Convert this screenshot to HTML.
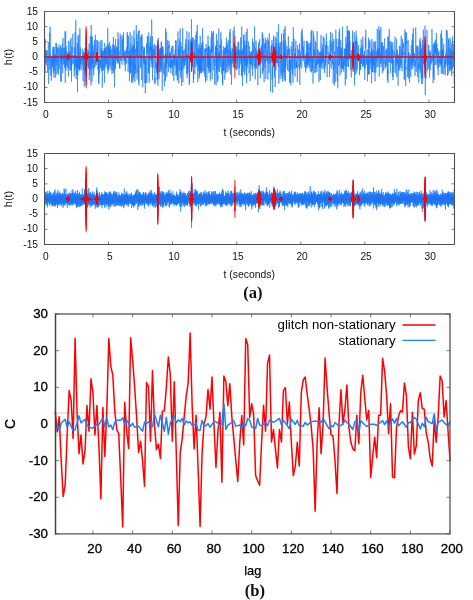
<!DOCTYPE html>
<html><head><meta charset="utf-8"><title>Figure</title>
<style>html,body{margin:0;padding:0;background:#fff;width:473px;height:600px;overflow:hidden}svg{display:block}</style>
</head><body>
<svg width="473" height="600" viewBox="0 0 473 600"><rect width="473" height="600" fill="#fff"/><polyline points="44.50,52.93 44.67,47.33 44.84,53.12 45.01,72.31 45.18,38.94 45.35,51.77 45.53,63.29 45.70,50.20 45.87,52.74 46.04,53.57 46.21,56.67 46.38,50.63 46.55,65.57 46.72,60.22 46.89,62.60 47.06,50.05 47.23,56.22 47.41,60.39 47.58,72.38 47.75,59.97 47.92,56.91 48.09,60.18 48.26,42.09 48.43,45.41 48.60,84.03 48.77,78.70 48.94,59.01 49.11,61.84 49.29,54.55 49.46,54.51 49.63,32.80 49.80,69.70 49.97,64.32 50.14,26.61 50.31,49.64 50.48,49.46 50.65,66.93 50.82,75.70 50.99,55.10 51.17,55.77 51.34,80.61 51.51,64.72 51.68,57.81 51.85,67.66 52.02,58.11 52.19,55.92 52.36,56.32 52.53,66.67 52.70,50.33 52.87,47.00 53.05,50.89 53.22,72.57 53.39,48.82 53.56,62.60 53.73,47.19 53.90,77.32 54.07,46.81 54.24,57.38 54.41,70.88 54.58,60.49 54.75,56.40 54.93,53.98 55.10,67.88 55.27,77.83 55.44,54.79 55.61,62.15 55.78,54.40 55.95,42.77 56.12,75.16 56.29,54.20 56.46,43.54 56.63,62.55 56.81,65.89 56.98,48.76 57.15,52.28 57.32,47.20 57.49,60.77 57.66,73.18 57.83,58.20 58.00,61.86 58.17,48.56 58.34,53.42 58.51,74.73 58.69,69.99 58.86,47.40 59.03,44.46 59.20,68.80 59.37,57.02 59.54,52.17 59.71,51.93 59.88,47.52 60.05,54.23 60.22,58.02 60.39,59.79 60.57,45.61 60.74,81.26 60.91,59.54 61.08,56.64 61.25,81.98 61.42,53.42 61.59,63.99 61.76,47.74 61.93,59.29 62.10,49.83 62.27,43.95 62.44,52.90 62.62,66.37 62.79,73.19 62.96,38.27 63.13,59.02 63.30,64.34 63.47,55.46 63.64,59.04 63.81,47.93 63.98,56.64 64.15,56.75 64.32,64.59 64.50,48.53 64.67,67.97 64.84,49.92 65.01,31.38 65.18,82.65 65.35,82.15 65.52,50.36 65.69,31.44 65.86,67.83 66.03,70.58 66.20,46.10 66.38,66.17 66.55,62.56 66.72,60.79 66.89,51.16 67.06,61.57 67.23,53.56 67.40,59.65 67.57,65.62 67.74,60.90 67.91,68.34 68.08,55.21 68.26,71.71 68.43,76.54 68.60,40.89 68.77,58.46 68.94,56.93 69.11,51.66 69.28,61.60 69.45,59.67 69.62,52.12 69.79,53.71 69.96,70.46 70.14,40.52 70.31,68.71 70.48,69.35 70.65,67.56 70.82,61.59 70.99,37.80 71.16,70.91 71.33,55.10 71.50,81.71 71.67,57.02 71.84,46.36 72.02,61.75 72.19,64.42 72.36,54.28 72.53,48.77 72.70,49.22 72.87,33.90 73.04,54.55 73.21,63.91 73.38,58.47 73.55,58.43 73.72,55.74 73.90,57.35 74.07,54.99 74.24,76.31 74.41,47.43 74.58,63.62 74.75,70.49 74.92,49.68 75.09,32.17 75.26,47.41 75.43,53.87 75.60,67.63 75.78,20.20 75.95,46.99 76.12,78.98 76.29,65.83 76.46,56.02 76.63,74.56 76.80,55.10 76.97,65.79 77.14,43.22 77.31,46.20 77.48,92.21 77.66,56.53 77.83,75.06 78.00,35.97 78.17,53.82 78.34,46.62 78.51,68.86 78.68,36.63 78.85,34.50 79.02,68.86 79.19,52.85 79.36,69.75 79.54,57.45 79.71,71.10 79.88,28.29 80.05,67.80 80.22,62.61 80.39,47.50 80.56,64.22 80.73,59.67 80.90,63.28 81.07,58.49 81.24,70.05 81.42,65.31 81.59,59.31 81.76,60.71 81.93,55.94 82.10,60.24 82.27,48.63 82.44,60.60 82.61,58.48 82.78,64.52 82.95,62.71 83.12,81.14 83.30,51.16 83.47,69.59 83.64,65.74 83.81,52.40 83.98,53.04 84.15,61.29 84.32,86.46 84.49,53.37 84.66,52.68 84.83,74.00 85.00,47.92 85.18,64.17 85.35,71.66 85.52,53.59 85.69,60.98 85.86,53.40 86.03,68.49 86.20,57.57 86.37,56.52 86.54,77.40 86.71,48.91 86.88,60.56 87.06,51.98 87.23,59.27 87.40,59.10 87.57,53.49 87.74,65.90 87.91,49.39 88.08,66.12 88.25,68.65 88.42,55.80 88.59,51.17 88.76,60.26 88.94,67.88 89.11,43.45 89.28,80.06 89.45,70.60 89.62,56.55 89.79,75.15 89.96,56.67 90.13,58.25 90.30,36.16 90.47,69.57 90.64,65.63 90.82,52.38 90.99,85.31 91.16,24.99 91.33,66.90 91.50,67.40 91.67,36.19 91.84,57.56 92.01,81.56 92.18,42.12 92.35,36.81 92.52,63.21 92.70,60.86 92.87,45.73 93.04,69.32 93.21,51.09 93.38,54.33 93.55,65.99 93.72,75.43 93.89,59.97 94.06,68.45 94.23,43.98 94.40,55.14 94.58,39.91 94.75,55.28 94.92,53.66 95.09,66.89 95.26,42.75 95.43,34.73 95.60,60.84 95.77,64.31 95.94,58.93 96.11,62.90 96.28,65.20 96.45,56.35 96.63,58.98 96.80,40.03 96.97,59.21 97.14,50.54 97.31,47.18 97.48,60.22 97.65,40.41 97.82,69.36 97.99,66.22 98.16,61.16 98.33,59.20 98.51,82.28 98.68,57.39 98.85,84.22 99.02,41.52 99.19,57.90 99.36,64.09 99.53,73.98 99.70,61.21 99.87,59.44 100.04,68.36 100.21,66.97 100.39,59.02 100.56,66.52 100.73,39.89 100.90,44.85 101.07,56.71 101.24,48.47 101.41,71.10 101.58,50.30 101.75,57.32 101.92,51.94 102.09,40.35 102.27,87.63 102.44,54.31 102.61,68.31 102.78,50.93 102.95,70.41 103.12,62.04 103.29,53.51 103.46,50.81 103.63,55.72 103.80,70.51 103.97,62.53 104.15,48.20 104.32,57.05 104.49,82.87 104.66,42.89 104.83,52.92 105.00,48.47 105.17,60.29 105.34,48.90 105.51,67.39 105.68,51.42 105.85,65.17 106.03,50.39 106.20,47.13 106.37,64.23 106.54,57.50 106.71,56.62 106.88,45.29 107.05,50.00 107.22,69.02 107.39,52.49 107.56,49.64 107.73,28.17 107.91,73.60 108.08,62.31 108.25,43.80 108.42,70.43 108.59,68.89 108.76,48.28 108.93,46.89 109.10,68.30 109.27,47.87 109.44,55.84 109.61,41.88 109.79,57.03 109.96,47.12 110.13,66.01 110.30,58.85 110.47,58.64 110.64,45.61 110.81,47.14 110.98,69.80 111.15,50.16 111.32,49.27 111.49,58.12 111.67,59.59 111.84,58.95 112.01,74.04 112.18,55.10 112.35,54.64 112.52,65.72 112.69,44.28 112.86,70.84 113.03,66.46 113.20,61.80 113.37,36.94 113.55,73.15 113.72,51.31 113.89,47.48 114.06,53.18 114.23,45.04 114.40,74.26 114.57,87.27 114.74,49.23 114.91,69.13 115.08,60.31 115.25,68.96 115.43,38.83 115.60,48.21 115.77,64.32 115.94,47.81 116.11,54.90 116.28,58.42 116.45,56.42 116.62,59.07 116.79,46.34 116.96,53.83 117.13,60.57 117.31,46.73 117.48,63.25 117.65,54.07 117.82,52.68 117.99,32.15 118.16,62.17 118.33,39.15 118.50,55.20 118.67,60.36 118.84,63.84 119.01,51.05 119.19,56.50 119.36,68.14 119.53,68.36 119.70,62.58 119.87,68.52 120.04,46.10 120.21,33.69 120.38,48.36 120.55,53.45 120.72,61.24 120.89,56.46 121.07,48.30 121.24,36.09 121.41,48.06 121.58,59.74 121.75,56.63 121.92,61.69 122.09,64.58 122.26,58.78 122.43,55.11 122.60,39.35 122.77,56.50 122.95,34.94 123.12,40.14 123.29,56.25 123.46,32.07 123.63,50.24 123.80,60.94 123.97,52.76 124.14,56.63 124.31,60.70 124.48,60.16 124.65,55.66 124.83,50.14 125.00,65.20 125.17,57.09 125.34,71.20 125.51,54.55 125.68,51.09 125.85,55.43 126.02,54.24 126.19,51.27 126.36,63.52 126.53,59.36 126.71,48.35 126.88,46.94 127.05,53.00 127.22,32.01 127.39,57.94 127.56,46.62 127.73,34.46 127.90,58.41 128.07,71.84 128.24,69.69 128.41,55.24 128.59,36.41 128.76,54.01 128.93,53.74 129.10,64.21 129.27,50.67 129.44,81.27 129.61,54.34 129.78,56.67 129.95,72.97 130.12,32.22 130.29,73.44 130.46,69.87 130.64,71.46 130.81,43.52 130.98,67.87 131.15,48.75 131.32,49.69 131.49,53.74 131.66,82.81 131.83,70.28 132.00,35.57 132.17,82.83 132.34,75.20 132.52,59.09 132.69,46.54 132.86,51.46 133.03,47.36 133.20,80.63 133.37,44.67 133.54,44.34 133.71,77.91 133.88,36.76 134.05,30.36 134.22,74.26 134.40,56.26 134.57,38.45 134.74,76.70 134.91,82.17 135.08,74.33 135.25,64.60 135.42,70.21 135.59,48.82 135.76,53.38 135.93,73.85 136.10,49.31 136.28,25.12 136.45,40.70 136.62,43.47 136.79,56.72 136.96,34.06 137.13,79.58 137.30,46.65 137.47,59.05 137.64,41.34 137.81,50.53 137.98,72.16 138.16,55.21 138.33,30.86 138.50,82.32 138.67,64.82 138.84,67.67 139.01,85.57 139.18,34.66 139.35,30.34 139.52,46.23 139.69,53.76 139.86,57.69 140.04,53.85 140.21,66.56 140.38,45.41 140.55,43.55 140.72,36.76 140.89,68.44 141.06,56.01 141.23,59.07 141.40,34.85 141.57,54.79 141.74,79.96 141.92,52.18 142.09,34.39 142.26,48.83 142.43,46.59 142.60,56.58 142.77,87.18 142.94,77.93 143.11,71.30 143.28,58.44 143.45,53.50 143.62,49.27 143.80,63.44 143.97,46.43 144.14,62.21 144.31,64.67 144.48,47.80 144.65,66.80 144.82,83.17 144.99,68.19 145.16,56.01 145.33,93.36 145.50,60.73 145.68,60.49 145.85,72.05 146.02,82.25 146.19,61.93 146.36,62.86 146.53,43.45 146.70,52.95 146.87,83.23 147.04,66.32 147.21,49.27 147.38,36.13 147.56,52.72 147.73,53.55 147.90,36.22 148.07,57.25 148.24,60.48 148.41,73.00 148.58,62.84 148.75,32.48 148.92,73.33 149.09,56.78 149.26,82.66 149.44,54.46 149.61,46.61 149.78,59.86 149.95,48.37 150.12,42.45 150.29,51.67 150.46,36.44 150.63,47.62 150.80,60.69 150.97,65.27 151.14,67.32 151.32,47.08 151.49,60.99 151.66,19.46 151.83,34.08 152.00,59.68 152.17,63.97 152.34,36.04 152.51,80.24 152.68,62.54 152.85,45.39 153.02,68.09 153.20,62.77 153.37,61.22 153.54,49.09 153.71,55.36 153.88,52.24 154.05,49.98 154.22,56.65 154.39,44.04 154.56,65.46 154.73,82.84 154.90,77.42 155.08,84.17 155.25,63.26 155.42,45.34 155.59,55.04 155.76,68.40 155.93,68.93 156.10,62.87 156.27,64.57 156.44,63.21 156.61,72.65 156.78,65.79 156.96,46.00 157.13,80.40 157.30,61.38 157.47,79.89 157.64,47.25 157.81,76.52 157.98,85.66 158.15,55.94 158.32,38.12 158.49,55.87 158.66,45.05 158.84,57.73 159.01,79.13 159.18,51.97 159.35,61.29 159.52,72.00 159.69,48.95 159.86,54.06 160.03,62.39 160.20,48.09 160.37,72.23 160.54,50.39 160.72,66.66 160.89,47.67 161.06,68.31 161.23,41.69 161.40,54.38 161.57,42.26 161.74,71.38 161.91,65.33 162.08,48.36 162.25,90.76 162.42,67.98 162.60,46.36 162.77,52.21 162.94,46.92 163.11,60.19 163.28,51.19 163.45,64.53 163.62,71.14 163.79,74.48 163.96,66.67 164.13,62.66 164.30,63.49 164.47,86.21 164.65,77.63 164.82,62.50 164.99,54.04 165.16,67.16 165.33,66.06 165.50,80.84 165.67,28.29 165.84,68.30 166.01,39.78 166.18,31.62 166.35,54.22 166.53,66.86 166.70,55.67 166.87,76.72 167.04,52.55 167.21,56.95 167.38,51.70 167.55,40.95 167.72,39.84 167.89,63.51 168.06,46.74 168.23,64.76 168.41,71.86 168.58,63.02 168.75,66.53 168.92,40.87 169.09,48.09 169.26,44.77 169.43,57.24 169.60,54.38 169.77,66.36 169.94,67.92 170.11,52.77 170.29,54.47 170.46,67.40 170.63,51.52 170.80,73.26 170.97,59.83 171.14,62.85 171.31,61.89 171.48,66.98 171.65,48.25 171.82,51.82 171.99,46.20 172.17,54.98 172.34,68.85 172.51,60.48 172.68,75.68 172.85,52.86 173.02,45.83 173.19,54.04 173.36,62.77 173.53,63.17 173.70,55.19 173.87,80.73 174.05,55.71 174.22,53.99 174.39,66.25 174.56,61.24 174.73,55.49 174.90,65.27 175.07,65.33 175.24,49.43 175.41,54.96 175.58,40.30 175.75,67.20 175.93,75.32 176.10,47.61 176.27,40.68 176.44,64.87 176.61,72.50 176.78,57.75 176.95,75.65 177.12,60.89 177.29,80.44 177.46,59.86 177.63,80.04 177.81,61.92 177.98,31.51 178.15,60.27 178.32,48.96 178.49,64.44 178.66,67.26 178.83,83.15 179.00,45.82 179.17,58.09 179.34,39.20 179.51,70.77 179.69,62.11 179.86,56.30 180.03,41.37 180.20,28.58 180.37,65.00 180.54,70.65 180.71,77.71 180.88,41.98 181.05,59.70 181.22,70.93 181.39,58.20 181.57,83.91 181.74,85.92 181.91,46.45 182.08,52.88 182.25,55.82 182.42,69.72 182.59,50.51 182.76,28.16 182.93,82.17 183.10,57.47 183.27,63.01 183.45,50.53 183.62,57.49 183.79,59.50 183.96,68.71 184.13,57.87 184.30,65.43 184.47,61.31 184.64,58.49 184.81,49.34 184.98,65.15 185.15,65.25 185.33,43.86 185.50,60.53 185.67,61.11 185.84,39.08 186.01,54.16 186.18,56.52 186.35,54.84 186.52,73.83 186.69,47.97 186.86,31.16 187.03,50.10 187.21,77.91 187.38,53.94 187.55,69.41 187.72,60.56 187.89,55.91 188.06,73.11 188.23,40.17 188.40,58.45 188.57,47.22 188.74,49.27 188.91,40.01 189.09,32.23 189.26,84.97 189.43,56.94 189.60,82.89 189.77,63.30 189.94,48.19 190.11,45.45 190.28,40.82 190.45,62.22 190.62,53.05 190.79,57.22 190.97,38.86 191.14,39.49 191.31,63.03 191.48,19.28 191.65,70.05 191.82,53.03 191.99,47.84 192.16,39.96 192.33,49.94 192.50,66.56 192.67,37.70 192.85,56.90 193.02,37.39 193.19,39.34 193.36,82.96 193.53,69.91 193.70,79.34 193.87,52.06 194.04,56.59 194.21,51.64 194.38,67.59 194.55,51.83 194.73,39.47 194.90,74.10 195.07,59.69 195.24,54.10 195.41,58.84 195.58,59.68 195.75,35.12 195.92,41.21 196.09,46.64 196.26,66.64 196.43,31.42 196.61,52.73 196.78,64.31 196.95,61.33 197.12,63.19 197.29,24.91 197.46,54.67 197.63,56.40 197.80,82.10 197.97,48.22 198.14,69.97 198.31,70.80 198.48,49.78 198.66,67.54 198.83,47.13 199.00,43.73 199.17,78.52 199.34,58.78 199.51,75.85 199.68,58.51 199.85,46.37 200.02,73.24 200.19,35.95 200.36,60.81 200.54,71.02 200.71,58.63 200.88,47.95 201.05,73.19 201.22,57.17 201.39,73.08 201.56,43.30 201.73,55.41 201.90,62.08 202.07,45.34 202.24,71.93 202.42,64.98 202.59,28.31 202.76,58.62 202.93,41.86 203.10,55.02 203.27,70.78 203.44,59.99 203.61,56.36 203.78,61.81 203.95,66.42 204.12,72.18 204.30,73.70 204.47,56.01 204.64,52.89 204.81,48.99 204.98,77.09 205.15,48.40 205.32,57.43 205.49,82.32 205.66,56.17 205.83,48.39 206.00,51.54 206.18,43.89 206.35,46.83 206.52,47.33 206.69,57.64 206.86,80.50 207.03,65.76 207.20,53.23 207.37,66.44 207.54,49.45 207.71,48.13 207.88,56.69 208.06,35.57 208.23,68.52 208.40,46.41 208.57,66.78 208.74,72.97 208.91,45.60 209.08,64.53 209.25,47.02 209.42,71.17 209.59,56.81 209.76,67.40 209.94,60.08 210.11,61.76 210.28,80.84 210.45,49.19 210.62,72.59 210.79,69.37 210.96,46.14 211.13,36.72 211.30,48.85 211.47,52.94 211.64,30.99 211.82,72.62 211.99,73.53 212.16,79.07 212.33,45.63 212.50,51.03 212.67,32.85 212.84,44.57 213.01,62.35 213.18,67.90 213.35,70.18 213.52,30.94 213.70,44.52 213.87,44.11 214.04,61.66 214.21,59.81 214.38,61.74 214.55,64.61 214.72,84.37 214.89,58.01 215.06,65.97 215.23,53.34 215.40,54.40 215.58,45.80 215.75,57.63 215.92,46.52 216.09,85.38 216.26,71.99 216.43,33.97 216.60,73.63 216.77,60.96 216.94,47.63 217.11,69.15 217.28,40.66 217.46,76.60 217.63,82.06 217.80,75.32 217.97,79.78 218.14,57.44 218.31,61.55 218.48,52.69 218.65,71.43 218.82,28.51 218.99,58.51 219.16,57.83 219.34,50.91 219.51,60.52 219.68,71.89 219.85,56.03 220.02,44.91 220.19,48.36 220.36,44.79 220.53,64.55 220.70,67.22 220.87,32.20 221.04,60.21 221.22,51.10 221.39,41.49 221.56,39.43 221.73,73.87 221.90,63.04 222.07,62.43 222.24,60.79 222.41,83.20 222.58,58.28 222.75,85.30 222.92,51.27 223.10,50.87 223.27,50.21 223.44,70.93 223.61,46.25 223.78,66.87 223.95,70.86 224.12,68.01 224.29,66.46 224.46,53.96 224.63,48.13 224.80,79.75 224.98,62.88 225.15,47.51 225.32,54.93 225.49,51.75 225.66,72.62 225.83,47.23 226.00,73.06 226.17,55.05 226.34,42.98 226.51,37.58 226.68,51.70 226.86,41.42 227.03,67.75 227.20,62.04 227.37,44.72 227.54,56.98 227.71,58.35 227.88,71.95 228.05,55.40 228.22,50.11 228.39,65.50 228.56,62.44 228.74,39.98 228.91,55.07 229.08,60.13 229.25,69.36 229.42,63.76 229.59,59.73 229.76,32.22 229.93,63.72 230.10,28.97 230.27,74.49 230.44,60.97 230.62,47.60 230.79,59.69 230.96,66.31 231.13,58.48 231.30,51.93 231.47,84.77 231.64,59.82 231.81,59.12 231.98,61.62 232.15,48.57 232.32,63.54 232.49,61.21 232.67,56.56 232.84,48.56 233.01,59.56 233.18,30.52 233.35,67.48 233.52,42.16 233.69,66.88 233.86,58.88 234.03,52.81 234.20,26.39 234.37,46.72 234.55,61.65 234.72,42.12 234.89,69.26 235.06,66.02 235.23,51.88 235.40,55.92 235.57,46.13 235.74,63.26 235.91,49.62 236.08,49.79 236.25,53.84 236.43,57.56 236.60,70.44 236.77,46.77 236.94,55.45 237.11,51.39 237.28,63.73 237.45,56.75 237.62,68.69 237.79,56.04 237.96,42.37 238.13,55.96 238.31,47.36 238.48,53.49 238.65,41.72 238.82,59.13 238.99,75.32 239.16,52.17 239.33,60.13 239.50,67.86 239.67,49.76 239.84,54.07 240.01,52.07 240.19,60.68 240.36,54.82 240.53,54.20 240.70,37.48 240.87,64.51 241.04,57.20 241.21,50.23 241.38,75.84 241.55,74.48 241.72,26.41 241.89,76.20 242.07,50.77 242.24,66.18 242.41,65.25 242.58,86.10 242.75,66.70 242.92,48.57 243.09,71.90 243.26,50.62 243.43,53.65 243.60,35.47 243.77,62.05 243.95,34.17 244.12,47.57 244.29,60.04 244.46,74.58 244.63,41.07 244.80,71.37 244.97,65.46 245.14,47.73 245.31,45.31 245.48,65.84 245.65,57.33 245.83,59.69 246.00,44.71 246.17,32.04 246.34,75.97 246.51,40.88 246.68,83.37 246.85,56.75 247.02,68.42 247.19,28.51 247.36,55.29 247.53,64.55 247.71,62.11 247.88,62.88 248.05,55.08 248.22,58.61 248.39,50.33 248.56,41.37 248.73,49.89 248.90,69.40 249.07,73.40 249.24,69.95 249.41,46.40 249.59,60.37 249.76,63.70 249.93,55.61 250.10,81.07 250.27,76.34 250.44,51.91 250.61,60.02 250.78,64.66 250.95,53.85 251.12,62.79 251.29,63.79 251.47,64.72 251.64,51.06 251.81,56.41 251.98,68.74 252.15,59.97 252.32,50.65 252.49,38.71 252.66,75.96 252.83,53.70 253.00,59.52 253.17,48.94 253.35,52.61 253.52,42.60 253.69,48.35 253.86,62.34 254.03,65.98 254.20,53.02 254.37,53.12 254.54,26.39 254.71,31.21 254.88,68.58 255.05,53.54 255.23,79.37 255.40,73.38 255.57,49.63 255.74,47.70 255.91,67.31 256.08,40.67 256.25,66.72 256.42,68.63 256.59,50.50 256.76,54.77 256.93,58.64 257.11,58.11 257.28,53.13 257.45,58.68 257.62,58.14 257.79,85.29 257.96,70.02 258.13,50.16 258.30,66.61 258.47,43.52 258.64,48.77 258.81,58.54 258.99,50.26 259.16,41.60 259.33,42.80 259.50,43.99 259.67,39.20 259.84,48.06 260.01,61.27 260.18,62.55 260.35,78.33 260.52,51.39 260.69,51.95 260.87,59.24 261.04,47.84 261.21,63.47 261.38,45.34 261.55,56.57 261.72,57.40 261.89,56.99 262.06,58.05 262.23,31.87 262.40,74.16 262.57,55.11 262.75,34.35 262.92,49.29 263.09,60.25 263.26,38.20 263.43,68.58 263.60,71.19 263.77,50.81 263.94,72.89 264.11,81.98 264.28,47.30 264.45,48.61 264.63,43.24 264.80,62.40 264.97,54.97 265.14,67.76 265.31,37.60 265.48,48.13 265.65,42.81 265.82,79.00 265.99,47.87 266.16,40.05 266.33,43.17 266.51,48.02 266.68,57.01 266.85,60.89 267.02,50.15 267.19,52.64 267.36,52.42 267.53,60.53 267.70,37.81 267.87,79.67 268.04,57.26 268.21,63.63 268.38,45.20 268.56,40.64 268.73,42.76 268.90,48.35 269.07,73.07 269.24,33.15 269.41,46.93 269.58,58.24 269.75,56.75 269.92,63.63 270.09,52.13 270.26,53.44 270.44,61.14 270.61,91.66 270.78,57.40 270.95,51.52 271.12,46.69 271.29,60.01 271.46,48.14 271.63,45.06 271.80,62.59 271.97,39.86 272.14,79.67 272.32,71.89 272.49,66.39 272.66,92.60 272.83,74.69 273.00,43.38 273.17,44.36 273.34,51.07 273.51,35.66 273.68,48.26 273.85,64.96 274.02,55.29 274.20,51.37 274.37,50.87 274.54,77.31 274.71,47.43 274.88,64.06 275.05,36.64 275.22,87.04 275.39,59.79 275.56,56.04 275.73,46.97 275.90,70.41 276.08,38.29 276.25,51.22 276.42,63.10 276.59,43.04 276.76,55.79 276.93,43.72 277.10,31.77 277.27,48.19 277.44,63.04 277.61,61.88 277.78,50.32 277.96,53.70 278.13,66.54 278.30,64.65 278.47,49.38 278.64,24.19 278.81,83.59 278.98,42.93 279.15,59.41 279.32,48.10 279.49,47.08 279.66,56.01 279.84,68.52 280.01,73.14 280.18,78.64 280.35,42.36 280.52,62.22 280.69,62.01 280.86,61.02 281.03,72.84 281.20,52.62 281.37,42.30 281.54,33.58 281.72,75.76 281.89,40.75 282.06,72.51 282.23,79.98 282.40,81.63 282.57,68.69 282.74,57.08 282.91,78.36 283.08,75.45 283.25,60.24 283.42,33.33 283.60,71.74 283.77,51.25 283.94,56.01 284.11,29.18 284.28,80.76 284.45,43.24 284.62,73.15 284.79,64.49 284.96,59.09 285.13,26.21 285.30,66.75 285.48,81.23 285.65,40.30 285.82,67.84 285.99,60.15 286.16,57.31 286.33,55.73 286.50,59.22 286.67,53.52 286.84,48.49 287.01,46.04 287.18,62.45 287.36,66.50 287.53,70.41 287.70,49.57 287.87,57.58 288.04,50.15 288.21,50.37 288.38,36.37 288.55,54.48 288.72,47.90 288.89,71.45 289.06,69.90 289.24,60.70 289.41,71.36 289.58,48.91 289.75,82.13 289.92,56.21 290.09,82.89 290.26,78.51 290.43,60.86 290.60,59.93 290.77,85.26 290.94,55.79 291.12,46.17 291.29,49.84 291.46,64.23 291.63,67.90 291.80,69.87 291.97,50.21 292.14,41.55 292.31,62.60 292.48,74.98 292.65,54.89 292.82,49.59 293.00,82.89 293.17,55.57 293.34,27.26 293.51,42.63 293.68,51.34 293.85,49.99 294.02,38.51 294.19,66.62 294.36,65.63 294.53,52.85 294.70,68.85 294.88,54.37 295.05,76.39 295.22,49.33 295.39,48.44 295.56,56.56 295.73,54.19 295.90,40.71 296.07,67.87 296.24,66.14 296.41,67.94 296.58,61.24 296.76,67.07 296.93,56.63 297.10,63.46 297.27,81.33 297.44,81.99 297.61,45.03 297.78,57.68 297.95,59.24 298.12,56.74 298.29,58.37 298.46,49.60 298.64,51.50 298.81,66.78 298.98,65.02 299.15,67.57 299.32,69.14 299.49,43.41 299.66,72.07 299.83,84.82 300.00,65.14 300.17,64.61 300.34,53.82 300.52,65.55 300.69,51.84 300.86,53.25 301.03,44.76 301.20,36.06 301.37,31.42 301.54,34.79 301.71,68.22 301.88,60.91 302.05,54.60 302.22,28.83 302.39,50.45 302.57,37.19 302.74,58.68 302.91,51.28 303.08,50.04 303.25,61.42 303.42,49.46 303.59,46.62 303.76,58.54 303.93,47.12 304.10,41.01 304.27,56.36 304.45,57.00 304.62,60.01 304.79,67.23 304.96,55.48 305.13,63.80 305.30,62.16 305.47,64.52 305.64,71.94 305.81,72.50 305.98,53.80 306.15,68.52 306.33,63.31 306.50,41.01 306.67,46.02 306.84,63.79 307.01,51.06 307.18,67.94 307.35,40.82 307.52,62.85 307.69,56.18 307.86,43.04 308.03,65.39 308.21,43.72 308.38,65.36 308.55,52.84 308.72,60.05 308.89,58.56 309.06,55.33 309.23,57.78 309.40,67.71 309.57,47.83 309.74,49.34 309.91,43.22 310.09,42.13 310.26,71.50 310.43,43.07 310.60,42.87 310.77,62.82 310.94,45.59 311.11,31.41 311.28,62.98 311.45,72.38 311.62,61.03 311.79,29.86 311.97,52.45 312.14,70.81 312.31,59.89 312.48,68.41 312.65,61.61 312.82,55.90 312.99,83.50 313.16,52.78 313.33,31.13 313.50,59.32 313.67,61.48 313.85,35.30 314.02,71.74 314.19,71.46 314.36,73.09 314.53,60.09 314.70,49.29 314.87,58.04 315.04,50.71 315.21,40.89 315.38,51.35 315.55,72.59 315.73,62.16 315.90,42.92 316.07,68.77 316.24,61.83 316.41,64.93 316.58,59.01 316.75,68.96 316.92,71.96 317.09,31.14 317.26,46.57 317.43,64.83 317.61,58.10 317.78,49.60 317.95,60.75 318.12,50.30 318.29,63.67 318.46,63.59 318.63,57.91 318.80,61.92 318.97,82.07 319.14,56.77 319.31,54.21 319.49,51.94 319.66,67.53 319.83,53.36 320.00,53.14 320.17,75.57 320.34,80.04 320.51,52.03 320.68,66.92 320.85,46.62 321.02,34.90 321.19,63.00 321.37,64.07 321.54,57.12 321.71,50.13 321.88,68.53 322.05,44.40 322.22,47.01 322.39,50.36 322.56,62.41 322.73,47.86 322.90,48.47 323.07,68.90 323.25,36.35 323.42,59.96 323.59,53.38 323.76,62.13 323.93,53.25 324.10,37.85 324.27,64.82 324.44,72.97 324.61,61.33 324.78,69.51 324.95,64.24 325.13,58.20 325.30,57.61 325.47,44.80 325.64,66.56 325.81,53.69 325.98,61.75 326.15,44.27 326.32,33.51 326.49,54.19 326.66,41.54 326.83,61.89 327.01,71.87 327.18,77.24 327.35,71.91 327.52,66.09 327.69,59.30 327.86,45.88 328.03,50.18 328.20,52.44 328.37,61.20 328.54,64.20 328.71,56.66 328.89,55.68 329.06,52.31 329.23,53.59 329.40,58.73 329.57,76.89 329.74,69.92 329.91,63.99 330.08,40.37 330.25,60.96 330.42,49.48 330.59,32.01 330.77,52.95 330.94,61.54 331.11,60.26 331.28,68.56 331.45,53.51 331.62,44.03 331.79,50.40 331.96,41.69 332.13,42.64 332.30,33.23 332.47,64.58 332.65,55.10 332.82,48.43 332.99,41.73 333.16,83.54 333.33,63.49 333.50,61.44 333.67,69.93 333.84,38.89 334.01,54.24 334.18,62.00 334.35,85.60 334.53,82.95 334.70,69.48 334.87,51.23 335.04,72.49 335.21,82.09 335.38,75.51 335.55,64.55 335.72,35.62 335.89,29.63 336.06,67.49 336.23,44.89 336.40,38.99 336.58,40.47 336.75,59.56 336.92,73.81 337.09,67.73 337.26,81.10 337.43,53.91 337.60,46.91 337.77,88.30 337.94,57.67 338.11,53.19 338.28,40.69 338.46,38.97 338.63,39.16 338.80,66.01 338.97,61.84 339.14,31.67 339.31,64.98 339.48,57.56 339.65,28.42 339.82,55.31 339.99,75.21 340.16,63.67 340.34,48.53 340.51,59.51 340.68,41.73 340.85,40.20 341.02,65.50 341.19,68.13 341.36,58.35 341.53,72.51 341.70,48.74 341.87,59.31 342.04,46.98 342.22,64.63 342.39,68.15 342.56,26.66 342.73,68.06 342.90,69.47 343.07,66.14 343.24,60.79 343.41,68.35 343.58,57.56 343.75,71.74 343.92,62.11 344.10,52.57 344.27,48.47 344.44,51.34 344.61,65.89 344.78,48.88 344.95,58.44 345.12,58.27 345.29,85.49 345.46,49.05 345.63,58.65 345.80,36.93 345.98,49.50 346.15,79.16 346.32,72.96 346.49,43.66 346.66,67.10 346.83,49.13 347.00,60.45 347.17,26.00 347.34,55.43 347.51,30.56 347.68,41.61 347.86,66.06 348.03,63.41 348.20,30.70 348.37,56.86 348.54,67.00 348.71,42.88 348.88,30.39 349.05,57.47 349.22,31.17 349.39,58.64 349.56,31.43 349.74,59.48 349.91,40.97 350.08,50.20 350.25,58.73 350.42,53.74 350.59,67.06 350.76,69.81 350.93,68.98 351.10,57.10 351.27,77.35 351.44,51.13 351.62,49.99 351.79,50.72 351.96,62.13 352.13,55.72 352.30,56.54 352.47,30.55 352.64,67.47 352.81,58.07 352.98,64.41 353.15,57.23 353.32,60.48 353.50,66.46 353.67,42.26 353.84,64.50 354.01,45.13 354.18,32.29 354.35,41.12 354.52,85.42 354.69,47.14 354.86,50.62 355.03,49.89 355.20,74.85 355.38,40.91 355.55,68.54 355.72,41.64 355.89,44.23 356.06,30.79 356.23,60.53 356.40,73.02 356.57,36.33 356.74,39.69 356.91,60.43 357.08,41.74 357.26,49.01 357.43,69.88 357.60,60.23 357.77,60.87 357.94,56.96 358.11,56.28 358.28,60.60 358.45,60.72 358.62,45.16 358.79,56.48 358.96,59.89 359.14,59.01 359.31,57.50 359.48,75.20 359.65,54.84 359.82,66.39 359.99,55.39 360.16,70.52 360.33,47.65 360.50,52.20 360.67,69.25 360.84,54.17 361.02,63.64 361.19,39.33 361.36,51.76 361.53,63.98 361.70,52.38 361.87,56.72 362.04,45.04 362.21,53.01 362.38,47.69 362.55,67.00 362.72,48.87 362.90,36.52 363.07,50.33 363.24,56.74 363.41,54.81 363.58,65.40 363.75,54.60 363.92,66.78 364.09,55.94 364.26,60.04 364.43,64.23 364.60,50.85 364.78,79.90 364.95,56.73 365.12,68.91 365.29,39.00 365.46,37.63 365.63,48.32 365.80,29.77 365.97,46.33 366.14,51.21 366.31,62.74 366.48,64.83 366.66,55.14 366.83,61.43 367.00,60.50 367.17,49.44 367.34,57.57 367.51,81.29 367.68,58.44 367.85,68.46 368.02,60.78 368.19,74.13 368.36,44.59 368.54,37.60 368.71,74.62 368.88,49.90 369.05,50.38 369.22,74.25 369.39,55.33 369.56,42.04 369.73,47.72 369.90,39.77 370.07,68.40 370.24,69.04 370.41,53.34 370.59,52.67 370.76,56.12 370.93,62.89 371.10,60.74 371.27,62.87 371.44,47.79 371.61,83.19 371.78,39.15 371.95,65.76 372.12,72.03 372.29,50.48 372.47,71.92 372.64,52.19 372.81,60.93 372.98,49.88 373.15,47.62 373.32,41.89 373.49,65.69 373.66,59.82 373.83,56.66 374.00,72.72 374.17,49.75 374.35,55.07 374.52,71.90 374.69,42.69 374.86,40.92 375.03,81.53 375.20,50.02 375.37,42.24 375.54,46.95 375.71,67.83 375.88,72.61 376.05,57.92 376.23,62.30 376.40,56.71 376.57,57.80 376.74,50.58 376.91,67.31 377.08,58.50 377.25,28.67 377.42,58.94 377.59,48.20 377.76,50.80 377.93,54.17 378.11,67.15 378.28,50.63 378.45,57.29 378.62,47.31 378.79,26.21 378.96,54.59 379.13,47.96 379.30,76.52 379.47,54.24 379.64,30.12 379.81,57.42 379.99,64.06 380.16,52.51 380.33,60.16 380.50,61.26 380.67,61.03 380.84,26.75 381.01,66.74 381.18,61.48 381.35,63.27 381.52,42.57 381.69,59.93 381.87,41.88 382.04,54.86 382.21,57.02 382.38,73.35 382.55,43.01 382.72,50.63 382.89,48.80 383.06,58.09 383.23,64.59 383.40,71.06 383.57,46.11 383.75,53.74 383.92,60.80 384.09,63.84 384.26,55.46 384.43,57.78 384.60,38.39 384.77,48.12 384.94,63.41 385.11,69.08 385.28,59.39 385.45,66.89 385.63,55.16 385.80,52.28 385.97,49.71 386.14,52.14 386.31,58.84 386.48,50.11 386.65,66.52 386.82,57.99 386.99,47.78 387.16,53.55 387.33,80.19 387.51,69.36 387.68,74.39 387.85,36.92 388.02,82.88 388.19,58.18 388.36,36.56 388.53,44.87 388.70,42.24 388.87,62.11 389.04,48.57 389.21,28.98 389.39,57.04 389.56,52.12 389.73,62.23 389.90,56.77 390.07,49.43 390.24,41.49 390.41,73.05 390.58,72.19 390.75,55.87 390.92,54.37 391.09,41.23 391.27,43.04 391.44,63.40 391.61,50.43 391.78,44.46 391.95,53.49 392.12,62.61 392.29,49.25 392.46,60.46 392.63,76.90 392.80,42.15 392.97,80.16 393.15,60.26 393.32,60.06 393.49,60.27 393.66,59.73 393.83,72.27 394.00,50.96 394.17,56.37 394.34,56.25 394.51,45.10 394.68,44.81 394.85,42.25 395.03,36.76 395.20,51.82 395.37,73.24 395.54,54.41 395.71,56.56 395.88,55.96 396.05,63.13 396.22,66.21 396.39,48.19 396.56,38.89 396.73,76.76 396.91,50.95 397.08,58.50 397.25,63.50 397.42,49.44 397.59,57.25 397.76,62.58 397.93,56.12 398.10,85.73 398.27,62.99 398.44,61.38 398.61,71.49 398.79,54.90 398.96,53.95 399.13,67.40 399.30,59.71 399.47,49.76 399.64,45.72 399.81,70.25 399.98,53.30 400.15,46.03 400.32,57.18 400.49,64.92 400.67,64.87 400.84,60.27 401.01,67.77 401.18,35.62 401.35,63.00 401.52,52.89 401.69,54.97 401.86,50.04 402.03,61.17 402.20,71.25 402.37,38.86 402.55,57.86 402.72,55.69 402.89,54.74 403.06,42.69 403.23,48.22 403.40,43.51 403.57,47.49 403.74,55.21 403.91,51.92 404.08,65.74 404.25,79.97 404.42,59.84 404.60,78.87 404.77,29.93 404.94,29.54 405.11,32.69 405.28,63.76 405.45,32.23 405.62,86.00 405.79,81.86 405.96,66.84 406.13,69.16 406.30,54.08 406.48,54.48 406.65,32.54 406.82,43.98 406.99,40.96 407.16,51.45 407.33,60.29 407.50,66.12 407.67,76.94 407.84,68.40 408.01,61.95 408.18,40.17 408.36,78.66 408.53,74.42 408.70,52.24 408.87,70.19 409.04,52.79 409.21,62.09 409.38,66.25 409.55,82.64 409.72,58.12 409.89,65.78 410.06,64.33 410.24,64.57 410.41,54.78 410.58,55.25 410.75,76.96 410.92,58.86 411.09,52.42 411.26,45.14 411.43,48.12 411.60,54.64 411.77,69.77 411.94,65.54 412.12,39.87 412.29,64.68 412.46,45.85 412.63,33.63 412.80,68.38 412.97,49.03 413.14,58.18 413.31,27.97 413.48,48.27 413.65,62.28 413.82,52.82 414.00,66.36 414.17,58.53 414.34,53.46 414.51,55.48 414.68,53.86 414.85,66.27 415.02,75.97 415.19,60.72 415.36,66.18 415.53,64.22 415.70,27.43 415.88,36.53 416.05,58.81 416.22,71.90 416.39,70.53 416.56,50.59 416.73,45.81 416.90,60.03 417.07,55.58 417.24,54.32 417.41,45.74 417.58,76.90 417.76,55.35 417.93,52.69 418.10,46.88 418.27,52.77 418.44,68.78 418.61,63.23 418.78,82.70 418.95,54.92 419.12,54.92 419.29,51.46 419.46,67.52 419.64,69.39 419.81,40.38 419.98,53.62 420.15,37.90 420.32,52.18 420.49,73.06 420.66,48.13 420.83,43.37 421.00,61.99 421.17,78.38 421.34,49.58 421.52,59.67 421.69,53.88 421.86,83.67 422.03,48.21 422.20,84.05 422.37,66.88 422.54,39.78 422.71,77.93 422.88,78.46 423.05,62.20 423.22,37.90 423.40,29.65 423.57,64.11 423.74,45.28 423.91,50.15 424.08,54.12 424.25,52.29 424.42,66.35 424.59,47.18 424.76,43.01 424.93,27.41 425.10,25.69 425.28,95.24 425.45,70.71 425.62,51.97 425.79,57.49 425.96,79.09 426.13,59.06 426.30,61.45 426.47,57.65 426.64,58.60 426.81,45.55 426.98,29.99 427.16,48.45 427.33,71.09 427.50,68.01 427.67,65.46 427.84,57.77 428.01,62.40 428.18,61.41 428.35,68.47 428.52,45.38 428.69,46.65 428.86,45.46 429.04,58.02 429.21,51.59 429.38,67.90 429.55,77.45 429.72,63.44 429.89,50.20 430.06,58.77 430.23,70.23 430.40,55.97 430.57,52.21 430.74,55.18 430.92,64.53 431.09,56.31 431.26,61.71 431.43,63.16 431.60,58.01 431.77,48.80 431.94,28.99 432.11,40.22 432.28,50.29 432.45,61.27 432.62,60.28 432.80,59.81 432.97,44.98 433.14,83.04 433.31,54.34 433.48,77.42 433.65,57.04 433.82,43.60 433.99,66.16 434.16,79.81 434.33,44.12 434.50,41.99 434.68,52.01 434.85,44.40 435.02,65.08 435.19,45.15 435.36,39.75 435.53,45.92 435.70,54.13 435.87,43.84 436.04,45.35 436.21,64.73 436.38,33.04 436.56,49.26 436.73,55.34 436.90,43.35 437.07,47.27 437.24,49.13 437.41,62.38 437.58,48.15 437.75,68.82 437.92,59.30 438.09,75.18 438.26,75.36 438.43,52.21 438.61,58.51 438.78,56.08 438.95,50.53 439.12,53.16 439.29,66.76 439.46,56.19 439.63,57.74 439.80,62.78 439.97,59.36 440.14,63.96 440.31,64.30 440.49,60.77 440.66,54.34 440.83,33.55 441.00,66.32 441.17,51.04 441.34,73.67 441.51,30.12 441.68,63.45 441.85,54.31 442.02,42.48 442.19,37.93 442.37,73.93 442.54,50.70 442.71,59.58 442.88,49.99 443.05,55.28 443.22,48.68 443.39,53.70 443.56,58.58 443.73,43.72 443.90,74.40 444.07,65.29 444.25,67.75 444.42,58.62 444.59,65.21 444.76,58.66 444.93,62.50 445.10,62.26 445.27,75.41 445.44,57.42 445.61,53.55 445.78,63.66 445.95,64.33 446.13,64.19 446.30,29.71 446.47,53.44 446.64,49.66 446.81,62.68 446.98,62.55 447.15,66.75 447.32,30.81 447.49,75.85 447.66,53.68 447.83,57.27 448.01,59.84 448.18,74.43 448.35,70.77 448.52,38.35 448.69,64.77 448.86,40.22 449.03,49.46 449.20,50.47 449.37,48.39 449.54,70.71 449.71,62.38 449.89,49.28 450.06,71.40 450.23,37.97 450.40,63.41 450.57,58.26 450.74,68.80 450.91,49.83 451.08,65.48 451.25,59.81 451.42,70.22 451.59,43.13 451.77,76.04 451.94,51.73 452.11,54.22 452.28,51.86 452.45,69.01 452.62,36.27 452.79,45.60 452.96,55.11 453.13,53.29 453.30,60.18 453.47,43.96 453.65,66.82 453.82,50.35 453.99,52.12 454.16,73.97 454.33,84.22 454.50,58.42" fill="none" stroke="#1478ff" stroke-width="0.6"/>
<line x1="44.5" y1="57.00" x2="454.5" y2="57.00" stroke="#ff0000" stroke-width="1.6"/>
<polyline points="66.51,56.98 66.53,56.99 66.54,57.02 66.55,57.02 66.57,56.99 66.58,56.97 66.60,56.99 66.61,57.02 66.63,57.03 66.64,56.99 66.65,56.96 66.67,56.98 66.68,57.03 66.70,57.05 66.71,56.99 66.72,56.94 66.74,56.97 66.75,57.05 66.77,57.07 66.78,56.99 66.79,56.92 66.81,56.95 66.82,57.06 66.84,57.10 66.85,56.99 66.87,56.89 66.88,56.93 66.89,57.08 66.91,57.13 66.92,56.99 66.94,56.85 66.95,56.90 66.96,57.11 66.98,57.18 66.99,57.00 67.01,56.80 67.02,56.86 67.04,57.14 67.05,57.25 67.06,57.01 67.08,56.73 67.09,56.81 67.11,57.17 67.12,57.32 67.13,57.03 67.15,56.66 67.16,56.74 67.18,57.21 67.19,57.42 67.21,57.05 67.22,56.57 67.23,56.66 67.25,57.25 67.26,57.53 67.28,57.08 67.29,56.47 67.30,56.56 67.32,57.29 67.33,57.67 67.35,57.13 67.36,56.36 67.38,56.44 67.39,57.33 67.40,57.82 67.42,57.19 67.43,56.24 67.45,56.30 67.46,57.36 67.47,57.99 67.49,57.26 67.50,56.11 67.52,56.14 67.53,57.39 67.55,58.17 67.56,57.35 67.57,55.99 67.59,55.97 67.60,57.40 67.62,58.35 67.63,57.45 67.64,55.86 67.66,55.79 67.67,57.41 67.69,58.54 67.70,57.57 67.71,55.75 67.73,55.60 67.74,57.40 67.76,58.73 67.77,57.70 67.79,55.65 67.80,55.40 67.81,57.38 67.83,58.90 67.84,57.83 67.86,55.57 67.87,55.22 67.88,57.34 67.90,59.05 67.91,57.97 67.93,55.51 67.94,55.05 67.96,57.28 67.97,59.17 67.98,58.10 68.00,55.48 68.01,54.91 68.03,57.21 68.04,59.26 68.05,58.22 68.07,55.49 68.08,54.80 68.10,57.13 68.11,59.31 68.13,58.33 68.14,55.52 68.15,54.72 68.17,57.04 68.18,59.31 68.20,58.42 68.21,55.58 68.22,54.69 68.24,56.96 68.25,59.28 68.27,58.48 68.28,55.67 68.30,54.69 68.31,56.87 68.32,59.20 68.34,58.51 68.35,55.78 68.37,54.74 68.38,56.79 68.39,59.09 68.41,58.52 68.42,55.90 68.44,54.83 68.45,56.72 68.46,58.95 68.48,58.49 68.49,56.03 68.51,54.95 68.52,56.66 68.54,58.78 68.55,58.43 68.56,56.17 68.58,55.10 68.59,56.62 68.61,58.60 68.62,58.35 68.63,56.30 68.65,55.27 68.66,56.60 68.68,58.40 68.69,58.25 68.71,56.43 68.72,55.46 68.73,56.59 68.75,58.21 68.76,58.14 68.78,56.55 68.79,55.65 68.80,56.60 68.82,58.03 68.83,58.01 68.85,56.65 68.86,55.83 68.88,56.61 68.89,57.86 68.90,57.89 68.92,56.74 68.93,56.01 68.95,56.64 68.96,57.70 68.97,57.76 68.99,56.81 69.00,56.18 69.02,56.67 69.03,57.56 69.05,57.64 69.06,56.87 69.07,56.33 69.09,56.71 69.10,57.44 69.12,57.53 69.13,56.92 69.14,56.47 69.16,56.75 69.17,57.34 69.19,57.43 69.20,56.95 69.22,56.58 69.23,56.79 69.24,57.26 69.26,57.34 69.27,56.97 69.29,56.68 69.30,56.83 69.31,57.19 69.33,57.27 69.34,56.99 69.36,56.75 69.37,56.86 69.38,57.14 69.40,57.20 69.41,57.00 69.43,56.82 69.44,56.89 69.46,57.10 69.47,57.15 69.48,57.01 69.50,56.87 69.51,56.92 69.53,57.07 69.54,57.11 69.55,57.01 69.57,56.90 69.58,56.94 69.60,57.05 69.61,57.08 69.63,57.01 69.64,56.93 69.65,56.95 69.67,57.03 69.68,57.06 69.70,57.01 69.71,56.95 69.72,56.97 69.74,57.02 69.75,57.04 69.77,57.01 69.78,56.97 69.80,56.98 69.81,57.01 69.82,57.03 69.84,57.01 69.85,56.98 69.87,56.98 69.88,57.01 69.89,57.02" fill="none" stroke="#ff0000" stroke-width="0.5"/>
<polyline points="85.75,56.93 85.75,57.00 85.75,57.09 85.76,57.18 85.76,57.26 85.76,57.34 85.77,57.39 85.77,57.42 85.77,57.41 85.78,57.36 85.78,57.26 85.78,57.12 85.79,56.95 85.79,56.76 85.79,56.56 85.80,56.37 85.80,56.22 85.80,56.11 85.81,56.08 85.81,56.13 85.81,56.27 85.82,56.51 85.82,56.82 85.82,57.19 85.83,57.60 85.83,58.01 85.83,58.37 85.84,58.66 85.84,58.83 85.84,58.85 85.85,58.69 85.85,58.36 85.85,57.85 85.85,57.20 85.86,56.45 85.86,55.67 85.86,54.91 85.87,54.25 85.87,53.77 85.87,53.54 85.88,53.60 85.88,53.99 85.88,54.70 85.89,55.70 85.89,56.92 85.89,58.29 85.90,59.69 85.90,60.98 85.90,62.04 85.91,62.75 85.91,63.00 85.91,62.73 85.92,61.91 85.92,60.56 85.92,58.76 85.93,56.63 85.93,54.35 85.93,52.10 85.94,50.09 85.94,48.53 85.94,47.61 85.95,47.45 85.95,48.15 85.95,49.69 85.96,52.02 85.96,54.97 85.96,58.33 85.97,61.83 85.97,65.15 85.97,67.99 85.98,70.04 85.98,71.08 85.98,70.93 85.99,69.54 85.99,66.94 85.99,63.30 86.00,58.87 86.00,54.01 86.00,49.12 86.01,44.65 86.01,41.01 86.01,38.58 86.02,37.64 86.02,38.36 86.02,40.74 86.03,44.67 86.03,49.87 86.03,55.93 86.04,62.36 86.04,68.60 86.04,74.10 86.05,78.32 86.05,80.86 86.05,81.42 86.06,79.88 86.06,76.29 86.06,70.92 86.07,64.16 86.07,56.57 86.07,48.80 86.08,41.51 86.08,35.37 86.08,30.94 86.09,28.65 86.09,28.74 86.09,31.27 86.10,36.06 86.10,42.74 86.10,50.75 86.11,59.43 86.11,68.02 86.11,75.79 86.12,82.03 86.12,86.20 86.12,87.91 86.13,86.99 86.13,83.52 86.13,77.76 86.14,70.22 86.14,61.54 86.14,52.46 86.15,43.78 86.15,36.24 86.15,30.48 86.16,27.01 86.16,26.09 86.16,27.80 86.17,31.97 86.17,38.21 86.17,45.98 86.18,54.57 86.18,63.25 86.18,71.26 86.19,77.94 86.19,82.73 86.19,85.26 86.20,85.35 86.20,83.06 86.20,78.63 86.21,72.49 86.21,65.20 86.21,57.43 86.21,49.84 86.22,43.08 86.22,37.71 86.22,34.12 86.23,32.58 86.23,33.14 86.23,35.68 86.24,39.90 86.24,45.40 86.24,51.64 86.25,58.07 86.25,64.13 86.25,69.33 86.26,73.26 86.26,75.64 86.26,76.36 86.27,75.42 86.27,72.99 86.27,69.35 86.28,64.88 86.28,59.99 86.28,55.13 86.29,50.70 86.29,47.06 86.29,44.46 86.30,43.07 86.30,42.92 86.30,43.96 86.31,46.01 86.31,48.85 86.31,52.17 86.32,55.67 86.32,59.03 86.32,61.98 86.33,64.31 86.33,65.85 86.33,66.55 86.34,66.39 86.34,65.47 86.34,63.91 86.35,61.90 86.35,59.65 86.35,57.37 86.36,55.24 86.36,53.44 86.36,52.09 86.37,51.27 86.37,51.00 86.37,51.25 86.38,51.96 86.38,53.02 86.38,54.31 86.39,55.71 86.39,57.08 86.39,58.30 86.40,59.30 86.40,60.01 86.40,60.40 86.41,60.46 86.41,60.23 86.41,59.75 86.42,59.09 86.42,58.33 86.42,57.55 86.43,56.80 86.43,56.15 86.43,55.64 86.44,55.31 86.44,55.15 86.44,55.17 86.45,55.34 86.45,55.63 86.45,55.99 86.46,56.40 86.46,56.81 86.46,57.18 86.47,57.49 86.47,57.73 86.47,57.87 86.48,57.92 86.48,57.89 86.48,57.78 86.49,57.63 86.49,57.44 86.49,57.24 86.50,57.05 86.50,56.88 86.50,56.74 86.51,56.64 86.51,56.59 86.51,56.58 86.52,56.61 86.52,56.66 86.52,56.74 86.53,56.82 86.53,56.91 86.53,57.00 86.54,57.07" fill="none" stroke="#ff0000" stroke-width="0.5"/>
<polyline points="81.91,57.01 81.95,56.99 81.98,57.02 82.02,56.98 82.05,57.02 82.09,56.98 82.12,57.02 82.16,56.98 82.20,57.02 82.23,56.98 82.27,57.02 82.30,56.98 82.34,57.02 82.37,56.98 82.41,57.03 82.44,56.97 82.48,57.03 82.51,56.97 82.55,57.03 82.58,56.97 82.62,57.03 82.66,56.97 82.69,57.03 82.73,56.97 82.76,57.03 82.80,56.98 82.83,57.02 82.87,56.98 82.90,57.02 82.94,56.98 82.97,57.02 83.01,56.99 83.04,57.01 83.08,56.99 83.12,57.00 83.15,57.00 83.19,56.99 83.22,57.02 83.26,56.98 83.29,57.03 83.33,56.96 83.36,57.05 83.40,56.94 83.43,57.07 83.47,56.92 83.50,57.09 83.54,56.89 83.58,57.12 83.61,56.86 83.65,57.15 83.68,56.83 83.72,57.19 83.75,56.79 83.79,57.23 83.82,56.75 83.86,57.28 83.89,56.70 83.93,57.33 83.96,56.64 84.00,57.39 84.04,56.58 84.07,57.45 84.11,56.51 84.14,57.52 84.18,56.44 84.21,57.60 84.25,56.36 84.28,57.68 84.32,56.28 84.35,57.76 84.39,56.19 84.42,57.86 84.46,56.09 84.50,57.96 84.53,55.99 84.57,58.06 84.60,55.89 84.64,58.17 84.67,55.78 84.71,58.28 84.74,55.66 84.78,58.39 84.81,55.55 84.85,58.51 84.88,55.43 84.92,58.63 84.96,55.31 84.99,58.75 85.03,55.19 85.06,58.87 85.10,55.07 85.13,58.99 85.17,54.95 85.20,59.11 85.24,54.83 85.27,59.23 85.31,54.72 85.34,59.34 85.38,54.61 85.42,59.45 85.45,54.50 85.49,59.55 85.52,54.41 85.56,59.64 85.59,54.32 85.63,59.72 85.66,54.24 85.70,59.80 85.73,54.16 85.77,59.87 85.80,54.10 85.84,59.92 85.88,54.05 85.91,59.97 85.95,54.01 85.98,60.00 86.02,53.99 86.05,60.02 86.09,53.97 86.12,60.03 86.16,53.97 86.19,60.03 86.23,53.98 86.26,60.01 86.30,54.00 86.34,59.99 86.37,54.03 86.41,59.95 86.44,54.08 86.48,59.90 86.51,54.13 86.55,59.84 86.58,54.20 86.62,59.76 86.65,54.28 86.69,59.68 86.72,54.36 86.76,59.59 86.80,54.45 86.83,59.50 86.87,54.55 86.90,59.39 86.94,54.66 86.97,59.28 87.01,54.77 87.04,59.17 87.08,54.89 87.11,59.05 87.15,55.01 87.18,58.93 87.22,55.13 87.26,58.81 87.29,55.25 87.33,58.69 87.36,55.37 87.40,58.57 87.43,55.49 87.47,58.45 87.50,55.61 87.54,58.34 87.57,55.72 87.61,58.22 87.64,55.83 87.68,58.11 87.72,55.94 87.75,58.01 87.79,56.04 87.82,57.91 87.86,56.14 87.89,57.81 87.93,56.24 87.96,57.72 88.00,56.32 88.03,57.64 88.07,56.40 88.10,57.56 88.14,56.48 88.18,57.49 88.21,56.55 88.25,57.42 88.28,56.61 88.32,57.36 88.35,56.67 88.39,57.30 88.42,56.72 88.46,57.25 88.49,56.77 88.53,57.21 88.56,56.81 88.60,57.17 88.64,56.85 88.67,57.14 88.71,56.88 88.74,57.11 88.78,56.91 88.81,57.08 88.85,56.93 88.88,57.06 88.92,56.95 88.95,57.04 88.99,56.97 89.02,57.02 89.06,56.98 89.10,57.01 89.13,57.00 89.17,57.00 89.20,57.01 89.24,56.99 89.27,57.01 89.31,56.98 89.34,57.02 89.38,56.98 89.41,57.02 89.45,56.98 89.48,57.02 89.52,56.97 89.55,57.03 89.59,56.97 89.63,57.03 89.66,56.97 89.70,57.03 89.73,56.97 89.77,57.03 89.80,56.97 89.84,57.03 89.87,56.97 89.91,57.02 89.94,56.98 89.98,57.02 90.01,56.98 90.05,57.02 90.09,56.98 90.12,57.02 90.16,56.98 90.19,57.02 90.23,56.98 90.26,57.02 90.30,56.98 90.33,57.01 90.37,56.99" fill="none" stroke="#ff0000" stroke-width="0.5"/>
<polyline points="96.06,56.97 96.06,56.96 96.07,56.96 96.08,56.98 96.09,57.01 96.09,57.04 96.10,57.06 96.11,57.06 96.11,57.04 96.12,56.99 96.13,56.95 96.14,56.91 96.14,56.91 96.15,56.95 96.16,57.01 96.16,57.08 96.17,57.12 96.18,57.13 96.18,57.08 96.19,56.99 96.20,56.89 96.21,56.83 96.21,56.82 96.22,56.89 96.23,57.01 96.23,57.14 96.24,57.24 96.25,57.25 96.26,57.16 96.26,56.99 96.27,56.81 96.28,56.67 96.28,56.66 96.29,56.78 96.30,57.00 96.31,57.25 96.31,57.43 96.32,57.46 96.33,57.31 96.33,57.01 96.34,56.68 96.35,56.43 96.35,56.39 96.36,56.59 96.37,56.97 96.38,57.41 96.38,57.73 96.39,57.79 96.40,57.54 96.40,57.05 96.41,56.49 96.42,56.08 96.43,56.00 96.43,56.30 96.44,56.92 96.45,57.62 96.45,58.14 96.46,58.26 96.47,57.88 96.48,57.13 96.48,56.26 96.49,55.61 96.50,55.45 96.50,55.90 96.51,56.81 96.52,57.87 96.52,58.67 96.53,58.87 96.54,58.35 96.55,57.26 96.55,55.99 96.56,55.03 96.57,54.78 96.57,55.37 96.58,56.65 96.59,58.14 96.60,59.28 96.60,59.60 96.61,58.92 96.62,57.46 96.62,55.73 96.63,54.40 96.64,54.02 96.64,54.77 96.65,56.42 96.66,58.38 96.67,59.90 96.67,60.37 96.68,59.55 96.69,57.71 96.69,55.52 96.70,53.81 96.71,53.26 96.72,54.14 96.72,56.15 96.73,58.56 96.74,60.45 96.74,61.07 96.75,60.15 96.76,58.00 96.77,55.39 96.77,53.34 96.78,52.63 96.79,53.58 96.79,55.86 96.80,58.62 96.81,60.82 96.81,61.60 96.82,60.64 96.83,58.27 96.84,55.39 96.84,53.08 96.85,52.24 96.86,53.20 96.86,55.61 96.87,58.57 96.88,60.95 96.89,61.84 96.89,60.91 96.90,58.49 96.91,55.51 96.91,53.09 96.92,52.16 96.93,53.05 96.93,55.43 96.94,58.39 96.95,60.80 96.96,61.76 96.96,60.92 96.97,58.61 96.98,55.73 96.98,53.36 96.99,52.40 97.00,53.18 97.01,55.38 97.01,58.14 97.02,60.42 97.03,61.37 97.03,60.66 97.04,58.61 97.05,56.00 97.06,53.85 97.06,52.93 97.07,53.55 97.08,55.44 97.08,57.85 97.09,59.86 97.10,60.74 97.10,60.19 97.11,58.48 97.12,56.29 97.13,54.45 97.13,53.63 97.14,54.10 97.15,55.62 97.15,57.58 97.16,59.23 97.17,59.98 97.18,59.60 97.18,58.27 97.19,56.54 97.20,55.08 97.20,54.40 97.21,54.72 97.22,55.86 97.23,57.35 97.23,58.63 97.24,59.22 97.25,58.97 97.25,58.01 97.26,56.74 97.27,55.65 97.27,55.13 97.28,55.33 97.29,56.13 97.30,57.19 97.30,58.10 97.31,58.55 97.32,58.39 97.32,57.74 97.33,56.87 97.34,56.12 97.35,55.74 97.35,55.86 97.36,56.38 97.37,57.08 97.37,57.70 97.38,58.00 97.39,57.92 97.39,57.51 97.40,56.95 97.41,56.46 97.42,56.21 97.42,56.27 97.43,56.59 97.44,57.03 97.44,57.41 97.45,57.61 97.46,57.57 97.47,57.32 97.47,56.99 97.48,56.69 97.49,56.54 97.49,56.57 97.50,56.75 97.51,57.00 97.52,57.22 97.52,57.34 97.53,57.33 97.54,57.19 97.54,57.01 97.55,56.84 97.56,56.75 97.56,56.76 97.57,56.86 97.58,56.99 97.59,57.11 97.59,57.18 97.60,57.17 97.61,57.11 97.61,57.01 97.62,56.92 97.63,56.87 97.64,56.88 97.64,56.92 97.65,56.99 97.66,57.05 97.66,57.09 97.67,57.09 97.68,57.05 97.69,57.01 97.69,56.96 97.70,56.94 97.71,56.94 97.71,56.96 97.72,56.99 97.73,57.02 97.73,57.04 97.74,57.04 97.75,57.03" fill="none" stroke="#ff0000" stroke-width="0.5"/>
<polyline points="157.42,56.86 157.43,56.85 157.43,56.86 157.43,56.87 157.44,56.89 157.44,56.93 157.44,56.98 157.44,57.04 157.45,57.11 157.45,57.17 157.45,57.24 157.46,57.30 157.46,57.35 157.46,57.37 157.46,57.38 157.47,57.36 157.47,57.31 157.47,57.23 157.48,57.12 157.48,56.99 157.48,56.83 157.48,56.67 157.49,56.51 157.49,56.36 157.49,56.24 157.50,56.15 157.50,56.11 157.50,56.13 157.50,56.21 157.51,56.36 157.51,56.58 157.51,56.85 157.51,57.17 157.52,57.52 157.52,57.87 157.52,58.20 157.53,58.50 157.53,58.72 157.53,58.85 157.53,58.87 157.54,58.75 157.54,58.51 157.54,58.13 157.55,57.63 157.55,57.04 157.55,56.37 157.55,55.69 157.56,55.01 157.56,54.41 157.56,53.92 157.57,53.59 157.57,53.46 157.57,53.56 157.57,53.90 157.58,54.49 157.58,55.30 157.58,56.29 157.59,57.43 157.59,58.64 157.59,59.84 157.59,60.95 157.60,61.89 157.60,62.59 157.60,62.96 157.61,62.97 157.61,62.58 157.61,61.79 157.61,60.62 157.62,59.12 157.62,57.38 157.62,55.49 157.63,53.56 157.63,51.74 157.63,50.13 157.63,48.88 157.64,48.08 157.64,47.81 157.64,48.13 157.65,49.05 157.65,50.54 157.65,52.54 157.65,54.94 157.66,57.60 157.66,60.36 157.66,63.05 157.66,65.47 157.67,67.46 157.67,68.87 157.67,69.57 157.68,69.49 157.68,68.60 157.68,66.93 157.68,64.55 157.69,61.60 157.69,58.24 157.69,54.69 157.70,51.16 157.70,47.90 157.70,45.11 157.70,43.00 157.71,41.73 157.71,41.40 157.71,42.05 157.72,43.67 157.72,46.17 157.72,49.42 157.72,53.21 157.73,57.31 157.73,61.46 157.73,65.39 157.74,68.85 157.74,71.61 157.74,73.47 157.74,74.32 157.75,74.08 157.75,72.76 157.75,70.44 157.76,67.27 157.76,63.44 157.76,59.19 157.76,54.81 157.77,50.56 157.77,46.73 157.77,43.56 157.78,41.24 157.78,39.92 157.78,39.68 157.78,40.53 157.79,42.39 157.79,45.15 157.79,48.61 157.80,52.54 157.80,56.69 157.80,60.79 157.80,64.58 157.81,67.83 157.81,70.33 157.81,71.95 157.81,72.60 157.82,72.27 157.82,71.00 157.82,68.89 157.83,66.10 157.83,62.84 157.83,59.31 157.83,55.76 157.84,52.40 157.84,49.45 157.84,47.07 157.85,45.40 157.85,44.51 157.85,44.43 157.85,45.13 157.86,46.54 157.86,48.53 157.86,50.95 157.87,53.64 157.87,56.40 157.87,59.06 157.87,61.46 157.88,63.46 157.88,64.95 157.88,65.87 157.89,66.19 157.89,65.92 157.89,65.12 157.89,63.87 157.90,62.26 157.90,60.44 157.90,58.51 157.91,56.62 157.91,54.88 157.91,53.38 157.91,52.21 157.92,51.42 157.92,51.03 157.92,51.04 157.93,51.41 157.93,52.11 157.93,53.05 157.93,54.16 157.94,55.36 157.94,56.57 157.94,57.71 157.95,58.70 157.95,59.51 157.95,60.10 157.95,60.44 157.96,60.54 157.96,60.41 157.96,60.08 157.96,59.59 157.97,58.99 157.97,58.31 157.97,57.63 157.98,56.96 157.98,56.37 157.98,55.87 157.98,55.49 157.99,55.25 157.99,55.13 157.99,55.15 158.00,55.28 158.00,55.50 158.00,55.80 158.00,56.13 158.01,56.48 158.01,56.83 158.01,57.15 158.02,57.42 158.02,57.64 158.02,57.79 158.02,57.87 158.03,57.89 158.03,57.85 158.03,57.76 158.04,57.64 158.04,57.49 158.04,57.33 158.04,57.17 158.05,57.01 158.05,56.88 158.05,56.77 158.06,56.69 158.06,56.64 158.06,56.62 158.06,56.63 158.07,56.65 158.07,56.70 158.07,56.76 158.08,56.83 158.08,56.89 158.08,56.96 158.08,57.02 158.09,57.07 158.09,57.11 158.09,57.13 158.10,57.14 158.10,57.15 158.10,57.14" fill="none" stroke="#ff0000" stroke-width="0.5"/>
<polyline points="191.02,56.94 191.03,56.90 191.03,56.86 191.04,56.85 191.04,56.86 191.05,56.91 191.05,56.97 191.06,57.06 191.06,57.14 191.07,57.22 191.07,57.26 191.08,57.26 191.08,57.21 191.09,57.12 191.09,56.98 191.09,56.83 191.10,56.69 191.10,56.58 191.11,56.54 191.11,56.58 191.12,56.70 191.12,56.90 191.13,57.14 191.13,57.39 191.14,57.61 191.14,57.73 191.15,57.74 191.15,57.61 191.16,57.35 191.16,56.99 191.17,56.58 191.17,56.20 191.17,55.92 191.18,55.81 191.18,55.90 191.19,56.21 191.19,56.70 191.20,57.30 191.20,57.93 191.21,58.45 191.21,58.77 191.22,58.80 191.22,58.50 191.23,57.89 191.23,57.05 191.24,56.12 191.24,55.24 191.25,54.60 191.25,54.33 191.25,54.51 191.26,55.17 191.26,56.23 191.27,57.53 191.27,58.86 191.28,59.98 191.28,60.66 191.29,60.74 191.29,60.15 191.30,58.93 191.30,57.27 191.31,55.41 191.31,53.68 191.32,52.41 191.32,51.86 191.33,52.19 191.33,53.41 191.34,55.37 191.34,57.77 191.34,60.20 191.35,62.24 191.35,63.49 191.36,63.66 191.36,62.66 191.37,60.58 191.37,57.73 191.38,54.57 191.38,51.64 191.39,49.49 191.39,48.54 191.40,49.03 191.40,50.97 191.41,54.07 191.41,57.87 191.42,61.70 191.42,64.90 191.42,66.87 191.43,67.19 191.43,65.73 191.44,62.67 191.44,58.48 191.45,53.86 191.45,49.60 191.46,46.46 191.46,45.06 191.47,45.69 191.47,48.32 191.48,52.55 191.48,57.70 191.49,62.89 191.49,67.20 191.50,69.86 191.50,70.35 191.50,68.54 191.51,64.67 191.51,59.38 191.52,53.57 191.52,48.24 191.53,44.33 191.53,42.54 191.54,43.23 191.54,46.30 191.55,51.26 191.55,57.27 191.56,63.30 191.56,68.29 191.57,71.38 191.57,72.01 191.58,70.06 191.58,65.86 191.59,60.13 191.59,53.87 191.59,48.14 191.60,43.94 191.60,41.99 191.61,42.62 191.61,45.71 191.62,50.70 191.62,56.73 191.63,62.74 191.63,67.70 191.64,70.77 191.64,71.46 191.65,69.67 191.65,65.76 191.66,60.43 191.66,54.62 191.67,49.33 191.67,45.46 191.67,43.65 191.68,44.14 191.68,46.80 191.69,51.11 191.69,56.30 191.70,61.45 191.70,65.68 191.71,68.31 191.71,68.94 191.72,67.54 191.72,64.40 191.73,60.14 191.73,55.52 191.74,51.33 191.74,48.27 191.75,46.81 191.75,47.13 191.75,49.10 191.76,52.30 191.76,56.13 191.77,59.93 191.77,63.03 191.78,64.97 191.78,65.46 191.79,64.51 191.79,62.36 191.80,59.43 191.80,56.27 191.81,53.42 191.81,51.34 191.82,50.34 191.82,50.51 191.83,51.76 191.83,53.80 191.84,56.23 191.84,58.63 191.84,60.59 191.85,61.81 191.85,62.14 191.86,61.59 191.86,60.32 191.87,58.59 191.87,56.73 191.88,55.07 191.88,53.85 191.89,53.26 191.89,53.34 191.90,54.02 191.90,55.14 191.91,56.47 191.91,57.77 191.92,58.83 191.92,59.49 191.92,59.67 191.93,59.40 191.93,58.76 191.94,57.88 191.94,56.95 191.95,56.11 191.95,55.50 191.96,55.20 191.96,55.23 191.97,55.55 191.97,56.07 191.98,56.70 191.98,57.30 191.99,57.79 191.99,58.10 192.00,58.19 192.00,58.08 192.01,57.80 192.01,57.42 192.01,57.01 192.02,56.65 192.02,56.39 192.03,56.26 192.03,56.27 192.04,56.39 192.04,56.61 192.05,56.86 192.05,57.10 192.06,57.30 192.06,57.42 192.07,57.46 192.07,57.42 192.08,57.31 192.08,57.17 192.09,57.02 192.09,56.88 192.09,56.79 192.10,56.74 192.10,56.74 192.11,56.78 192.11,56.86 192.12,56.94 192.12,57.03 192.13,57.09 192.13,57.14 192.14,57.15 192.14,57.14 192.15,57.10 192.15,57.06" fill="none" stroke="#ff0000" stroke-width="0.5"/>
<polyline points="189.90,56.96 189.91,56.99 189.92,57.03 189.94,57.04 189.95,56.99 189.97,56.95 189.98,56.98 190.00,57.05 190.01,57.06 190.02,56.99 190.04,56.92 190.05,56.96 190.07,57.06 190.08,57.09 190.09,56.98 190.11,56.89 190.12,56.94 190.14,57.09 190.15,57.13 190.17,56.98 190.18,56.84 190.19,56.91 190.21,57.12 190.22,57.18 190.24,56.98 190.25,56.79 190.26,56.87 190.28,57.16 190.29,57.25 190.31,56.99 190.32,56.71 190.33,56.82 190.35,57.20 190.36,57.34 190.38,57.00 190.39,56.62 190.41,56.74 190.42,57.26 190.43,57.46 190.45,57.02 190.46,56.50 190.48,56.65 190.49,57.32 190.50,57.61 190.52,57.05 190.53,56.36 190.55,56.52 190.56,57.39 190.58,57.79 190.59,57.09 190.60,56.20 190.62,56.37 190.63,57.46 190.65,58.00 190.66,57.15 190.67,56.01 190.69,56.18 190.70,57.54 190.72,58.25 190.73,57.24 190.75,55.80 190.76,55.95 190.77,57.61 190.79,58.53 190.80,57.35 190.82,55.58 190.83,55.69 190.84,57.67 190.86,58.85 190.87,57.49 190.89,55.34 190.90,55.39 190.92,57.73 190.93,59.19 190.94,57.65 190.96,55.10 190.97,55.07 190.99,57.76 191.00,59.54 191.01,57.85 191.03,54.87 191.04,54.72 191.06,57.77 191.07,59.89 191.09,58.07 191.10,54.65 191.11,54.37 191.13,57.75 191.14,60.24 191.16,58.30 191.17,54.46 191.18,54.01 191.20,57.71 191.21,60.56 191.23,58.56 191.24,54.31 191.25,53.67 191.27,57.63 191.28,60.84 191.30,58.81 191.31,54.21 191.33,53.35 191.34,57.53 191.35,61.07 191.37,59.06 191.38,54.16 191.40,53.08 191.41,57.40 191.42,61.24 191.44,59.29 191.45,54.16 191.47,52.87 191.48,57.25 191.50,61.33 191.51,59.50 191.52,54.22 191.54,52.73 191.55,57.08 191.57,61.34 191.58,59.66 191.59,54.34 191.61,52.66 191.62,56.92 191.64,61.27 191.65,59.78 191.67,54.50 191.68,52.67 191.69,56.75 191.71,61.13 191.72,59.84 191.74,54.71 191.75,52.76 191.76,56.60 191.78,60.92 191.79,59.84 191.81,54.94 191.82,52.93 191.84,56.47 191.85,60.65 191.86,59.79 191.88,55.19 191.89,53.16 191.91,56.37 191.92,60.33 191.93,59.69 191.95,55.44 191.96,53.44 191.98,56.29 191.99,59.99 192.01,59.54 192.02,55.70 192.03,53.76 192.05,56.25 192.06,59.63 192.08,59.35 192.09,55.93 192.10,54.11 192.12,56.23 192.13,59.28 192.15,59.13 192.16,56.15 192.17,54.46 192.19,56.24 192.20,58.93 192.22,58.90 192.23,56.35 192.25,54.81 192.26,56.27 192.27,58.61 192.29,58.66 192.30,56.51 192.32,55.15 192.33,56.33 192.34,58.31 192.36,58.42 192.37,56.65 192.39,55.47 192.40,56.39 192.42,58.05 192.43,58.20 192.44,56.76 192.46,55.75 192.47,56.46 192.49,57.82 192.50,57.99 192.51,56.85 192.53,56.00 192.54,56.54 192.56,57.63 192.57,57.80 192.59,56.91 192.60,56.21 192.61,56.61 192.63,57.48 192.64,57.64 192.66,56.95 192.67,56.39 192.68,56.68 192.70,57.35 192.71,57.50 192.73,56.98 192.74,56.54 192.76,56.74 192.77,57.26 192.78,57.38 192.80,57.00 192.81,56.66 192.83,56.80 192.84,57.18 192.85,57.29 192.87,57.01 192.88,56.75 192.90,56.84 192.91,57.13 192.92,57.21 192.94,57.02 192.95,56.82 192.97,56.88 192.98,57.09 193.00,57.16 193.01,57.02 193.02,56.87 193.04,56.91 193.05,57.06 193.07,57.11 193.08,57.02 193.09,56.91 193.11,56.94 193.12,57.04 193.14,57.08 193.15,57.01 193.17,56.94 193.18,56.95 193.19,57.02 193.21,57.05 193.22,57.01 193.24,56.96 193.25,56.97 193.26,57.01 193.28,57.04" fill="none" stroke="#ff0000" stroke-width="0.5"/>
<polyline points="234.75,56.98 234.75,56.96 234.76,56.93 234.76,56.90 234.76,56.87 234.76,56.84 234.76,56.80 234.76,56.76 234.76,56.72 234.76,56.68 234.76,56.64 234.77,56.60 234.77,56.56 234.77,56.52 234.77,56.48 234.77,56.44 234.77,56.41 234.77,56.39 234.77,56.37 234.78,56.36 234.78,56.36 234.78,56.37 234.78,56.40 234.78,56.44 234.78,56.49 234.78,56.56 234.78,56.64 234.78,56.75 234.79,56.87 234.79,57.00 234.79,57.16 234.79,57.34 234.79,57.53 234.79,57.73 234.79,57.95 234.79,58.19 234.80,58.43 234.80,58.68 234.80,58.93 234.80,59.19 234.80,59.44 234.80,59.68 234.80,59.90 234.80,60.11 234.80,60.30 234.81,60.45 234.81,60.57 234.81,60.65 234.81,60.69 234.81,60.67 234.81,60.61 234.81,60.48 234.81,60.29 234.82,60.03 234.82,59.71 234.82,59.32 234.82,58.87 234.82,58.34 234.82,57.75 234.82,57.10 234.82,56.39 234.82,55.63 234.83,54.83 234.83,53.99 234.83,53.12 234.83,52.24 234.83,51.36 234.83,50.48 234.83,49.62 234.83,48.80 234.84,48.03 234.84,47.33 234.84,46.70 234.84,46.16 234.84,45.72 234.84,45.41 234.84,45.22 234.84,45.17 234.84,45.27 234.85,45.52 234.85,45.94 234.85,46.51 234.85,47.24 234.85,48.14 234.85,49.19 234.85,50.39 234.85,51.73 234.86,53.19 234.86,54.77 234.86,56.44 234.86,58.19 234.86,60.00 234.86,61.84 234.86,63.70 234.86,65.54 234.86,67.34 234.87,69.08 234.87,70.74 234.87,72.28 234.87,73.68 234.87,74.93 234.87,75.99 234.87,76.86 234.87,77.52 234.88,77.95 234.88,78.15 234.88,78.10 234.88,77.80 234.88,77.25 234.88,76.46 234.88,75.43 234.88,74.18 234.88,72.71 234.89,71.04 234.89,69.20 234.89,67.20 234.89,65.07 234.89,62.84 234.89,60.54 234.89,58.18 234.89,55.82 234.90,53.46 234.90,51.16 234.90,48.93 234.90,46.80 234.90,44.80 234.90,42.96 234.90,41.29 234.90,39.82 234.90,38.57 234.91,37.54 234.91,36.75 234.91,36.20 234.91,35.90 234.91,35.85 234.91,36.05 234.91,36.48 234.91,37.14 234.92,38.01 234.92,39.07 234.92,40.32 234.92,41.72 234.92,43.26 234.92,44.92 234.92,46.66 234.92,48.46 234.93,50.30 234.93,52.16 234.93,54.00 234.93,55.81 234.93,57.56 234.93,59.23 234.93,60.81 234.93,62.27 234.93,63.61 234.94,64.81 234.94,65.86 234.94,66.76 234.94,67.49 234.94,68.06 234.94,68.48 234.94,68.73 234.94,68.83 234.95,68.78 234.95,68.59 234.95,68.28 234.95,67.84 234.95,67.30 234.95,66.67 234.95,65.97 234.95,65.20 234.95,64.38 234.96,63.52 234.96,62.64 234.96,61.76 234.96,60.88 234.96,60.01 234.96,59.17 234.96,58.37 234.96,57.61 234.97,56.90 234.97,56.25 234.97,55.66 234.97,55.13 234.97,54.68 234.97,54.29 234.97,53.97 234.97,53.71 234.97,53.52 234.98,53.39 234.98,53.33 234.98,53.31 234.98,53.35 234.98,53.43 234.98,53.55 234.98,53.70 234.98,53.89 234.99,54.10 234.99,54.32 234.99,54.56 234.99,54.81 234.99,55.07 234.99,55.32 234.99,55.57 234.99,55.81 234.99,56.05 235.00,56.27 235.00,56.47 235.00,56.66 235.00,56.84 235.00,57.00 235.00,57.13 235.00,57.25 235.00,57.36 235.01,57.44 235.01,57.51 235.01,57.56 235.01,57.60 235.01,57.63 235.01,57.64 235.01,57.64 235.01,57.63 235.01,57.61 235.02,57.59 235.02,57.56 235.02,57.52 235.02,57.48 235.02,57.44 235.02,57.40 235.02,57.36 235.02,57.32 235.03,57.28 235.03,57.24 235.03,57.20 235.03,57.16 235.03,57.13 235.03,57.10 235.03,57.07 235.03,57.04 235.03,57.02" fill="none" stroke="#ff0000" stroke-width="0.5"/>
<polyline points="256.98,56.94 257.00,57.04 257.02,57.06 257.04,56.94 257.06,56.94 257.08,57.08 257.10,57.06 257.11,56.90 257.13,56.95 257.15,57.13 257.17,57.03 257.19,56.84 257.21,57.00 257.23,57.18 257.25,56.96 257.27,56.80 257.28,57.09 257.30,57.21 257.32,56.86 257.34,56.78 257.36,57.21 257.38,57.21 257.40,56.72 257.42,56.82 257.44,57.35 257.45,57.13 257.47,56.57 257.49,56.94 257.51,57.50 257.53,56.97 257.55,56.44 257.57,57.14 257.59,57.60 257.61,56.72 257.62,56.38 257.64,57.44 257.66,57.60 257.68,56.39 257.70,56.45 257.72,57.79 257.74,57.46 257.76,56.02 257.78,56.69 257.79,58.15 257.81,57.12 257.83,55.71 257.85,57.13 257.87,58.40 257.89,56.58 257.91,55.54 257.93,57.75 257.94,58.46 257.96,55.88 257.98,55.62 258.00,58.49 258.02,58.21 258.04,55.13 258.06,56.05 258.08,59.22 258.10,57.59 258.11,54.47 258.13,56.86 258.15,59.77 258.17,56.61 258.19,54.09 258.21,57.99 258.23,59.94 258.25,55.36 258.27,54.17 258.28,59.32 258.30,59.58 258.32,54.01 258.34,54.83 258.36,60.61 258.38,58.61 258.40,52.85 258.42,56.11 258.44,61.58 258.45,57.05 258.47,52.15 258.49,57.89 258.51,61.95 258.53,55.10 258.55,52.16 258.57,59.93 258.59,61.51 258.61,53.05 258.62,53.05 258.64,61.89 258.66,60.18 258.68,51.29 258.70,54.80 258.72,63.36 258.74,58.06 258.76,50.20 258.78,57.21 258.79,63.99 258.81,55.43 258.83,50.10 258.85,59.94 258.87,63.53 258.89,52.73 258.91,51.12 258.93,62.50 258.95,61.96 258.96,50.43 258.98,53.20 259.00,64.42 259.02,59.45 259.04,49.00 259.06,56.04 259.08,65.29 259.10,56.39 259.11,48.75 259.13,59.19 259.15,64.90 259.17,53.30 259.19,49.77 259.21,62.09 259.23,63.28 259.25,50.72 259.27,51.91 259.28,64.23 259.30,60.70 259.32,49.10 259.34,54.81 259.36,65.25 259.38,57.61 259.40,48.71 259.42,57.96 259.44,65.00 259.45,54.55 259.47,49.58 259.49,60.80 259.51,63.57 259.53,52.04 259.55,51.50 259.57,62.88 259.59,61.27 259.61,50.47 259.62,54.06 259.64,63.90 259.66,58.57 259.68,50.01 259.70,56.79 259.72,63.80 259.74,55.94 259.76,50.64 259.78,59.20 259.79,62.71 259.81,53.82 259.83,52.11 259.85,60.95 259.87,60.95 259.89,52.49 259.91,54.07 259.93,61.84 259.95,58.90 259.96,52.05 259.98,56.11 260.00,61.85 260.02,56.95 260.04,52.42 260.06,57.89 260.08,61.15 260.10,55.39 260.11,53.39 260.13,59.17 260.15,59.99 260.17,54.42 260.19,54.68 260.21,59.83 260.23,58.64 260.25,54.06 260.27,56.01 260.28,59.91 260.30,57.39 260.32,54.23 260.34,57.14 260.36,59.53 260.38,56.41 260.40,54.78 260.42,57.95 260.44,58.87 260.45,55.79 260.47,55.51 260.49,58.38 260.51,58.12 260.53,55.54 260.55,56.25 260.57,58.46 260.59,57.42 260.61,55.60 260.62,56.87 260.64,58.29 260.66,56.88 260.68,55.85 260.70,57.31 260.72,57.98 260.74,56.54 260.76,56.21 260.78,57.55 260.79,57.61 260.81,56.40 260.83,56.56 260.85,57.62 260.87,57.28 260.89,56.40 260.91,56.86 260.93,57.56 260.95,57.03 260.96,56.50 260.98,57.06 261.00,57.43 261.02,56.87 261.04,56.65 261.06,57.18 261.08,57.28 261.10,56.79 261.12,56.79 261.13,57.22 261.15,57.14 261.17,56.79 261.19,56.91 261.21,57.20 261.23,57.04 261.25,56.82 261.27,57.00 261.28,57.16 261.30,56.97 261.32,56.87 261.34,57.05 261.36,57.10 261.38,56.94 261.40,56.92 261.42,57.06 261.44,57.06 261.45,56.94 261.47,56.96 261.49,57.06" fill="none" stroke="#ff0000" stroke-width="0.5"/>
<polyline points="271.56,56.94 271.58,57.07 271.61,57.03 271.63,56.90 271.65,57.04 271.67,57.10 271.69,56.89 271.71,56.95 271.73,57.15 271.75,56.95 271.78,56.85 271.80,57.15 271.82,57.08 271.84,56.78 271.86,57.05 271.88,57.22 271.90,56.80 271.92,56.88 271.95,57.31 271.97,56.94 271.99,56.68 272.01,57.27 272.03,57.20 272.05,56.57 272.07,57.05 272.09,57.46 272.12,56.65 272.14,56.70 272.16,57.59 272.18,56.96 272.20,56.36 272.22,57.45 272.24,57.44 272.26,56.22 272.28,57.00 272.31,57.87 272.33,56.45 272.35,56.37 272.37,58.02 272.39,57.06 272.41,55.83 272.43,57.67 272.45,57.88 272.48,55.70 272.50,56.84 272.52,58.54 272.54,56.21 272.56,55.79 272.58,58.63 272.60,57.31 272.62,55.01 272.65,57.90 272.67,58.62 272.69,55.00 272.71,56.48 272.73,59.51 272.75,56.01 272.77,54.88 272.79,59.40 272.82,57.81 272.84,53.89 272.86,58.05 272.88,59.71 272.90,54.18 272.92,55.82 272.94,60.77 272.96,55.93 272.99,53.61 273.01,60.24 273.03,58.63 273.05,52.52 273.07,58.02 273.09,61.16 273.11,53.35 273.13,54.82 273.16,62.22 273.18,56.10 273.20,52.01 273.22,61.01 273.24,59.81 273.26,51.03 273.28,57.69 273.30,62.86 273.33,52.68 273.35,53.48 273.37,63.68 273.39,56.61 273.41,50.25 273.43,61.53 273.45,61.28 273.47,49.67 273.49,57.00 273.52,64.62 273.54,52.36 273.56,51.92 273.58,64.88 273.60,57.47 273.62,48.58 273.64,61.62 273.66,62.87 273.69,48.70 273.71,55.99 273.73,66.12 273.75,52.52 273.77,50.37 273.79,65.57 273.81,58.59 273.83,47.31 273.86,61.21 273.88,64.31 273.90,48.34 273.92,54.80 273.94,67.08 273.96,53.17 273.98,49.12 274.00,65.58 274.03,59.79 274.05,46.71 274.07,60.35 274.09,65.31 274.11,48.69 274.13,53.65 274.15,67.29 274.17,54.21 274.20,48.42 274.22,64.88 274.24,60.83 274.26,46.92 274.28,59.20 274.30,65.66 274.32,49.69 274.34,52.79 274.37,66.69 274.39,55.41 274.41,48.43 274.43,63.63 274.45,61.48 274.47,47.88 274.49,58.01 274.51,65.30 274.54,51.13 274.56,52.38 274.58,65.42 274.60,56.53 274.62,49.12 274.64,62.08 274.66,61.64 274.68,49.38 274.71,57.00 274.73,64.33 274.75,52.72 274.77,52.47 274.79,63.75 274.81,57.39 274.83,50.32 274.85,60.52 274.87,61.32 274.90,51.14 274.92,56.31 274.94,62.97 274.96,54.19 274.98,52.99 275.00,61.99 275.02,57.90 275.04,51.78 275.07,59.18 275.09,60.65 275.11,52.84 275.13,55.98 275.15,61.48 275.17,55.37 275.19,53.76 275.21,60.39 275.24,58.07 275.26,53.23 275.28,58.18 275.30,59.82 275.32,54.29 275.34,55.95 275.36,60.11 275.38,56.19 275.41,54.60 275.43,59.12 275.45,57.99 275.47,54.49 275.49,57.52 275.51,59.00 275.53,55.38 275.55,56.10 275.58,58.99 275.60,56.69 275.62,55.37 275.64,58.21 275.66,57.79 275.68,55.46 275.70,57.16 275.72,58.30 275.75,56.12 275.77,56.33 275.79,58.17 275.81,56.94 275.83,55.98 275.85,57.63 275.87,57.55 275.89,56.13 275.92,57.00 275.94,57.78 275.96,56.56 275.98,56.55 276.00,57.64 276.02,57.04 276.04,56.41 276.06,57.30 276.08,57.35 276.11,56.54 276.13,56.95 276.15,57.43 276.17,56.80 276.19,56.73 276.21,57.32 276.23,57.06 276.25,56.69 276.28,57.12 276.30,57.20 276.32,56.78 276.34,56.95 276.36,57.22 276.38,56.92 276.40,56.85 276.42,57.15 276.45,57.05 276.47,56.85 276.49,57.05 276.51,57.11 276.53,56.90 276.55,56.96 276.57,57.10 276.59,56.97 276.62,56.93 276.64,57.06" fill="none" stroke="#ff0000" stroke-width="0.5"/>
<polyline points="279.48,56.99 279.49,56.99 279.50,57.00 279.52,57.02 279.53,57.02 279.54,57.00 279.55,56.98 279.56,56.98 279.58,57.00 279.59,57.03 279.60,57.02 279.61,57.00 279.62,56.97 279.63,56.97 279.65,57.01 279.66,57.04 279.67,57.04 279.68,56.99 279.69,56.95 279.71,56.95 279.72,57.01 279.73,57.06 279.74,57.06 279.75,56.99 279.76,56.93 279.78,56.93 279.79,57.00 279.80,57.09 279.81,57.09 279.82,57.00 279.84,56.89 279.85,56.89 279.86,57.00 279.87,57.13 279.88,57.13 279.89,57.00 279.91,56.85 279.92,56.84 279.93,57.00 279.94,57.17 279.95,57.19 279.96,57.01 279.98,56.80 279.99,56.78 280.00,56.98 280.01,57.23 280.02,57.26 280.04,57.02 280.05,56.74 280.06,56.69 280.07,56.97 280.08,57.30 280.09,57.36 280.11,57.05 280.12,56.66 280.13,56.59 280.14,56.94 280.15,57.38 280.17,57.47 280.18,57.08 280.19,56.57 280.20,56.47 280.21,56.90 280.22,57.47 280.24,57.60 280.25,57.13 280.26,56.48 280.27,56.32 280.28,56.85 280.30,57.57 280.31,57.76 280.32,57.18 280.33,56.38 280.34,56.16 280.35,56.78 280.37,57.67 280.38,57.92 280.39,57.26 280.40,56.29 280.41,55.99 280.42,56.70 280.44,57.76 280.45,58.10 280.46,57.34 280.47,56.20 280.48,55.81 280.50,56.61 280.51,57.84 280.52,58.28 280.53,57.44 280.54,56.12 280.55,55.64 280.57,56.51 280.58,57.91 280.59,58.44 280.60,57.54 280.61,56.07 280.63,55.48 280.64,56.41 280.65,57.95 280.66,58.59 280.67,57.65 280.68,56.03 280.70,55.35 280.71,56.30 280.72,57.97 280.73,58.71 280.74,57.75 280.75,56.03 280.77,55.25 280.78,56.21 280.79,57.97 280.80,58.78 280.81,57.83 280.83,56.05 280.84,55.19 280.85,56.13 280.86,57.93 280.87,58.82 280.88,57.91 280.90,56.09 280.91,55.18 280.92,56.07 280.93,57.87 280.94,58.81 280.96,57.95 280.97,56.17 280.98,55.22 280.99,56.03 281.00,57.79 281.01,58.75 281.03,57.97 281.04,56.25 281.05,55.29 281.06,56.03 281.07,57.70 281.09,58.65 281.10,57.97 281.11,56.35 281.12,55.41 281.13,56.05 281.14,57.59 281.16,58.52 281.17,57.93 281.18,56.46 281.19,55.56 281.20,56.09 281.21,57.49 281.23,58.36 281.24,57.88 281.25,56.56 281.26,55.72 281.27,56.16 281.29,57.39 281.30,58.19 281.31,57.80 281.32,56.66 281.33,55.90 281.34,56.24 281.36,57.30 281.37,58.01 281.38,57.71 281.39,56.74 281.40,56.08 281.42,56.33 281.43,57.22 281.44,57.84 281.45,57.62 281.46,56.82 281.47,56.24 281.49,56.43 281.50,57.15 281.51,57.68 281.52,57.52 281.53,56.87 281.55,56.40 281.56,56.53 281.57,57.10 281.58,57.53 281.59,57.43 281.60,56.92 281.62,56.53 281.63,56.62 281.64,57.06 281.65,57.41 281.66,57.34 281.67,56.95 281.69,56.64 281.70,56.70 281.71,57.03 281.72,57.31 281.73,57.26 281.75,56.98 281.76,56.74 281.77,56.77 281.78,57.02 281.79,57.22 281.80,57.20 281.82,56.99 281.83,56.81 281.84,56.83 281.85,57.00 281.86,57.16 281.88,57.15 281.89,57.00 281.90,56.87 281.91,56.87 281.92,57.00 281.93,57.11 281.95,57.11 281.96,57.00 281.97,56.91 281.98,56.91 281.99,57.00 282.01,57.07 282.02,57.07 282.03,57.01 282.04,56.94 282.05,56.94 282.06,56.99 282.08,57.05 282.09,57.05 282.10,57.01 282.11,56.96 282.12,56.96 282.13,56.99 282.15,57.03 282.16,57.03 282.17,57.00 282.18,56.98 282.19,56.97 282.21,57.00 282.22,57.02 282.23,57.02 282.24,57.00 282.25,56.98 282.26,56.98 282.28,57.00 282.29,57.01 282.30,57.01" fill="none" stroke="#ff0000" stroke-width="0.5"/>
<polyline points="328.55,56.98 328.56,56.99 328.58,57.00 328.59,57.02 328.60,57.02 328.61,57.00 328.62,56.97 328.64,56.98 328.65,57.01 328.66,57.03 328.67,57.03 328.68,56.99 328.69,56.96 328.71,56.96 328.72,57.01 328.73,57.05 328.74,57.05 328.75,56.99 328.77,56.94 328.78,56.94 328.79,57.01 328.80,57.07 328.81,57.07 328.82,56.99 328.84,56.91 328.85,56.91 328.86,57.01 328.87,57.10 328.88,57.11 328.90,57.00 328.91,56.88 328.92,56.87 328.93,57.00 328.94,57.15 328.95,57.15 328.97,57.00 328.98,56.83 328.99,56.82 329.00,56.99 329.01,57.20 329.02,57.22 329.04,57.01 329.05,56.77 329.06,56.74 329.07,56.98 329.08,57.27 329.10,57.31 329.11,57.03 329.12,56.69 329.13,56.64 329.14,56.96 329.15,57.35 329.17,57.41 329.18,57.05 329.19,56.60 329.20,56.52 329.21,56.93 329.23,57.45 329.24,57.55 329.25,57.09 329.26,56.50 329.27,56.38 329.28,56.88 329.30,57.55 329.31,57.70 329.32,57.15 329.33,56.39 329.34,56.21 329.36,56.82 329.37,57.66 329.38,57.88 329.39,57.21 329.40,56.28 329.41,56.02 329.43,56.75 329.44,57.78 329.45,58.08 329.46,57.30 329.47,56.17 329.48,55.82 329.50,56.65 329.51,57.88 329.52,58.28 329.53,57.40 329.54,56.06 329.56,55.61 329.57,56.55 329.58,57.98 329.59,58.49 329.60,57.51 329.61,55.98 329.63,55.41 329.64,56.43 329.65,58.06 329.66,58.68 329.67,57.63 329.69,55.91 329.70,55.23 329.71,56.31 329.72,58.11 329.73,58.85 329.74,57.75 329.76,55.87 329.77,55.07 329.78,56.19 329.79,58.14 329.80,58.99 329.82,57.87 329.83,55.86 329.84,54.96 329.85,56.08 329.86,58.13 329.87,59.08 329.89,57.97 329.90,55.89 329.91,54.89 329.92,55.98 329.93,58.09 329.94,59.12 329.96,58.06 329.97,55.94 329.98,54.88 329.99,55.91 330.00,58.02 330.02,59.11 330.03,58.11 330.04,56.03 330.05,54.92 330.06,55.87 330.07,57.92 330.09,59.04 330.10,58.14 330.11,56.13 330.12,55.01 330.13,55.86 330.15,57.81 330.16,58.93 330.17,58.13 330.18,56.25 330.19,55.15 330.20,55.89 330.22,57.69 330.23,58.77 330.24,58.09 330.25,56.37 330.26,55.32 330.28,55.94 330.29,57.57 330.30,58.59 330.31,58.02 330.32,56.49 330.33,55.51 330.35,56.02 330.36,57.45 330.37,58.39 330.38,57.94 330.39,56.60 330.40,55.72 330.42,56.12 330.43,57.35 330.44,58.18 330.45,57.83 330.46,56.70 330.48,55.92 330.49,56.22 330.50,57.25 330.51,57.98 330.52,57.72 330.53,56.79 330.55,56.12 330.56,56.34 330.57,57.18 330.58,57.79 330.59,57.61 330.61,56.85 330.62,56.30 330.63,56.45 330.64,57.12 330.65,57.62 330.66,57.50 330.68,56.91 330.69,56.45 330.70,56.55 330.71,57.07 330.72,57.48 330.74,57.40 330.75,56.95 330.76,56.59 330.77,56.65 330.78,57.04 330.79,57.36 330.81,57.31 330.82,56.97 330.83,56.69 330.84,56.73 330.85,57.02 330.86,57.26 330.88,57.23 330.89,56.99 330.90,56.78 330.91,56.80 330.92,57.01 330.94,57.18 330.95,57.17 330.96,57.00 330.97,56.85 330.98,56.85 330.99,57.00 331.01,57.13 331.02,57.12 331.03,57.00 331.04,56.89 331.05,56.90 331.07,56.99 331.08,57.09 331.09,57.09 331.10,57.01 331.11,56.93 331.12,56.93 331.14,56.99 331.15,57.06 331.16,57.06 331.17,57.01 331.18,56.95 331.19,56.95 331.21,56.99 331.22,57.04 331.23,57.04 331.24,57.01 331.25,56.97 331.27,56.97 331.28,56.99 331.29,57.02 331.30,57.03 331.31,57.00 331.32,56.98 331.34,56.98 331.35,57.00 331.36,57.01 331.37,57.02" fill="none" stroke="#ff0000" stroke-width="0.5"/>
<polyline points="352.73,56.96 352.73,56.92 352.74,56.88 352.74,56.85 352.74,56.84 352.75,56.83 352.75,56.85 352.76,56.89 352.76,56.94 352.76,57.01 352.77,57.09 352.77,57.17 352.77,57.25 352.78,57.31 352.78,57.35 352.78,57.35 352.79,57.32 352.79,57.24 352.79,57.13 352.80,56.99 352.80,56.82 352.80,56.66 352.81,56.50 352.81,56.38 352.82,56.31 352.82,56.30 352.82,56.37 352.83,56.52 352.83,56.74 352.83,57.01 352.84,57.32 352.84,57.63 352.84,57.92 352.85,58.14 352.85,58.27 352.85,58.28 352.86,58.16 352.86,57.89 352.86,57.50 352.87,57.02 352.87,56.47 352.88,55.92 352.88,55.41 352.88,55.03 352.89,54.80 352.89,54.79 352.89,55.00 352.90,55.45 352.90,56.11 352.90,56.92 352.91,57.83 352.91,58.74 352.91,59.56 352.92,60.18 352.92,60.54 352.92,60.56 352.93,60.22 352.93,59.51 352.94,58.48 352.94,57.20 352.94,55.80 352.95,54.40 352.95,53.15 352.95,52.20 352.96,51.67 352.96,51.64 352.96,52.16 352.97,53.21 352.97,54.73 352.97,56.59 352.98,58.62 352.98,60.63 352.99,62.41 352.99,63.75 352.99,64.50 353.00,64.53 353.00,63.80 353.00,62.34 353.01,60.25 353.01,57.72 353.01,54.96 353.02,52.27 353.02,49.90 353.02,48.12 353.03,47.15 353.03,47.11 353.03,48.07 353.04,49.96 353.04,52.65 353.05,55.88 353.05,59.37 353.05,62.76 353.06,65.71 353.06,67.90 353.06,69.09 353.07,69.12 353.07,67.95 353.07,65.65 353.08,62.43 353.08,58.57 353.08,54.44 353.09,50.46 353.09,47.03 353.09,44.49 353.10,43.13 353.10,43.11 353.11,44.46 353.11,47.07 353.11,50.69 353.12,54.99 353.12,59.55 353.12,63.92 353.13,67.67 353.13,70.40 353.13,71.85 353.14,71.86 353.14,70.41 353.14,67.65 353.15,63.84 353.15,59.36 353.15,54.64 353.16,50.16 353.16,46.35 353.17,43.59 353.17,42.14 353.17,42.15 353.18,43.60 353.18,46.33 353.18,50.08 353.19,54.45 353.19,59.01 353.19,63.31 353.20,66.93 353.20,69.54 353.20,70.89 353.21,70.87 353.21,69.51 353.22,66.97 353.22,63.54 353.22,59.56 353.23,55.43 353.23,51.57 353.23,48.35 353.24,46.05 353.24,44.88 353.24,44.91 353.25,46.10 353.25,48.29 353.25,51.24 353.26,54.63 353.26,58.12 353.26,61.35 353.27,64.04 353.27,65.93 353.28,66.89 353.28,66.85 353.28,65.88 353.29,64.10 353.29,61.73 353.29,59.04 353.30,56.28 353.30,53.75 353.30,51.66 353.31,50.20 353.31,49.47 353.31,49.50 353.32,50.25 353.32,51.59 353.32,53.37 353.33,55.38 353.33,57.41 353.34,59.27 353.34,60.79 353.34,61.84 353.35,62.36 353.35,62.33 353.35,61.80 353.36,60.85 353.36,59.60 353.36,58.20 353.37,56.80 353.37,55.52 353.37,54.49 353.38,53.78 353.38,53.44 353.38,53.46 353.39,53.82 353.39,54.44 353.40,55.26 353.40,56.17 353.40,57.08 353.41,57.89 353.41,58.55 353.41,59.00 353.42,59.21 353.42,59.20 353.42,58.97 353.43,58.59 353.43,58.08 353.43,57.53 353.44,56.98 353.44,56.50 353.45,56.11 353.45,55.84 353.45,55.72 353.46,55.73 353.46,55.86 353.46,56.08 353.47,56.37 353.47,56.68 353.47,56.99 353.48,57.26 353.48,57.48 353.48,57.63 353.49,57.70 353.49,57.69 353.49,57.62 353.50,57.50 353.50,57.34 353.51,57.18 353.51,57.01 353.51,56.87 353.52,56.76 353.52,56.68 353.52,56.65 353.53,56.65 353.53,56.69 353.53,56.75 353.54,56.83 353.54,56.91 353.54,56.99 353.55,57.06 353.55,57.11 353.55,57.15 353.56,57.17 353.56,57.16 353.57,57.15 353.57,57.12 353.57,57.08 353.58,57.04" fill="none" stroke="#ff0000" stroke-width="0.5"/>
<polyline points="351.74,56.97 351.76,56.98 351.77,57.01 351.78,57.03 351.79,57.03 351.80,56.99 351.81,56.96 351.83,56.96 351.84,57.01 351.85,57.05 351.86,57.05 351.87,56.99 351.89,56.93 351.90,56.94 351.91,57.01 351.92,57.08 351.93,57.08 351.94,56.99 351.96,56.90 351.97,56.90 351.98,57.01 351.99,57.12 352.00,57.12 352.02,56.99 352.03,56.85 352.04,56.85 352.05,57.01 352.06,57.18 352.07,57.18 352.09,56.99 352.10,56.79 352.11,56.78 352.12,57.00 352.13,57.25 352.14,57.26 352.16,57.00 352.17,56.71 352.18,56.68 352.19,56.99 352.20,57.34 352.22,57.38 352.23,57.02 352.24,56.60 352.25,56.55 352.26,56.97 352.27,57.46 352.29,57.53 352.30,57.05 352.31,56.47 352.32,56.39 352.33,56.93 352.35,57.60 352.36,57.71 352.37,57.09 352.38,56.32 352.39,56.18 352.40,56.88 352.42,57.76 352.43,57.94 352.44,57.16 352.45,56.15 352.46,55.93 352.47,56.80 352.49,57.94 352.50,58.21 352.51,57.25 352.52,55.96 352.53,55.64 352.55,56.69 352.56,58.14 352.57,58.51 352.58,57.37 352.59,55.77 352.60,55.32 352.62,56.56 352.63,58.33 352.64,58.85 352.65,57.51 352.66,55.57 352.68,54.98 352.69,56.40 352.70,58.52 352.71,59.20 352.72,57.68 352.73,55.40 352.75,54.62 352.76,56.22 352.77,58.68 352.78,59.55 352.79,57.88 352.81,55.24 352.82,54.28 352.83,56.02 352.84,58.82 352.85,59.88 352.86,58.08 352.88,55.13 352.89,53.96 352.90,55.81 352.91,58.91 352.92,60.18 352.93,58.29 352.95,55.06 352.96,53.70 352.97,55.61 352.98,58.95 352.99,60.41 353.01,58.49 353.02,55.05 353.03,53.50 353.04,55.42 353.05,58.93 353.06,60.57 353.08,58.67 353.09,55.09 353.10,53.39 353.11,55.26 353.12,58.86 353.14,60.64 353.15,58.81 353.16,55.19 353.17,53.36 353.18,55.14 353.19,58.74 353.21,60.61 353.22,58.91 353.23,55.33 353.24,53.43 353.25,55.07 353.27,58.58 353.28,60.50 353.29,58.95 353.30,55.51 353.31,53.59 353.32,55.05 353.34,58.39 353.35,60.30 353.36,58.94 353.37,55.71 353.38,53.82 353.39,55.09 353.41,58.19 353.42,60.04 353.43,58.87 353.44,55.92 353.45,54.12 353.47,55.18 353.48,57.98 353.49,59.72 353.50,58.76 353.51,56.12 353.52,54.45 353.54,55.32 353.55,57.78 353.56,59.38 353.57,58.60 353.58,56.32 353.60,54.80 353.61,55.48 353.62,57.60 353.63,59.02 353.64,58.43 353.65,56.49 353.67,55.15 353.68,55.67 353.69,57.44 353.70,58.68 353.71,58.23 353.73,56.63 353.74,55.49 353.75,55.86 353.76,57.31 353.77,58.36 353.78,58.04 353.80,56.75 353.81,55.79 353.82,56.06 353.83,57.20 353.84,58.07 353.85,57.85 353.87,56.84 353.88,56.06 353.89,56.24 353.90,57.12 353.91,57.82 353.93,57.68 353.94,56.91 353.95,56.29 353.96,56.40 353.97,57.07 353.98,57.61 354.00,57.53 354.01,56.95 354.02,56.47 354.03,56.54 354.04,57.03 354.06,57.45 354.07,57.40 354.08,56.98 354.09,56.62 354.10,56.66 354.11,57.01 354.13,57.32 354.14,57.29 354.15,57.00 354.16,56.74 354.17,56.75 354.19,57.00 354.20,57.22 354.21,57.21 354.22,57.01 354.23,56.82 354.24,56.82 354.26,56.99 354.27,57.15 354.28,57.15 354.29,57.01 354.30,56.88 354.31,56.88 354.33,56.99 354.34,57.10 354.35,57.10 354.36,57.01 354.37,56.92 354.39,56.92 354.40,56.99 354.41,57.06 354.42,57.07 354.43,57.01 354.44,56.95 354.46,56.95 354.47,56.99 354.48,57.04 354.49,57.04 354.50,57.01 354.52,56.97 354.53,56.97 354.54,56.99 354.55,57.02 354.56,57.03" fill="none" stroke="#ff0000" stroke-width="0.5"/>
<polyline points="357.28,56.98 357.29,56.97 357.30,56.98 357.31,57.01 357.32,57.04 357.33,57.04 357.34,57.01 357.34,56.97 357.35,56.95 357.36,56.95 357.37,56.99 357.38,57.05 357.39,57.07 357.40,57.05 357.41,56.99 357.42,56.93 357.43,56.91 357.44,56.95 357.45,57.03 357.46,57.11 357.47,57.12 357.48,57.05 357.49,56.93 357.50,56.85 357.51,56.86 357.51,56.97 357.52,57.12 357.53,57.20 357.54,57.15 357.55,56.99 357.56,56.82 357.57,56.75 357.58,56.84 357.59,57.06 357.60,57.26 357.61,57.31 357.62,57.14 357.63,56.86 357.64,56.64 357.65,56.64 357.66,56.90 357.67,57.25 357.68,57.47 357.68,57.39 357.69,57.03 357.70,56.61 357.71,56.42 357.72,56.61 357.73,57.09 357.74,57.56 357.75,57.69 357.76,57.36 357.77,56.75 357.78,56.25 357.79,56.23 357.80,56.73 357.81,57.46 357.82,57.95 357.83,57.82 357.84,57.13 357.84,56.28 357.85,55.86 357.86,56.18 357.87,57.08 357.88,58.00 357.89,58.31 357.90,57.75 357.91,56.64 357.92,55.69 357.93,55.56 357.94,56.40 357.95,57.71 357.96,58.62 357.97,58.50 357.98,57.35 357.99,55.89 358.00,55.09 358.01,55.53 358.01,56.99 358.02,58.54 358.03,59.14 358.04,58.33 358.05,56.59 358.06,55.03 358.07,54.72 358.08,55.92 358.09,57.91 358.10,59.38 358.11,59.32 358.12,57.71 358.13,55.55 358.14,54.28 358.15,54.77 358.16,56.77 358.17,59.00 358.18,59.97 358.18,59.00 358.19,56.66 358.20,54.48 358.21,53.91 358.22,55.38 358.23,57.96 358.24,59.97 358.25,60.06 358.26,58.13 358.27,55.40 358.28,53.68 358.29,54.12 358.30,56.47 358.31,59.20 358.32,60.52 358.33,59.54 358.34,56.87 358.34,54.26 358.35,53.43 358.36,54.94 358.37,57.81 358.38,60.17 358.39,60.45 358.40,58.47 358.41,55.53 358.42,53.55 358.43,53.83 358.44,56.19 358.45,59.06 358.46,60.57 358.47,59.74 358.48,57.13 358.49,54.46 358.50,53.48 358.51,54.80 358.51,57.53 358.52,59.88 358.53,60.32 358.54,58.60 358.55,55.87 358.56,53.94 358.57,54.03 358.58,56.04 358.59,58.62 358.60,60.09 358.61,59.52 358.62,57.34 358.63,55.00 358.64,54.03 358.65,55.00 358.66,57.23 358.67,59.23 358.68,59.72 358.68,58.45 358.69,56.29 358.70,54.68 358.71,54.62 358.72,56.09 358.73,58.08 358.74,59.28 358.75,58.97 358.76,57.41 358.77,55.67 358.78,54.86 358.79,55.46 358.80,57.01 358.81,58.47 358.82,58.91 358.83,58.11 358.84,56.65 358.84,55.50 358.85,55.38 358.86,56.29 358.87,57.60 358.88,58.44 358.89,58.31 358.90,57.36 358.91,56.25 358.92,55.69 358.93,56.00 358.94,56.92 358.95,57.82 358.96,58.14 358.97,57.72 358.98,56.87 358.99,56.18 359.00,56.05 359.01,56.54 359.01,57.27 359.02,57.77 359.03,57.75 359.04,57.25 359.05,56.64 359.06,56.31 359.07,56.44 359.08,56.91 359.09,57.39 359.10,57.58 359.11,57.39 359.12,56.97 359.13,56.61 359.14,56.53 359.15,56.75 359.16,57.10 359.17,57.36 359.18,57.36 359.18,57.14 359.19,56.86 359.20,56.69 359.21,56.74 359.22,56.94 359.23,57.16 359.24,57.25 359.25,57.18 359.26,57.01 359.27,56.85 359.28,56.80 359.29,56.88 359.30,57.03 359.31,57.14 359.32,57.15 359.33,57.07 359.34,56.95 359.35,56.88 359.35,56.89 359.36,56.97 359.37,57.05 359.38,57.09 359.39,57.07 359.40,57.01 359.41,56.95 359.42,56.93 359.43,56.95 359.44,57.01 359.45,57.05 359.46,57.05 359.47,57.03 359.48,56.99 359.49,56.96 359.50,56.96 359.51,56.99 359.51,57.02 359.52,57.03 359.53,57.02" fill="none" stroke="#ff0000" stroke-width="0.5"/>
<polyline points="424.74,56.94 424.74,56.88 424.74,56.83 424.75,56.79 424.75,56.77 424.75,56.77 424.76,56.79 424.76,56.84 424.76,56.92 424.77,57.02 424.77,57.13 424.78,57.24 424.78,57.35 424.78,57.44 424.79,57.49 424.79,57.49 424.79,57.44 424.80,57.34 424.80,57.18 424.80,56.98 424.81,56.75 424.81,56.52 424.81,56.30 424.82,56.13 424.82,56.04 424.83,56.03 424.83,56.12 424.83,56.33 424.84,56.63 424.84,57.01 424.84,57.44 424.85,57.88 424.85,58.29 424.85,58.60 424.86,58.78 424.86,58.80 424.86,58.62 424.87,58.25 424.87,57.71 424.87,57.02 424.88,56.26 424.88,55.48 424.89,54.78 424.89,54.24 424.89,53.92 424.90,53.90 424.90,54.20 424.90,54.83 424.91,55.75 424.91,56.89 424.91,58.16 424.92,59.43 424.92,60.58 424.92,61.46 424.93,61.96 424.93,61.99 424.93,61.50 424.94,60.51 424.94,59.07 424.95,57.28 424.95,55.32 424.95,53.36 424.96,51.61 424.96,50.28 424.96,49.54 424.97,49.50 424.97,50.22 424.97,51.70 424.98,53.82 424.98,56.43 424.98,59.27 424.99,62.09 424.99,64.57 424.99,66.45 425.00,67.50 425.00,67.54 425.01,66.52 425.01,64.48 425.01,61.56 425.02,58.00 425.02,54.15 425.02,50.37 425.03,47.06 425.03,44.57 425.03,43.21 425.04,43.16 425.04,44.50 425.04,47.15 425.05,50.91 425.05,55.44 425.05,60.32 425.06,65.06 425.06,69.19 425.07,72.26 425.07,73.93 425.07,73.97 425.08,72.33 425.08,69.11 425.08,64.60 425.09,59.19 425.09,53.42 425.09,47.85 425.10,43.04 425.10,39.49 425.10,37.59 425.11,37.56 425.11,39.44 425.12,43.09 425.12,48.17 425.12,54.19 425.13,60.58 425.13,66.69 425.13,71.93 425.14,75.76 425.14,77.79 425.14,77.80 425.15,75.78 425.15,71.91 425.15,66.58 425.16,60.30 425.16,53.70 425.16,47.42 425.17,42.09 425.17,38.22 425.18,36.20 425.18,36.21 425.18,38.24 425.19,42.07 425.19,47.31 425.19,53.42 425.20,59.81 425.20,65.83 425.20,70.91 425.21,74.56 425.21,76.44 425.21,76.41 425.22,74.51 425.22,70.96 425.22,66.15 425.23,60.58 425.23,54.81 425.24,49.40 425.24,44.89 425.24,41.67 425.25,40.03 425.25,40.07 425.25,41.74 425.26,44.81 425.26,48.94 425.26,53.68 425.27,58.56 425.27,63.09 425.27,66.85 425.28,69.50 425.28,70.84 425.28,70.79 425.29,69.43 425.29,66.94 425.30,63.63 425.30,59.85 425.30,56.00 425.31,52.44 425.31,49.52 425.31,47.48 425.32,46.46 425.32,46.50 425.32,47.55 425.33,49.43 425.33,51.91 425.33,54.73 425.34,57.57 425.34,60.18 425.35,62.30 425.35,63.78 425.35,64.50 425.36,64.46 425.36,63.72 425.36,62.39 425.37,60.64 425.37,58.68 425.37,56.72 425.38,54.93 425.38,53.49 425.38,52.50 425.39,52.01 425.39,52.04 425.39,52.54 425.40,53.42 425.40,54.57 425.41,55.84 425.41,57.11 425.41,58.25 425.42,59.17 425.42,59.80 425.42,60.10 425.43,60.08 425.43,59.76 425.43,59.22 425.44,58.52 425.44,57.74 425.44,56.98 425.45,56.29 425.45,55.75 425.45,55.38 425.46,55.20 425.46,55.22 425.47,55.40 425.47,55.71 425.47,56.12 425.48,56.56 425.48,56.99 425.48,57.37 425.49,57.67 425.49,57.88 425.49,57.97 425.50,57.96 425.50,57.87 425.50,57.70 425.51,57.48 425.51,57.25 425.51,57.02 425.52,56.82 425.52,56.66 425.53,56.56 425.53,56.51 425.53,56.51 425.54,56.56 425.54,56.65 425.54,56.76 425.55,56.87 425.55,56.98 425.55,57.08 425.56,57.16 425.56,57.21 425.56,57.23 425.57,57.23 425.57,57.21 425.58,57.17 425.58,57.12 425.58,57.06" fill="none" stroke="#ff0000" stroke-width="0.5"/>
<polyline points="423.75,56.97 423.76,56.97 423.77,57.01 423.79,57.04 423.80,57.04 423.81,56.99 423.82,56.95 423.83,56.95 423.84,57.01 423.86,57.07 423.87,57.06 423.88,56.99 423.89,56.92 423.90,56.92 423.92,57.01 423.93,57.10 423.94,57.10 423.95,56.99 423.96,56.87 423.97,56.88 423.99,57.01 424.00,57.15 424.01,57.15 424.02,56.99 424.03,56.81 424.04,56.82 424.06,57.01 424.07,57.22 424.08,57.23 424.09,56.99 424.10,56.74 424.12,56.73 424.13,57.00 424.14,57.31 424.15,57.33 424.16,57.00 424.17,56.63 424.19,56.60 424.20,56.99 424.21,57.43 424.22,57.47 424.23,57.02 424.25,56.50 424.26,56.44 424.27,56.96 424.28,57.58 424.29,57.66 424.30,57.06 424.32,56.34 424.33,56.23 424.34,56.91 424.35,57.75 424.36,57.89 424.38,57.12 424.39,56.15 424.40,55.98 424.41,56.84 424.42,57.95 424.43,58.17 424.45,57.20 424.46,55.94 424.47,55.66 424.48,56.75 424.49,58.18 424.50,58.51 424.52,57.31 424.53,55.70 424.54,55.30 424.55,56.62 424.56,58.42 424.58,58.89 424.59,57.46 424.60,55.46 424.61,54.90 424.62,56.45 424.63,58.66 424.65,59.31 424.66,57.64 424.67,55.22 424.68,54.47 424.69,56.26 424.71,58.90 424.72,59.75 424.73,57.86 424.74,55.00 424.75,54.03 424.76,56.03 424.78,59.10 424.79,60.19 424.80,58.10 424.81,54.81 424.82,53.60 424.84,55.78 424.85,59.27 424.86,60.61 424.87,58.35 424.88,54.66 424.89,53.20 424.91,55.51 424.92,59.39 424.93,60.97 424.94,58.62 424.95,54.58 424.96,52.87 424.98,55.26 424.99,59.44 425.00,61.26 425.01,58.87 425.02,54.56 425.04,52.63 425.05,55.02 425.06,59.42 425.07,61.46 425.08,59.09 425.09,54.62 425.11,52.48 425.12,54.82 425.13,59.33 425.14,61.55 425.15,59.26 425.17,54.74 425.18,52.45 425.19,54.67 425.20,59.18 425.21,61.52 425.22,59.38 425.24,54.91 425.25,52.54 425.26,54.58 425.27,58.98 425.28,61.37 425.30,59.44 425.31,55.13 425.32,52.74 425.33,54.56 425.34,58.74 425.35,61.13 425.37,59.42 425.38,55.38 425.39,53.03 425.40,54.61 425.41,58.49 425.42,60.80 425.44,59.34 425.45,55.65 425.46,53.39 425.47,54.73 425.48,58.22 425.50,60.40 425.51,59.19 425.52,55.90 425.53,53.81 425.54,54.90 425.55,57.97 425.57,59.97 425.58,59.00 425.59,56.14 425.60,54.25 425.61,55.10 425.63,57.74 425.64,59.53 425.65,58.78 425.66,56.36 425.67,54.69 425.68,55.34 425.70,57.55 425.71,59.10 425.72,58.54 425.73,56.54 425.74,55.11 425.75,55.58 425.77,57.38 425.78,58.70 425.79,58.30 425.80,56.69 425.81,55.49 425.83,55.82 425.84,57.25 425.85,58.34 425.86,58.06 425.87,56.80 425.88,55.83 425.90,56.05 425.91,57.16 425.92,58.02 425.93,57.85 425.94,56.88 425.96,56.11 425.97,56.25 425.98,57.09 425.99,57.77 426.00,57.66 426.01,56.94 426.03,56.34 426.04,56.42 426.05,57.04 426.06,57.56 426.07,57.50 426.09,56.98 426.10,56.53 426.11,56.57 426.12,57.01 426.13,57.40 426.14,57.37 426.16,57.00 426.17,56.67 426.18,56.69 426.19,57.00 426.20,57.27 426.21,57.26 426.23,57.01 426.24,56.77 426.25,56.78 426.26,56.99 426.27,57.18 426.29,57.19 426.30,57.01 426.31,56.85 426.32,56.85 426.33,56.99 426.34,57.12 426.36,57.13 426.37,57.01 426.38,56.90 426.39,56.90 426.40,56.99 426.42,57.08 426.43,57.08 426.44,57.01 426.45,56.94 426.46,56.93 426.47,56.99 426.49,57.05 426.50,57.05 426.51,57.01 426.52,56.96 426.53,56.96 426.55,56.99 426.56,57.03 426.57,57.03" fill="none" stroke="#ff0000" stroke-width="0.5"/>
<line x1="44.5" y1="10.95" x2="44.5" y2="103.05" stroke="#505050" stroke-width="1.1"/>
<line x1="454.5" y1="10.95" x2="454.5" y2="103.05" stroke="#505050" stroke-width="1.1"/>
<line x1="44.5" y1="11.5" x2="454.5" y2="11.5" stroke="#6e6e6e" stroke-width="1.1"/>
<line x1="44.5" y1="102.5" x2="454.5" y2="102.5" stroke="#6e6e6e" stroke-width="1.1"/>
<line x1="44.50" y1="102.5" x2="44.50" y2="99.5" stroke="#585858" stroke-width="0.8"/>
<line x1="44.50" y1="11.5" x2="44.50" y2="14.5" stroke="#585858" stroke-width="0.8"/>
<text x="45.80" y="118.00" text-anchor="middle" style="font-family:'Liberation Sans',Arial,sans-serif;font-size:10.2px" fill="#111">0</text>
<line x1="108.56" y1="102.5" x2="108.56" y2="99.5" stroke="#585858" stroke-width="0.8"/>
<line x1="108.56" y1="11.5" x2="108.56" y2="14.5" stroke="#585858" stroke-width="0.8"/>
<text x="109.86" y="118.00" text-anchor="middle" style="font-family:'Liberation Sans',Arial,sans-serif;font-size:10.2px" fill="#111">5</text>
<line x1="172.62" y1="102.5" x2="172.62" y2="99.5" stroke="#585858" stroke-width="0.8"/>
<line x1="172.62" y1="11.5" x2="172.62" y2="14.5" stroke="#585858" stroke-width="0.8"/>
<text x="173.93" y="118.00" text-anchor="middle" style="font-family:'Liberation Sans',Arial,sans-serif;font-size:10.2px" fill="#111">10</text>
<line x1="236.69" y1="102.5" x2="236.69" y2="99.5" stroke="#585858" stroke-width="0.8"/>
<line x1="236.69" y1="11.5" x2="236.69" y2="14.5" stroke="#585858" stroke-width="0.8"/>
<text x="237.99" y="118.00" text-anchor="middle" style="font-family:'Liberation Sans',Arial,sans-serif;font-size:10.2px" fill="#111">15</text>
<line x1="300.75" y1="102.5" x2="300.75" y2="99.5" stroke="#585858" stroke-width="0.8"/>
<line x1="300.75" y1="11.5" x2="300.75" y2="14.5" stroke="#585858" stroke-width="0.8"/>
<text x="302.05" y="118.00" text-anchor="middle" style="font-family:'Liberation Sans',Arial,sans-serif;font-size:10.2px" fill="#111">20</text>
<line x1="364.81" y1="102.5" x2="364.81" y2="99.5" stroke="#585858" stroke-width="0.8"/>
<line x1="364.81" y1="11.5" x2="364.81" y2="14.5" stroke="#585858" stroke-width="0.8"/>
<text x="366.11" y="118.00" text-anchor="middle" style="font-family:'Liberation Sans',Arial,sans-serif;font-size:10.2px" fill="#111">25</text>
<line x1="428.88" y1="102.5" x2="428.88" y2="99.5" stroke="#585858" stroke-width="0.8"/>
<line x1="428.88" y1="11.5" x2="428.88" y2="14.5" stroke="#585858" stroke-width="0.8"/>
<text x="430.18" y="118.00" text-anchor="middle" style="font-family:'Liberation Sans',Arial,sans-serif;font-size:10.2px" fill="#111">30</text>
<line x1="44.5" y1="102.50" x2="47.5" y2="102.50" stroke="#585858" stroke-width="0.8"/>
<line x1="454.5" y1="102.50" x2="451.5" y2="102.50" stroke="#585858" stroke-width="0.8"/>
<text x="38.0" y="105.50" text-anchor="end" style="font-family:'Liberation Sans',Arial,sans-serif;font-size:10.2px" fill="#111">-15</text>
<line x1="44.5" y1="87.33" x2="47.5" y2="87.33" stroke="#585858" stroke-width="0.8"/>
<line x1="454.5" y1="87.33" x2="451.5" y2="87.33" stroke="#585858" stroke-width="0.8"/>
<text x="38.0" y="90.33" text-anchor="end" style="font-family:'Liberation Sans',Arial,sans-serif;font-size:10.2px" fill="#111">-10</text>
<line x1="44.5" y1="72.17" x2="47.5" y2="72.17" stroke="#585858" stroke-width="0.8"/>
<line x1="454.5" y1="72.17" x2="451.5" y2="72.17" stroke="#585858" stroke-width="0.8"/>
<text x="38.0" y="75.17" text-anchor="end" style="font-family:'Liberation Sans',Arial,sans-serif;font-size:10.2px" fill="#111">-5</text>
<line x1="44.5" y1="57.00" x2="47.5" y2="57.00" stroke="#585858" stroke-width="0.8"/>
<line x1="454.5" y1="57.00" x2="451.5" y2="57.00" stroke="#585858" stroke-width="0.8"/>
<text x="38.0" y="60.00" text-anchor="end" style="font-family:'Liberation Sans',Arial,sans-serif;font-size:10.2px" fill="#111">0</text>
<line x1="44.5" y1="41.83" x2="47.5" y2="41.83" stroke="#585858" stroke-width="0.8"/>
<line x1="454.5" y1="41.83" x2="451.5" y2="41.83" stroke="#585858" stroke-width="0.8"/>
<text x="38.0" y="44.83" text-anchor="end" style="font-family:'Liberation Sans',Arial,sans-serif;font-size:10.2px" fill="#111">5</text>
<line x1="44.5" y1="26.67" x2="47.5" y2="26.67" stroke="#585858" stroke-width="0.8"/>
<line x1="454.5" y1="26.67" x2="451.5" y2="26.67" stroke="#585858" stroke-width="0.8"/>
<text x="38.0" y="29.67" text-anchor="end" style="font-family:'Liberation Sans',Arial,sans-serif;font-size:10.2px" fill="#111">10</text>
<line x1="44.5" y1="11.50" x2="47.5" y2="11.50" stroke="#585858" stroke-width="0.8"/>
<line x1="454.5" y1="11.50" x2="451.5" y2="11.50" stroke="#585858" stroke-width="0.8"/>
<text x="38.0" y="14.50" text-anchor="end" style="font-family:'Liberation Sans',Arial,sans-serif;font-size:10.2px" fill="#111">15</text>
<text transform="translate(12.0,57.00) rotate(-90) scale(1.07,1)" text-anchor="middle" style="font-family:'Liberation Sans',Arial,sans-serif;font-size:10.2px" fill="#111">h(t)</text>
<text x="249.2" y="136.00" text-anchor="middle" style="font-family:'Liberation Sans',Arial,sans-serif;font-size:10.4px" fill="#111">t (seconds)</text>
<polyline points="44.50,198.36 44.55,200.78 44.59,200.40 44.64,207.29 44.68,192.89 44.73,195.11 44.77,200.11 44.82,196.37 44.86,198.04 44.91,200.88 44.96,195.68 45.00,200.06 45.05,200.12 45.09,201.69 45.14,197.45 45.18,199.34 45.23,197.15 45.27,201.06 45.32,198.57 45.37,202.03 45.41,196.14 45.46,198.36 45.50,197.88 45.55,197.61 45.59,202.43 45.64,196.34 45.68,192.01 45.73,204.57 45.78,204.88 45.82,204.11 45.87,196.14 45.91,198.56 45.96,195.34 46.00,196.55 46.05,198.28 46.09,198.04 46.14,199.58 46.19,196.05 46.23,202.84 46.28,200.43 46.32,198.17 46.37,192.88 46.41,201.60 46.46,202.67 46.50,200.91 46.55,195.71 46.60,199.80 46.64,194.50 46.69,205.36 46.73,195.17 46.78,195.48 46.82,203.82 46.87,198.48 46.91,194.87 46.96,198.70 47.01,195.60 47.05,190.93 47.10,198.07 47.14,199.95 47.19,201.62 47.23,196.80 47.28,199.67 47.32,199.61 47.37,199.36 47.42,196.79 47.46,202.62 47.51,204.20 47.55,207.27 47.60,194.93 47.64,198.75 47.69,193.87 47.73,199.03 47.78,201.52 47.83,197.38 47.87,199.26 47.92,203.26 47.96,202.01 48.01,193.00 48.05,197.80 48.10,197.59 48.14,199.94 48.19,201.34 48.24,195.97 48.28,199.36 48.33,201.58 48.37,199.46 48.42,202.08 48.46,198.35 48.51,195.16 48.55,201.84 48.60,194.15 48.65,201.27 48.69,198.48 48.74,201.84 48.78,199.76 48.83,198.84 48.87,200.48 48.92,201.39 48.96,201.30 49.01,201.79 49.06,204.33 49.10,199.89 49.15,197.64 49.19,195.91 49.24,196.80 49.28,190.65 49.33,197.92 49.37,200.55 49.42,192.64 49.47,202.56 49.51,195.71 49.56,202.24 49.60,197.80 49.65,205.69 49.69,195.94 49.74,199.54 49.79,202.29 49.83,193.30 49.88,196.40 49.92,198.84 49.97,201.53 50.01,199.15 50.06,199.56 50.10,196.54 50.15,196.29 50.20,201.27 50.24,200.87 50.29,200.81 50.33,203.58 50.38,201.01 50.42,199.31 50.47,196.65 50.51,194.51 50.56,201.75 50.61,197.13 50.65,200.51 50.70,191.95 50.74,199.17 50.79,197.29 50.83,202.18 50.88,201.75 50.92,198.31 50.97,200.30 51.02,197.80 51.06,204.31 51.11,196.75 51.15,202.06 51.20,193.15 51.24,199.98 51.29,195.27 51.33,203.74 51.38,197.54 51.43,202.02 51.47,200.65 51.52,198.92 51.56,200.08 51.61,198.10 51.65,196.46 51.70,196.78 51.74,199.30 51.79,203.63 51.84,201.73 51.88,199.67 51.93,206.21 51.97,196.44 52.02,199.81 52.06,199.85 52.11,195.78 52.15,196.73 52.20,198.25 52.25,202.40 52.29,197.95 52.34,197.82 52.38,202.01 52.43,195.46 52.47,197.27 52.52,205.69 52.56,198.59 52.61,203.30 52.66,195.14 52.70,196.26 52.75,202.75 52.79,202.01 52.84,198.65 52.88,199.81 52.93,193.82 52.97,196.48 53.02,199.96 53.07,197.04 53.11,205.90 53.16,197.95 53.20,196.06 53.25,199.61 53.29,201.41 53.34,197.08 53.38,192.35 53.43,198.30 53.48,202.81 53.52,194.09 53.57,205.38 53.61,197.29 53.66,200.98 53.70,195.84 53.75,201.89 53.79,194.50 53.84,197.98 53.89,204.87 53.93,205.71 53.98,200.07 54.02,194.60 54.07,198.57 54.11,198.77 54.16,199.80 54.20,196.49 54.25,197.72 54.30,198.05 54.34,202.35 54.39,194.96 54.43,194.37 54.48,203.42 54.52,191.18 54.57,196.55 54.61,200.66 54.66,205.47 54.71,196.77 54.75,197.11 54.80,201.02 54.84,205.08 54.89,195.18 54.93,201.00 54.98,200.60 55.02,189.33 55.07,191.77 55.12,195.76 55.16,200.55 55.21,196.79 55.25,206.75 55.30,198.64 55.34,201.58 55.39,203.37 55.43,204.38 55.48,197.22 55.53,198.70 55.57,198.46 55.62,196.14 55.66,201.87 55.71,203.20 55.75,205.03 55.80,200.14 55.84,196.42 55.89,199.51 55.94,196.82 55.98,203.01 56.03,200.59 56.07,201.60 56.12,203.24 56.16,192.68 56.21,196.10 56.25,201.59 56.30,201.60 56.35,199.19 56.39,203.90 56.44,197.52 56.48,203.40 56.53,200.26 56.57,202.48 56.62,200.63 56.66,203.52 56.71,204.34 56.76,202.28 56.80,201.31 56.85,200.00 56.89,198.77 56.94,193.81 56.98,196.24 57.03,199.86 57.07,196.53 57.12,201.34 57.17,194.08 57.21,197.13 57.26,203.61 57.30,196.43 57.35,196.23 57.39,208.12 57.44,201.54 57.48,200.61 57.53,205.55 57.58,202.63 57.62,202.22 57.67,197.28 57.71,197.98 57.76,190.08 57.80,200.34 57.85,195.08 57.89,198.73 57.94,198.08 57.99,202.94 58.03,205.49 58.08,201.61 58.12,196.41 58.17,193.62 58.21,196.95 58.26,197.31 58.30,201.85 58.35,193.79 58.40,194.43 58.44,200.80 58.49,199.16 58.53,202.38 58.58,194.02 58.62,197.62 58.67,199.32 58.71,197.62 58.76,197.50 58.81,200.40 58.85,203.22 58.90,203.36 58.94,204.91 58.99,197.43 59.03,191.46 59.08,204.77 59.12,198.53 59.17,197.60 59.22,202.35 59.26,198.31 59.31,202.73 59.35,194.92 59.40,201.02 59.44,198.66 59.49,196.68 59.54,200.46 59.58,205.09 59.63,200.80 59.67,196.41 59.72,199.29 59.76,198.22 59.81,202.67 59.85,198.51 59.90,196.53 59.95,198.88 59.99,192.52 60.04,199.71 60.08,202.54 60.13,204.50 60.17,195.09 60.22,199.20 60.26,195.56 60.31,197.45 60.36,193.48 60.40,194.70 60.45,200.28 60.49,198.07 60.54,195.31 60.58,203.20 60.63,194.07 60.67,194.88 60.72,195.66 60.77,199.68 60.81,197.97 60.86,202.80 60.90,198.80 60.95,201.00 60.99,198.71 61.04,200.68 61.08,198.04 61.13,194.99 61.18,203.45 61.22,195.86 61.27,205.77 61.31,206.34 61.36,199.41 61.40,198.98 61.45,197.50 61.49,204.60 61.54,199.20 61.59,198.57 61.63,194.74 61.68,199.35 61.72,197.20 61.77,202.32 61.81,199.64 61.86,200.51 61.90,196.61 61.95,202.36 62.00,201.83 62.04,197.04 62.09,192.92 62.13,197.70 62.18,197.97 62.22,200.18 62.27,195.30 62.31,197.17 62.36,193.11 62.41,197.88 62.45,202.22 62.50,200.94 62.54,202.35 62.59,203.25 62.63,194.71 62.68,196.26 62.72,203.21 62.77,192.95 62.82,198.17 62.86,202.25 62.91,197.69 62.95,199.24 63.00,201.62 63.04,205.60 63.09,198.88 63.13,198.01 63.18,207.76 63.23,197.11 63.27,196.90 63.32,200.60 63.36,198.62 63.41,199.95 63.45,201.84 63.50,200.22 63.54,194.41 63.59,203.93 63.64,198.19 63.68,198.37 63.73,201.40 63.77,200.50 63.82,203.76 63.86,201.89 63.91,198.95 63.95,197.89 64.00,202.05 64.05,188.62 64.09,200.94 64.14,198.57 64.18,199.78 64.23,200.36 64.27,194.58 64.32,200.63 64.36,194.47 64.41,195.12 64.46,202.55 64.50,195.48 64.55,201.21 64.59,189.70 64.64,200.31 64.68,202.20 64.73,205.49 64.77,203.39 64.82,200.97 64.87,202.39 64.91,203.17 64.96,201.36 65.00,199.70 65.05,194.08 65.09,204.79 65.14,200.87 65.18,202.24 65.23,204.15 65.28,203.30 65.32,202.08 65.37,196.56 65.41,199.66 65.46,200.83 65.50,196.92 65.55,198.05 65.59,199.76 65.64,197.69 65.69,201.81 65.73,196.87 65.78,197.41 65.82,200.40 65.87,203.14 65.91,193.84 65.96,198.68 66.00,188.63 66.05,201.22 66.10,196.10 66.14,200.47 66.19,198.14 66.23,196.17 66.28,201.72 66.32,199.34 66.37,198.45 66.41,198.62 66.46,196.97 66.51,195.50 66.55,196.19 66.60,198.10 66.64,200.17 66.69,202.88 66.73,201.46 66.78,200.80 66.82,196.74 66.87,200.13 66.92,203.28 66.96,196.92 67.01,201.56 67.05,201.79 67.10,199.73 67.14,197.19 67.19,207.56 67.23,202.55 67.28,198.30 67.33,200.74 67.37,201.35 67.42,201.04 67.46,194.76 67.51,199.64 67.55,197.29 67.60,196.42 67.64,199.52 67.69,198.76 67.74,199.97 67.78,200.37 67.83,204.41 67.87,194.68 67.92,200.39 67.96,202.29 68.01,200.92 68.05,193.85 68.10,197.19 68.15,197.51 68.19,203.12 68.24,203.90 68.28,196.64 68.33,200.03 68.37,202.60 68.42,194.61 68.46,198.01 68.51,200.67 68.56,201.33 68.60,201.36 68.65,196.98 68.69,200.45 68.74,204.71 68.78,193.02 68.83,198.94 68.87,194.35 68.92,194.33 68.97,200.46 69.01,197.31 69.06,196.50 69.10,196.79 69.15,199.11 69.19,201.29 69.24,199.00 69.28,201.45 69.33,201.09 69.38,205.87 69.42,198.60 69.47,202.63 69.51,200.82 69.56,199.16 69.60,198.00 69.65,192.53 69.70,198.32 69.74,203.82 69.79,198.53 69.83,201.04 69.88,197.65 69.92,201.32 69.97,201.42 70.01,200.73 70.06,201.13 70.11,205.20 70.15,201.27 70.20,199.05 70.24,194.92 70.29,199.99 70.33,200.26 70.38,197.03 70.42,197.17 70.47,193.57 70.52,197.01 70.56,199.07 70.61,194.45 70.65,193.80 70.70,200.62 70.74,198.46 70.79,204.71 70.83,200.24 70.88,202.00 70.93,199.73 70.97,200.64 71.02,199.56 71.06,199.35 71.11,197.32 71.15,198.22 71.20,200.91 71.24,203.38 71.29,194.80 71.34,194.18 71.38,200.54 71.43,197.09 71.47,204.18 71.52,204.31 71.56,199.92 71.61,194.00 71.65,202.56 71.70,201.83 71.75,193.54 71.79,205.43 71.84,196.80 71.88,197.34 71.93,199.70 71.97,198.36 72.02,190.09 72.06,202.83 72.11,200.07 72.16,199.81 72.20,201.34 72.25,203.56 72.29,193.59 72.34,198.25 72.38,204.97 72.43,201.39 72.47,197.62 72.52,197.63 72.57,203.89 72.61,199.31 72.66,198.11 72.70,197.67 72.75,197.66 72.79,205.19 72.84,192.73 72.88,198.28 72.93,192.86 72.98,189.27 73.02,199.55 73.07,203.19 73.11,196.06 73.16,199.61 73.20,200.53 73.25,202.51 73.29,193.27 73.34,200.50 73.39,203.75 73.43,200.52 73.48,202.93 73.52,198.46 73.57,200.42 73.61,202.59 73.66,196.96 73.70,201.19 73.75,196.54 73.80,194.72 73.84,200.23 73.89,201.20 73.93,198.32 73.98,195.97 74.02,199.01 74.07,198.52 74.11,199.09 74.16,197.94 74.21,196.86 74.25,201.40 74.30,200.64 74.34,198.85 74.39,201.26 74.43,198.54 74.48,197.18 74.52,199.07 74.57,201.05 74.62,201.64 74.66,193.05 74.71,196.02 74.75,202.80 74.80,201.86 74.84,192.63 74.89,193.87 74.93,198.56 74.98,195.07 75.03,204.05 75.07,199.00 75.12,196.48 75.16,205.32 75.21,201.66 75.25,196.34 75.30,195.16 75.34,201.02 75.39,198.02 75.44,193.56 75.48,200.30 75.53,203.53 75.57,199.21 75.62,200.34 75.66,194.58 75.71,198.46 75.75,201.72 75.80,190.84 75.85,200.70 75.89,197.39 75.94,196.70 75.98,196.34 76.03,198.41 76.07,197.01 76.12,199.23 76.16,203.82 76.21,199.75 76.26,199.67 76.30,199.60 76.35,198.54 76.39,201.12 76.44,194.50 76.48,193.68 76.53,206.48 76.57,198.97 76.62,201.41 76.67,207.85 76.71,197.61 76.76,201.10 76.80,200.28 76.85,201.21 76.89,195.31 76.94,194.79 76.98,198.06 77.03,196.65 77.08,199.38 77.12,198.52 77.17,201.52 77.21,198.88 77.26,201.42 77.30,197.73 77.35,196.19 77.39,197.94 77.44,194.98 77.49,189.86 77.53,206.16 77.58,198.95 77.62,200.93 77.67,200.55 77.71,203.61 77.76,198.82 77.80,199.88 77.85,201.15 77.90,199.86 77.94,201.01 77.99,206.96 78.03,195.34 78.08,200.03 78.12,202.23 78.17,197.96 78.21,201.25 78.26,206.39 78.31,195.99 78.35,204.70 78.40,199.74 78.44,198.59 78.49,194.41 78.53,194.96 78.58,198.44 78.62,201.59 78.67,200.41 78.72,195.31 78.76,192.93 78.81,197.15 78.85,201.19 78.90,195.50 78.94,200.28 78.99,200.39 79.03,199.95 79.08,197.00 79.13,198.06 79.17,195.63 79.22,194.60 79.26,197.25 79.31,206.92 79.35,204.77 79.40,198.46 79.44,199.22 79.49,191.67 79.54,199.10 79.58,199.52 79.63,195.79 79.67,195.38 79.72,199.81 79.76,197.39 79.81,202.85 79.86,202.21 79.90,194.80 79.95,203.78 79.99,195.87 80.04,196.69 80.08,196.39 80.13,195.90 80.17,197.07 80.22,206.29 80.27,202.41 80.31,201.03 80.36,195.91 80.40,202.82 80.45,201.39 80.49,200.25 80.54,194.50 80.58,203.91 80.63,203.61 80.68,196.84 80.72,206.25 80.77,197.87 80.81,200.51 80.86,204.40 80.90,200.41 80.95,202.39 80.99,198.48 81.04,197.72 81.09,193.95 81.13,199.09 81.18,198.59 81.22,201.00 81.27,199.10 81.31,195.36 81.36,205.62 81.40,196.74 81.45,200.76 81.50,198.85 81.54,197.82 81.59,196.10 81.63,198.30 81.68,200.20 81.72,198.00 81.77,199.03 81.81,199.53 81.86,198.44 81.91,196.03 81.95,198.38 82.00,198.68 82.04,203.27 82.09,199.35 82.13,205.55 82.18,196.33 82.22,202.23 82.27,194.80 82.32,188.53 82.36,200.54 82.41,194.57 82.45,197.31 82.50,201.23 82.54,201.76 82.59,196.85 82.63,194.70 82.68,197.48 82.73,204.08 82.77,202.97 82.82,199.27 82.86,194.59 82.91,198.32 82.95,197.30 83.00,195.37 83.04,199.70 83.09,198.77 83.14,200.32 83.18,204.68 83.23,197.13 83.27,198.38 83.32,194.98 83.36,203.15 83.41,202.40 83.45,194.88 83.50,198.47 83.55,194.59 83.59,200.98 83.64,199.30 83.68,201.02 83.73,197.25 83.77,201.85 83.82,196.33 83.86,195.15 83.91,197.83 83.96,203.84 84.00,196.31 84.05,198.19 84.09,201.07 84.14,203.18 84.18,198.99 84.23,195.79 84.27,202.17 84.32,203.71 84.37,197.37 84.41,200.14 84.46,189.17 84.50,203.59 84.55,191.77 84.59,191.11 84.64,199.13 84.68,193.91 84.73,196.76 84.78,197.59 84.82,200.99 84.87,197.39 84.91,204.70 84.96,202.82 85.00,199.58 85.05,203.26 85.09,194.79 85.14,195.53 85.19,200.81 85.23,196.33 85.28,200.27 85.32,204.76 85.37,196.05 85.41,201.52 85.46,197.94 85.50,201.69 85.55,208.31 85.60,197.59 85.64,198.20 85.69,196.45 85.73,192.09 85.78,196.08 85.82,199.03 85.87,188.97 85.91,208.56 85.96,193.66 86.01,183.50 86.05,215.53 86.10,178.48 86.14,198.44 86.19,219.74 86.23,177.91 86.28,205.86 86.32,207.23 86.37,192.58 86.42,199.30 86.46,197.13 86.51,198.28 86.55,201.74 86.60,199.19 86.64,195.80 86.69,202.90 86.73,199.39 86.78,201.42 86.83,202.36 86.87,195.42 86.92,203.56 86.96,200.04 87.01,195.16 87.05,193.28 87.10,195.58 87.14,207.63 87.19,203.13 87.24,198.81 87.28,197.52 87.33,195.65 87.37,194.37 87.42,207.55 87.46,199.09 87.51,196.52 87.55,199.15 87.60,194.48 87.65,201.10 87.69,197.16 87.74,203.77 87.78,198.05 87.83,199.48 87.87,189.77 87.92,201.52 87.96,205.98 88.01,195.01 88.06,202.13 88.10,194.16 88.15,199.98 88.19,203.30 88.24,194.48 88.28,197.82 88.33,196.97 88.37,203.00 88.42,193.16 88.47,202.09 88.51,195.09 88.56,202.78 88.60,204.87 88.65,198.79 88.69,199.18 88.74,193.70 88.78,197.02 88.83,197.48 88.88,196.37 88.92,188.07 88.97,202.59 89.01,194.08 89.06,199.56 89.10,198.66 89.15,200.15 89.19,195.42 89.24,203.47 89.29,202.91 89.33,200.23 89.38,202.83 89.42,196.26 89.47,196.39 89.51,201.24 89.56,196.25 89.61,201.65 89.65,198.75 89.70,199.10 89.74,192.84 89.79,198.63 89.83,202.36 89.88,202.14 89.92,194.66 89.97,204.96 90.02,200.48 90.06,200.17 90.11,207.58 90.15,200.40 90.20,195.61 90.24,198.38 90.29,201.86 90.33,196.76 90.38,197.30 90.43,191.96 90.47,201.66 90.52,200.29 90.56,198.77 90.61,199.61 90.65,198.63 90.70,199.34 90.74,201.46 90.79,204.35 90.84,200.93 90.88,203.78 90.93,202.49 90.97,200.92 91.02,197.30 91.06,196.06 91.11,202.61 91.15,197.96 91.20,196.28 91.25,199.25 91.29,204.58 91.34,206.38 91.38,196.39 91.43,195.91 91.47,198.15 91.52,202.66 91.56,194.11 91.61,194.98 91.66,199.23 91.70,199.82 91.75,205.76 91.79,196.52 91.84,204.56 91.88,196.79 91.93,196.59 91.97,198.77 92.02,193.73 92.07,200.17 92.11,197.09 92.16,196.38 92.20,198.23 92.25,200.52 92.29,194.90 92.34,197.65 92.38,199.75 92.43,199.64 92.48,198.64 92.52,191.34 92.57,198.72 92.61,199.90 92.66,202.70 92.70,203.22 92.75,205.54 92.79,198.29 92.84,198.99 92.89,202.58 92.93,204.14 92.98,200.20 93.02,200.87 93.07,203.63 93.11,198.07 93.16,198.61 93.20,199.27 93.25,196.48 93.30,201.32 93.34,194.48 93.39,202.55 93.43,197.35 93.48,196.94 93.52,199.99 93.57,197.91 93.61,203.47 93.66,204.21 93.71,199.79 93.75,201.59 93.80,197.10 93.84,199.00 93.89,197.01 93.93,198.02 93.98,198.41 94.02,198.79 94.07,200.37 94.12,200.69 94.16,192.19 94.21,205.09 94.25,199.75 94.30,195.70 94.34,197.69 94.39,194.33 94.43,197.24 94.48,203.41 94.53,200.24 94.57,203.88 94.62,195.78 94.66,194.22 94.71,200.60 94.75,197.30 94.80,200.51 94.84,204.00 94.89,200.69 94.94,204.47 94.98,201.07 95.03,198.48 95.07,196.59 95.12,194.79 95.16,200.32 95.21,198.22 95.25,197.85 95.30,197.24 95.35,208.70 95.39,202.03 95.44,196.30 95.48,202.89 95.53,198.63 95.57,195.99 95.62,205.72 95.66,200.10 95.71,197.84 95.76,199.54 95.80,204.46 95.85,197.40 95.89,201.83 95.94,196.08 95.98,197.28 96.03,202.04 96.07,197.78 96.12,201.55 96.17,202.54 96.21,203.29 96.26,200.70 96.30,197.05 96.35,197.34 96.39,200.76 96.44,201.18 96.48,199.60 96.53,199.17 96.58,202.69 96.62,191.39 96.67,203.29 96.71,187.45 96.76,196.69 96.80,204.59 96.85,189.84 96.89,203.33 96.94,198.73 96.99,190.94 97.03,206.93 97.08,199.58 97.12,198.58 97.17,207.65 97.21,197.92 97.26,198.56 97.30,200.25 97.35,196.82 97.40,201.56 97.44,197.34 97.49,204.92 97.53,201.95 97.58,200.39 97.62,195.50 97.67,198.35 97.71,196.09 97.76,199.12 97.81,197.10 97.85,202.09 97.90,199.42 97.94,207.11 97.99,193.00 98.03,194.49 98.08,201.61 98.12,201.96 98.17,207.06 98.22,204.58 98.26,198.92 98.31,200.36 98.35,204.31 98.40,201.20 98.44,201.94 98.49,197.73 98.53,197.17 98.58,200.31 98.63,199.00 98.67,199.61 98.72,206.59 98.76,198.84 98.81,199.78 98.85,196.92 98.90,205.72 98.94,196.93 98.99,201.63 99.04,198.59 99.08,195.39 99.13,204.48 99.17,203.95 99.22,196.11 99.26,203.35 99.31,202.75 99.35,197.43 99.40,200.17 99.45,196.84 99.49,198.46 99.54,199.56 99.58,196.13 99.63,192.04 99.67,199.81 99.72,194.44 99.77,195.62 99.81,199.09 99.86,197.91 99.90,202.65 99.95,201.56 99.99,198.52 100.04,199.63 100.08,195.04 100.13,203.88 100.18,200.46 100.22,201.63 100.27,199.98 100.31,195.51 100.36,203.56 100.40,196.57 100.45,201.46 100.49,200.56 100.54,196.06 100.59,200.42 100.63,197.18 100.68,199.06 100.72,200.04 100.77,200.67 100.81,205.33 100.86,201.98 100.90,198.87 100.95,198.75 101.00,204.50 101.04,196.02 101.09,197.48 101.13,203.85 101.18,202.97 101.22,197.70 101.27,205.40 101.31,201.94 101.36,199.59 101.41,199.84 101.45,199.60 101.50,198.07 101.54,202.11 101.59,201.05 101.63,192.41 101.68,204.16 101.72,200.91 101.77,199.01 101.82,201.58 101.86,195.22 101.91,199.13 101.95,196.79 102.00,208.26 102.04,195.33 102.09,195.46 102.13,201.93 102.18,194.92 102.23,198.45 102.27,196.20 102.32,193.18 102.36,199.00 102.41,202.78 102.45,199.37 102.50,203.67 102.54,202.05 102.59,201.92 102.64,201.74 102.68,195.35 102.73,196.47 102.77,202.36 102.82,195.46 102.86,205.01 102.91,201.53 102.95,199.76 103.00,195.24 103.05,196.81 103.09,197.73 103.14,194.84 103.18,196.83 103.23,194.61 103.27,201.93 103.32,204.99 103.36,200.66 103.41,196.42 103.46,198.35 103.50,196.21 103.55,196.82 103.59,197.48 103.64,196.44 103.68,201.66 103.73,195.51 103.77,202.64 103.82,199.61 103.87,204.03 103.91,197.50 103.96,204.50 104.00,194.44 104.05,203.79 104.09,198.34 104.14,199.69 104.18,202.20 104.23,194.97 104.28,200.68 104.32,194.23 104.37,202.71 104.41,201.95 104.46,206.02 104.50,197.34 104.55,196.10 104.59,198.45 104.64,199.76 104.69,202.35 104.73,191.22 104.78,196.68 104.82,205.48 104.87,200.27 104.91,208.08 104.96,193.84 105.00,192.48 105.05,194.23 105.10,199.39 105.14,201.22 105.19,203.98 105.23,197.39 105.28,201.74 105.32,200.48 105.37,201.38 105.41,200.25 105.46,196.14 105.51,193.45 105.55,198.68 105.60,199.13 105.64,202.98 105.69,203.38 105.73,202.81 105.78,196.17 105.82,198.34 105.87,195.88 105.92,197.74 105.96,200.55 106.01,203.41 106.05,200.43 106.10,204.04 106.14,192.35 106.19,198.25 106.23,200.42 106.28,192.36 106.33,200.48 106.37,197.26 106.42,199.72 106.46,197.94 106.51,200.42 106.55,197.48 106.60,194.29 106.64,203.47 106.69,206.76 106.74,194.54 106.78,198.58 106.83,196.17 106.87,200.15 106.92,193.87 106.96,192.92 107.01,203.16 107.05,196.85 107.10,201.25 107.15,204.68 107.19,200.20 107.24,197.22 107.28,203.87 107.33,203.59 107.37,194.96 107.42,199.09 107.46,197.83 107.51,203.13 107.56,201.47 107.60,198.81 107.65,198.60 107.69,198.75 107.74,193.80 107.78,198.70 107.83,204.54 107.87,202.30 107.92,199.51 107.97,194.93 108.01,201.69 108.06,200.68 108.10,199.44 108.15,201.78 108.19,202.20 108.24,200.19 108.28,195.97 108.33,197.73 108.38,200.39 108.42,198.02 108.47,203.82 108.51,195.99 108.56,196.88 108.60,198.40 108.65,205.03 108.69,192.44 108.74,209.47 108.79,202.86 108.83,202.59 108.88,197.04 108.92,204.58 108.97,198.62 109.01,199.96 109.06,200.43 109.10,196.49 109.15,194.54 109.20,198.07 109.24,200.37 109.29,207.26 109.33,194.37 109.38,200.46 109.42,205.79 109.47,198.87 109.52,194.44 109.56,199.90 109.61,203.43 109.65,191.66 109.70,197.29 109.74,198.21 109.79,195.90 109.83,206.85 109.88,199.62 109.93,199.95 109.97,191.58 110.02,201.31 110.06,201.27 110.11,204.14 110.15,202.19 110.20,200.06 110.24,198.45 110.29,200.03 110.34,192.45 110.38,197.65 110.43,197.14 110.47,194.63 110.52,197.16 110.56,201.13 110.61,204.65 110.65,198.10 110.70,202.19 110.75,194.80 110.79,201.97 110.84,207.00 110.88,199.19 110.93,195.63 110.97,200.04 111.02,198.70 111.06,198.80 111.11,193.39 111.16,198.29 111.20,199.47 111.25,201.46 111.29,204.99 111.34,194.48 111.38,195.38 111.43,202.62 111.47,197.24 111.52,198.21 111.57,200.65 111.61,200.42 111.66,196.74 111.70,203.50 111.75,201.14 111.79,199.61 111.84,199.37 111.88,200.07 111.93,198.59 111.98,197.51 112.02,202.43 112.07,199.05 112.11,201.16 112.16,194.14 112.20,204.19 112.25,200.15 112.29,196.93 112.34,200.32 112.39,200.49 112.43,201.20 112.48,198.26 112.52,203.35 112.57,199.61 112.61,199.67 112.66,204.37 112.70,198.37 112.75,200.92 112.80,198.24 112.84,196.33 112.89,198.11 112.93,203.36 112.98,198.17 113.02,204.79 113.07,201.91 113.11,193.51 113.16,199.24 113.21,193.89 113.25,199.87 113.30,199.21 113.34,203.08 113.39,195.99 113.43,199.91 113.48,197.07 113.52,197.72 113.57,197.37 113.62,198.07 113.66,199.32 113.71,199.19 113.75,201.56 113.80,206.48 113.84,197.48 113.89,191.99 113.93,195.42 113.98,191.09 114.03,197.45 114.07,202.41 114.12,202.48 114.16,196.52 114.21,197.90 114.25,199.63 114.30,196.50 114.34,202.06 114.39,197.24 114.44,200.00 114.48,198.49 114.53,194.94 114.57,199.50 114.62,194.28 114.66,194.44 114.71,201.61 114.75,191.01 114.80,203.26 114.85,199.33 114.89,196.45 114.94,206.83 114.98,195.43 115.03,195.06 115.07,199.36 115.12,198.03 115.16,198.23 115.21,199.68 115.26,195.28 115.30,200.25 115.35,199.11 115.39,197.70 115.44,196.04 115.48,195.17 115.53,204.05 115.57,205.96 115.62,199.44 115.67,199.15 115.71,202.69 115.76,197.91 115.80,196.80 115.85,197.65 115.89,193.29 115.94,202.54 115.98,198.89 116.03,192.32 116.08,196.63 116.12,202.82 116.17,198.28 116.21,194.91 116.26,191.80 116.30,196.69 116.35,194.95 116.39,202.81 116.44,199.84 116.49,194.87 116.53,202.29 116.58,199.20 116.62,205.43 116.67,193.89 116.71,199.44 116.76,197.04 116.80,204.18 116.85,203.52 116.90,192.74 116.94,200.18 116.99,200.87 117.03,197.24 117.08,197.09 117.12,205.76 117.17,202.36 117.21,198.83 117.26,198.98 117.31,197.79 117.35,200.48 117.40,199.97 117.44,198.26 117.49,201.38 117.53,201.88 117.58,200.89 117.62,198.98 117.67,199.52 117.72,200.65 117.76,199.87 117.81,199.18 117.85,197.91 117.90,197.76 117.94,203.44 117.99,195.66 118.03,204.52 118.08,197.14 118.13,201.45 118.17,197.03 118.22,195.38 118.26,205.50 118.31,196.96 118.35,198.09 118.40,200.63 118.44,197.72 118.49,200.74 118.54,198.63 118.58,202.65 118.63,196.35 118.67,197.02 118.72,196.50 118.76,201.29 118.81,192.74 118.85,192.27 118.90,199.35 118.95,200.48 118.99,200.45 119.04,196.69 119.08,195.53 119.13,201.61 119.17,206.00 119.22,197.49 119.26,199.19 119.31,198.46 119.36,197.28 119.40,202.86 119.45,198.84 119.49,200.08 119.54,197.78 119.58,194.89 119.63,199.07 119.68,202.01 119.72,194.81 119.77,196.66 119.81,199.79 119.86,205.27 119.90,202.10 119.95,198.62 119.99,197.24 120.04,200.93 120.09,197.63 120.13,201.30 120.18,200.58 120.22,197.31 120.27,200.07 120.31,198.66 120.36,196.15 120.40,195.28 120.45,201.17 120.50,200.02 120.54,203.69 120.59,203.62 120.63,198.15 120.68,200.95 120.72,205.51 120.77,197.37 120.81,202.04 120.86,200.25 120.91,197.76 120.95,197.82 121.00,199.38 121.04,205.98 121.09,197.25 121.13,201.21 121.18,204.02 121.22,206.72 121.27,194.68 121.32,198.70 121.36,198.80 121.41,197.11 121.45,199.45 121.50,204.22 121.54,196.86 121.59,195.77 121.63,197.42 121.68,193.94 121.73,192.68 121.77,201.89 121.82,200.68 121.86,196.15 121.91,198.57 121.95,198.45 122.00,195.98 122.04,196.64 122.09,200.67 122.14,198.74 122.18,201.58 122.23,199.82 122.27,202.94 122.32,205.84 122.36,200.84 122.41,201.16 122.45,196.11 122.50,193.79 122.55,199.06 122.59,197.54 122.64,201.30 122.68,202.29 122.73,200.10 122.77,200.10 122.82,198.12 122.86,198.74 122.91,193.48 122.96,199.85 123.00,204.72 123.05,198.70 123.09,201.35 123.14,198.41 123.18,195.28 123.23,201.29 123.27,199.36 123.32,197.35 123.37,202.31 123.41,198.37 123.46,197.24 123.50,196.33 123.55,195.36 123.59,197.21 123.64,197.76 123.68,203.81 123.73,208.18 123.78,202.36 123.82,194.25 123.87,198.68 123.91,206.73 123.96,200.50 124.00,197.84 124.05,205.35 124.09,197.12 124.14,202.96 124.19,195.52 124.23,198.95 124.28,188.54 124.32,203.57 124.37,198.09 124.41,204.05 124.46,195.14 124.50,198.62 124.55,195.91 124.60,198.68 124.64,203.01 124.69,201.24 124.73,203.23 124.78,202.58 124.82,198.53 124.87,195.39 124.91,196.11 124.96,197.28 125.01,200.93 125.05,197.29 125.10,201.92 125.14,198.32 125.19,196.18 125.23,199.65 125.28,200.61 125.32,200.49 125.37,196.94 125.42,200.07 125.46,203.84 125.51,200.42 125.55,202.63 125.60,193.94 125.64,198.98 125.69,204.01 125.73,198.12 125.78,196.58 125.83,197.73 125.87,200.24 125.92,198.51 125.96,198.07 126.01,195.62 126.05,197.79 126.10,191.34 126.14,199.74 126.19,193.84 126.24,198.95 126.28,204.79 126.33,202.99 126.37,205.17 126.42,204.83 126.46,194.95 126.51,201.24 126.55,196.97 126.60,202.03 126.65,199.05 126.69,202.58 126.74,196.08 126.78,199.87 126.83,200.54 126.87,199.56 126.92,191.65 126.96,197.50 127.01,196.18 127.06,203.21 127.10,201.21 127.15,198.01 127.19,205.30 127.24,194.49 127.28,198.10 127.33,199.07 127.37,199.68 127.42,199.81 127.47,200.72 127.51,194.30 127.56,196.69 127.60,194.81 127.65,200.04 127.69,201.99 127.74,194.42 127.78,203.13 127.83,201.08 127.88,196.61 127.92,195.35 127.97,203.46 128.01,199.94 128.06,198.92 128.10,199.47 128.15,201.92 128.19,196.73 128.24,200.79 128.29,199.83 128.33,206.63 128.38,199.39 128.42,205.58 128.47,196.63 128.51,197.35 128.56,200.74 128.60,198.47 128.65,198.65 128.70,199.52 128.74,197.80 128.79,199.44 128.83,200.63 128.88,201.70 128.92,193.36 128.97,198.36 129.01,199.09 129.06,196.58 129.11,200.33 129.15,200.31 129.20,196.77 129.24,195.55 129.29,196.75 129.33,204.03 129.38,198.83 129.42,199.10 129.47,197.49 129.52,202.01 129.56,202.56 129.61,199.42 129.65,202.02 129.70,202.62 129.74,199.26 129.79,195.90 129.84,198.57 129.88,195.26 129.93,202.38 129.97,196.64 130.02,199.07 130.06,201.99 130.11,200.44 130.15,201.92 130.20,199.76 130.25,201.55 130.29,194.80 130.34,200.24 130.38,203.81 130.43,199.69 130.47,197.74 130.52,200.10 130.56,196.14 130.61,202.09 130.66,201.90 130.70,193.58 130.75,199.02 130.79,197.21 130.84,197.37 130.88,197.10 130.93,198.89 130.97,199.67 131.02,195.40 131.07,200.68 131.11,198.64 131.16,196.73 131.20,200.35 131.25,204.16 131.29,197.49 131.34,195.41 131.38,198.17 131.43,204.63 131.48,196.88 131.52,192.44 131.57,204.19 131.61,208.08 131.66,199.84 131.70,198.76 131.75,196.41 131.79,196.28 131.84,198.70 131.89,197.20 131.93,197.89 131.98,198.59 132.02,199.20 132.07,199.52 132.11,196.66 132.16,197.65 132.20,200.43 132.25,195.36 132.30,201.42 132.34,199.77 132.39,198.55 132.43,205.32 132.48,200.26 132.52,196.16 132.57,196.30 132.61,202.97 132.66,201.75 132.71,202.57 132.75,199.78 132.80,199.21 132.84,204.29 132.89,197.95 132.93,198.76 132.98,199.24 133.02,201.23 133.07,199.61 133.12,204.90 133.16,198.23 133.21,198.30 133.25,199.35 133.30,202.91 133.34,194.78 133.39,195.25 133.43,205.21 133.48,197.63 133.53,198.49 133.57,207.51 133.62,197.28 133.66,196.84 133.71,196.61 133.75,198.46 133.80,201.16 133.84,200.69 133.89,197.30 133.94,195.12 133.98,200.61 134.03,199.92 134.07,196.69 134.12,206.12 134.16,197.51 134.21,199.75 134.25,206.25 134.30,196.44 134.35,202.01 134.39,196.37 134.44,194.43 134.48,203.10 134.53,202.95 134.57,199.02 134.62,204.77 134.66,196.57 134.71,198.36 134.76,195.73 134.80,205.03 134.85,198.30 134.89,197.43 134.94,204.91 134.98,196.01 135.03,203.52 135.07,198.36 135.12,203.31 135.17,196.35 135.21,193.31 135.26,198.74 135.30,198.83 135.35,194.63 135.39,200.40 135.44,198.75 135.48,196.19 135.53,197.50 135.58,193.68 135.62,194.91 135.67,192.49 135.71,198.90 135.76,195.11 135.80,201.51 135.85,195.78 135.89,192.95 135.94,190.96 135.99,202.89 136.03,199.30 136.08,196.36 136.12,201.62 136.17,196.89 136.21,196.91 136.26,200.31 136.30,200.47 136.35,201.75 136.40,197.68 136.44,194.48 136.49,197.72 136.53,189.48 136.58,203.60 136.62,200.61 136.67,196.45 136.71,202.48 136.76,197.53 136.81,195.97 136.85,198.09 136.90,199.43 136.94,195.55 136.99,197.29 137.03,196.27 137.08,196.86 137.12,200.91 137.17,202.34 137.22,199.94 137.26,198.09 137.31,199.32 137.35,195.54 137.40,197.84 137.44,195.46 137.49,198.30 137.53,201.09 137.58,195.89 137.63,197.04 137.67,201.51 137.72,200.08 137.76,189.41 137.81,210.00 137.85,194.96 137.90,198.54 137.94,198.97 137.99,199.75 138.04,200.47 138.08,190.87 138.13,200.26 138.17,199.80 138.22,196.11 138.26,197.52 138.31,199.41 138.35,199.77 138.40,203.28 138.45,195.20 138.49,202.37 138.54,206.96 138.58,195.33 138.63,196.33 138.67,197.71 138.72,200.61 138.76,194.87 138.81,202.51 138.86,206.23 138.90,198.34 138.95,196.18 138.99,196.81 139.04,191.91 139.08,196.10 139.13,199.67 139.17,199.55 139.22,195.91 139.27,199.12 139.31,199.36 139.36,204.85 139.40,199.96 139.45,203.29 139.49,198.13 139.54,198.47 139.59,196.52 139.63,192.89 139.68,199.53 139.72,194.05 139.77,202.74 139.81,198.40 139.86,195.70 139.90,192.32 139.95,202.65 140.00,199.79 140.04,198.45 140.09,199.27 140.13,202.16 140.18,204.46 140.22,203.08 140.27,199.21 140.31,203.47 140.36,192.93 140.41,194.77 140.45,205.39 140.50,200.61 140.54,194.45 140.59,194.03 140.63,195.15 140.68,203.78 140.72,200.18 140.77,194.61 140.82,198.59 140.86,200.49 140.91,197.23 140.95,195.60 141.00,198.47 141.04,198.11 141.09,195.30 141.13,200.85 141.18,202.04 141.23,196.35 141.27,203.01 141.32,197.26 141.36,201.42 141.41,196.10 141.45,202.98 141.50,195.10 141.54,197.98 141.59,199.98 141.64,201.88 141.68,199.48 141.73,202.09 141.77,203.03 141.82,195.31 141.86,196.94 141.91,194.78 141.95,203.55 142.00,205.57 142.05,204.34 142.09,196.76 142.14,196.23 142.18,205.27 142.23,195.50 142.27,200.46 142.32,203.04 142.36,199.25 142.41,197.05 142.46,199.71 142.50,199.58 142.55,201.85 142.59,203.82 142.64,200.27 142.68,204.52 142.73,196.96 142.77,201.90 142.82,194.55 142.87,204.40 142.91,194.22 142.96,202.01 143.00,202.04 143.05,198.01 143.09,195.94 143.14,199.15 143.18,200.22 143.23,192.22 143.28,197.28 143.32,203.10 143.37,199.90 143.41,193.25 143.46,197.89 143.50,196.20 143.55,192.09 143.59,201.03 143.64,197.73 143.69,201.28 143.73,199.03 143.78,197.18 143.82,203.55 143.87,198.51 143.91,198.52 143.96,195.42 144.00,201.03 144.05,203.34 144.10,197.67 144.14,202.84 144.19,198.39 144.23,197.08 144.28,202.00 144.32,199.43 144.37,202.55 144.41,208.69 144.46,203.98 144.51,206.14 144.55,198.98 144.60,202.68 144.64,199.53 144.69,199.21 144.73,195.43 144.78,200.23 144.82,200.42 144.87,197.33 144.92,193.55 144.96,199.31 145.01,197.89 145.05,199.70 145.10,201.43 145.14,204.30 145.19,199.32 145.23,199.96 145.28,199.89 145.33,192.29 145.37,200.19 145.42,197.92 145.46,200.23 145.51,195.02 145.55,200.03 145.60,192.70 145.64,199.93 145.69,196.39 145.74,195.56 145.78,199.84 145.83,196.12 145.87,198.81 145.92,201.61 145.96,201.32 146.01,197.89 146.05,192.95 146.10,200.70 146.15,197.17 146.19,201.77 146.24,198.15 146.28,203.47 146.33,201.71 146.37,199.05 146.42,201.58 146.46,199.95 146.51,195.59 146.56,199.45 146.60,201.47 146.65,203.23 146.69,200.84 146.74,195.10 146.78,199.30 146.83,199.52 146.87,196.56 146.92,196.17 146.97,195.60 147.01,200.24 147.06,202.14 147.10,204.70 147.15,201.36 147.19,200.29 147.24,196.54 147.28,197.94 147.33,200.95 147.38,196.02 147.42,203.30 147.47,202.60 147.51,203.03 147.56,202.74 147.60,199.90 147.65,201.91 147.69,201.62 147.74,194.48 147.79,204.02 147.83,202.55 147.88,199.85 147.92,197.53 147.97,197.38 148.01,199.94 148.06,200.29 148.10,199.94 148.15,196.51 148.20,202.17 148.24,207.03 148.29,198.41 148.33,203.01 148.38,199.24 148.42,194.31 148.47,198.70 148.51,192.80 148.56,204.44 148.61,198.23 148.65,197.71 148.70,196.21 148.74,201.51 148.79,198.49 148.83,198.62 148.88,198.72 148.92,203.69 148.97,204.89 149.02,197.18 149.06,197.84 149.11,198.89 149.15,196.85 149.20,195.34 149.24,202.96 149.29,196.35 149.33,193.93 149.38,195.52 149.43,196.97 149.47,196.58 149.52,203.87 149.56,200.64 149.61,195.47 149.65,193.91 149.70,197.37 149.75,200.48 149.79,199.39 149.84,196.02 149.88,192.05 149.93,196.21 149.97,200.66 150.02,196.76 150.06,197.40 150.11,190.72 150.16,196.84 150.20,198.74 150.25,199.12 150.29,203.04 150.34,202.44 150.38,200.48 150.43,201.61 150.47,198.20 150.52,198.51 150.57,195.65 150.61,193.70 150.66,198.32 150.70,199.51 150.75,205.16 150.79,197.55 150.84,196.60 150.88,201.46 150.93,200.17 150.98,201.22 151.02,195.24 151.07,196.74 151.11,194.71 151.16,202.94 151.20,189.81 151.25,201.75 151.29,202.33 151.34,198.21 151.39,200.74 151.43,192.69 151.48,200.27 151.52,201.20 151.57,195.56 151.61,194.72 151.66,201.73 151.70,200.51 151.75,200.11 151.80,199.44 151.84,193.08 151.89,194.62 151.93,195.28 151.98,194.57 152.02,198.85 152.07,195.94 152.11,199.16 152.16,201.47 152.21,193.26 152.25,204.89 152.30,198.92 152.34,200.89 152.39,204.59 152.43,200.24 152.48,198.72 152.52,197.39 152.57,201.76 152.62,196.40 152.66,197.92 152.71,196.21 152.75,205.52 152.80,200.52 152.84,201.08 152.89,197.03 152.93,201.50 152.98,200.73 153.03,202.88 153.07,203.06 153.12,202.18 153.16,195.74 153.21,202.63 153.25,207.30 153.30,198.04 153.34,200.57 153.39,197.16 153.44,197.23 153.48,200.11 153.53,200.48 153.57,200.93 153.62,199.08 153.66,201.70 153.71,198.39 153.75,194.36 153.80,201.32 153.85,201.19 153.89,201.22 153.94,196.98 153.98,196.83 154.03,194.18 154.07,196.63 154.12,198.61 154.16,197.49 154.21,203.47 154.26,197.12 154.30,198.44 154.35,191.98 154.39,194.35 154.44,201.82 154.48,200.94 154.53,196.04 154.57,206.03 154.62,202.13 154.67,197.76 154.71,196.83 154.76,198.38 154.80,195.06 154.85,199.93 154.89,198.68 154.94,199.66 154.98,202.72 155.03,198.85 155.08,200.88 155.12,198.73 155.17,207.87 155.21,198.63 155.26,200.84 155.30,201.09 155.35,198.85 155.39,200.60 155.44,195.86 155.49,194.77 155.53,196.00 155.58,195.73 155.62,197.77 155.67,198.89 155.71,203.35 155.76,200.25 155.80,194.89 155.85,196.40 155.90,200.66 155.94,198.63 155.99,195.41 156.03,199.54 156.08,193.49 156.12,201.56 156.17,196.31 156.21,196.63 156.26,198.40 156.31,197.97 156.35,197.16 156.40,206.68 156.44,197.39 156.49,195.10 156.53,197.63 156.58,195.12 156.62,202.99 156.67,199.21 156.72,197.86 156.76,199.87 156.81,194.95 156.85,197.33 156.90,200.71 156.94,196.22 156.99,196.21 157.03,200.46 157.08,196.86 157.13,197.70 157.17,197.78 157.22,203.22 157.26,194.66 157.31,196.84 157.35,198.83 157.40,198.18 157.44,198.17 157.49,197.35 157.54,206.01 157.58,196.19 157.63,193.31 157.67,218.38 157.72,188.23 157.76,197.59 157.81,213.00 157.85,181.42 157.90,203.94 157.95,204.22 157.99,195.19 158.04,206.32 158.08,193.36 158.13,201.01 158.17,204.31 158.22,197.60 158.26,198.13 158.31,200.76 158.36,204.00 158.40,203.68 158.45,193.68 158.49,199.40 158.54,201.22 158.58,192.69 158.63,200.85 158.67,202.14 158.72,197.15 158.77,197.75 158.81,193.69 158.86,204.29 158.90,198.02 158.95,204.76 158.99,197.44 159.04,201.23 159.08,200.57 159.13,201.50 159.18,196.15 159.22,193.49 159.27,199.29 159.31,199.88 159.36,200.71 159.40,197.23 159.45,202.51 159.49,186.96 159.54,199.80 159.59,193.19 159.63,198.50 159.68,203.67 159.72,204.32 159.77,200.45 159.81,201.45 159.86,199.86 159.91,202.94 159.95,191.04 160.00,191.79 160.04,205.18 160.09,197.40 160.13,194.96 160.18,200.18 160.22,199.81 160.27,195.33 160.32,197.21 160.36,203.18 160.41,194.88 160.45,200.72 160.50,192.73 160.54,202.33 160.59,206.88 160.63,198.73 160.68,194.94 160.73,197.32 160.77,198.55 160.82,202.23 160.86,195.96 160.91,205.42 160.95,196.40 161.00,203.24 161.04,201.16 161.09,203.63 161.14,202.26 161.18,194.06 161.23,203.17 161.27,198.50 161.32,201.90 161.36,195.65 161.41,203.82 161.45,199.17 161.50,196.09 161.55,191.44 161.59,203.25 161.64,202.20 161.68,199.38 161.73,194.13 161.77,202.71 161.82,196.39 161.86,201.37 161.91,202.78 161.96,204.68 162.00,198.77 162.05,195.86 162.09,199.59 162.14,206.53 162.18,201.17 162.23,195.92 162.27,196.25 162.32,198.30 162.37,194.17 162.41,203.62 162.46,203.50 162.50,191.05 162.55,196.95 162.59,199.96 162.64,200.94 162.68,208.14 162.73,196.37 162.78,206.39 162.82,206.05 162.87,199.44 162.91,194.07 162.96,200.63 163.00,197.98 163.05,200.77 163.09,197.90 163.14,205.02 163.19,192.00 163.23,202.60 163.28,197.33 163.32,206.33 163.37,193.13 163.41,197.76 163.46,192.33 163.50,201.53 163.55,195.66 163.60,199.85 163.64,199.40 163.69,194.74 163.73,202.36 163.78,196.67 163.82,192.49 163.87,193.16 163.91,195.53 163.96,198.06 164.01,202.55 164.05,194.22 164.10,201.54 164.14,195.01 164.19,200.32 164.23,199.13 164.28,199.17 164.32,197.06 164.37,200.68 164.42,198.54 164.46,200.96 164.51,197.32 164.55,198.17 164.60,197.67 164.64,202.08 164.69,198.03 164.73,199.01 164.78,197.13 164.83,198.98 164.87,202.52 164.92,196.64 164.96,201.48 165.01,198.18 165.05,206.33 165.10,197.43 165.14,196.88 165.19,202.35 165.24,197.15 165.28,200.46 165.33,194.40 165.37,196.88 165.42,203.48 165.46,199.87 165.51,205.27 165.55,200.28 165.60,197.29 165.65,196.30 165.69,199.54 165.74,199.99 165.78,198.61 165.83,201.25 165.87,198.03 165.92,195.29 165.96,198.48 166.01,196.17 166.06,201.83 166.10,200.83 166.15,197.95 166.19,192.13 166.24,195.61 166.28,193.20 166.33,198.92 166.37,194.80 166.42,204.88 166.47,197.26 166.51,206.26 166.56,194.81 166.60,197.39 166.65,195.02 166.69,197.64 166.74,200.74 166.78,201.58 166.83,198.35 166.88,193.84 166.92,196.84 166.97,200.86 167.01,200.95 167.06,201.43 167.10,199.72 167.15,199.30 167.19,200.65 167.24,198.96 167.29,204.41 167.33,193.61 167.38,198.13 167.42,193.73 167.47,197.98 167.51,199.65 167.56,198.67 167.60,198.20 167.65,201.23 167.70,200.26 167.74,192.38 167.79,195.72 167.83,200.73 167.88,197.14 167.92,201.81 167.97,194.11 168.01,202.40 168.06,195.86 168.11,198.83 168.15,198.80 168.20,201.71 168.24,199.81 168.29,201.54 168.33,201.88 168.38,197.33 168.42,190.29 168.47,200.09 168.52,195.49 168.56,198.96 168.61,201.37 168.65,194.32 168.70,196.74 168.74,195.01 168.79,198.52 168.83,198.42 168.88,201.72 168.93,199.83 168.97,193.15 169.02,206.72 169.06,197.58 169.11,193.87 169.15,196.16 169.20,195.88 169.24,199.80 169.29,195.02 169.34,194.93 169.38,199.02 169.43,193.14 169.47,200.55 169.52,207.37 169.56,198.92 169.61,199.27 169.66,201.79 169.70,200.45 169.75,200.73 169.79,205.14 169.84,194.67 169.88,198.87 169.93,189.69 169.97,198.94 170.02,197.53 170.07,204.05 170.11,195.41 170.16,202.61 170.20,197.05 170.25,195.73 170.29,196.28 170.34,201.74 170.38,201.64 170.43,196.30 170.48,194.84 170.52,193.95 170.57,198.99 170.61,199.26 170.66,192.77 170.70,200.92 170.75,196.30 170.79,199.97 170.84,203.77 170.89,202.72 170.93,197.36 170.98,198.16 171.02,197.23 171.07,200.11 171.11,200.63 171.16,197.94 171.20,199.54 171.25,204.40 171.30,200.41 171.34,193.13 171.39,201.53 171.43,197.05 171.48,199.21 171.52,196.44 171.57,201.91 171.61,203.30 171.66,197.42 171.71,201.34 171.75,199.08 171.80,200.03 171.84,195.67 171.89,198.08 171.93,198.48 171.98,202.28 172.02,204.31 172.07,201.82 172.12,196.12 172.16,196.61 172.21,196.98 172.25,200.34 172.30,202.47 172.34,195.06 172.39,198.35 172.43,197.16 172.48,202.19 172.53,201.31 172.57,196.79 172.62,196.47 172.66,202.38 172.71,198.01 172.75,202.97 172.80,194.84 172.84,196.73 172.89,191.26 172.94,193.86 172.98,201.23 173.03,198.32 173.07,200.61 173.12,198.51 173.16,196.34 173.21,199.02 173.25,198.79 173.30,203.54 173.35,197.03 173.39,199.05 173.44,196.88 173.48,195.46 173.53,198.89 173.57,196.63 173.62,201.05 173.66,195.79 173.71,199.07 173.76,201.01 173.80,199.78 173.85,203.81 173.89,201.20 173.94,200.46 173.98,198.92 174.03,199.30 174.07,201.19 174.12,199.63 174.17,206.25 174.21,198.70 174.26,197.13 174.30,196.35 174.35,195.37 174.39,199.72 174.44,199.31 174.48,200.64 174.53,200.66 174.58,198.61 174.62,194.49 174.67,204.75 174.71,200.71 174.76,198.11 174.80,202.42 174.85,197.65 174.89,203.69 174.94,200.23 174.99,204.64 175.03,198.14 175.08,201.72 175.12,196.89 175.17,200.07 175.21,202.32 175.26,200.51 175.30,198.67 175.35,199.14 175.40,199.97 175.44,200.29 175.49,199.08 175.53,196.27 175.58,201.04 175.62,197.64 175.67,203.58 175.71,196.00 175.76,197.89 175.81,200.30 175.85,200.22 175.90,204.82 175.94,198.80 175.99,199.94 176.03,203.81 176.08,200.60 176.12,197.17 176.17,198.52 176.22,198.19 176.26,200.97 176.31,196.25 176.35,199.18 176.40,196.24 176.44,191.64 176.49,205.83 176.53,200.78 176.58,199.07 176.63,201.56 176.67,195.61 176.72,200.25 176.76,193.45 176.81,196.52 176.85,197.64 176.90,199.13 176.94,196.21 176.99,197.39 177.04,194.10 177.08,197.62 177.13,195.56 177.17,197.65 177.22,197.89 177.26,204.25 177.31,198.97 177.35,197.68 177.40,202.92 177.45,203.66 177.49,200.02 177.54,198.01 177.58,204.71 177.63,197.95 177.67,195.77 177.72,199.83 177.76,198.19 177.81,197.43 177.86,201.22 177.90,196.91 177.95,197.48 177.99,203.16 178.04,197.25 178.08,196.05 178.13,202.62 178.17,196.07 178.22,199.89 178.27,203.51 178.31,202.49 178.36,201.97 178.40,197.18 178.45,200.62 178.49,200.32 178.54,203.25 178.58,198.93 178.63,203.19 178.68,201.26 178.72,196.94 178.77,196.76 178.81,200.79 178.86,199.17 178.90,197.21 178.95,199.04 178.99,194.95 179.04,194.49 179.09,199.29 179.13,203.14 179.18,199.51 179.22,194.46 179.27,195.20 179.31,195.01 179.36,195.23 179.40,200.72 179.45,198.06 179.50,195.33 179.54,198.09 179.59,196.02 179.63,202.38 179.68,203.09 179.72,192.19 179.77,196.38 179.82,196.91 179.86,194.02 179.91,191.44 179.95,189.23 180.00,207.08 180.04,197.64 180.09,195.45 180.13,205.43 180.18,204.99 180.23,199.55 180.27,192.55 180.32,195.76 180.36,191.64 180.41,197.97 180.45,195.30 180.50,193.77 180.54,197.38 180.59,199.01 180.64,198.53 180.68,211.48 180.73,197.86 180.77,205.28 180.82,201.74 180.86,196.57 180.91,197.62 180.95,205.77 181.00,197.19 181.05,196.43 181.09,198.31 181.14,196.65 181.18,197.06 181.23,204.79 181.27,199.71 181.32,200.02 181.36,203.15 181.41,199.18 181.46,201.79 181.50,199.30 181.55,201.97 181.59,195.46 181.64,191.49 181.68,200.98 181.73,198.89 181.77,198.85 181.82,197.52 181.87,199.62 181.91,206.62 181.96,197.84 182.00,199.48 182.05,202.70 182.09,199.73 182.14,200.78 182.18,198.26 182.23,200.15 182.28,200.02 182.32,198.71 182.37,198.24 182.41,199.02 182.46,195.09 182.50,198.25 182.55,201.69 182.59,193.19 182.64,198.67 182.69,193.75 182.73,202.70 182.78,197.16 182.82,193.21 182.87,194.75 182.91,198.76 182.96,201.07 183.00,201.13 183.05,199.71 183.10,202.38 183.14,201.62 183.19,202.47 183.23,202.48 183.28,198.27 183.32,205.09 183.37,198.52 183.41,196.74 183.46,202.29 183.51,202.18 183.55,199.00 183.60,199.23 183.64,195.85 183.69,205.86 183.73,199.32 183.78,194.30 183.82,198.79 183.87,193.05 183.92,191.65 183.96,200.94 184.01,193.97 184.05,197.30 184.10,199.11 184.14,200.02 184.19,199.81 184.23,202.16 184.28,199.64 184.33,195.86 184.37,194.77 184.42,200.35 184.46,197.25 184.51,197.43 184.55,207.09 184.60,196.62 184.64,203.25 184.69,202.96 184.74,196.19 184.78,193.34 184.83,202.84 184.87,202.07 184.92,202.29 184.96,200.86 185.01,200.37 185.05,201.90 185.10,204.62 185.15,193.05 185.19,200.78 185.24,201.68 185.28,196.02 185.33,200.33 185.37,195.39 185.42,196.42 185.46,195.73 185.51,200.45 185.56,196.92 185.60,204.37 185.65,203.76 185.69,198.85 185.74,200.12 185.78,194.50 185.83,200.00 185.87,205.10 185.92,198.86 185.97,200.07 186.01,198.42 186.06,203.04 186.10,201.71 186.15,198.85 186.19,196.54 186.24,197.66 186.28,196.50 186.33,204.00 186.38,199.78 186.42,198.31 186.47,195.76 186.51,198.14 186.56,199.86 186.60,199.44 186.65,199.34 186.69,203.89 186.74,198.93 186.79,196.28 186.83,196.60 186.88,205.35 186.92,199.02 186.97,204.13 187.01,195.30 187.06,197.18 187.10,196.60 187.15,201.28 187.20,205.59 187.24,202.56 187.29,200.21 187.33,204.11 187.38,202.43 187.42,193.05 187.47,203.49 187.51,197.15 187.56,205.34 187.61,198.15 187.65,196.16 187.70,197.49 187.74,194.91 187.79,192.90 187.83,203.69 187.88,198.10 187.92,197.22 187.97,197.54 188.02,193.57 188.06,198.03 188.11,194.87 188.15,195.02 188.20,198.44 188.24,197.07 188.29,201.53 188.33,197.85 188.38,198.27 188.43,199.42 188.47,200.47 188.52,195.60 188.56,199.26 188.61,191.14 188.65,194.43 188.70,196.29 188.74,200.84 188.79,195.78 188.84,198.37 188.88,198.55 188.93,202.57 188.97,196.87 189.02,197.99 189.06,200.40 189.11,201.11 189.15,199.75 189.20,203.31 189.25,200.68 189.29,194.13 189.34,201.01 189.38,190.96 189.43,203.35 189.47,195.10 189.52,195.12 189.57,194.86 189.61,196.85 189.66,204.26 189.70,194.91 189.75,195.16 189.79,198.69 189.84,206.80 189.88,195.15 189.93,202.00 189.98,199.70 190.02,194.61 190.07,194.38 190.11,197.38 190.16,200.80 190.20,193.09 190.25,194.67 190.29,199.62 190.34,202.03 190.39,197.58 190.43,203.98 190.48,192.42 190.52,197.00 190.57,200.84 190.61,196.51 190.66,204.93 190.70,199.83 190.75,199.50 190.80,205.58 190.84,201.16 190.89,195.90 190.93,206.22 190.98,198.36 191.02,202.55 191.07,201.71 191.11,201.53 191.16,196.85 191.21,201.12 191.25,188.42 191.30,198.11 191.34,202.15 191.39,184.19 191.43,213.21 191.48,196.46 191.52,190.47 191.57,227.79 191.62,187.46 191.66,194.01 191.71,219.40 191.75,183.67 191.80,201.64 191.84,204.70 191.89,182.89 191.93,204.51 191.98,202.57 192.03,190.78 192.07,204.30 192.12,197.75 192.16,194.27 192.21,201.02 192.25,194.61 192.30,201.21 192.34,201.40 192.39,195.04 192.44,201.57 192.48,200.69 192.53,197.97 192.57,194.35 192.62,193.71 192.66,197.62 192.71,199.24 192.75,200.90 192.80,194.25 192.85,197.73 192.89,195.33 192.94,203.66 192.98,196.16 193.03,198.10 193.07,196.28 193.12,195.24 193.16,198.65 193.21,200.05 193.26,196.36 193.30,202.82 193.35,193.89 193.39,197.52 193.44,202.49 193.48,194.32 193.53,195.40 193.57,193.46 193.62,195.25 193.67,196.97 193.71,198.78 193.76,202.24 193.80,196.06 193.85,196.60 193.89,200.05 193.94,196.59 193.98,201.64 194.03,194.99 194.08,198.08 194.12,197.76 194.17,201.08 194.21,195.38 194.26,198.05 194.30,200.56 194.35,197.30 194.39,199.33 194.44,195.08 194.49,203.80 194.53,202.54 194.58,191.75 194.62,200.33 194.67,196.96 194.71,200.02 194.76,197.93 194.80,189.74 194.85,205.39 194.90,196.81 194.94,198.48 194.99,198.56 195.03,201.36 195.08,201.92 195.12,194.04 195.17,196.96 195.21,202.77 195.26,198.68 195.31,203.24 195.35,188.92 195.40,197.42 195.44,204.84 195.49,195.56 195.53,196.58 195.58,197.65 195.62,198.11 195.67,200.60 195.72,199.37 195.76,205.61 195.81,194.28 195.85,191.90 195.90,197.03 195.94,196.64 195.99,203.39 196.03,200.20 196.08,203.57 196.13,203.21 196.17,196.92 196.22,193.92 196.26,198.98 196.31,190.31 196.35,195.95 196.40,206.46 196.44,200.15 196.49,194.32 196.54,198.24 196.58,195.23 196.63,204.52 196.67,194.43 196.72,202.82 196.76,197.62 196.81,191.56 196.85,198.54 196.90,199.59 196.95,196.19 196.99,201.63 197.04,202.04 197.08,195.47 197.13,203.89 197.17,203.05 197.22,192.81 197.26,203.08 197.31,197.30 197.36,195.04 197.40,199.02 197.45,202.45 197.49,196.02 197.54,202.02 197.58,191.61 197.63,191.27 197.67,202.34 197.72,196.85 197.77,201.24 197.81,197.55 197.86,199.71 197.90,202.19 197.95,197.09 197.99,204.49 198.04,197.79 198.08,199.39 198.13,201.53 198.18,195.78 198.22,198.73 198.27,200.06 198.31,199.44 198.36,199.64 198.40,195.70 198.45,199.87 198.49,208.78 198.54,209.49 198.59,202.49 198.63,203.19 198.68,199.83 198.72,203.53 198.77,201.66 198.81,194.40 198.86,203.46 198.90,196.01 198.95,199.32 199.00,194.45 199.04,195.83 199.09,198.67 199.13,195.18 199.18,198.09 199.22,202.68 199.27,197.15 199.31,197.11 199.36,199.21 199.41,197.93 199.45,200.28 199.50,197.68 199.54,199.72 199.59,204.04 199.63,199.69 199.68,193.34 199.73,195.95 199.77,193.64 199.82,198.76 199.86,200.15 199.91,202.40 199.95,198.25 200.00,195.28 200.04,195.98 200.09,196.24 200.14,200.50 200.18,198.40 200.23,201.41 200.27,195.95 200.32,196.73 200.36,200.94 200.41,198.34 200.45,206.50 200.50,196.38 200.55,201.57 200.59,200.04 200.64,196.73 200.68,196.49 200.73,201.09 200.77,193.37 200.82,191.91 200.86,193.86 200.91,194.33 200.96,198.60 201.00,194.05 201.05,201.79 201.09,202.58 201.14,198.25 201.18,197.93 201.23,201.74 201.27,192.73 201.32,203.79 201.37,205.85 201.41,200.18 201.46,193.23 201.50,196.27 201.55,197.63 201.59,198.35 201.64,196.91 201.68,197.73 201.73,198.49 201.78,199.25 201.82,204.31 201.87,195.54 201.91,200.31 201.96,197.56 202.00,197.17 202.05,195.32 202.09,201.54 202.14,196.05 202.19,195.95 202.23,199.23 202.28,199.03 202.32,198.35 202.37,202.35 202.41,200.42 202.46,202.74 202.50,194.82 202.55,201.53 202.60,202.53 202.64,198.35 202.69,197.05 202.73,200.14 202.78,202.13 202.82,197.46 202.87,195.99 202.91,204.47 202.96,195.81 203.01,204.94 203.05,196.66 203.10,200.40 203.14,199.76 203.19,196.46 203.23,193.99 203.28,191.80 203.32,194.24 203.37,196.56 203.42,203.45 203.46,200.28 203.51,198.45 203.55,200.94 203.60,196.92 203.64,199.73 203.69,192.81 203.73,199.53 203.78,203.22 203.83,200.65 203.87,201.36 203.92,196.50 203.96,194.15 204.01,195.44 204.05,195.43 204.10,201.24 204.14,202.66 204.19,201.63 204.24,198.78 204.28,200.06 204.33,197.91 204.37,195.40 204.42,198.59 204.46,193.07 204.51,201.49 204.55,196.70 204.60,199.05 204.65,195.42 204.69,198.96 204.74,200.65 204.78,199.27 204.83,201.84 204.87,202.59 204.92,196.13 204.96,200.91 205.01,194.74 205.06,190.32 205.10,200.15 205.15,195.90 205.19,199.15 205.24,205.32 205.28,199.20 205.33,193.86 205.37,203.02 205.42,199.46 205.47,199.50 205.51,203.84 205.56,197.84 205.60,199.42 205.65,196.95 205.69,198.75 205.74,203.75 205.78,198.48 205.83,196.81 205.88,199.79 205.92,197.04 205.97,197.09 206.01,206.29 206.06,196.84 206.10,205.87 206.15,203.39 206.19,199.47 206.24,202.36 206.29,201.79 206.33,195.27 206.38,202.71 206.42,195.03 206.47,192.85 206.51,194.30 206.56,202.84 206.60,204.31 206.65,198.89 206.70,191.88 206.74,199.83 206.79,201.02 206.83,199.53 206.88,196.55 206.92,195.05 206.97,199.12 207.01,199.56 207.06,197.38 207.11,199.00 207.15,200.51 207.20,205.13 207.24,198.71 207.29,201.17 207.33,199.91 207.38,200.12 207.42,202.13 207.47,197.23 207.52,195.48 207.56,197.31 207.61,201.34 207.65,198.53 207.70,196.73 207.74,199.46 207.79,196.74 207.83,203.92 207.88,199.85 207.93,194.22 207.97,195.71 208.02,199.53 208.06,198.68 208.11,191.77 208.15,195.37 208.20,201.47 208.24,198.02 208.29,200.62 208.34,201.07 208.38,203.17 208.43,196.63 208.47,191.50 208.52,196.12 208.56,203.48 208.61,197.23 208.65,204.00 208.70,198.26 208.75,195.44 208.79,193.99 208.84,198.60 208.88,197.91 208.93,198.96 208.97,199.58 209.02,193.69 209.06,202.23 209.11,204.41 209.16,193.04 209.20,191.30 209.25,204.41 209.29,195.81 209.34,196.25 209.38,200.42 209.43,202.24 209.47,198.46 209.52,200.13 209.57,196.21 209.61,201.14 209.66,194.98 209.70,201.14 209.75,193.45 209.79,195.97 209.84,195.12 209.89,200.30 209.93,199.77 209.98,199.30 210.02,194.96 210.07,201.24 210.11,201.65 210.16,199.76 210.20,197.78 210.25,199.26 210.30,199.21 210.34,203.45 210.39,201.09 210.43,202.63 210.48,195.43 210.52,199.13 210.57,196.69 210.61,203.46 210.66,199.12 210.71,197.73 210.75,202.58 210.80,201.19 210.84,200.75 210.89,198.50 210.93,198.04 210.98,203.83 211.02,197.88 211.07,198.29 211.12,198.01 211.16,201.96 211.21,199.25 211.25,194.66 211.30,195.11 211.34,201.09 211.39,193.57 211.43,200.44 211.48,202.06 211.53,195.20 211.57,197.91 211.62,191.23 211.66,199.80 211.71,198.56 211.75,196.51 211.80,198.11 211.84,200.38 211.89,199.00 211.94,199.08 211.98,199.07 212.03,199.11 212.07,204.23 212.12,195.98 212.16,201.11 212.21,199.84 212.25,201.69 212.30,199.71 212.35,195.69 212.39,194.70 212.44,197.90 212.48,198.45 212.53,200.77 212.57,199.95 212.62,198.20 212.66,199.53 212.71,202.36 212.76,198.79 212.80,202.55 212.85,191.96 212.89,197.96 212.94,200.92 212.98,197.42 213.03,201.54 213.07,199.86 213.12,193.73 213.17,194.62 213.21,203.02 213.26,202.79 213.30,200.74 213.35,191.34 213.39,198.79 213.44,198.12 213.48,200.73 213.53,194.49 213.58,195.72 213.62,204.87 213.67,201.88 213.71,205.22 213.76,202.95 213.80,201.77 213.85,203.54 213.89,201.17 213.94,196.65 213.99,195.17 214.03,198.62 214.08,196.53 214.12,203.61 214.17,193.99 214.21,191.21 214.26,199.49 214.30,197.06 214.35,197.79 214.40,206.38 214.44,195.54 214.49,197.38 214.53,204.51 214.58,200.43 214.62,195.07 214.67,197.05 214.71,203.69 214.76,200.95 214.81,201.35 214.85,198.49 214.90,201.41 214.94,198.85 214.99,199.60 215.03,204.05 215.08,197.63 215.12,198.14 215.17,201.35 215.22,196.50 215.26,191.23 215.31,204.41 215.35,198.27 215.40,196.17 215.44,198.91 215.49,200.99 215.53,191.54 215.58,200.73 215.63,199.46 215.67,201.25 215.72,194.88 215.76,206.30 215.81,202.07 215.85,200.58 215.90,197.95 215.94,197.84 215.99,195.65 216.04,199.44 216.08,201.52 216.13,199.23 216.17,201.98 216.22,200.84 216.26,200.65 216.31,197.98 216.35,196.18 216.40,202.76 216.45,201.04 216.49,199.10 216.54,198.97 216.58,199.88 216.63,197.05 216.67,199.76 216.72,204.95 216.76,194.54 216.81,203.27 216.86,193.46 216.90,198.12 216.95,197.91 216.99,204.00 217.04,198.09 217.08,199.71 217.13,201.86 217.17,197.15 217.22,196.47 217.27,194.98 217.31,203.16 217.36,201.68 217.40,194.30 217.45,197.22 217.49,196.26 217.54,200.77 217.58,197.80 217.63,196.23 217.68,203.11 217.72,201.27 217.77,198.13 217.81,194.32 217.86,200.40 217.90,196.70 217.95,201.77 217.99,202.95 218.04,196.83 218.09,202.38 218.13,198.80 218.18,200.81 218.22,197.20 218.27,203.18 218.31,203.65 218.36,203.70 218.40,199.62 218.45,194.65 218.50,196.19 218.54,198.30 218.59,199.43 218.63,194.89 218.68,199.30 218.72,195.47 218.77,194.42 218.81,196.70 218.86,197.65 218.91,197.67 218.95,199.25 219.00,198.04 219.04,201.93 219.09,201.81 219.13,193.75 219.18,199.40 219.22,204.66 219.27,194.46 219.32,194.46 219.36,197.50 219.41,203.13 219.45,192.51 219.50,195.38 219.54,194.88 219.59,199.83 219.64,197.61 219.68,199.92 219.73,199.79 219.77,202.91 219.82,201.63 219.86,200.71 219.91,198.88 219.95,195.71 220.00,197.16 220.05,205.04 220.09,195.55 220.14,204.06 220.18,197.40 220.23,199.68 220.27,198.81 220.32,200.63 220.36,202.57 220.41,193.61 220.46,207.22 220.50,202.02 220.55,194.63 220.59,199.10 220.64,199.00 220.68,201.92 220.73,202.85 220.77,197.08 220.82,199.64 220.87,197.93 220.91,196.50 220.96,204.83 221.00,202.56 221.05,201.33 221.09,198.32 221.14,196.74 221.18,202.56 221.23,199.82 221.28,199.46 221.32,199.46 221.37,193.84 221.41,201.58 221.46,198.55 221.50,206.89 221.55,199.48 221.59,198.70 221.64,196.72 221.69,200.82 221.73,200.98 221.78,203.16 221.82,200.78 221.87,191.08 221.91,204.86 221.96,204.84 222.00,198.77 222.05,202.27 222.10,194.90 222.14,204.17 222.19,193.53 222.23,200.58 222.28,204.68 222.32,206.58 222.37,202.13 222.41,201.28 222.46,197.86 222.51,203.44 222.55,188.78 222.60,196.24 222.64,199.70 222.69,200.95 222.73,189.96 222.78,201.65 222.82,196.50 222.87,194.05 222.92,202.20 222.96,197.07 223.01,200.72 223.05,194.33 223.10,194.10 223.14,197.18 223.19,198.47 223.23,203.15 223.28,190.71 223.33,193.87 223.37,196.56 223.42,193.91 223.46,198.93 223.51,202.79 223.55,195.79 223.60,202.26 223.64,200.79 223.69,196.43 223.74,204.32 223.78,198.89 223.83,199.99 223.87,202.93 223.92,203.11 223.96,199.73 224.01,199.99 224.05,198.45 224.10,204.08 224.15,198.71 224.19,203.28 224.24,201.75 224.28,195.70 224.33,201.31 224.37,200.68 224.42,201.76 224.46,199.03 224.51,196.16 224.56,200.18 224.60,196.74 224.65,203.43 224.69,197.43 224.74,199.37 224.78,198.75 224.83,202.14 224.87,201.09 224.92,197.95 224.97,203.01 225.01,196.38 225.06,200.49 225.10,197.46 225.15,202.84 225.19,204.52 225.24,196.82 225.28,196.67 225.33,199.15 225.38,196.78 225.42,199.04 225.47,196.76 225.51,198.50 225.56,202.29 225.60,195.24 225.65,202.27 225.69,191.32 225.74,199.50 225.79,202.15 225.83,199.72 225.88,198.77 225.92,198.52 225.97,197.08 226.01,201.01 226.06,205.97 226.10,201.87 226.15,197.49 226.20,195.16 226.24,205.72 226.29,198.60 226.33,195.15 226.38,203.72 226.42,193.14 226.47,201.56 226.51,199.33 226.56,200.62 226.61,192.86 226.65,195.87 226.70,198.47 226.74,200.14 226.79,204.67 226.83,199.93 226.88,201.00 226.92,199.36 226.97,205.46 227.02,194.62 227.06,195.83 227.11,193.48 227.15,200.93 227.20,199.06 227.24,203.11 227.29,195.91 227.33,199.69 227.38,193.22 227.43,196.43 227.47,196.30 227.52,197.05 227.56,203.96 227.61,196.44 227.65,204.41 227.70,197.89 227.74,196.90 227.79,202.86 227.84,201.07 227.88,199.52 227.93,198.00 227.97,197.92 228.02,198.81 228.06,201.91 228.11,197.98 228.15,190.44 228.20,200.90 228.25,193.50 228.29,203.01 228.34,201.13 228.38,194.42 228.43,196.05 228.47,193.46 228.52,196.90 228.56,201.04 228.61,198.71 228.66,200.48 228.70,195.40 228.75,196.87 228.79,194.71 228.84,201.32 228.88,199.83 228.93,200.44 228.97,200.22 229.02,199.52 229.07,194.62 229.11,198.48 229.16,194.95 229.20,198.27 229.25,205.06 229.29,203.71 229.34,199.59 229.38,195.02 229.43,198.95 229.48,204.01 229.52,198.56 229.57,199.84 229.61,196.99 229.66,196.15 229.70,198.02 229.75,201.18 229.80,202.52 229.84,200.20 229.89,199.24 229.93,197.75 229.98,200.54 230.02,201.15 230.07,197.31 230.11,196.20 230.16,198.03 230.21,202.48 230.25,200.04 230.30,191.62 230.34,202.64 230.39,200.22 230.43,195.87 230.48,202.26 230.52,200.05 230.57,194.61 230.62,195.66 230.66,205.10 230.71,196.93 230.75,200.07 230.80,203.71 230.84,195.37 230.89,200.76 230.93,199.13 230.98,201.89 231.03,196.28 231.07,195.89 231.12,196.26 231.16,190.79 231.21,196.81 231.25,199.97 231.30,197.03 231.34,197.65 231.39,196.31 231.44,206.79 231.48,195.79 231.53,191.81 231.57,195.64 231.62,200.69 231.66,191.22 231.71,195.85 231.75,191.42 231.80,194.99 231.85,199.32 231.89,203.82 231.94,197.86 231.98,196.37 232.03,199.50 232.07,202.63 232.12,195.30 232.16,200.67 232.21,193.35 232.26,199.99 232.30,196.83 232.35,199.21 232.39,196.74 232.44,196.27 232.48,205.30 232.53,200.46 232.57,200.07 232.62,200.18 232.67,198.43 232.71,194.33 232.76,201.65 232.80,196.36 232.85,199.57 232.89,200.61 232.94,203.31 232.98,200.89 233.03,202.00 233.08,196.76 233.12,193.13 233.17,196.48 233.21,195.82 233.26,201.09 233.30,195.97 233.35,201.19 233.39,201.47 233.44,197.47 233.49,200.53 233.53,196.24 233.58,197.87 233.62,199.28 233.67,200.33 233.71,197.72 233.76,197.48 233.80,198.09 233.85,194.56 233.90,200.30 233.94,203.02 233.99,202.82 234.03,201.66 234.08,201.46 234.12,198.83 234.17,192.81 234.21,201.78 234.26,201.22 234.31,200.16 234.35,201.70 234.40,200.95 234.44,196.00 234.49,194.06 234.53,200.76 234.58,198.61 234.62,195.29 234.67,197.30 234.72,199.00 234.76,196.53 234.81,203.32 234.85,194.43 234.90,190.80 234.94,210.97 234.99,196.98 235.03,197.48 235.08,202.31 235.13,196.05 235.17,200.85 235.22,201.70 235.26,196.61 235.31,196.24 235.35,195.25 235.40,193.99 235.44,201.77 235.49,199.31 235.54,202.06 235.58,200.97 235.63,195.62 235.67,197.47 235.72,197.63 235.76,197.14 235.81,199.90 235.85,194.33 235.90,201.85 235.95,196.32 235.99,200.51 236.04,201.59 236.08,191.88 236.13,199.81 236.17,196.29 236.22,201.20 236.26,201.04 236.31,194.63 236.36,197.24 236.40,198.38 236.45,197.07 236.49,196.57 236.54,195.80 236.58,197.02 236.63,196.35 236.67,197.60 236.72,198.17 236.77,194.94 236.81,205.89 236.86,195.92 236.90,198.58 236.95,198.06 236.99,199.52 237.04,201.02 237.08,196.69 237.13,202.66 237.18,202.01 237.22,202.05 237.27,193.33 237.31,198.80 237.36,198.89 237.40,203.50 237.45,198.59 237.49,196.06 237.54,202.49 237.59,198.67 237.63,198.23 237.68,196.89 237.72,195.69 237.77,192.40 237.81,198.96 237.86,198.86 237.90,201.07 237.95,195.78 238.00,199.09 238.04,197.43 238.09,196.67 238.13,199.47 238.18,199.58 238.22,198.46 238.27,198.51 238.31,198.80 238.36,199.48 238.41,199.14 238.45,194.98 238.50,200.98 238.54,198.68 238.59,198.94 238.63,195.45 238.68,200.67 238.72,199.74 238.77,200.63 238.82,196.31 238.86,196.85 238.91,197.52 238.95,198.47 239.00,191.54 239.04,197.92 239.09,205.26 239.13,203.73 239.18,203.52 239.23,200.38 239.27,203.95 239.32,198.95 239.36,203.70 239.41,199.17 239.45,201.08 239.50,197.34 239.55,198.59 239.59,202.18 239.64,193.08 239.68,202.72 239.73,200.76 239.77,203.62 239.82,195.80 239.86,195.91 239.91,199.33 239.96,207.12 240.00,196.46 240.05,193.13 240.09,201.93 240.14,197.47 240.18,196.06 240.23,198.89 240.27,202.91 240.32,199.69 240.37,201.17 240.41,197.21 240.46,204.84 240.50,197.31 240.55,198.80 240.59,204.22 240.64,202.38 240.68,197.24 240.73,194.79 240.78,196.19 240.82,189.38 240.87,198.42 240.91,203.02 240.96,198.95 241.00,201.47 241.05,207.04 241.09,195.55 241.14,202.33 241.19,202.15 241.23,193.04 241.28,201.21 241.32,201.90 241.37,196.25 241.41,192.91 241.46,205.32 241.50,202.72 241.55,201.16 241.60,196.45 241.64,198.23 241.69,195.27 241.73,203.95 241.78,199.46 241.82,194.18 241.87,205.21 241.91,195.46 241.96,201.86 242.01,198.13 242.05,202.61 242.10,196.96 242.14,196.45 242.19,199.58 242.23,193.54 242.28,202.43 242.32,195.77 242.37,202.90 242.42,195.84 242.46,196.24 242.51,201.47 242.55,193.75 242.60,199.19 242.64,203.65 242.69,200.12 242.73,195.99 242.78,198.87 242.83,195.94 242.87,194.24 242.92,196.23 242.96,197.18 243.01,198.28 243.05,197.40 243.10,194.10 243.14,200.98 243.19,199.62 243.24,196.30 243.28,202.28 243.33,195.61 243.37,198.87 243.42,197.31 243.46,201.01 243.51,199.66 243.55,194.91 243.60,202.60 243.65,195.54 243.69,195.19 243.74,198.64 243.78,205.49 243.83,202.67 243.87,197.64 243.92,195.39 243.96,203.64 244.01,197.72 244.06,198.15 244.10,204.02 244.15,198.36 244.19,201.50 244.24,204.01 244.28,192.94 244.33,201.51 244.37,203.77 244.42,203.74 244.47,192.46 244.51,195.65 244.56,197.12 244.60,201.77 244.65,197.68 244.69,198.72 244.74,196.49 244.78,203.87 244.83,196.52 244.88,195.66 244.92,201.99 244.97,202.14 245.01,199.38 245.06,203.51 245.10,199.96 245.15,199.98 245.19,194.36 245.24,202.38 245.29,200.07 245.33,194.54 245.38,204.79 245.42,195.51 245.47,200.56 245.51,197.03 245.56,199.04 245.60,196.85 245.65,210.28 245.70,201.41 245.74,206.38 245.79,200.01 245.83,201.23 245.88,198.78 245.92,193.33 245.97,197.20 246.01,197.61 246.06,196.81 246.11,199.79 246.15,193.84 246.20,196.70 246.24,198.80 246.29,194.79 246.33,200.18 246.38,200.67 246.42,201.90 246.47,203.73 246.52,203.05 246.56,194.97 246.61,200.42 246.65,199.09 246.70,196.51 246.74,199.50 246.79,202.30 246.83,201.85 246.88,200.52 246.93,195.54 246.97,200.80 247.02,200.95 247.06,197.25 247.11,198.94 247.15,198.82 247.20,198.26 247.24,193.27 247.29,200.17 247.34,200.60 247.38,192.93 247.43,202.09 247.47,204.89 247.52,196.12 247.56,200.66 247.61,199.10 247.65,198.74 247.70,202.94 247.75,197.34 247.79,203.13 247.84,196.20 247.88,195.18 247.93,201.39 247.97,195.34 248.02,198.43 248.06,192.81 248.11,198.95 248.16,205.13 248.20,205.21 248.25,196.02 248.29,200.60 248.34,197.73 248.38,202.82 248.43,201.01 248.47,206.59 248.52,197.74 248.57,196.39 248.61,201.69 248.66,197.37 248.70,201.54 248.75,197.85 248.79,200.64 248.84,202.08 248.88,197.54 248.93,205.47 248.98,192.94 249.02,204.52 249.07,205.87 249.11,198.22 249.16,202.69 249.20,197.09 249.25,203.91 249.29,194.12 249.34,194.83 249.39,202.73 249.43,192.41 249.48,200.63 249.52,199.13 249.57,201.37 249.61,198.21 249.66,197.82 249.71,199.57 249.75,198.11 249.80,198.69 249.84,197.51 249.89,203.59 249.93,200.59 249.98,203.08 250.02,199.32 250.07,199.37 250.12,199.80 250.16,201.46 250.21,192.94 250.25,202.42 250.30,197.37 250.34,200.67 250.39,194.13 250.43,195.04 250.48,197.68 250.53,196.83 250.57,202.01 250.62,202.62 250.66,196.51 250.71,199.07 250.75,204.39 250.80,199.71 250.84,203.56 250.89,204.01 250.94,199.34 250.98,198.93 251.03,200.23 251.07,200.84 251.12,202.72 251.16,199.85 251.21,199.59 251.25,200.77 251.30,191.17 251.35,200.14 251.39,198.77 251.44,201.80 251.48,199.76 251.53,198.98 251.57,197.24 251.62,209.39 251.66,195.58 251.71,197.31 251.76,198.31 251.80,202.64 251.85,205.15 251.89,202.97 251.94,196.80 251.98,196.92 252.03,199.14 252.07,196.68 252.12,202.26 252.17,202.82 252.21,194.85 252.26,195.34 252.30,196.44 252.35,195.36 252.39,199.20 252.44,206.85 252.48,199.96 252.53,195.34 252.58,199.90 252.62,196.70 252.67,196.96 252.71,202.10 252.76,197.30 252.80,198.75 252.85,203.93 252.89,195.43 252.94,202.67 252.99,197.48 253.03,197.34 253.08,201.62 253.12,202.16 253.17,197.56 253.21,198.25 253.26,194.94 253.30,198.44 253.35,197.30 253.40,198.44 253.44,195.84 253.49,202.40 253.53,205.38 253.58,197.36 253.62,199.71 253.67,201.17 253.71,193.38 253.76,203.82 253.81,199.99 253.85,195.97 253.90,199.70 253.94,200.46 253.99,197.97 254.03,200.30 254.08,204.80 254.12,203.50 254.17,196.75 254.22,196.80 254.26,203.02 254.31,198.15 254.35,196.89 254.40,196.78 254.44,194.16 254.49,195.73 254.53,199.24 254.58,199.85 254.63,196.74 254.67,202.88 254.72,204.50 254.76,196.30 254.81,195.22 254.85,196.99 254.90,197.96 254.94,204.32 254.99,203.77 255.04,201.10 255.08,193.43 255.13,199.98 255.17,198.42 255.22,201.67 255.26,194.51 255.31,205.32 255.35,193.46 255.40,198.96 255.45,207.86 255.49,198.70 255.54,197.02 255.58,197.03 255.63,197.39 255.67,199.98 255.72,199.92 255.76,198.58 255.81,201.00 255.86,193.18 255.90,202.95 255.95,198.49 255.99,199.92 256.04,203.85 256.08,194.19 256.13,198.06 256.17,201.27 256.22,201.87 256.27,199.85 256.31,193.67 256.36,198.22 256.40,202.02 256.45,198.51 256.49,201.31 256.54,197.15 256.58,197.48 256.63,196.37 256.68,197.82 256.72,198.59 256.77,203.16 256.81,198.11 256.86,195.18 256.90,203.61 256.95,195.88 256.99,200.89 257.04,200.86 257.09,201.13 257.13,196.35 257.18,198.63 257.22,198.53 257.27,201.89 257.31,193.61 257.36,202.37 257.40,193.88 257.45,195.03 257.50,196.53 257.54,202.32 257.59,199.46 257.63,201.05 257.68,192.97 257.72,199.12 257.77,196.35 257.81,197.91 257.86,199.26 257.91,193.51 257.95,192.39 258.00,197.15 258.04,192.23 258.09,198.49 258.13,197.14 258.18,200.38 258.22,203.20 258.27,198.96 258.32,195.49 258.36,212.21 258.41,202.43 258.45,201.07 258.50,200.36 258.54,195.02 258.59,202.11 258.63,197.36 258.68,188.93 258.73,198.25 258.77,194.98 258.82,191.52 258.86,206.02 258.91,196.93 258.95,195.85 259.00,198.75 259.04,190.13 259.09,207.54 259.14,198.00 259.18,185.22 259.23,201.40 259.27,199.03 259.32,195.97 259.36,208.87 259.41,189.96 259.45,196.95 259.50,205.32 259.55,193.33 259.59,199.71 259.64,201.17 259.68,193.61 259.73,200.67 259.77,201.32 259.82,196.01 259.87,208.88 259.91,196.53 259.96,191.26 260.00,200.69 260.05,191.63 260.09,199.12 260.14,203.96 260.18,197.45 260.23,203.28 260.28,197.04 260.32,191.30 260.37,202.72 260.41,196.80 260.46,201.25 260.50,199.31 260.55,194.74 260.59,200.47 260.64,195.69 260.69,198.56 260.73,197.64 260.78,193.61 260.82,202.47 260.87,197.33 260.91,199.42 260.96,192.74 261.00,199.09 261.05,198.80 261.10,196.43 261.14,192.97 261.19,200.09 261.23,201.52 261.28,201.28 261.32,194.98 261.37,204.53 261.41,202.43 261.46,200.49 261.51,201.71 261.55,199.17 261.60,200.91 261.64,205.45 261.69,190.97 261.73,195.13 261.78,199.28 261.82,200.48 261.87,200.99 261.92,204.87 261.96,202.41 262.01,198.06 262.05,197.76 262.10,193.91 262.14,198.72 262.19,200.77 262.23,195.57 262.28,196.68 262.33,202.98 262.37,201.08 262.42,195.72 262.46,201.26 262.51,198.40 262.55,202.04 262.60,195.18 262.64,191.74 262.69,205.61 262.74,202.21 262.78,196.33 262.83,197.72 262.87,198.93 262.92,203.09 262.96,204.65 263.01,200.05 263.05,195.37 263.10,195.31 263.15,190.59 263.19,204.52 263.24,197.92 263.28,197.69 263.33,192.06 263.37,200.89 263.42,193.88 263.46,203.92 263.51,194.91 263.56,201.74 263.60,202.14 263.65,197.39 263.69,200.21 263.74,197.80 263.78,199.14 263.83,201.50 263.87,196.00 263.92,199.65 263.97,201.15 264.01,201.23 264.06,205.31 264.10,203.34 264.15,197.74 264.19,198.12 264.24,199.32 264.28,194.35 264.33,198.85 264.38,198.80 264.42,197.00 264.47,197.65 264.51,194.83 264.56,200.61 264.60,198.47 264.65,198.76 264.69,199.95 264.74,199.04 264.79,195.59 264.83,193.60 264.88,198.59 264.92,198.64 264.97,197.80 265.01,194.83 265.06,196.57 265.10,193.03 265.15,192.25 265.20,194.69 265.24,200.53 265.29,199.81 265.33,199.89 265.38,200.15 265.42,195.19 265.47,200.73 265.51,196.82 265.56,199.94 265.61,201.48 265.65,194.39 265.70,203.36 265.74,193.94 265.79,203.26 265.83,196.83 265.88,197.62 265.92,197.64 265.97,198.84 266.02,200.82 266.06,199.43 266.11,193.92 266.15,195.26 266.20,190.92 266.24,194.62 266.29,196.39 266.33,197.71 266.38,198.95 266.43,193.77 266.47,199.55 266.52,199.40 266.56,200.60 266.61,196.61 266.65,187.53 266.70,199.54 266.74,204.25 266.79,200.99 266.84,195.64 266.88,199.84 266.93,200.26 266.97,196.25 267.02,198.93 267.06,201.62 267.11,197.16 267.15,202.06 267.20,199.09 267.25,192.40 267.29,206.32 267.34,193.29 267.38,205.03 267.43,197.93 267.47,205.91 267.52,199.73 267.56,201.28 267.61,200.91 267.66,201.68 267.70,193.68 267.75,195.44 267.79,204.05 267.84,204.78 267.88,199.36 267.93,203.60 267.97,192.19 268.02,194.02 268.07,196.72 268.11,204.73 268.16,201.23 268.20,195.47 268.25,202.02 268.29,196.36 268.34,198.66 268.38,195.62 268.43,199.02 268.48,199.05 268.52,203.30 268.57,199.31 268.61,201.81 268.66,196.43 268.70,203.71 268.75,195.94 268.79,195.43 268.84,196.67 268.89,204.04 268.93,203.20 268.98,198.27 269.02,198.57 269.07,200.23 269.11,199.65 269.16,202.57 269.20,202.40 269.25,202.61 269.30,200.91 269.34,199.41 269.39,200.15 269.43,202.13 269.48,195.40 269.52,198.32 269.57,202.39 269.62,189.88 269.66,207.68 269.71,196.89 269.75,197.85 269.80,200.96 269.84,202.51 269.89,199.28 269.93,195.39 269.98,195.94 270.03,197.34 270.07,198.28 270.12,198.83 270.16,195.81 270.21,198.54 270.25,198.17 270.30,194.32 270.34,200.75 270.39,197.83 270.44,199.19 270.48,201.81 270.53,194.06 270.57,202.19 270.62,200.20 270.66,201.82 270.71,197.46 270.75,196.97 270.80,193.39 270.85,193.35 270.89,193.43 270.94,197.13 270.98,195.46 271.03,199.76 271.07,202.25 271.12,194.75 271.16,201.60 271.21,196.59 271.26,193.78 271.30,198.93 271.35,194.02 271.39,198.54 271.44,199.04 271.48,196.43 271.53,192.56 271.57,202.91 271.62,197.72 271.67,201.24 271.71,197.73 271.76,196.92 271.80,203.68 271.85,202.17 271.89,195.68 271.94,197.47 271.98,200.59 272.03,198.73 272.08,195.72 272.12,195.28 272.17,206.24 272.21,200.50 272.26,192.68 272.30,200.83 272.35,199.73 272.39,198.11 272.44,198.63 272.49,196.87 272.53,197.91 272.58,202.31 272.62,195.70 272.67,197.44 272.71,198.68 272.76,197.43 272.80,203.53 272.85,197.17 272.90,201.57 272.94,203.52 272.99,196.79 273.03,206.73 273.08,201.21 273.12,199.92 273.17,204.27 273.21,203.73 273.26,195.53 273.31,204.57 273.35,196.47 273.40,198.80 273.44,206.96 273.49,193.97 273.53,199.59 273.58,208.13 273.62,191.77 273.67,199.04 273.72,202.03 273.76,195.65 273.81,204.56 273.85,200.38 273.90,186.46 273.94,207.63 273.99,196.90 274.03,190.49 274.08,210.28 274.13,188.23 274.17,195.11 274.22,206.16 274.26,189.82 274.31,201.20 274.35,194.75 274.40,190.50 274.44,207.11 274.49,195.63 274.54,193.33 274.58,208.83 274.63,194.55 274.67,195.84 274.72,200.76 274.76,191.20 274.81,198.51 274.85,204.00 274.90,190.01 274.95,204.63 274.99,201.87 275.04,196.61 275.08,205.60 275.13,197.07 275.17,194.84 275.22,202.01 275.26,197.74 275.31,198.05 275.36,202.65 275.40,193.19 275.45,195.04 275.49,200.43 275.54,198.11 275.58,196.92 275.63,191.06 275.67,198.59 275.72,195.48 275.77,196.37 275.81,201.43 275.86,199.54 275.90,196.84 275.95,200.28 275.99,192.69 276.04,206.13 276.08,200.89 276.13,200.73 276.18,201.17 276.22,201.50 276.27,198.71 276.31,197.17 276.36,198.86 276.40,196.66 276.45,199.49 276.49,202.48 276.54,201.17 276.59,194.90 276.63,200.93 276.68,200.35 276.72,197.74 276.77,197.05 276.81,199.15 276.86,196.30 276.90,194.21 276.95,193.52 277.00,198.30 277.04,203.43 277.09,202.48 277.13,202.48 277.18,197.94 277.22,194.90 277.27,197.39 277.31,195.94 277.36,188.86 277.41,202.95 277.45,194.54 277.50,199.00 277.54,200.98 277.59,200.23 277.63,199.96 277.68,192.41 277.72,197.52 277.77,194.22 277.82,203.29 277.86,193.79 277.91,197.33 277.95,195.69 278.00,201.94 278.04,196.90 278.09,198.38 278.13,199.52 278.18,198.71 278.23,198.18 278.27,197.65 278.32,201.54 278.36,196.22 278.41,203.03 278.45,202.18 278.50,204.54 278.54,208.11 278.59,193.07 278.64,193.06 278.68,200.60 278.73,200.43 278.77,202.09 278.82,198.87 278.86,199.12 278.91,202.75 278.95,199.26 279.00,203.71 279.05,199.83 279.09,195.17 279.14,196.69 279.18,198.25 279.23,199.95 279.27,192.43 279.32,199.78 279.36,206.32 279.41,200.11 279.46,206.77 279.50,199.18 279.55,199.76 279.59,194.13 279.64,194.34 279.68,200.03 279.73,199.73 279.78,196.47 279.82,202.53 279.87,201.73 279.91,193.94 279.96,202.53 280.00,198.29 280.05,190.46 280.09,200.55 280.14,192.30 280.19,203.13 280.23,202.35 280.28,193.77 280.32,196.39 280.37,199.36 280.41,198.26 280.46,195.62 280.50,192.96 280.55,201.62 280.60,201.12 280.64,195.47 280.69,198.78 280.73,196.99 280.78,201.12 280.82,193.56 280.87,197.61 280.91,196.43 280.96,197.76 281.01,194.16 281.05,201.13 281.10,198.49 281.14,201.74 281.19,200.49 281.23,194.93 281.28,196.78 281.32,197.37 281.37,197.11 281.42,199.81 281.46,194.46 281.51,200.57 281.55,195.97 281.60,198.53 281.64,195.66 281.69,201.36 281.73,196.24 281.78,195.88 281.83,198.09 281.87,200.49 281.92,202.18 281.96,200.13 282.01,197.60 282.05,200.29 282.10,204.34 282.14,196.63 282.19,197.03 282.24,200.11 282.28,203.18 282.33,200.89 282.37,200.57 282.42,201.08 282.46,198.33 282.51,205.62 282.55,198.85 282.60,200.14 282.65,196.11 282.69,202.03 282.74,199.46 282.78,200.21 282.83,205.85 282.87,191.38 282.92,200.05 282.96,197.46 283.01,198.73 283.06,199.61 283.10,199.28 283.15,205.63 283.19,197.76 283.24,200.84 283.28,199.84 283.33,195.19 283.37,198.86 283.42,192.30 283.47,194.71 283.51,196.77 283.56,197.52 283.60,202.19 283.65,191.27 283.69,192.93 283.74,199.23 283.78,198.45 283.83,203.79 283.88,194.59 283.92,197.71 283.97,197.70 284.01,199.70 284.06,199.15 284.10,199.72 284.15,200.19 284.19,200.27 284.24,200.59 284.29,192.59 284.33,190.77 284.38,205.50 284.42,199.07 284.47,201.07 284.51,201.08 284.56,196.50 284.60,210.18 284.65,196.28 284.70,205.61 284.74,198.46 284.79,200.61 284.83,201.40 284.88,199.31 284.92,202.80 284.97,192.97 285.01,204.95 285.06,204.66 285.11,199.72 285.15,199.13 285.20,194.66 285.24,199.68 285.29,203.16 285.33,201.12 285.38,201.84 285.42,200.43 285.47,197.45 285.52,200.25 285.56,201.40 285.61,196.99 285.65,202.39 285.70,199.37 285.74,198.02 285.79,201.39 285.83,195.51 285.88,199.91 285.93,193.05 285.97,199.97 286.02,200.84 286.06,203.12 286.11,198.83 286.15,196.93 286.20,204.32 286.24,205.55 286.29,203.56 286.34,199.24 286.38,199.29 286.43,202.43 286.47,200.74 286.52,199.42 286.56,197.81 286.61,203.32 286.65,205.43 286.70,200.82 286.75,193.30 286.79,200.97 286.84,200.61 286.88,198.73 286.93,205.00 286.97,196.88 287.02,202.05 287.06,205.46 287.11,199.95 287.16,199.89 287.20,195.76 287.25,197.38 287.29,200.70 287.34,196.12 287.38,196.33 287.43,192.94 287.47,201.58 287.52,198.61 287.57,201.59 287.61,198.29 287.66,194.34 287.70,195.72 287.75,199.99 287.79,207.04 287.84,201.28 287.88,199.96 287.93,197.60 287.98,194.81 288.02,195.18 288.07,197.82 288.11,195.76 288.16,201.94 288.20,201.62 288.25,194.49 288.29,197.89 288.34,195.81 288.39,196.07 288.43,196.75 288.48,199.62 288.52,196.24 288.57,199.01 288.61,196.05 288.66,195.59 288.70,199.44 288.75,192.49 288.80,198.66 288.84,194.10 288.89,202.68 288.93,195.99 288.98,203.03 289.02,202.13 289.07,204.05 289.11,199.94 289.16,198.78 289.21,200.65 289.25,191.28 289.30,195.75 289.34,202.37 289.39,198.81 289.43,199.64 289.48,197.89 289.53,198.94 289.57,203.73 289.62,192.56 289.66,194.88 289.71,196.78 289.75,194.92 289.80,197.55 289.84,201.23 289.89,202.73 289.94,196.72 289.98,201.78 290.03,200.13 290.07,202.78 290.12,196.68 290.16,200.18 290.21,198.14 290.25,200.21 290.30,202.78 290.35,197.13 290.39,199.21 290.44,201.67 290.48,196.23 290.53,194.76 290.57,192.84 290.62,196.17 290.66,197.91 290.71,195.61 290.76,201.49 290.80,199.04 290.85,198.54 290.89,204.56 290.94,197.00 290.98,195.67 291.03,199.57 291.07,194.88 291.12,202.09 291.17,195.52 291.21,195.29 291.26,200.59 291.30,198.70 291.35,200.49 291.39,202.73 291.44,203.62 291.48,202.71 291.53,197.83 291.58,204.45 291.62,199.53 291.67,190.69 291.71,196.70 291.76,198.31 291.80,200.63 291.85,206.83 291.89,196.35 291.94,195.79 291.99,199.59 292.03,201.87 292.08,199.17 292.12,201.77 292.17,195.91 292.21,199.47 292.26,196.62 292.30,202.16 292.35,204.00 292.40,207.25 292.44,198.13 292.49,203.81 292.53,195.03 292.58,199.06 292.62,199.07 292.67,205.34 292.71,196.67 292.76,197.06 292.81,194.33 292.85,200.31 292.90,198.20 292.94,197.74 292.99,196.66 293.03,196.01 293.08,198.10 293.12,197.40 293.17,196.48 293.22,194.12 293.26,195.64 293.31,197.76 293.35,199.43 293.40,200.32 293.44,196.25 293.49,201.87 293.53,202.27 293.58,198.93 293.63,200.58 293.67,199.72 293.72,197.63 293.76,199.25 293.81,197.85 293.85,197.73 293.90,198.95 293.94,201.50 293.99,196.77 294.04,198.63 294.08,200.64 294.13,201.91 294.17,198.65 294.22,192.42 294.26,198.68 294.31,196.07 294.35,200.22 294.40,201.34 294.45,195.05 294.49,197.65 294.54,202.42 294.58,194.86 294.63,199.16 294.67,195.11 294.72,194.77 294.76,199.09 294.81,201.50 294.86,194.38 294.90,191.64 294.95,197.85 294.99,203.88 295.04,200.14 295.08,196.83 295.13,204.84 295.17,201.22 295.22,201.68 295.27,200.38 295.31,191.87 295.36,198.13 295.40,193.12 295.45,197.91 295.49,198.53 295.54,199.13 295.58,198.53 295.63,193.94 295.68,195.27 295.72,196.19 295.77,195.36 295.81,202.48 295.86,200.94 295.90,203.48 295.95,200.99 295.99,195.18 296.04,201.92 296.09,201.86 296.13,200.76 296.18,203.21 296.22,198.59 296.27,196.68 296.31,194.57 296.36,198.16 296.40,196.83 296.45,195.22 296.50,200.60 296.54,200.63 296.59,197.52 296.63,198.38 296.68,199.39 296.72,198.84 296.77,200.61 296.81,202.20 296.86,198.09 296.91,200.51 296.95,201.51 297.00,196.34 297.04,198.25 297.09,194.97 297.13,200.76 297.18,194.95 297.22,192.26 297.27,200.25 297.32,200.54 297.36,201.46 297.41,201.25 297.45,199.57 297.50,197.91 297.54,200.47 297.59,197.22 297.63,202.24 297.68,199.91 297.73,195.82 297.77,194.72 297.82,193.26 297.86,193.80 297.91,195.07 297.95,204.21 298.00,201.12 298.04,200.65 298.09,199.09 298.14,197.60 298.18,194.13 298.23,200.55 298.27,207.61 298.32,203.34 298.36,197.78 298.41,196.86 298.45,202.48 298.50,195.90 298.55,198.15 298.59,194.35 298.64,207.39 298.68,198.45 298.73,199.41 298.77,198.62 298.82,200.20 298.86,201.36 298.91,200.06 298.96,203.20 299.00,206.64 299.05,196.88 299.09,200.74 299.14,202.20 299.18,194.75 299.23,199.77 299.27,199.46 299.32,196.88 299.37,200.14 299.41,198.34 299.46,201.67 299.50,195.35 299.55,198.71 299.59,193.40 299.64,196.76 299.69,194.78 299.73,200.27 299.78,200.73 299.82,195.95 299.87,196.02 299.91,199.65 299.96,196.78 300.00,199.55 300.05,197.22 300.10,201.28 300.14,196.32 300.19,200.29 300.23,197.19 300.28,199.94 300.32,198.71 300.37,198.55 300.41,198.17 300.46,194.68 300.51,193.09 300.55,197.17 300.60,202.73 300.64,198.89 300.69,202.22 300.73,194.42 300.78,198.77 300.82,199.54 300.87,197.62 300.92,200.27 300.96,196.75 301.01,197.77 301.05,203.00 301.10,196.53 301.14,200.54 301.19,196.20 301.23,205.59 301.28,193.27 301.33,200.18 301.37,199.85 301.42,195.01 301.46,201.26 301.51,195.72 301.55,204.17 301.60,194.18 301.64,193.80 301.69,196.40 301.74,203.61 301.78,197.28 301.83,197.86 301.87,200.17 301.92,201.59 301.96,200.15 302.01,200.93 302.05,198.75 302.10,195.71 302.15,199.15 302.19,196.87 302.24,198.52 302.28,200.41 302.33,198.02 302.37,199.22 302.42,197.03 302.46,192.85 302.51,204.50 302.56,197.81 302.60,204.92 302.65,199.47 302.69,203.43 302.74,197.36 302.78,193.31 302.83,201.11 302.87,197.97 302.92,201.97 302.97,198.35 303.01,194.50 303.06,202.20 303.10,200.85 303.15,203.91 303.19,198.05 303.24,197.45 303.28,200.54 303.33,196.96 303.38,204.40 303.42,197.93 303.47,199.70 303.51,204.05 303.56,204.22 303.60,202.20 303.65,197.13 303.69,195.78 303.74,198.08 303.79,195.22 303.83,199.14 303.88,201.80 303.92,195.05 303.97,197.77 304.01,203.07 304.06,200.66 304.10,196.57 304.15,196.01 304.20,198.06 304.24,202.36 304.29,198.84 304.33,193.69 304.38,196.71 304.42,195.00 304.47,202.33 304.51,200.37 304.56,197.83 304.61,198.00 304.65,199.53 304.70,204.52 304.74,197.95 304.79,198.35 304.83,201.01 304.88,195.98 304.92,190.96 304.97,198.44 305.02,199.14 305.06,195.68 305.11,191.83 305.15,198.22 305.20,199.11 305.24,199.79 305.29,191.86 305.33,195.74 305.38,195.71 305.43,198.30 305.47,200.02 305.52,200.34 305.56,194.84 305.61,192.77 305.65,201.04 305.70,194.62 305.74,204.22 305.79,205.93 305.84,199.43 305.88,197.28 305.93,195.65 305.97,200.09 306.02,201.22 306.06,194.67 306.11,207.64 306.15,196.61 306.20,197.92 306.25,202.68 306.29,200.72 306.34,193.37 306.38,208.18 306.43,200.50 306.47,203.74 306.52,199.20 306.56,198.50 306.61,198.50 306.66,197.21 306.70,196.42 306.75,197.59 306.79,203.24 306.84,201.68 306.88,195.78 306.93,200.33 306.97,196.42 307.02,195.40 307.07,208.57 307.11,192.22 307.16,196.49 307.20,196.67 307.25,195.50 307.29,196.10 307.34,195.30 307.38,201.00 307.43,198.93 307.48,200.25 307.52,199.49 307.57,197.98 307.61,198.31 307.66,199.67 307.70,200.80 307.75,201.67 307.79,199.62 307.84,201.82 307.89,201.39 307.93,196.50 307.98,195.98 308.02,200.48 308.07,201.30 308.11,205.88 308.16,200.04 308.20,198.49 308.25,200.15 308.30,200.27 308.34,195.86 308.39,196.80 308.43,200.69 308.48,193.13 308.52,194.50 308.57,191.43 308.61,198.42 308.66,200.47 308.71,199.05 308.75,198.98 308.80,201.71 308.84,195.76 308.89,201.04 308.93,205.95 308.98,196.71 309.02,199.13 309.07,197.27 309.12,200.62 309.16,205.71 309.21,193.00 309.25,196.58 309.30,198.99 309.34,197.71 309.39,193.99 309.43,197.34 309.48,199.23 309.53,198.67 309.57,203.12 309.62,197.69 309.66,198.98 309.71,196.66 309.75,200.80 309.80,200.61 309.85,204.63 309.89,199.85 309.94,199.58 309.98,200.28 310.03,194.92 310.07,196.00 310.12,198.48 310.16,201.89 310.21,198.10 310.26,186.27 310.30,199.70 310.35,199.38 310.39,196.31 310.44,201.80 310.48,197.09 310.53,203.37 310.57,198.76 310.62,198.16 310.67,198.01 310.71,195.43 310.76,198.71 310.80,199.26 310.85,195.93 310.89,199.18 310.94,196.35 310.98,200.45 311.03,198.14 311.08,199.95 311.12,198.58 311.17,200.16 311.21,198.92 311.26,207.49 311.30,194.73 311.35,202.42 311.39,198.23 311.44,202.03 311.49,192.08 311.53,195.41 311.58,192.73 311.62,200.44 311.67,198.32 311.71,195.39 311.76,200.02 311.80,191.22 311.85,195.85 311.90,196.46 311.94,198.92 311.99,194.23 312.03,198.70 312.08,203.34 312.12,198.73 312.17,202.20 312.21,198.66 312.26,197.19 312.31,199.46 312.35,199.55 312.40,204.40 312.44,201.09 312.49,193.50 312.53,202.45 312.58,205.49 312.62,199.48 312.67,194.21 312.72,195.84 312.76,198.66 312.81,198.46 312.85,200.00 312.90,197.50 312.94,198.06 312.99,199.12 313.03,204.80 313.08,200.57 313.13,201.21 313.17,202.43 313.22,198.40 313.26,198.39 313.31,201.34 313.35,196.78 313.40,199.61 313.44,200.96 313.49,196.53 313.54,197.02 313.58,191.36 313.63,195.95 313.67,197.64 313.72,198.46 313.76,201.15 313.81,204.53 313.85,199.78 313.90,200.98 313.95,198.59 313.99,196.30 314.04,199.32 314.08,196.67 314.13,190.75 314.17,199.32 314.22,200.06 314.26,194.39 314.31,194.92 314.36,193.24 314.40,201.58 314.45,204.08 314.49,193.67 314.54,194.33 314.58,198.48 314.63,206.85 314.67,192.09 314.72,193.48 314.77,194.83 314.81,204.82 314.86,198.29 314.90,201.58 314.95,198.53 314.99,194.09 315.04,199.53 315.08,202.57 315.13,203.22 315.18,197.74 315.22,202.30 315.27,200.52 315.31,201.29 315.36,202.28 315.40,202.01 315.45,203.97 315.49,194.50 315.54,197.79 315.59,200.48 315.63,192.20 315.68,198.80 315.72,196.06 315.77,198.37 315.81,200.82 315.86,202.06 315.90,200.75 315.95,194.63 316.00,201.94 316.04,199.18 316.09,201.02 316.13,198.31 316.18,198.79 316.22,201.96 316.27,197.96 316.31,201.25 316.36,196.62 316.41,197.83 316.45,198.91 316.50,198.00 316.54,197.16 316.59,195.21 316.63,195.06 316.68,195.17 316.72,196.78 316.77,198.92 316.82,197.02 316.86,199.81 316.91,200.27 316.95,198.07 317.00,197.05 317.04,201.87 317.09,196.53 317.13,198.31 317.18,199.15 317.23,199.11 317.27,198.49 317.32,193.94 317.36,203.51 317.41,196.40 317.45,203.53 317.50,196.79 317.54,200.33 317.59,203.76 317.64,194.94 317.68,204.28 317.73,201.46 317.77,202.53 317.82,199.73 317.86,203.42 317.91,197.59 317.95,194.95 318.00,194.17 318.05,194.88 318.09,201.13 318.14,199.94 318.18,197.92 318.23,198.96 318.27,200.53 318.32,207.01 318.36,200.99 318.41,197.54 318.46,199.36 318.50,191.06 318.55,210.54 318.59,204.73 318.64,203.85 318.68,196.11 318.73,194.26 318.77,202.68 318.82,199.01 318.87,197.05 318.91,198.03 318.96,198.35 319.00,201.67 319.05,202.55 319.09,204.11 319.14,203.57 319.18,196.89 319.23,200.04 319.28,200.54 319.32,202.87 319.37,198.88 319.41,195.62 319.46,203.16 319.50,194.14 319.55,197.41 319.60,208.28 319.64,198.44 319.69,198.14 319.73,194.35 319.78,199.66 319.82,207.46 319.87,205.13 319.91,204.46 319.96,197.50 320.01,202.77 320.05,203.72 320.10,198.06 320.14,196.43 320.19,204.55 320.23,199.11 320.28,195.41 320.32,196.81 320.37,194.20 320.42,194.44 320.46,196.27 320.51,200.95 320.55,191.56 320.60,196.38 320.64,198.88 320.69,200.17 320.73,196.92 320.78,200.71 320.83,199.14 320.87,194.84 320.92,197.19 320.96,202.98 321.01,198.14 321.05,200.24 321.10,201.86 321.14,202.38 321.19,202.06 321.24,198.37 321.28,194.66 321.33,199.65 321.37,194.02 321.42,201.87 321.46,199.70 321.51,193.60 321.55,198.33 321.60,197.88 321.65,197.74 321.69,200.81 321.74,190.84 321.78,198.80 321.83,195.76 321.87,197.07 321.92,195.36 321.96,193.54 322.01,207.00 322.06,203.99 322.10,206.35 322.15,201.92 322.19,199.66 322.24,198.01 322.28,200.86 322.33,197.02 322.37,196.50 322.42,198.61 322.47,202.94 322.51,201.04 322.56,199.64 322.60,196.40 322.65,199.51 322.69,197.79 322.74,204.82 322.78,208.91 322.83,198.59 322.88,198.62 322.92,202.43 322.97,200.57 323.01,197.10 323.06,196.98 323.10,194.64 323.15,196.44 323.19,199.98 323.24,197.17 323.29,191.74 323.33,193.14 323.38,201.95 323.42,197.77 323.47,193.82 323.51,198.47 323.56,196.86 323.60,194.49 323.65,198.02 323.70,197.40 323.74,200.30 323.79,202.38 323.83,200.68 323.88,196.63 323.92,199.64 323.97,198.55 324.01,191.69 324.06,201.69 324.11,195.69 324.15,200.80 324.20,196.89 324.24,195.96 324.29,194.45 324.33,201.62 324.38,200.17 324.42,198.43 324.47,199.23 324.52,208.57 324.56,197.52 324.61,203.15 324.65,199.00 324.70,203.51 324.74,198.08 324.79,199.15 324.83,189.91 324.88,196.58 324.93,200.24 324.97,196.18 325.02,204.47 325.06,195.58 325.11,195.02 325.15,200.50 325.20,199.80 325.24,205.14 325.29,197.63 325.34,196.01 325.38,203.38 325.43,196.58 325.47,202.59 325.52,193.56 325.56,206.46 325.61,199.74 325.65,195.54 325.70,203.09 325.75,201.34 325.79,198.70 325.84,199.34 325.88,201.52 325.93,201.48 325.97,200.33 326.02,200.09 326.06,200.65 326.11,195.86 326.16,198.32 326.20,197.36 326.25,197.03 326.29,203.49 326.34,202.87 326.38,192.23 326.43,206.31 326.47,201.47 326.52,196.82 326.57,199.74 326.61,200.16 326.66,193.23 326.70,202.85 326.75,195.12 326.79,204.27 326.84,204.77 326.88,200.19 326.93,198.15 326.98,190.81 327.02,197.64 327.07,198.17 327.11,196.47 327.16,198.98 327.20,201.32 327.25,200.76 327.29,196.90 327.34,200.48 327.39,204.34 327.43,201.39 327.48,205.04 327.52,194.13 327.57,205.02 327.61,196.87 327.66,200.01 327.70,194.56 327.75,192.71 327.80,200.24 327.84,196.69 327.89,198.21 327.93,204.41 327.98,193.70 328.02,196.18 328.07,196.87 328.11,196.17 328.16,197.79 328.21,201.41 328.25,197.84 328.30,203.06 328.34,191.20 328.39,203.21 328.43,195.22 328.48,201.14 328.52,198.54 328.57,197.02 328.62,202.30 328.66,198.62 328.71,208.69 328.75,198.46 328.80,194.47 328.84,199.78 328.89,201.84 328.93,201.89 328.98,207.78 329.03,204.13 329.07,197.74 329.12,192.51 329.16,196.80 329.21,198.83 329.25,199.07 329.30,197.91 329.34,192.23 329.39,199.77 329.44,199.45 329.48,196.57 329.53,197.70 329.57,198.30 329.62,202.66 329.66,206.38 329.71,198.65 329.76,195.30 329.80,193.88 329.85,196.32 329.89,203.04 329.94,201.85 329.98,202.77 330.03,200.53 330.07,195.83 330.12,196.89 330.17,192.85 330.21,199.73 330.26,197.69 330.30,199.24 330.35,196.78 330.39,198.13 330.44,198.93 330.48,195.07 330.53,201.08 330.58,199.39 330.62,196.96 330.67,200.59 330.71,202.72 330.76,197.42 330.80,198.05 330.85,201.53 330.89,202.28 330.94,206.78 330.99,203.40 331.03,198.25 331.08,207.09 331.12,199.98 331.17,198.77 331.21,200.97 331.26,201.64 331.30,195.76 331.35,197.54 331.40,202.85 331.44,195.64 331.49,193.09 331.53,202.15 331.58,202.71 331.62,201.14 331.67,197.85 331.71,199.25 331.76,200.24 331.81,203.00 331.85,196.49 331.90,199.16 331.94,198.70 331.99,199.13 332.03,198.00 332.08,204.45 332.12,200.86 332.17,198.84 332.22,197.92 332.26,197.37 332.31,195.72 332.35,199.19 332.40,196.24 332.44,196.70 332.49,197.82 332.53,199.58 332.58,200.10 332.63,198.93 332.67,196.32 332.72,201.65 332.76,201.81 332.81,197.37 332.85,198.17 332.90,195.55 332.94,194.72 332.99,197.35 333.04,204.27 333.08,195.41 333.13,197.42 333.17,196.29 333.22,197.09 333.26,198.88 333.31,197.36 333.35,203.13 333.40,202.74 333.45,198.91 333.49,193.84 333.54,198.00 333.58,194.57 333.63,198.94 333.67,198.33 333.72,195.58 333.76,195.76 333.81,198.58 333.86,199.79 333.90,195.78 333.95,197.77 333.99,200.21 334.04,199.51 334.08,202.01 334.13,198.31 334.17,195.99 334.22,206.52 334.27,200.10 334.31,203.18 334.36,200.36 334.40,200.61 334.45,202.88 334.49,198.53 334.54,203.41 334.58,202.08 334.63,203.82 334.68,201.61 334.72,197.33 334.77,200.35 334.81,194.69 334.86,199.81 334.90,201.18 334.95,195.11 334.99,197.75 335.04,196.25 335.09,197.39 335.13,194.07 335.18,195.89 335.22,194.72 335.27,201.89 335.31,196.90 335.36,195.96 335.40,198.82 335.45,194.78 335.50,198.46 335.54,199.61 335.59,197.14 335.63,203.02 335.68,204.02 335.72,199.60 335.77,206.58 335.81,195.39 335.86,200.83 335.91,193.64 335.95,198.36 336.00,201.21 336.04,200.79 336.09,196.92 336.13,195.69 336.18,199.51 336.22,203.30 336.27,198.22 336.32,196.97 336.36,196.46 336.41,203.14 336.45,200.79 336.50,196.60 336.54,192.66 336.59,198.85 336.63,202.81 336.68,196.98 336.73,209.49 336.77,198.48 336.82,200.58 336.86,193.12 336.91,200.48 336.95,203.02 337.00,190.27 337.04,197.65 337.09,198.79 337.14,201.03 337.18,202.02 337.23,204.78 337.27,196.91 337.32,201.79 337.36,196.28 337.41,197.43 337.45,195.82 337.50,200.02 337.55,198.52 337.59,200.94 337.64,199.87 337.68,202.00 337.73,206.75 337.77,198.25 337.82,203.22 337.86,191.15 337.91,198.98 337.96,204.54 338.00,199.76 338.05,196.92 338.09,197.47 338.14,201.53 338.18,198.02 338.23,198.32 338.27,200.38 338.32,199.72 338.37,198.10 338.41,198.92 338.46,197.17 338.50,195.70 338.55,194.52 338.59,202.60 338.64,200.27 338.68,197.83 338.73,197.93 338.78,201.09 338.82,199.31 338.87,199.16 338.91,198.34 338.96,196.85 339.00,200.55 339.05,204.97 339.09,200.14 339.14,199.73 339.19,199.62 339.23,195.78 339.28,202.35 339.32,197.10 339.37,193.14 339.41,202.84 339.46,199.55 339.51,199.02 339.55,196.65 339.60,196.99 339.64,200.78 339.69,189.77 339.73,199.69 339.78,198.19 339.82,197.08 339.87,197.89 339.92,198.81 339.96,200.73 340.01,200.10 340.05,199.61 340.10,194.41 340.14,203.77 340.19,200.47 340.23,200.27 340.28,201.69 340.33,196.05 340.37,199.84 340.42,200.92 340.46,200.94 340.51,195.97 340.55,197.29 340.60,200.76 340.64,197.76 340.69,198.62 340.74,194.01 340.78,202.59 340.83,205.44 340.87,200.48 340.92,201.36 340.96,201.91 341.01,199.23 341.05,198.04 341.10,198.26 341.15,198.43 341.19,201.54 341.24,193.31 341.28,200.42 341.33,202.49 341.37,199.01 341.42,197.41 341.46,204.98 341.51,196.59 341.56,197.83 341.60,198.59 341.65,199.27 341.69,193.25 341.74,192.50 341.78,203.05 341.83,200.39 341.87,201.10 341.92,199.54 341.97,202.38 342.01,203.21 342.06,200.49 342.10,200.35 342.15,196.07 342.19,196.19 342.24,196.90 342.28,197.40 342.33,193.63 342.38,201.69 342.42,200.03 342.47,196.72 342.51,201.96 342.56,196.71 342.60,201.70 342.65,200.19 342.69,201.25 342.74,196.55 342.79,201.46 342.83,198.62 342.88,196.56 342.92,197.01 342.97,198.91 343.01,202.72 343.06,197.09 343.10,201.95 343.15,196.40 343.20,199.97 343.24,195.63 343.29,199.32 343.33,198.90 343.38,202.57 343.42,198.64 343.47,195.18 343.51,198.57 343.56,197.80 343.61,202.06 343.65,194.00 343.70,202.95 343.74,193.91 343.79,200.39 343.83,206.99 343.88,198.35 343.92,199.54 343.97,202.13 344.02,203.54 344.06,198.09 344.11,199.08 344.15,199.68 344.20,194.53 344.24,199.04 344.29,200.43 344.33,204.32 344.38,200.37 344.43,197.17 344.47,197.29 344.52,197.17 344.56,199.89 344.61,197.41 344.65,205.75 344.70,200.18 344.74,191.14 344.79,196.72 344.84,198.45 344.88,196.77 344.93,193.08 344.97,199.03 345.02,197.39 345.06,195.93 345.11,198.87 345.15,196.28 345.20,201.30 345.25,190.91 345.29,199.79 345.34,198.12 345.38,193.07 345.43,191.05 345.47,195.52 345.52,197.22 345.56,195.43 345.61,206.70 345.66,198.81 345.70,194.25 345.75,199.41 345.79,193.15 345.84,194.09 345.88,198.97 345.93,197.03 345.97,196.23 346.02,194.21 346.07,199.44 346.11,204.49 346.16,198.29 346.20,189.38 346.25,201.62 346.29,197.73 346.34,199.75 346.38,197.32 346.43,191.19 346.48,193.98 346.52,203.70 346.57,199.03 346.61,198.55 346.66,198.85 346.70,199.88 346.75,202.34 346.79,203.44 346.84,199.52 346.89,197.38 346.93,199.78 346.98,199.47 347.02,192.72 347.07,199.70 347.11,196.74 347.16,196.59 347.20,200.97 347.25,193.56 347.30,203.29 347.34,200.98 347.39,198.37 347.43,194.91 347.48,194.05 347.52,201.91 347.57,199.56 347.61,203.64 347.66,202.94 347.71,193.35 347.75,197.21 347.80,196.76 347.84,202.13 347.89,198.35 347.93,206.27 347.98,198.26 348.02,197.69 348.07,192.90 348.12,198.52 348.16,197.94 348.21,196.23 348.25,190.69 348.30,194.44 348.34,195.22 348.39,200.52 348.43,198.47 348.48,199.53 348.53,202.24 348.57,196.30 348.62,200.31 348.66,197.27 348.71,201.73 348.75,197.89 348.80,205.06 348.84,199.03 348.89,193.92 348.94,200.15 348.98,201.38 349.03,198.01 349.07,200.72 349.12,199.63 349.16,197.25 349.21,200.18 349.25,200.81 349.30,205.67 349.35,203.98 349.39,201.88 349.44,197.72 349.48,197.26 349.53,197.85 349.57,200.34 349.62,198.43 349.67,198.56 349.71,193.52 349.76,199.07 349.80,201.47 349.85,199.96 349.89,196.97 349.94,196.52 349.98,201.47 350.03,196.48 350.08,200.67 350.12,192.68 350.17,199.06 350.21,200.22 350.26,205.72 350.30,193.80 350.35,201.57 350.39,198.28 350.44,200.14 350.49,206.25 350.53,198.82 350.58,200.22 350.62,199.65 350.67,200.95 350.71,200.20 350.76,195.07 350.80,198.03 350.85,196.04 350.90,200.48 350.94,199.95 350.99,201.71 351.03,197.72 351.08,199.97 351.12,200.39 351.17,199.92 351.21,201.63 351.26,195.78 351.31,202.34 351.35,194.42 351.40,197.97 351.44,194.55 351.49,191.83 351.53,196.91 351.58,197.04 351.62,198.32 351.67,196.03 351.72,195.42 351.76,198.29 351.81,197.65 351.85,200.65 351.90,201.33 351.94,194.59 351.99,196.45 352.03,192.60 352.08,203.11 352.13,197.92 352.17,195.14 352.22,195.61 352.26,197.06 352.31,198.39 352.35,200.05 352.40,192.59 352.44,198.76 352.49,200.44 352.54,195.72 352.58,198.11 352.63,198.49 352.67,198.15 352.72,193.88 352.76,202.17 352.81,197.94 352.85,203.48 352.90,192.39 352.95,189.90 352.99,203.65 353.04,185.69 353.08,200.41 353.13,218.15 353.17,179.77 353.22,206.41 353.26,204.92 353.31,194.23 353.36,207.01 353.40,196.64 353.45,197.95 353.49,206.02 353.54,200.27 353.58,194.35 353.63,196.14 353.67,192.50 353.72,201.55 353.77,202.21 353.81,189.96 353.86,193.37 353.90,195.05 353.95,197.08 353.99,206.13 354.04,195.84 354.08,192.81 354.13,200.46 354.18,200.43 354.22,197.99 354.27,199.00 354.31,198.94 354.36,200.26 354.40,206.03 354.45,198.54 354.49,205.68 354.54,201.35 354.59,201.23 354.63,199.92 354.68,195.40 354.72,201.89 354.77,198.60 354.81,203.16 354.86,199.19 354.90,199.94 354.95,200.29 355.00,201.43 355.04,202.00 355.09,204.93 355.13,203.95 355.18,204.97 355.22,197.38 355.27,202.24 355.31,195.76 355.36,196.75 355.41,199.72 355.45,194.87 355.50,200.07 355.54,205.33 355.59,200.99 355.63,198.99 355.68,199.39 355.72,203.30 355.77,196.65 355.82,201.20 355.86,195.28 355.91,198.22 355.95,193.96 356.00,195.67 356.04,200.10 356.09,194.34 356.13,199.69 356.18,197.80 356.23,194.78 356.27,198.03 356.32,195.19 356.36,195.48 356.41,196.65 356.45,200.35 356.50,204.14 356.54,201.49 356.59,201.44 356.64,194.24 356.68,198.49 356.73,197.82 356.77,199.69 356.82,204.03 356.86,200.90 356.91,197.24 356.95,194.76 357.00,192.85 357.05,195.27 357.09,194.19 357.14,200.10 357.18,195.42 357.23,196.12 357.27,202.83 357.32,198.50 357.36,198.84 357.41,193.80 357.46,198.48 357.50,203.51 357.55,198.69 357.59,191.13 357.64,203.19 357.68,199.27 357.73,197.44 357.77,198.44 357.82,197.84 357.87,201.90 357.91,200.05 357.96,201.10 358.00,196.81 358.05,202.01 358.09,205.16 358.14,193.66 358.18,195.88 358.23,196.87 358.28,195.59 358.32,198.54 358.37,198.54 358.41,195.65 358.46,205.55 358.50,201.48 358.55,200.20 358.59,200.69 358.64,195.30 358.69,197.77 358.73,203.75 358.78,195.42 358.82,196.05 358.87,199.82 358.91,200.43 358.96,202.25 359.00,197.25 359.05,202.70 359.10,195.31 359.14,197.53 359.19,200.41 359.23,197.18 359.28,195.71 359.32,199.92 359.37,202.71 359.41,200.28 359.46,201.65 359.51,196.98 359.55,197.05 359.60,193.79 359.64,198.54 359.69,196.94 359.73,204.76 359.78,203.84 359.83,203.55 359.87,209.35 359.92,198.24 359.96,206.71 360.01,192.44 360.05,204.48 360.10,199.58 360.14,199.60 360.19,194.77 360.24,201.38 360.28,198.24 360.33,200.30 360.37,198.09 360.42,199.79 360.46,204.30 360.51,201.17 360.55,201.23 360.60,196.97 360.65,204.33 360.69,192.52 360.74,202.38 360.78,198.24 360.83,198.01 360.87,198.28 360.92,203.36 360.96,197.33 361.01,204.38 361.06,200.08 361.10,200.33 361.15,202.80 361.19,195.61 361.24,206.03 361.28,195.61 361.33,200.79 361.37,203.96 361.42,198.04 361.47,198.17 361.51,202.87 361.56,199.51 361.60,193.28 361.65,199.36 361.69,199.82 361.74,190.39 361.78,198.65 361.83,198.43 361.88,198.41 361.92,200.82 361.97,202.95 362.01,197.05 362.06,196.84 362.10,199.92 362.15,202.92 362.19,200.31 362.24,197.63 362.29,195.63 362.33,202.69 362.38,200.28 362.42,198.07 362.47,197.59 362.51,198.72 362.56,199.99 362.60,195.82 362.65,197.09 362.70,203.24 362.74,188.41 362.79,195.24 362.83,202.14 362.88,200.09 362.92,204.50 362.97,202.19 363.01,202.50 363.06,200.41 363.11,195.44 363.15,198.44 363.20,199.82 363.24,198.73 363.29,200.62 363.33,198.13 363.38,196.27 363.42,192.51 363.47,199.00 363.52,202.50 363.56,196.33 363.61,202.39 363.65,202.43 363.70,198.56 363.74,194.72 363.79,202.54 363.83,194.01 363.88,199.87 363.93,195.89 363.97,199.97 364.02,200.71 364.06,197.17 364.11,201.72 364.15,200.43 364.20,195.30 364.24,198.45 364.29,197.83 364.34,205.06 364.38,200.31 364.43,200.61 364.47,200.21 364.52,190.86 364.56,201.85 364.61,202.33 364.65,200.19 364.70,200.56 364.75,206.96 364.79,201.56 364.84,196.25 364.88,197.32 364.93,197.32 364.97,198.99 365.02,199.35 365.06,202.31 365.11,198.32 365.16,193.94 365.20,200.23 365.25,196.46 365.29,193.94 365.34,202.37 365.38,197.95 365.43,199.94 365.47,199.91 365.52,201.41 365.57,198.50 365.61,201.86 365.66,203.24 365.70,194.30 365.75,199.13 365.79,203.42 365.84,198.65 365.88,194.80 365.93,195.51 365.98,197.27 366.02,201.00 366.07,193.34 366.11,196.90 366.16,198.35 366.20,197.35 366.25,199.43 366.29,195.90 366.34,201.67 366.39,198.57 366.43,199.32 366.48,202.69 366.52,197.16 366.57,200.82 366.61,199.75 366.66,193.32 366.70,197.89 366.75,196.10 366.80,200.91 366.84,195.90 366.89,202.51 366.93,201.05 366.98,199.87 367.02,195.25 367.07,200.73 367.11,198.61 367.16,197.03 367.21,204.93 367.25,192.32 367.30,195.54 367.34,201.76 367.39,200.85 367.43,194.80 367.48,195.37 367.52,197.59 367.57,202.15 367.62,194.91 367.66,194.02 367.71,203.78 367.75,198.83 367.80,193.77 367.84,202.57 367.89,199.28 367.93,195.59 367.98,202.76 368.03,198.31 368.07,205.75 368.12,195.79 368.16,193.69 368.21,198.27 368.25,198.58 368.30,198.40 368.34,197.44 368.39,200.46 368.44,197.81 368.48,196.42 368.53,198.07 368.57,196.87 368.62,198.85 368.66,196.35 368.71,201.59 368.75,199.81 368.80,198.69 368.85,191.99 368.89,192.99 368.94,201.07 368.98,198.81 369.03,199.79 369.07,201.85 369.12,200.98 369.16,196.02 369.21,204.17 369.26,195.06 369.30,200.90 369.35,198.36 369.39,198.83 369.44,200.54 369.48,197.13 369.53,200.43 369.58,198.50 369.62,192.31 369.67,200.60 369.71,194.48 369.76,202.96 369.80,191.29 369.85,206.73 369.89,199.43 369.94,205.40 369.99,199.38 370.03,199.60 370.08,203.97 370.12,198.63 370.17,195.45 370.21,197.80 370.26,200.52 370.30,195.21 370.35,193.65 370.40,201.87 370.44,197.54 370.49,202.96 370.53,201.31 370.58,196.99 370.62,196.78 370.67,195.78 370.71,200.31 370.76,195.63 370.81,192.36 370.85,197.03 370.90,195.76 370.94,198.75 370.99,195.91 371.03,192.59 371.08,198.01 371.12,201.47 371.17,199.44 371.22,197.25 371.26,200.30 371.31,192.24 371.35,204.83 371.40,198.30 371.44,197.90 371.49,195.70 371.53,195.44 371.58,199.44 371.63,197.75 371.67,201.39 371.72,201.55 371.76,198.40 371.81,199.12 371.85,197.43 371.90,200.48 371.94,203.58 371.99,195.98 372.04,195.24 372.08,198.58 372.13,195.80 372.17,201.35 372.22,195.15 372.26,201.82 372.31,196.74 372.35,198.22 372.40,194.66 372.45,196.31 372.49,195.76 372.54,198.18 372.58,193.47 372.63,192.21 372.67,200.68 372.72,197.91 372.76,196.93 372.81,197.47 372.86,201.38 372.90,199.73 372.95,200.85 372.99,201.73 373.04,199.84 373.08,197.50 373.13,200.70 373.17,203.24 373.22,200.31 373.27,200.40 373.31,198.40 373.36,194.55 373.40,195.00 373.45,208.46 373.49,187.23 373.54,193.08 373.58,202.58 373.63,197.57 373.68,202.00 373.72,191.16 373.77,202.29 373.81,195.27 373.86,198.78 373.90,196.31 373.95,198.32 373.99,203.39 374.04,204.86 374.09,198.91 374.13,199.24 374.18,200.66 374.22,194.50 374.27,198.94 374.31,200.81 374.36,191.95 374.40,198.22 374.45,199.90 374.50,200.94 374.54,200.91 374.59,202.09 374.63,201.92 374.68,201.99 374.72,203.08 374.77,203.50 374.81,197.91 374.86,205.25 374.91,198.73 374.95,195.29 375.00,200.94 375.04,199.09 375.09,194.67 375.13,196.73 375.18,202.48 375.22,199.25 375.27,199.79 375.32,195.01 375.36,192.21 375.41,201.03 375.45,196.48 375.50,196.00 375.54,196.66 375.59,205.80 375.63,202.85 375.68,202.28 375.73,202.10 375.77,203.76 375.82,196.70 375.86,198.07 375.91,199.79 375.95,207.86 376.00,196.17 376.04,205.27 376.09,197.02 376.14,200.52 376.18,196.65 376.23,200.74 376.27,198.35 376.32,201.64 376.36,196.59 376.41,196.79 376.45,198.91 376.50,193.47 376.55,201.19 376.59,210.11 376.64,190.64 376.68,190.60 376.73,196.72 376.77,201.75 376.82,199.83 376.86,207.33 376.91,203.68 376.96,201.35 377.00,199.37 377.05,201.13 377.09,196.60 377.14,197.43 377.18,198.53 377.23,202.16 377.27,199.14 377.32,195.74 377.37,199.36 377.41,194.91 377.46,200.08 377.50,196.81 377.55,202.94 377.59,203.15 377.64,200.44 377.68,193.13 377.73,202.81 377.78,199.63 377.82,197.57 377.87,195.95 377.91,197.06 377.96,198.87 378.00,199.21 378.05,195.96 378.09,192.96 378.14,194.11 378.19,201.56 378.23,203.46 378.28,199.67 378.32,195.24 378.37,194.16 378.41,199.50 378.46,202.62 378.50,202.19 378.55,197.22 378.60,200.00 378.64,190.75 378.69,201.05 378.73,207.08 378.78,190.41 378.82,194.47 378.87,203.36 378.91,203.02 378.96,203.87 379.01,196.05 379.05,199.78 379.10,197.23 379.14,203.85 379.19,200.61 379.23,194.26 379.28,203.46 379.32,202.41 379.37,194.40 379.42,199.73 379.46,199.55 379.51,202.90 379.55,200.56 379.60,204.74 379.64,192.74 379.69,198.66 379.74,197.89 379.78,201.42 379.83,202.49 379.87,200.12 379.92,203.24 379.96,200.57 380.01,202.39 380.05,197.54 380.10,201.74 380.15,196.51 380.19,194.92 380.24,200.89 380.28,200.42 380.33,198.86 380.37,203.24 380.42,197.52 380.46,195.88 380.51,205.75 380.56,196.98 380.60,199.76 380.65,201.34 380.69,200.54 380.74,201.44 380.78,197.17 380.83,201.14 380.87,193.85 380.92,198.67 380.97,195.37 381.01,202.16 381.06,200.06 381.10,194.49 381.15,200.10 381.19,201.65 381.24,193.05 381.28,204.12 381.33,196.03 381.38,200.22 381.42,193.36 381.47,197.76 381.51,200.26 381.56,192.51 381.60,200.99 381.65,189.07 381.69,196.76 381.74,198.57 381.79,198.91 381.83,197.54 381.88,199.60 381.92,196.98 381.97,198.70 382.01,200.82 382.06,195.94 382.10,199.19 382.15,204.51 382.20,198.78 382.24,204.65 382.29,200.72 382.33,202.10 382.38,199.72 382.42,197.81 382.47,196.12 382.51,200.38 382.56,198.65 382.61,200.52 382.65,197.83 382.70,195.57 382.74,193.86 382.79,202.18 382.83,196.04 382.88,199.77 382.92,199.01 382.97,206.62 383.02,195.37 383.06,202.60 383.11,201.18 383.15,199.65 383.20,191.98 383.24,203.39 383.29,202.63 383.33,204.39 383.38,200.32 383.43,200.91 383.47,196.65 383.52,198.29 383.56,201.05 383.61,197.94 383.65,198.89 383.70,197.49 383.74,198.16 383.79,197.18 383.84,197.88 383.88,196.30 383.93,204.61 383.97,197.98 384.02,198.16 384.06,200.04 384.11,196.93 384.15,201.21 384.20,206.35 384.25,202.61 384.29,197.81 384.34,196.44 384.38,198.70 384.43,202.27 384.47,198.20 384.52,197.37 384.56,198.45 384.61,199.50 384.66,198.63 384.70,201.47 384.75,197.88 384.79,199.92 384.84,197.18 384.88,199.92 384.93,207.26 384.97,199.96 385.02,196.61 385.07,198.99 385.11,194.58 385.16,201.97 385.20,194.67 385.25,197.87 385.29,193.88 385.34,195.28 385.38,204.20 385.43,201.80 385.48,196.74 385.52,195.38 385.57,195.54 385.61,202.07 385.66,197.30 385.70,200.48 385.75,193.44 385.79,195.12 385.84,200.79 385.89,192.03 385.93,199.31 385.98,198.82 386.02,197.76 386.07,205.50 386.11,194.86 386.16,196.65 386.20,199.36 386.25,193.48 386.30,202.52 386.34,193.69 386.39,199.85 386.43,193.90 386.48,202.86 386.52,202.59 386.57,195.12 386.61,203.02 386.66,198.68 386.71,200.39 386.75,197.41 386.80,194.10 386.84,199.91 386.89,193.55 386.93,195.92 386.98,197.03 387.02,194.49 387.07,199.65 387.12,194.47 387.16,199.55 387.21,199.10 387.25,193.65 387.30,199.72 387.34,206.01 387.39,197.29 387.43,201.79 387.48,199.98 387.53,194.41 387.57,205.11 387.62,195.91 387.66,195.74 387.71,192.46 387.75,202.49 387.80,204.81 387.84,198.02 387.89,196.17 387.94,201.47 387.98,196.79 388.03,204.98 388.07,197.64 388.12,204.54 388.16,203.09 388.21,199.60 388.25,198.96 388.30,196.71 388.35,196.79 388.39,199.34 388.44,191.46 388.48,200.12 388.53,205.19 388.57,194.36 388.62,196.00 388.66,198.21 388.71,198.23 388.76,201.66 388.80,195.82 388.85,195.50 388.89,193.84 388.94,203.56 388.98,199.87 389.03,204.14 389.07,198.17 389.12,197.89 389.17,196.64 389.21,197.37 389.26,197.02 389.30,197.94 389.35,200.88 389.39,200.74 389.44,195.62 389.48,206.34 389.53,201.98 389.58,208.43 389.62,197.69 389.67,197.22 389.71,195.66 389.76,199.00 389.80,199.59 389.85,195.50 389.90,196.50 389.94,199.60 389.99,201.26 390.03,193.29 390.08,199.98 390.12,198.42 390.17,207.78 390.21,198.21 390.26,194.04 390.31,197.89 390.35,208.08 390.40,202.18 390.44,196.98 390.49,199.71 390.53,200.28 390.58,199.96 390.62,202.90 390.67,202.04 390.72,194.96 390.76,201.83 390.81,199.11 390.85,195.19 390.90,196.94 390.94,195.27 390.99,200.39 391.03,195.41 391.08,195.23 391.13,201.81 391.17,196.94 391.22,207.16 391.26,200.27 391.31,197.88 391.35,197.06 391.40,203.05 391.44,198.25 391.49,197.10 391.54,195.94 391.58,197.79 391.63,196.63 391.67,196.99 391.72,197.72 391.76,196.48 391.81,198.35 391.85,202.40 391.90,198.40 391.95,194.23 391.99,200.27 392.04,202.54 392.08,203.61 392.13,196.85 392.17,201.32 392.22,198.49 392.26,206.81 392.31,202.78 392.36,193.52 392.40,193.82 392.45,193.11 392.49,201.84 392.54,200.49 392.58,198.41 392.63,194.85 392.67,200.74 392.72,198.95 392.77,198.37 392.81,200.48 392.86,200.03 392.90,198.30 392.95,203.35 392.99,195.74 393.04,198.98 393.08,201.85 393.13,194.40 393.18,200.15 393.22,193.95 393.27,193.96 393.31,196.69 393.36,199.18 393.40,195.93 393.45,199.46 393.49,196.15 393.54,199.08 393.59,204.67 393.63,200.34 393.68,196.34 393.72,199.59 393.77,197.26 393.81,202.22 393.86,205.45 393.90,195.29 393.95,193.91 394.00,196.29 394.04,202.30 394.09,201.91 394.13,198.97 394.18,203.36 394.22,200.68 394.27,197.14 394.31,194.90 394.36,189.01 394.41,199.02 394.45,202.42 394.50,199.56 394.54,194.69 394.59,203.85 394.63,197.59 394.68,199.93 394.72,191.71 394.77,194.42 394.82,196.89 394.86,199.99 394.91,197.59 394.95,198.94 395.00,192.93 395.04,196.35 395.09,194.75 395.13,201.99 395.18,195.89 395.23,197.91 395.27,193.14 395.32,202.74 395.36,198.95 395.41,198.45 395.45,201.91 395.50,192.63 395.54,201.99 395.59,200.01 395.64,200.77 395.68,201.31 395.73,196.31 395.77,199.00 395.82,193.65 395.86,197.13 395.91,195.13 395.95,198.85 396.00,196.89 396.05,201.47 396.09,200.93 396.14,198.59 396.18,198.24 396.23,195.57 396.27,197.83 396.32,199.61 396.36,196.50 396.41,204.05 396.46,206.15 396.50,199.20 396.55,195.95 396.59,200.41 396.64,196.78 396.68,196.09 396.73,197.71 396.77,188.96 396.82,198.52 396.87,197.35 396.91,199.82 396.96,195.06 397.00,199.11 397.05,200.99 397.09,199.49 397.14,201.35 397.18,197.95 397.23,197.79 397.28,197.95 397.32,199.32 397.37,202.16 397.41,197.22 397.46,199.04 397.50,202.70 397.55,199.41 397.59,198.09 397.64,196.82 397.69,199.68 397.73,198.01 397.78,202.12 397.82,205.16 397.87,200.54 397.91,199.63 397.96,202.41 398.00,201.42 398.05,198.66 398.10,196.79 398.14,192.30 398.19,203.83 398.23,199.09 398.28,201.55 398.32,199.23 398.37,203.22 398.41,196.99 398.46,198.45 398.51,196.03 398.55,196.58 398.60,199.10 398.64,197.76 398.69,195.38 398.73,200.01 398.78,203.21 398.82,202.41 398.87,200.66 398.92,200.45 398.96,205.64 399.01,191.74 399.05,197.01 399.10,196.58 399.14,197.67 399.19,197.97 399.23,199.32 399.28,202.67 399.33,200.37 399.37,202.45 399.42,197.84 399.46,196.11 399.51,201.87 399.55,200.29 399.60,198.71 399.65,201.15 399.69,197.49 399.74,203.22 399.78,204.23 399.83,200.81 399.87,197.06 399.92,198.95 399.96,196.76 400.01,199.92 400.06,199.04 400.10,196.02 400.15,191.07 400.19,197.21 400.24,196.59 400.28,196.20 400.33,197.06 400.37,198.99 400.42,203.26 400.47,197.61 400.51,194.23 400.56,201.90 400.60,192.90 400.65,196.98 400.69,200.66 400.74,203.76 400.78,197.36 400.83,200.93 400.88,199.32 400.92,195.45 400.97,194.09 401.01,197.28 401.06,202.97 401.10,200.34 401.15,199.23 401.19,192.35 401.24,197.03 401.29,199.83 401.33,203.68 401.38,201.82 401.42,195.37 401.47,201.07 401.51,197.05 401.56,198.94 401.60,193.44 401.65,199.79 401.70,201.40 401.74,199.17 401.79,195.52 401.83,198.82 401.88,201.17 401.92,199.82 401.97,203.67 402.01,198.80 402.06,199.03 402.11,201.08 402.15,202.65 402.20,194.17 402.24,200.60 402.29,199.65 402.33,192.10 402.38,199.20 402.42,200.46 402.47,197.88 402.52,192.32 402.56,198.71 402.61,198.16 402.65,199.51 402.70,199.60 402.74,200.28 402.79,201.93 402.83,200.52 402.88,199.18 402.93,200.55 402.97,192.78 403.02,194.21 403.06,204.09 403.11,197.12 403.15,197.42 403.20,200.93 403.24,198.03 403.29,192.08 403.34,199.33 403.38,194.69 403.43,198.24 403.47,198.18 403.52,201.08 403.56,195.82 403.61,197.77 403.65,200.98 403.70,198.93 403.75,198.26 403.79,197.66 403.84,197.41 403.88,200.76 403.93,198.42 403.97,195.22 404.02,200.45 404.06,192.64 404.11,202.93 404.16,203.78 404.20,195.97 404.25,200.11 404.29,200.81 404.34,200.93 404.38,193.56 404.43,192.07 404.47,195.66 404.52,194.08 404.57,198.83 404.61,199.45 404.66,197.08 404.70,197.09 404.75,193.77 404.79,198.94 404.84,200.24 404.88,197.29 404.93,196.29 404.98,207.21 405.02,196.88 405.07,205.64 405.11,197.44 405.16,200.31 405.20,198.55 405.25,205.76 405.29,198.61 405.34,198.37 405.39,205.72 405.43,200.34 405.48,193.48 405.52,195.15 405.57,199.78 405.61,201.28 405.66,198.69 405.70,199.33 405.75,200.67 405.80,198.51 405.84,196.10 405.89,200.16 405.93,201.20 405.98,197.93 406.02,196.25 406.07,196.25 406.11,195.53 406.16,197.66 406.21,190.49 406.25,200.18 406.30,197.24 406.34,201.72 406.39,197.50 406.43,203.79 406.48,203.83 406.52,198.34 406.57,197.34 406.62,196.27 406.66,204.69 406.71,196.50 406.75,200.32 406.80,189.29 406.84,201.39 406.89,202.08 406.93,199.02 406.98,194.35 407.03,199.52 407.07,201.53 407.12,201.36 407.16,199.79 407.21,204.99 407.25,191.77 407.30,197.15 407.34,199.98 407.39,199.91 407.44,199.00 407.48,200.33 407.53,198.28 407.57,201.19 407.62,200.31 407.66,203.57 407.71,194.97 407.75,200.14 407.80,200.55 407.85,197.57 407.89,204.43 407.94,198.41 407.98,197.50 408.03,199.56 408.07,207.11 408.12,196.05 408.16,196.51 408.21,202.40 408.26,194.24 408.30,202.76 408.35,201.81 408.39,194.52 408.44,195.95 408.48,199.75 408.53,197.09 408.57,201.28 408.62,202.53 408.67,200.96 408.71,194.50 408.76,195.18 408.80,197.96 408.85,189.71 408.89,196.13 408.94,200.35 408.98,196.18 409.03,196.62 409.08,203.95 409.12,202.84 409.17,194.17 409.21,203.00 409.26,199.06 409.30,195.00 409.35,194.09 409.39,199.95 409.44,207.36 409.49,198.97 409.53,196.53 409.58,200.16 409.62,205.42 409.67,201.02 409.71,196.02 409.76,196.47 409.81,201.17 409.85,198.03 409.90,200.41 409.94,197.59 409.99,201.96 410.03,198.76 410.08,201.71 410.12,194.73 410.17,200.65 410.22,198.58 410.26,201.93 410.31,206.04 410.35,199.77 410.40,203.39 410.44,196.02 410.49,195.16 410.53,200.21 410.58,202.33 410.63,196.27 410.67,200.34 410.72,196.29 410.76,195.93 410.81,199.88 410.85,193.07 410.90,197.73 410.94,196.33 410.99,198.64 411.04,202.39 411.08,198.28 411.13,200.00 411.17,195.38 411.22,201.53 411.26,198.29 411.31,196.89 411.35,193.16 411.40,200.85 411.45,198.56 411.49,201.70 411.54,202.23 411.58,200.81 411.63,195.13 411.67,195.42 411.72,198.97 411.76,201.78 411.81,195.18 411.86,198.06 411.90,197.53 411.95,197.31 411.99,194.47 412.04,197.21 412.08,199.27 412.13,200.13 412.17,199.55 412.22,199.61 412.27,202.12 412.31,201.98 412.36,193.08 412.40,195.18 412.45,200.90 412.49,198.97 412.54,199.92 412.58,197.32 412.63,200.17 412.68,198.98 412.72,198.01 412.77,194.78 412.81,199.76 412.86,199.23 412.90,203.02 412.95,202.33 412.99,199.60 413.04,202.33 413.09,206.32 413.13,202.73 413.18,200.03 413.22,200.94 413.27,199.72 413.31,201.82 413.36,197.77 413.40,196.07 413.45,193.61 413.50,196.80 413.54,199.49 413.59,195.89 413.63,203.60 413.68,206.81 413.72,193.63 413.77,198.94 413.81,203.38 413.86,194.15 413.91,193.91 413.95,197.15 414.00,200.52 414.04,191.52 414.09,200.55 414.13,199.92 414.18,200.27 414.22,198.85 414.27,204.64 414.32,201.00 414.36,197.36 414.41,192.59 414.45,200.02 414.50,199.90 414.54,198.14 414.59,195.97 414.63,194.66 414.68,200.42 414.73,204.57 414.77,207.56 414.82,193.90 414.86,197.91 414.91,196.16 414.95,196.14 415.00,196.86 415.04,192.10 415.09,197.52 415.14,193.99 415.18,200.94 415.23,197.15 415.27,200.78 415.32,200.78 415.36,204.41 415.41,198.64 415.45,199.03 415.50,194.85 415.55,200.57 415.59,201.68 415.64,201.11 415.68,202.16 415.73,195.89 415.77,196.35 415.82,205.99 415.86,195.98 415.91,201.64 415.96,197.38 416.00,203.01 416.05,194.51 416.09,204.47 416.14,201.87 416.18,197.80 416.23,202.71 416.27,197.32 416.32,202.87 416.37,197.16 416.41,195.00 416.46,207.27 416.50,196.44 416.55,197.24 416.59,202.64 416.64,198.78 416.68,199.24 416.73,191.78 416.78,199.79 416.82,196.86 416.87,200.39 416.91,198.49 416.96,197.61 417.00,200.33 417.05,196.40 417.09,200.63 417.14,200.23 417.19,200.69 417.23,200.41 417.28,197.44 417.32,196.89 417.37,205.42 417.41,203.10 417.46,199.50 417.50,198.81 417.55,205.04 417.60,196.42 417.64,192.04 417.69,199.76 417.73,200.96 417.78,203.01 417.82,200.64 417.87,202.01 417.91,199.52 417.96,198.69 418.01,205.12 418.05,197.00 418.10,197.92 418.14,203.12 418.19,195.68 418.23,194.14 418.28,202.09 418.32,197.57 418.37,201.32 418.42,200.95 418.46,199.95 418.51,205.50 418.55,199.35 418.60,201.72 418.64,200.83 418.69,200.57 418.73,202.10 418.78,195.19 418.83,199.36 418.87,194.48 418.92,203.33 418.96,200.98 419.01,202.47 419.05,201.89 419.10,198.39 419.14,196.81 419.19,191.71 419.24,200.88 419.28,197.24 419.33,199.02 419.37,200.61 419.42,200.24 419.46,200.77 419.51,192.04 419.56,198.07 419.60,196.47 419.65,200.93 419.69,197.22 419.74,199.15 419.78,200.52 419.83,199.23 419.87,201.66 419.92,194.22 419.97,200.44 420.01,201.17 420.06,202.22 420.10,202.05 420.15,201.53 420.19,205.57 420.24,201.61 420.28,197.36 420.33,194.14 420.38,196.64 420.42,196.98 420.47,195.24 420.51,202.77 420.56,195.24 420.60,196.58 420.65,198.30 420.69,199.91 420.74,197.33 420.79,196.48 420.83,204.68 420.88,198.12 420.92,197.17 420.97,197.03 421.01,202.64 421.06,201.10 421.10,201.74 421.15,196.76 421.20,190.54 421.24,197.00 421.29,196.19 421.33,203.38 421.38,201.14 421.42,197.00 421.47,199.71 421.51,200.75 421.56,200.62 421.61,199.55 421.65,196.74 421.70,197.44 421.74,195.48 421.79,198.79 421.83,193.09 421.88,208.58 421.92,199.96 421.97,193.14 422.02,200.17 422.06,202.58 422.11,201.74 422.15,198.57 422.20,196.55 422.24,202.10 422.29,197.67 422.33,202.77 422.38,198.64 422.43,199.97 422.47,196.48 422.52,197.60 422.56,194.83 422.61,201.53 422.65,212.08 422.70,196.50 422.74,197.60 422.79,199.61 422.84,201.45 422.88,203.38 422.93,199.53 422.97,197.44 423.02,196.17 423.06,201.18 423.11,203.87 423.15,196.83 423.20,194.80 423.25,198.12 423.29,205.93 423.34,194.76 423.38,204.91 423.43,196.73 423.47,208.18 423.52,203.41 423.56,198.45 423.61,200.91 423.66,198.73 423.70,197.64 423.75,195.59 423.79,196.41 423.84,204.97 423.88,201.16 423.93,192.41 423.97,200.30 424.02,205.55 424.07,196.42 424.11,199.48 424.16,200.01 424.20,194.78 424.25,194.76 424.29,199.59 424.34,193.86 424.38,198.30 424.43,200.13 424.48,194.82 424.52,199.77 424.57,200.62 424.61,194.72 424.66,199.35 424.70,202.64 424.75,187.87 424.79,202.55 424.84,195.93 424.89,193.14 424.93,208.96 424.98,195.44 425.02,185.18 425.07,219.92 425.11,179.79 425.16,188.91 425.20,221.64 425.25,177.37 425.30,208.45 425.34,203.58 425.39,186.54 425.43,210.28 425.48,200.48 425.52,193.06 425.57,205.01 425.61,195.63 425.66,197.93 425.71,197.31 425.75,193.10 425.80,195.63 425.84,205.27 425.89,195.66 425.93,199.48 425.98,194.99 426.02,197.01 426.07,194.77 426.12,203.06 426.16,191.83 426.21,198.69 426.25,197.50 426.30,199.75 426.34,201.36 426.39,195.61 426.43,199.64 426.48,194.31 426.53,193.68 426.57,194.61 426.62,196.54 426.66,199.11 426.71,200.70 426.75,202.47 426.80,199.37 426.84,195.23 426.89,203.18 426.94,198.41 426.98,199.84 427.03,202.36 427.07,200.03 427.12,200.17 427.16,204.89 427.21,206.31 427.25,207.00 427.30,194.66 427.35,196.67 427.39,201.82 427.44,195.90 427.48,198.30 427.53,200.58 427.57,195.50 427.62,203.53 427.66,205.21 427.71,202.41 427.76,201.51 427.80,194.56 427.85,194.66 427.89,204.00 427.94,199.60 427.98,194.50 428.03,194.39 428.07,203.28 428.12,194.78 428.17,197.66 428.21,198.59 428.26,196.11 428.30,202.77 428.35,198.19 428.39,200.86 428.44,198.19 428.48,200.47 428.53,197.41 428.58,193.97 428.62,199.19 428.67,200.36 428.71,200.85 428.76,200.06 428.80,200.30 428.85,196.38 428.89,200.59 428.94,204.43 428.99,198.79 429.03,198.32 429.08,197.39 429.12,198.07 429.17,201.45 429.21,199.27 429.26,196.35 429.30,195.96 429.35,203.84 429.40,196.00 429.44,202.34 429.49,199.82 429.53,196.19 429.58,196.80 429.62,198.07 429.67,198.14 429.72,197.07 429.76,201.89 429.81,199.13 429.85,198.64 429.90,198.12 429.94,200.89 429.99,190.38 430.03,197.22 430.08,194.45 430.13,198.79 430.17,196.96 430.22,198.39 430.26,198.72 430.31,197.79 430.35,200.30 430.40,196.42 430.44,194.06 430.49,201.58 430.54,201.54 430.58,203.65 430.63,196.56 430.67,194.61 430.72,196.68 430.76,201.85 430.81,198.86 430.85,196.97 430.90,195.96 430.95,196.36 430.99,203.82 431.04,205.55 431.08,200.75 431.13,204.78 431.17,192.08 431.22,201.98 431.26,193.67 431.31,196.31 431.36,199.87 431.40,199.96 431.45,196.52 431.49,194.97 431.54,202.28 431.58,200.68 431.63,204.32 431.67,197.67 431.72,202.46 431.77,199.78 431.81,201.62 431.86,203.03 431.90,199.10 431.95,199.80 431.99,193.70 432.04,198.90 432.08,205.55 432.13,195.49 432.18,199.96 432.22,197.82 432.27,195.60 432.31,205.62 432.36,204.13 432.40,204.85 432.45,197.78 432.49,201.11 432.54,196.70 432.59,196.65 432.63,201.75 432.68,200.00 432.72,195.59 432.77,193.10 432.81,193.35 432.86,198.65 432.90,196.41 432.95,195.64 433.00,195.61 433.04,199.82 433.09,195.85 433.13,200.04 433.18,202.29 433.22,189.93 433.27,202.93 433.31,201.61 433.36,199.17 433.41,200.59 433.45,196.83 433.50,200.04 433.54,202.89 433.59,197.92 433.63,201.84 433.68,199.62 433.72,201.59 433.77,203.49 433.82,195.39 433.86,196.98 433.91,200.23 433.95,199.11 434.00,203.65 434.04,203.00 434.09,199.26 434.13,195.89 434.18,201.38 434.23,200.40 434.27,204.34 434.32,198.39 434.36,202.55 434.41,202.46 434.45,204.57 434.50,199.49 434.54,193.15 434.59,195.87 434.64,203.96 434.68,193.22 434.73,200.78 434.77,197.39 434.82,197.86 434.86,190.47 434.91,203.26 434.95,197.18 435.00,199.22 435.05,200.95 435.09,197.49 435.14,203.34 435.18,191.89 435.23,196.07 435.27,204.59 435.32,198.46 435.36,202.72 435.41,197.64 435.46,199.62 435.50,192.87 435.55,193.13 435.59,202.65 435.64,198.92 435.68,202.83 435.73,195.99 435.77,197.83 435.82,194.68 435.87,193.13 435.91,199.74 435.96,197.26 436.00,206.46 436.05,197.10 436.09,198.85 436.14,197.48 436.18,200.33 436.23,189.97 436.28,202.10 436.32,200.45 436.37,200.41 436.41,194.77 436.46,196.71 436.50,196.92 436.55,202.81 436.59,195.03 436.64,197.61 436.69,201.69 436.73,208.37 436.78,196.17 436.82,199.12 436.87,207.22 436.91,194.80 436.96,194.73 437.00,205.29 437.05,196.25 437.10,196.56 437.14,201.74 437.19,200.58 437.23,200.04 437.28,194.20 437.32,200.62 437.37,198.81 437.41,199.93 437.46,201.86 437.51,197.69 437.55,204.21 437.60,205.00 437.64,205.14 437.69,196.47 437.73,190.90 437.78,197.09 437.82,198.91 437.87,198.44 437.92,196.84 437.96,199.19 438.01,201.45 438.05,194.08 438.10,198.55 438.14,199.32 438.19,196.52 438.23,193.95 438.28,198.43 438.33,196.59 438.37,200.45 438.42,200.25 438.46,196.58 438.51,196.02 438.55,197.43 438.60,195.55 438.64,200.89 438.69,203.71 438.74,203.68 438.78,197.59 438.83,204.68 438.87,196.59 438.92,197.91 438.96,195.74 439.01,201.08 439.05,201.90 439.10,196.61 439.15,201.49 439.19,199.55 439.24,198.49 439.28,199.30 439.33,198.23 439.37,197.65 439.42,199.81 439.46,198.73 439.51,197.28 439.56,205.07 439.60,195.03 439.65,197.90 439.69,201.64 439.74,199.71 439.78,195.83 439.83,199.62 439.88,198.20 439.92,196.11 439.97,195.07 440.01,199.06 440.06,198.88 440.10,200.60 440.15,199.33 440.19,196.38 440.24,197.71 440.29,201.12 440.33,196.09 440.38,200.72 440.42,201.19 440.47,200.86 440.51,203.57 440.56,194.11 440.60,205.65 440.65,199.17 440.70,197.83 440.74,202.97 440.79,196.00 440.83,195.54 440.88,196.36 440.92,199.87 440.97,195.18 441.01,206.94 441.06,193.43 441.11,198.12 441.15,198.11 441.20,200.08 441.24,196.46 441.29,201.76 441.33,199.35 441.38,198.51 441.42,196.30 441.47,204.76 441.52,198.57 441.56,198.68 441.61,195.68 441.65,201.01 441.70,202.58 441.74,199.13 441.79,198.98 441.83,201.05 441.88,200.34 441.93,195.88 441.97,198.29 442.02,196.56 442.06,203.56 442.11,199.84 442.15,203.68 442.20,196.15 442.24,195.25 442.29,189.75 442.34,197.51 442.38,200.09 442.43,192.72 442.47,193.77 442.52,202.99 442.56,200.55 442.61,204.02 442.65,203.19 442.70,204.92 442.75,202.65 442.79,195.87 442.84,196.40 442.88,194.89 442.93,202.99 442.97,198.05 443.02,198.41 443.06,201.83 443.11,195.33 443.16,194.79 443.20,198.83 443.25,195.97 443.29,199.08 443.34,194.52 443.38,194.76 443.43,203.29 443.47,201.14 443.52,195.48 443.57,197.93 443.61,192.44 443.66,199.61 443.70,201.60 443.75,196.46 443.79,200.05 443.84,204.49 443.88,201.63 443.93,196.67 443.98,198.75 444.02,198.94 444.07,198.02 444.11,197.43 444.16,196.71 444.20,199.99 444.25,195.35 444.29,198.16 444.34,201.31 444.39,196.09 444.43,194.11 444.48,202.63 444.52,196.89 444.57,192.97 444.61,197.28 444.66,205.09 444.70,198.52 444.75,194.98 444.80,195.24 444.84,198.94 444.89,198.81 444.93,200.34 444.98,202.01 445.02,201.63 445.07,197.26 445.11,199.76 445.16,203.15 445.21,205.28 445.25,201.35 445.30,194.38 445.34,205.02 445.39,198.29 445.43,209.82 445.48,194.23 445.52,193.11 445.57,196.14 445.62,195.79 445.66,196.70 445.71,198.70 445.75,196.10 445.80,204.22 445.84,199.52 445.89,201.82 445.93,196.00 445.98,194.72 446.03,193.78 446.07,195.19 446.12,197.96 446.16,194.59 446.21,194.45 446.25,197.25 446.30,197.13 446.34,198.94 446.39,201.91 446.44,195.03 446.48,197.35 446.53,195.94 446.57,197.13 446.62,193.11 446.66,203.39 446.71,198.11 446.75,194.69 446.80,194.03 446.85,198.70 446.89,195.13 446.94,198.10 446.98,200.24 447.03,199.52 447.07,197.99 447.12,193.24 447.16,201.12 447.21,200.78 447.26,200.53 447.30,203.56 447.35,198.83 447.39,204.93 447.44,193.74 447.48,196.42 447.53,204.03 447.57,198.32 447.62,201.26 447.67,197.61 447.71,196.83 447.76,198.57 447.80,205.95 447.85,191.75 447.89,195.33 447.94,198.60 447.98,204.00 448.03,199.60 448.08,206.12 448.12,195.97 448.17,197.96 448.21,199.33 448.26,196.94 448.30,191.58 448.35,199.79 448.39,197.80 448.44,199.76 448.49,207.24 448.53,193.23 448.58,196.32 448.62,195.78 448.67,198.59 448.71,191.58 448.76,197.02 448.80,199.30 448.85,195.13 448.90,198.42 448.94,202.06 448.99,198.21 449.03,192.03 449.08,203.54 449.12,199.59 449.17,199.37 449.21,199.67 449.26,196.82 449.31,196.30 449.35,203.35 449.40,195.97 449.44,193.77 449.49,202.11 449.53,204.45 449.58,199.42 449.63,200.43 449.67,200.08 449.72,200.56 449.76,203.00 449.81,195.61 449.85,195.09 449.90,202.49 449.94,197.82 449.99,196.81 450.04,197.10 450.08,202.15 450.13,202.86 450.17,191.87 450.22,204.26 450.26,201.30 450.31,199.45 450.35,197.50 450.40,202.84 450.45,200.63 450.49,193.89 450.54,193.92 450.58,198.79 450.63,201.47 450.67,201.62 450.72,196.71 450.76,202.65 450.81,196.04 450.86,201.45 450.90,203.70 450.95,203.32 450.99,193.59 451.04,201.83 451.08,199.63 451.13,199.52 451.17,204.56 451.22,198.83 451.27,198.14 451.31,195.89 451.36,201.56 451.40,201.74 451.45,199.00 451.49,197.56 451.54,195.78 451.58,205.13 451.63,202.02 451.68,197.05 451.72,198.39 451.77,192.26 451.81,195.50 451.86,204.64 451.90,192.99 451.95,199.43 451.99,199.11 452.04,198.49 452.09,202.67 452.13,192.98 452.18,201.94 452.22,202.48 452.27,197.60 452.31,197.34 452.36,194.25 452.40,203.17 452.45,198.01 452.50,198.96 452.54,202.92 452.59,202.20 452.63,192.90 452.68,203.06 452.72,198.34 452.77,204.21 452.81,199.23 452.86,195.84 452.91,206.08 452.95,199.63 453.00,192.23 453.04,198.70 453.09,197.26 453.13,203.78 453.18,199.52 453.22,201.95 453.27,195.80 453.32,200.51 453.36,201.12 453.41,199.21 453.45,204.82 453.50,200.03 453.54,201.45 453.59,199.36 453.63,198.92 453.68,198.85 453.73,197.26 453.77,198.00 453.82,203.31 453.86,208.65 453.91,195.93 453.95,196.53 454.00,196.45 454.04,199.54 454.09,194.61 454.14,202.34 454.18,202.99 454.23,188.85 454.27,201.02 454.32,197.15 454.36,197.42 454.41,196.05 454.45,198.90 454.50,196.38" fill="none" stroke="#1478ff" stroke-width="0.6"/>
<line x1="44.5" y1="199.00" x2="454.5" y2="199.00" stroke="#4a62c8" stroke-width="1.6"/>
<polyline points="66.51,198.98 66.53,198.99 66.54,199.02 66.55,199.02 66.57,198.99 66.58,198.97 66.60,198.99 66.61,199.02 66.63,199.03 66.64,198.99 66.65,198.96 66.67,198.98 66.68,199.03 66.70,199.05 66.71,198.99 66.72,198.94 66.74,198.97 66.75,199.05 66.77,199.07 66.78,198.99 66.79,198.92 66.81,198.95 66.82,199.06 66.84,199.10 66.85,198.99 66.87,198.89 66.88,198.93 66.89,199.08 66.91,199.13 66.92,198.99 66.94,198.85 66.95,198.90 66.96,199.11 66.98,199.18 66.99,199.00 67.01,198.80 67.02,198.86 67.04,199.14 67.05,199.25 67.06,199.01 67.08,198.73 67.09,198.81 67.11,199.17 67.12,199.32 67.13,199.03 67.15,198.66 67.16,198.74 67.18,199.21 67.19,199.42 67.21,199.05 67.22,198.57 67.23,198.66 67.25,199.25 67.26,199.53 67.28,199.08 67.29,198.47 67.30,198.56 67.32,199.29 67.33,199.67 67.35,199.13 67.36,198.36 67.38,198.44 67.39,199.33 67.40,199.82 67.42,199.19 67.43,198.24 67.45,198.30 67.46,199.36 67.47,199.99 67.49,199.26 67.50,198.11 67.52,198.14 67.53,199.39 67.55,200.17 67.56,199.35 67.57,197.99 67.59,197.97 67.60,199.40 67.62,200.35 67.63,199.45 67.64,197.86 67.66,197.79 67.67,199.41 67.69,200.54 67.70,199.57 67.71,197.75 67.73,197.60 67.74,199.40 67.76,200.73 67.77,199.70 67.79,197.65 67.80,197.40 67.81,199.38 67.83,200.90 67.84,199.83 67.86,197.57 67.87,197.22 67.88,199.34 67.90,201.05 67.91,199.97 67.93,197.51 67.94,197.05 67.96,199.28 67.97,201.17 67.98,200.10 68.00,197.48 68.01,196.91 68.03,199.21 68.04,201.26 68.05,200.22 68.07,197.49 68.08,196.80 68.10,199.13 68.11,201.31 68.13,200.33 68.14,197.52 68.15,196.72 68.17,199.04 68.18,201.31 68.20,200.42 68.21,197.58 68.22,196.69 68.24,198.96 68.25,201.28 68.27,200.48 68.28,197.67 68.30,196.69 68.31,198.87 68.32,201.20 68.34,200.51 68.35,197.78 68.37,196.74 68.38,198.79 68.39,201.09 68.41,200.52 68.42,197.90 68.44,196.83 68.45,198.72 68.46,200.95 68.48,200.49 68.49,198.03 68.51,196.95 68.52,198.66 68.54,200.78 68.55,200.43 68.56,198.17 68.58,197.10 68.59,198.62 68.61,200.60 68.62,200.35 68.63,198.30 68.65,197.27 68.66,198.60 68.68,200.40 68.69,200.25 68.71,198.43 68.72,197.46 68.73,198.59 68.75,200.21 68.76,200.14 68.78,198.55 68.79,197.65 68.80,198.60 68.82,200.03 68.83,200.01 68.85,198.65 68.86,197.83 68.88,198.61 68.89,199.86 68.90,199.89 68.92,198.74 68.93,198.01 68.95,198.64 68.96,199.70 68.97,199.76 68.99,198.81 69.00,198.18 69.02,198.67 69.03,199.56 69.05,199.64 69.06,198.87 69.07,198.33 69.09,198.71 69.10,199.44 69.12,199.53 69.13,198.92 69.14,198.47 69.16,198.75 69.17,199.34 69.19,199.43 69.20,198.95 69.22,198.58 69.23,198.79 69.24,199.26 69.26,199.34 69.27,198.97 69.29,198.68 69.30,198.83 69.31,199.19 69.33,199.27 69.34,198.99 69.36,198.75 69.37,198.86 69.38,199.14 69.40,199.20 69.41,199.00 69.43,198.82 69.44,198.89 69.46,199.10 69.47,199.15 69.48,199.01 69.50,198.87 69.51,198.92 69.53,199.07 69.54,199.11 69.55,199.01 69.57,198.90 69.58,198.94 69.60,199.05 69.61,199.08 69.63,199.01 69.64,198.93 69.65,198.95 69.67,199.03 69.68,199.06 69.70,199.01 69.71,198.95 69.72,198.97 69.74,199.02 69.75,199.04 69.77,199.01 69.78,198.97 69.80,198.98 69.81,199.01 69.82,199.03 69.84,199.01 69.85,198.98 69.87,198.98 69.88,199.01 69.89,199.02" fill="none" stroke="#ff0000" stroke-width="0.6"/>
<polyline points="85.72,198.90 85.72,198.82 85.72,198.74 85.73,198.68 85.73,198.64 85.74,198.63 85.74,198.67 85.74,198.75 85.75,198.87 85.75,199.02 85.75,199.20 85.76,199.38 85.76,199.55 85.76,199.69 85.77,199.77 85.77,199.77 85.77,199.70 85.78,199.53 85.78,199.29 85.79,198.97 85.79,198.61 85.79,198.24 85.80,197.91 85.80,197.64 85.80,197.48 85.81,197.47 85.81,197.62 85.81,197.94 85.82,198.42 85.82,199.02 85.82,199.70 85.83,200.39 85.83,201.02 85.83,201.51 85.84,201.80 85.84,201.82 85.85,201.55 85.85,200.97 85.85,200.11 85.86,199.03 85.86,197.83 85.86,196.61 85.87,195.51 85.87,194.66 85.87,194.17 85.88,194.13 85.88,194.61 85.88,195.59 85.89,197.03 85.89,198.83 85.89,200.82 85.90,202.83 85.90,204.62 85.91,206.00 85.91,206.79 85.91,206.84 85.92,206.08 85.92,204.52 85.92,202.25 85.93,199.44 85.93,196.35 85.93,193.28 85.94,190.54 85.94,188.45 85.94,187.27 85.95,187.21 85.95,188.35 85.95,190.67 85.96,194.01 85.96,198.10 85.97,202.57 85.97,206.99 85.97,210.90 85.98,213.86 85.98,215.50 85.98,215.57 85.99,213.97 85.99,210.75 85.99,206.16 86.00,200.58 86.00,194.52 86.00,188.58 86.01,183.38 86.01,179.47 86.02,177.32 86.02,177.25 86.02,179.35 86.03,183.52 86.03,189.43 86.03,196.55 86.04,204.21 86.04,211.67 86.04,218.16 86.05,222.99 86.05,225.60 86.05,225.67 86.06,223.09 86.06,218.03 86.06,210.94 86.07,202.45 86.07,193.38 86.08,184.62 86.08,177.06 86.08,171.48 86.09,168.50 86.09,168.45 86.09,171.41 86.10,177.14 86.10,185.12 86.10,194.59 86.11,204.62 86.11,214.23 86.11,222.47 86.12,228.48 86.12,231.67 86.12,231.69 86.13,228.51 86.13,222.44 86.14,214.05 86.14,204.19 86.14,193.81 86.15,183.95 86.15,175.56 86.15,169.49 86.16,166.31 86.16,166.33 86.16,169.52 86.17,175.53 86.17,183.77 86.17,193.38 86.18,203.41 86.18,212.88 86.18,220.86 86.19,226.59 86.19,229.55 86.20,229.50 86.20,226.52 86.20,220.94 86.21,213.38 86.21,204.62 86.21,195.55 86.22,187.06 86.22,179.97 86.22,174.91 86.23,172.33 86.23,172.40 86.23,175.01 86.24,179.84 86.24,186.33 86.25,193.79 86.25,201.45 86.25,208.57 86.26,214.48 86.26,218.65 86.26,220.75 86.27,220.68 86.27,218.53 86.27,214.62 86.28,209.42 86.28,203.48 86.28,197.42 86.29,191.84 86.29,187.25 86.29,184.03 86.30,182.43 86.30,182.50 86.31,184.14 86.31,187.10 86.31,191.01 86.32,195.43 86.32,199.90 86.32,203.99 86.33,207.33 86.33,209.65 86.33,210.79 86.34,210.73 86.34,209.55 86.34,207.46 86.35,204.72 86.35,201.65 86.35,198.56 86.36,195.75 86.36,193.48 86.37,191.92 86.37,191.16 86.37,191.21 86.38,192.00 86.38,193.38 86.38,195.17 86.39,197.18 86.39,199.17 86.39,200.97 86.40,202.41 86.40,203.39 86.40,203.87 86.41,203.83 86.41,203.34 86.41,202.49 86.42,201.39 86.42,200.17 86.43,198.97 86.43,197.89 86.43,197.03 86.44,196.45 86.44,196.18 86.44,196.20 86.45,196.49 86.45,196.98 86.45,197.61 86.46,198.30 86.46,198.98 86.46,199.58 86.47,200.06 86.47,200.38 86.47,200.53 86.48,200.52 86.48,200.36 86.49,200.09 86.49,199.76 86.49,199.39 86.50,199.03 86.50,198.71 86.50,198.47 86.51,198.30 86.51,198.23 86.51,198.23 86.52,198.31 86.52,198.45 86.52,198.62 86.53,198.80 86.53,198.98 86.54,199.13 86.54,199.25 86.54,199.33 86.55,199.37 86.55,199.36 86.55,199.32 86.56,199.26 86.56,199.18 86.56,199.10" fill="none" stroke="#ff0000" stroke-width="0.6"/>
<polyline points="80.50,199.03 80.55,198.99 80.60,198.98 80.64,199.03 80.69,198.99 80.74,198.97 80.79,199.04 80.83,198.98 80.88,198.97 80.93,199.05 80.97,198.97 81.02,198.97 81.07,199.07 81.12,198.96 81.16,198.96 81.21,199.08 81.26,198.95 81.31,198.96 81.35,199.10 81.40,198.93 81.45,198.96 81.49,199.12 81.54,198.91 81.59,198.96 81.64,199.15 81.68,198.88 81.73,198.97 81.78,199.17 81.82,198.85 81.87,198.97 81.92,199.20 81.97,198.81 82.01,198.99 82.06,199.23 82.11,198.76 82.15,199.01 82.20,199.26 82.25,198.70 82.30,199.03 82.34,199.30 82.39,198.64 82.44,199.07 82.48,199.33 82.53,198.56 82.58,199.12 82.63,199.36 82.67,198.48 82.72,199.17 82.77,199.38 82.81,198.39 82.86,199.25 82.91,199.40 82.96,198.29 83.00,199.33 83.05,199.41 83.10,198.19 83.14,199.43 83.19,199.41 83.24,198.08 83.29,199.55 83.33,199.40 83.38,197.96 83.43,199.69 83.48,199.38 83.52,197.85 83.57,199.84 83.62,199.33 83.66,197.74 83.71,200.00 83.76,199.27 83.81,197.64 83.85,200.18 83.90,199.18 83.95,197.54 83.99,200.37 84.04,199.08 84.09,197.46 84.14,200.57 84.18,198.95 84.23,197.40 84.28,200.77 84.32,198.79 84.37,197.35 84.42,200.98 84.47,198.62 84.51,197.33 84.56,201.18 84.61,198.42 84.65,197.34 84.70,201.37 84.75,198.21 84.80,197.37 84.84,201.55 84.89,197.98 84.94,197.43 84.98,201.71 85.03,197.75 85.08,197.53 85.13,201.85 85.17,197.50 85.22,197.65 85.27,201.96 85.32,197.26 85.36,197.80 85.41,202.04 85.46,197.02 85.50,197.98 85.55,202.09 85.60,196.79 85.65,198.18 85.69,202.10 85.74,196.58 85.79,198.40 85.83,202.07 85.88,196.39 85.93,198.63 85.98,202.01 86.02,196.22 86.07,198.88 86.12,201.91 86.16,196.09 86.21,199.12 86.26,201.78 86.31,195.99 86.35,199.37 86.40,201.61 86.45,195.93 86.49,199.60 86.54,201.42 86.59,195.90 86.64,199.82 86.68,201.21 86.73,195.91 86.78,200.02 86.82,200.98 86.87,195.96 86.92,200.20 86.97,200.74 87.01,196.04 87.06,200.35 87.11,200.50 87.15,196.15 87.20,200.47 87.25,200.25 87.30,196.29 87.34,200.57 87.39,200.02 87.44,196.45 87.49,200.63 87.53,199.79 87.58,196.63 87.63,200.66 87.67,199.58 87.72,196.82 87.77,200.67 87.82,199.38 87.86,197.02 87.91,200.65 87.96,199.21 88.00,197.23 88.05,200.60 88.10,199.05 88.15,197.43 88.19,200.54 88.24,198.92 88.29,197.63 88.33,200.46 88.38,198.82 88.43,197.82 88.48,200.36 88.52,198.73 88.57,198.00 88.62,200.26 88.66,198.67 88.71,198.16 88.76,200.15 88.81,198.62 88.85,198.31 88.90,200.04 88.95,198.60 88.99,198.45 89.04,199.92 89.09,198.59 89.14,198.57 89.18,199.81 89.23,198.59 89.28,198.67 89.32,199.71 89.37,198.60 89.42,198.75 89.47,199.61 89.51,198.62 89.56,198.83 89.61,199.52 89.66,198.64 89.70,198.88 89.75,199.44 89.80,198.67 89.84,198.93 89.89,199.36 89.94,198.70 89.99,198.97 90.03,199.30 90.08,198.74 90.13,198.99 90.17,199.24 90.22,198.77 90.27,199.01 90.32,199.19 90.36,198.80 90.41,199.03 90.46,199.15 90.50,198.83 90.55,199.03 90.60,199.12 90.65,198.85 90.69,199.04 90.74,199.09 90.79,198.88 90.83,199.04 90.88,199.07 90.93,198.90 90.98,199.04 91.02,199.05 91.07,198.92 91.12,199.04 91.16,199.04 91.21,198.93 91.26,199.03 91.31,199.03 91.35,198.95 91.40,199.03 91.45,199.02 91.50,198.96 91.54,199.03 91.59,199.01 91.64,198.97 91.68,199.02 91.73,199.01 91.78,198.97" fill="none" stroke="#ff0000" stroke-width="0.6"/>
<polyline points="96.34,198.98 96.34,198.96 96.35,198.95 96.35,198.94 96.36,198.95 96.36,198.96 96.37,198.99 96.37,199.02 96.38,199.06 96.38,199.09 96.39,199.10 96.39,199.10 96.40,199.09 96.40,199.05 96.41,198.99 96.41,198.93 96.41,198.88 96.42,198.83 96.42,198.82 96.43,198.83 96.43,198.88 96.44,198.96 96.44,199.06 96.45,199.16 96.45,199.24 96.46,199.29 96.46,199.30 96.47,199.24 96.47,199.14 96.48,199.00 96.48,198.83 96.49,198.68 96.49,198.57 96.50,198.52 96.50,198.56 96.50,198.68 96.51,198.88 96.51,199.12 96.52,199.37 96.52,199.58 96.53,199.71 96.53,199.72 96.54,199.60 96.54,199.36 96.55,199.02 96.55,198.65 96.56,198.30 96.56,198.04 96.57,197.93 96.57,198.01 96.58,198.27 96.58,198.69 96.58,199.21 96.59,199.75 96.59,200.19 96.60,200.46 96.60,200.49 96.61,200.26 96.61,199.77 96.62,199.11 96.62,198.36 96.63,197.67 96.63,197.16 96.64,196.94 96.64,197.08 96.65,197.57 96.65,198.35 96.66,199.31 96.66,200.28 96.66,201.10 96.67,201.60 96.67,201.67 96.68,201.26 96.68,200.43 96.69,199.29 96.69,198.03 96.70,196.86 96.70,196.00 96.71,195.62 96.71,195.81 96.72,196.59 96.72,197.83 96.73,199.35 96.73,200.88 96.74,202.16 96.74,202.95 96.75,203.08 96.75,202.49 96.75,201.27 96.76,199.59 96.76,197.74 96.77,196.04 96.77,194.79 96.78,194.22 96.78,194.47 96.79,195.53 96.79,197.22 96.80,199.28 96.80,201.36 96.81,203.08 96.81,204.15 96.82,204.34 96.82,203.61 96.83,202.07 96.83,199.95 96.83,197.63 96.84,195.50 96.84,193.93 96.85,193.22 96.85,193.49 96.86,194.72 96.86,196.71 96.87,199.11 96.87,201.52 96.88,203.52 96.88,204.75 96.89,205.00 96.89,204.22 96.90,202.55 96.90,200.25 96.91,197.75 96.91,195.45 96.91,193.78 96.92,193.00 96.92,193.25 96.93,194.48 96.93,196.48 96.94,198.89 96.94,201.29 96.95,203.28 96.95,204.51 96.96,204.78 96.96,204.07 96.97,202.50 96.97,200.37 96.98,198.05 96.98,195.93 96.99,194.39 96.99,193.66 97.00,193.85 97.00,194.92 97.00,196.64 97.01,198.72 97.01,200.78 97.02,202.47 97.02,203.53 97.03,203.78 97.03,203.21 97.04,201.96 97.04,200.26 97.05,198.41 97.05,196.73 97.06,195.51 97.06,194.92 97.07,195.05 97.07,195.84 97.08,197.12 97.08,198.65 97.08,200.17 97.09,201.41 97.09,202.19 97.10,202.38 97.10,202.00 97.11,201.14 97.11,199.97 97.12,198.71 97.12,197.57 97.13,196.74 97.13,196.33 97.14,196.40 97.14,196.90 97.15,197.72 97.15,198.69 97.16,199.65 97.16,200.43 97.16,200.92 97.17,201.06 97.17,200.84 97.18,200.33 97.18,199.64 97.19,198.89 97.19,198.23 97.20,197.74 97.20,197.51 97.21,197.54 97.21,197.81 97.22,198.25 97.22,198.79 97.23,199.31 97.23,199.73 97.24,199.99 97.24,200.07 97.25,199.96 97.25,199.70 97.25,199.35 97.26,198.98 97.26,198.64 97.27,198.40 97.27,198.28 97.28,198.29 97.28,198.42 97.29,198.63 97.29,198.88 97.30,199.12 97.30,199.32 97.31,199.44 97.31,199.48 97.32,199.43 97.32,199.32 97.33,199.17 97.33,199.00 97.33,198.86 97.34,198.76 97.34,198.70 97.35,198.71 97.35,198.76 97.36,198.84 97.36,198.94 97.37,199.04 97.37,199.12 97.38,199.17 97.38,199.18 97.39,199.17 97.39,199.12 97.40,199.07 97.40,199.01 97.41,198.95 97.41,198.91 97.41,198.90 97.42,198.90 97.42,198.91 97.43,198.94 97.43,198.98 97.44,199.01 97.44,199.04 97.45,199.05 97.45,199.06 97.46,199.05 97.46,199.04 97.47,199.02" fill="none" stroke="#ff0000" stroke-width="0.6"/>
<polyline points="94.65,198.98 94.67,199.01 94.69,199.02 94.70,198.98 94.72,198.98 94.74,199.02 94.76,199.02 94.78,198.97 94.80,198.99 94.82,199.04 94.84,199.01 94.86,198.96 94.87,199.00 94.89,199.05 94.91,198.99 94.93,198.94 94.95,199.02 94.97,199.06 94.99,198.96 95.01,198.94 95.03,199.06 95.04,199.06 95.06,198.92 95.08,198.95 95.10,199.10 95.12,199.04 95.14,198.88 95.16,198.98 95.18,199.14 95.20,198.99 95.21,198.84 95.23,199.04 95.25,199.17 95.27,198.92 95.29,198.82 95.31,199.13 95.33,199.17 95.35,198.83 95.37,198.84 95.38,199.23 95.40,199.13 95.42,198.72 95.44,198.91 95.46,199.33 95.48,199.03 95.50,198.63 95.52,199.04 95.54,199.40 95.55,198.88 95.57,198.58 95.59,199.21 95.61,199.42 95.63,198.68 95.65,198.61 95.67,199.43 95.69,199.35 95.70,198.47 95.72,198.73 95.74,199.64 95.76,199.17 95.78,198.28 95.80,198.96 95.82,199.79 95.84,198.89 95.86,198.17 95.87,199.28 95.89,199.84 95.91,198.53 95.93,198.19 95.95,199.66 95.97,199.74 95.99,198.15 96.01,198.38 96.03,200.03 96.04,199.46 96.06,197.81 96.08,198.74 96.10,200.31 96.12,199.02 96.14,197.61 96.16,199.25 96.18,200.41 96.20,198.46 96.21,197.62 96.23,199.84 96.25,200.29 96.27,197.87 96.29,197.87 96.31,200.40 96.33,199.91 96.35,197.37 96.37,198.37 96.38,200.82 96.40,199.30 96.42,197.06 96.44,199.06 96.46,201.00 96.48,198.55 96.50,197.03 96.52,199.84 96.54,200.87 96.55,197.78 96.57,197.32 96.59,200.57 96.61,200.42 96.63,197.12 96.65,197.91 96.67,201.12 96.69,199.70 96.70,196.71 96.72,198.73 96.74,201.37 96.76,198.82 96.78,196.64 96.80,199.63 96.82,201.26 96.84,197.94 96.86,196.93 96.87,200.45 96.89,200.80 96.91,197.20 96.93,197.55 96.95,201.07 96.97,200.06 96.99,196.74 97.01,198.37 97.03,201.36 97.04,199.18 97.06,196.63 97.08,199.27 97.10,201.29 97.12,198.30 97.14,196.88 97.16,200.09 97.18,200.88 97.20,197.58 97.21,197.43 97.23,200.68 97.25,200.22 97.27,197.13 97.29,198.16 97.31,200.97 97.33,199.45 97.35,197.00 97.37,198.94 97.38,200.94 97.40,198.70 97.42,197.18 97.44,199.63 97.46,200.63 97.48,198.09 97.50,197.60 97.52,200.13 97.54,200.13 97.55,197.71 97.57,198.16 97.59,200.38 97.61,199.54 97.63,197.59 97.65,198.75 97.67,200.39 97.69,198.98 97.71,197.69 97.72,199.26 97.74,200.19 97.76,198.54 97.78,197.97 97.80,199.62 97.82,199.85 97.84,198.26 97.86,198.34 97.87,199.81 97.89,199.47 97.91,198.16 97.93,198.72 97.95,199.83 97.97,199.11 97.99,198.21 98.01,199.04 98.03,199.72 98.04,198.83 98.06,198.36 98.08,199.27 98.10,199.53 98.12,198.65 98.14,198.57 98.16,199.39 98.18,199.32 98.20,198.58 98.21,198.79 98.23,199.42 98.25,199.12 98.27,198.60 98.29,198.96 98.31,199.37 98.33,198.97 98.35,198.67 98.37,199.09 98.38,199.28 98.40,198.87 98.42,198.77 98.44,199.16 98.46,199.17 98.48,198.83 98.50,198.87 98.52,199.18 98.54,199.08 98.55,198.83 98.57,198.96 98.59,199.16 98.61,199.01 98.63,198.86 98.65,199.02 98.67,199.12 98.69,198.96 98.71,198.90 98.72,199.05 98.74,199.08 98.76,198.94 98.78,198.94 98.80,199.06 98.82,199.04 98.84,198.94 98.86,198.98 98.88,199.06 98.89,199.01 98.91,198.95 98.93,199.00 98.95,199.04 98.97,198.99 98.99,198.96 99.01,199.01 99.03,199.03 99.04,198.98 99.06,198.98 99.08,199.02 99.10,199.02 99.12,198.98 99.14,198.99 99.16,199.02" fill="none" stroke="#ff0000" stroke-width="0.6"/>
<polyline points="157.34,198.92 157.34,198.86 157.35,198.80 157.35,198.75 157.35,198.72 157.36,198.71 157.36,198.74 157.36,198.80 157.37,198.90 157.37,199.02 157.38,199.16 157.38,199.30 157.38,199.43 157.39,199.54 157.39,199.60 157.39,199.61 157.40,199.55 157.40,199.42 157.40,199.22 157.41,198.98 157.41,198.70 157.41,198.41 157.42,198.14 157.42,197.94 157.42,197.81 157.43,197.80 157.43,197.92 157.44,198.17 157.44,198.54 157.44,199.02 157.45,199.55 157.45,200.09 157.45,200.58 157.46,200.97 157.46,201.19 157.46,201.21 157.47,200.99 157.47,200.54 157.47,199.87 157.48,199.03 157.48,198.09 157.48,197.13 157.49,196.27 157.49,195.61 157.50,195.22 157.50,195.19 157.50,195.57 157.51,196.33 157.51,197.46 157.51,198.87 157.52,200.43 157.52,201.99 157.52,203.40 157.53,204.48 157.53,205.09 157.53,205.13 157.54,204.53 157.54,203.31 157.54,201.54 157.55,199.35 157.55,196.93 157.56,194.53 157.56,192.38 157.56,190.75 157.57,189.83 157.57,189.78 157.57,190.67 157.58,192.49 157.58,195.10 157.58,198.30 157.59,201.79 157.59,205.25 157.59,208.30 157.60,210.61 157.60,211.90 157.61,211.95 157.61,210.70 157.61,208.19 157.62,204.60 157.62,200.23 157.62,195.50 157.63,190.86 157.63,186.78 157.63,183.73 157.64,182.05 157.64,182.00 157.64,183.64 157.65,186.90 157.65,191.52 157.65,197.08 157.66,203.07 157.66,208.91 157.67,213.98 157.67,217.75 157.67,219.80 157.68,219.85 157.68,217.83 157.68,213.88 157.69,208.33 157.69,201.69 157.69,194.60 157.70,187.76 157.70,181.85 157.70,177.49 157.71,175.15 157.71,175.12 157.71,177.43 157.72,181.91 157.72,188.15 157.73,195.55 157.73,203.39 157.73,210.91 157.74,217.35 157.74,222.05 157.74,224.54 157.75,224.55 157.75,222.07 157.75,217.32 157.76,210.77 157.76,203.06 157.76,194.94 157.77,187.23 157.77,180.68 157.77,175.93 157.78,173.45 157.78,173.46 157.79,175.95 157.79,180.65 157.79,187.09 157.80,194.61 157.80,202.45 157.80,209.85 157.81,216.09 157.81,220.57 157.81,222.88 157.82,222.85 157.82,220.51 157.82,216.15 157.83,210.24 157.83,203.40 157.84,196.31 157.84,189.67 157.84,184.12 157.85,180.17 157.85,178.15 157.85,178.20 157.86,180.25 157.86,184.02 157.86,189.09 157.87,194.93 157.87,200.92 157.87,206.48 157.88,211.10 157.88,214.36 157.88,216.00 157.89,215.95 157.89,214.27 157.90,211.22 157.90,207.14 157.90,202.50 157.91,197.77 157.91,193.40 157.91,189.81 157.92,187.30 157.92,186.05 157.92,186.10 157.93,187.39 157.93,189.70 157.93,192.75 157.94,196.21 157.94,199.70 157.94,202.90 157.95,205.51 157.95,207.33 157.96,208.22 157.96,208.17 157.96,207.25 157.97,205.62 157.97,203.47 157.97,201.07 157.98,198.65 157.98,196.46 157.98,194.69 157.99,193.47 157.99,192.87 157.99,192.91 158.00,193.52 158.00,194.60 158.00,196.01 158.01,197.57 158.01,199.13 158.02,200.54 158.02,201.67 158.02,202.43 158.03,202.81 158.03,202.78 158.03,202.39 158.04,201.73 158.04,200.87 158.04,199.91 158.05,198.97 158.05,198.13 158.05,197.46 158.06,197.01 158.06,196.79 158.07,196.81 158.07,197.03 158.07,197.42 158.08,197.91 158.08,198.45 158.08,198.98 158.09,199.46 158.09,199.83 158.09,200.08 158.10,200.20 158.10,200.19 158.10,200.06 158.11,199.86 158.11,199.59 158.11,199.30 158.12,199.02 158.12,198.78 158.13,198.58 158.13,198.45 158.13,198.39 158.14,198.40 158.14,198.46 158.14,198.57 158.15,198.70 158.15,198.84 158.15,198.98 158.16,199.10 158.16,199.20 158.16,199.26 158.17,199.29 158.17,199.28 158.17,199.25 158.18,199.20 158.18,199.14 158.19,199.08" fill="none" stroke="#ff0000" stroke-width="0.6"/>
<polyline points="191.02,198.91 191.03,198.84 191.03,198.79 191.04,198.77 191.04,198.79 191.05,198.86 191.05,198.96 191.06,199.09 191.06,199.22 191.07,199.33 191.07,199.40 191.08,199.40 191.08,199.32 191.09,199.18 191.09,198.97 191.09,198.74 191.10,198.53 191.10,198.37 191.11,198.31 191.11,198.36 191.12,198.55 191.12,198.85 191.13,199.22 191.13,199.60 191.14,199.92 191.14,200.11 191.15,200.13 191.15,199.93 191.16,199.53 191.16,198.98 191.17,198.37 191.17,197.79 191.17,197.36 191.18,197.19 191.18,197.32 191.19,197.79 191.19,198.54 191.20,199.46 191.20,200.41 191.21,201.20 191.21,201.69 191.22,201.73 191.22,201.28 191.23,200.35 191.23,199.08 191.24,197.66 191.24,196.33 191.25,195.35 191.25,194.93 191.25,195.22 191.26,196.22 191.26,197.83 191.27,199.81 191.27,201.83 191.28,203.53 191.28,204.56 191.29,204.68 191.29,203.78 191.30,201.94 191.30,199.41 191.31,196.58 191.31,193.96 191.32,192.03 191.32,191.19 191.33,191.69 191.33,193.55 191.34,196.52 191.34,200.16 191.34,203.87 191.35,206.97 191.35,208.86 191.36,209.13 191.36,207.61 191.37,204.45 191.37,200.12 191.38,195.31 191.38,190.86 191.39,187.58 191.39,186.14 191.40,186.89 191.40,189.83 191.41,194.55 191.41,200.32 191.42,206.14 191.42,211.01 191.42,214.00 191.43,214.49 191.43,212.27 191.44,207.62 191.44,201.26 191.45,194.23 191.45,187.75 191.46,182.98 191.46,180.84 191.47,181.80 191.47,185.80 191.48,192.24 191.48,200.07 191.49,207.96 191.49,214.51 191.50,218.55 191.50,219.30 191.50,216.53 191.51,210.66 191.51,202.62 191.52,193.79 191.52,185.69 191.53,179.74 191.53,177.02 191.54,178.06 191.54,182.74 191.55,190.28 191.55,199.42 191.56,208.57 191.56,216.16 191.57,220.85 191.57,221.81 191.58,218.85 191.58,212.47 191.59,203.76 191.59,194.24 191.59,185.53 191.60,179.15 191.60,176.19 191.61,177.15 191.61,181.84 191.62,189.43 191.62,198.58 191.63,207.72 191.63,215.26 191.64,219.94 191.64,220.98 191.65,218.26 191.65,212.31 191.66,204.21 191.66,195.38 191.67,187.34 191.67,181.47 191.67,178.70 191.68,179.45 191.68,183.49 191.69,190.04 191.69,197.93 191.70,205.76 191.70,212.20 191.71,216.20 191.71,217.16 191.72,215.02 191.72,210.25 191.73,203.77 191.73,196.74 191.74,190.38 191.74,185.73 191.75,183.51 191.75,184.00 191.75,186.99 191.76,191.86 191.76,197.68 191.77,203.45 191.77,208.17 191.78,211.11 191.78,211.86 191.79,210.42 191.79,207.14 191.80,202.69 191.80,197.88 191.81,193.55 191.81,190.39 191.82,188.87 191.82,189.14 191.83,191.03 191.83,194.13 191.84,197.84 191.84,201.48 191.84,204.45 191.85,206.31 191.85,206.81 191.86,205.97 191.86,204.04 191.87,201.42 191.87,198.59 191.88,196.06 191.88,194.22 191.89,193.32 191.89,193.44 191.90,194.47 191.90,196.17 191.91,198.19 191.91,200.17 191.92,201.78 191.92,202.78 191.92,203.07 191.93,202.65 191.93,201.67 191.94,200.34 191.94,198.92 191.95,197.65 191.95,196.72 191.96,196.27 191.96,196.31 191.97,196.80 191.97,197.59 191.98,198.54 191.98,199.46 191.99,200.21 191.99,200.68 192.00,200.81 192.00,200.64 192.01,200.21 192.01,199.63 192.01,199.02 192.02,198.47 192.02,198.07 192.03,197.87 192.03,197.89 192.04,198.08 192.04,198.40 192.05,198.78 192.05,199.15 192.06,199.45 192.06,199.64 192.07,199.69 192.07,199.63 192.08,199.47 192.08,199.26 192.09,199.03 192.09,198.82 192.09,198.68 192.10,198.60 192.10,198.60 192.11,198.67 192.11,198.78 192.12,198.91 192.12,199.04 192.13,199.14 192.13,199.21 192.14,199.23 192.14,199.21 192.15,199.16 192.15,199.09" fill="none" stroke="#ff0000" stroke-width="0.6"/>
<polyline points="189.90,198.95 189.91,198.98 189.92,199.04 189.94,199.05 189.95,198.99 189.97,198.93 189.98,198.97 190.00,199.06 190.01,199.08 190.02,198.98 190.04,198.90 190.05,198.95 190.07,199.09 190.08,199.12 190.09,198.98 190.11,198.85 190.12,198.92 190.14,199.12 190.15,199.17 190.17,198.98 190.18,198.79 190.19,198.89 190.21,199.16 190.22,199.24 190.24,198.98 190.25,198.71 190.26,198.83 190.28,199.21 190.29,199.33 190.31,198.99 190.32,198.61 190.33,198.76 190.35,199.27 190.36,199.46 190.38,199.00 190.39,198.49 190.41,198.66 190.42,199.34 190.43,199.61 190.45,199.02 190.46,198.33 190.48,198.53 190.49,199.43 190.50,199.81 190.52,199.06 190.53,198.15 190.55,198.36 190.56,199.52 190.58,200.05 190.59,199.12 190.60,197.93 190.62,198.15 190.63,199.62 190.65,200.33 190.66,199.21 190.67,197.68 190.69,197.90 190.70,199.72 190.72,200.67 190.73,199.32 190.75,197.40 190.76,197.60 190.77,199.81 190.79,201.05 190.80,199.47 190.82,197.10 190.83,197.25 190.84,199.90 190.86,201.46 190.87,199.65 190.89,196.79 190.90,196.86 190.92,199.97 190.93,201.91 190.94,199.87 190.96,196.47 190.97,196.43 190.99,200.01 191.00,202.38 191.01,200.13 191.03,196.16 191.04,195.97 191.06,200.03 191.07,202.86 191.09,200.42 191.10,195.87 191.11,195.49 191.13,200.00 191.14,203.32 191.16,200.74 191.17,195.62 191.18,195.01 191.20,199.94 191.21,203.75 191.23,201.08 191.24,195.42 191.25,194.55 191.27,199.84 191.28,204.12 191.30,201.42 191.31,195.28 191.33,194.14 191.34,199.70 191.35,204.43 191.37,201.75 191.38,195.21 191.40,193.78 191.41,199.53 191.42,204.65 191.44,202.06 191.45,195.22 191.47,193.50 191.48,199.33 191.50,204.77 191.51,202.33 191.52,195.30 191.54,193.30 191.55,199.11 191.57,204.79 191.58,202.55 191.59,195.45 191.61,193.21 191.62,198.89 191.64,204.70 191.65,202.70 191.67,195.67 191.68,193.23 191.69,198.67 191.71,204.50 191.72,202.78 191.74,195.94 191.75,193.35 191.76,198.47 191.78,204.22 191.79,202.79 191.81,196.25 191.82,193.57 191.84,198.30 191.85,203.86 191.86,202.72 191.88,196.58 191.89,193.88 191.91,198.16 191.92,203.45 191.93,202.58 191.95,196.92 191.96,194.25 191.98,198.06 191.99,202.99 192.01,202.38 192.02,197.26 192.03,194.68 192.05,198.00 192.06,202.51 192.08,202.13 192.09,197.58 192.10,195.14 192.12,197.97 192.13,202.03 192.15,201.84 192.16,197.87 192.17,195.62 192.19,197.99 192.20,201.57 192.22,201.53 192.23,198.13 192.25,196.09 192.26,198.03 192.27,201.14 192.29,201.21 192.30,198.35 192.32,196.54 192.33,198.10 192.34,200.75 192.36,200.90 192.37,198.53 192.39,196.95 192.40,198.19 192.42,200.40 192.43,200.60 192.44,198.68 192.46,197.33 192.47,198.28 192.49,200.10 192.50,200.32 192.51,198.79 192.53,197.67 192.54,198.38 192.56,199.85 192.57,200.07 192.59,198.88 192.60,197.95 192.61,198.48 192.63,199.64 192.64,199.85 192.66,198.94 192.67,198.19 192.68,198.57 192.70,199.47 192.71,199.67 192.73,198.98 192.74,198.39 192.76,198.66 192.77,199.34 192.78,199.51 192.80,199.00 192.81,198.54 192.83,198.73 192.84,199.24 192.85,199.39 192.87,199.01 192.88,198.67 192.90,198.79 192.91,199.17 192.92,199.29 192.94,199.02 192.95,198.76 192.97,198.84 192.98,199.11 193.00,199.21 193.01,199.02 193.02,198.83 193.04,198.88 193.05,199.08 193.07,199.15 193.08,199.02 193.09,198.88 193.11,198.91 193.12,199.05 193.14,199.10 193.15,199.02 193.17,198.92 193.18,198.94 193.19,199.03 193.21,199.07 193.22,199.01 193.24,198.95 193.25,198.96 193.26,199.02 193.28,199.05" fill="none" stroke="#ff0000" stroke-width="0.6"/>
<polyline points="234.72,199.11 234.73,199.13 234.73,199.16 234.73,199.18 234.73,199.21 234.73,199.23 234.73,199.25 234.73,199.27 234.74,199.29 234.74,199.30 234.74,199.30 234.74,199.30 234.74,199.30 234.74,199.28 234.74,199.26 234.75,199.23 234.75,199.19 234.75,199.13 234.75,199.07 234.75,198.99 234.75,198.91 234.75,198.81 234.76,198.70 234.76,198.59 234.76,198.47 234.76,198.34 234.76,198.21 234.76,198.08 234.76,197.95 234.77,197.83 234.77,197.72 234.77,197.62 234.77,197.53 234.77,197.47 234.77,197.43 234.77,197.41 234.78,197.43 234.78,197.48 234.78,197.57 234.78,197.70 234.78,197.88 234.78,198.09 234.78,198.35 234.79,198.64 234.79,198.98 234.79,199.35 234.79,199.76 234.79,200.19 234.79,200.65 234.79,201.12 234.80,201.59 234.80,202.06 234.80,202.52 234.80,202.96 234.80,203.36 234.80,203.71 234.80,204.01 234.81,204.24 234.81,204.39 234.81,204.45 234.81,204.42 234.81,204.28 234.81,204.04 234.81,203.68 234.82,203.20 234.82,202.61 234.82,201.91 234.82,201.11 234.82,200.20 234.82,199.21 234.82,198.15 234.83,197.02 234.83,195.86 234.83,194.67 234.83,193.49 234.83,192.33 234.83,191.21 234.83,190.16 234.84,189.20 234.84,188.37 234.84,187.67 234.84,187.13 234.84,186.76 234.84,186.59 234.84,186.63 234.84,186.88 234.85,187.35 234.85,188.05 234.85,188.96 234.85,190.08 234.85,191.40 234.85,192.91 234.85,194.58 234.86,196.39 234.86,198.30 234.86,200.30 234.86,202.34 234.86,204.39 234.86,206.42 234.86,208.38 234.87,210.24 234.87,211.96 234.87,213.51 234.87,214.86 234.87,215.97 234.87,216.83 234.87,217.41 234.88,217.70 234.88,217.68 234.88,217.36 234.88,216.73 234.88,215.80 234.88,214.59 234.88,213.10 234.89,211.38 234.89,209.44 234.89,207.31 234.89,205.05 234.89,202.67 234.89,200.23 234.89,197.77 234.90,195.33 234.90,192.95 234.90,190.69 234.90,188.56 234.90,186.62 234.90,184.90 234.90,183.41 234.91,182.20 234.91,181.27 234.91,180.64 234.91,180.32 234.91,180.30 234.91,180.59 234.91,181.17 234.92,182.03 234.92,183.14 234.92,184.49 234.92,186.04 234.92,187.76 234.92,189.62 234.92,191.58 234.93,193.61 234.93,195.66 234.93,197.70 234.93,199.70 234.93,201.61 234.93,203.42 234.93,205.09 234.94,206.60 234.94,207.92 234.94,209.04 234.94,209.95 234.94,210.65 234.94,211.12 234.94,211.37 234.95,211.41 234.95,211.24 234.95,210.87 234.95,210.33 234.95,209.63 234.95,208.80 234.95,207.84 234.96,206.79 234.96,205.67 234.96,204.51 234.96,203.33 234.96,202.14 234.96,200.98 234.96,199.85 234.97,198.79 234.97,197.80 234.97,196.89 234.97,196.09 234.97,195.39 234.97,194.80 234.97,194.32 234.98,193.96 234.98,193.72 234.98,193.58 234.98,193.55 234.98,193.61 234.98,193.76 234.98,193.99 234.99,194.29 234.99,194.64 234.99,195.04 234.99,195.48 234.99,195.94 234.99,196.41 234.99,196.88 234.99,197.35 235.00,197.81 235.00,198.24 235.00,198.65 235.00,199.02 235.00,199.36 235.00,199.65 235.00,199.91 235.01,200.12 235.01,200.30 235.01,200.43 235.01,200.52 235.01,200.57 235.01,200.59 235.01,200.57 235.02,200.53 235.02,200.47 235.02,200.38 235.02,200.28 235.02,200.17 235.02,200.05 235.02,199.92 235.03,199.79 235.03,199.66 235.03,199.53 235.03,199.41 235.03,199.30 235.03,199.19 235.03,199.09 235.04,199.01 235.04,198.93 235.04,198.87 235.04,198.81 235.04,198.77 235.04,198.74 235.04,198.72 235.05,198.70 235.05,198.70 235.05,198.70 235.05,198.70 235.05,198.71 235.05,198.73 235.05,198.75 235.06,198.77 235.06,198.79 235.06,198.82 235.06,198.84 235.06,198.87 235.06,198.89" fill="none" stroke="#ff0000" stroke-width="0.6"/>
<polyline points="256.70,198.95 256.72,199.06 256.74,199.02 256.76,198.92 256.79,199.03 256.81,199.08 256.83,198.92 256.85,198.96 256.87,199.12 256.89,198.96 256.91,198.88 256.93,199.12 256.96,199.06 256.98,198.83 257.00,199.04 257.02,199.17 257.04,198.84 257.06,198.90 257.08,199.25 257.10,198.96 257.13,198.75 257.15,199.21 257.17,199.15 257.19,198.66 257.21,199.04 257.23,199.36 257.25,198.72 257.27,198.76 257.30,199.47 257.32,198.97 257.34,198.49 257.36,199.35 257.38,199.35 257.40,198.38 257.42,199.00 257.44,199.69 257.46,198.56 257.49,198.50 257.51,199.81 257.53,199.05 257.55,198.07 257.57,199.53 257.59,199.70 257.61,197.97 257.63,198.87 257.66,200.22 257.68,198.37 257.70,198.04 257.72,200.29 257.74,199.25 257.76,197.42 257.78,199.71 257.80,200.28 257.83,197.41 257.85,198.58 257.87,200.99 257.89,198.21 257.91,197.32 257.93,200.90 257.95,199.64 257.97,196.53 258.00,199.84 258.02,201.15 258.04,196.76 258.06,198.07 258.08,201.99 258.10,198.15 258.12,196.31 258.14,201.58 258.17,200.30 258.19,195.44 258.21,199.81 258.23,202.30 258.25,196.10 258.27,197.27 258.29,203.15 258.31,198.29 258.34,195.04 258.36,202.19 258.38,201.23 258.40,194.26 258.42,199.55 258.44,203.66 258.46,195.57 258.48,196.21 258.51,204.30 258.53,198.69 258.55,193.64 258.57,202.60 258.59,202.40 258.61,193.18 258.63,199.00 258.65,205.05 258.67,195.32 258.70,194.97 258.72,205.26 258.74,199.37 258.76,192.31 258.78,202.67 258.80,203.66 258.82,192.41 258.84,198.20 258.87,206.25 258.89,195.44 258.91,193.74 258.93,205.81 258.95,200.27 258.97,191.31 258.99,202.34 259.01,204.80 259.04,192.12 259.06,197.25 259.08,207.01 259.10,195.96 259.12,192.74 259.14,205.81 259.16,201.22 259.18,190.83 259.21,201.66 259.23,205.60 259.25,192.40 259.27,196.34 259.29,207.17 259.31,196.78 259.33,192.19 259.35,205.26 259.38,202.04 259.40,190.99 259.42,200.75 259.44,205.88 259.46,193.20 259.48,195.66 259.50,206.69 259.52,197.73 259.55,192.19 259.57,204.26 259.59,202.56 259.61,191.75 259.63,199.80 259.65,205.59 259.67,194.34 259.69,195.33 259.72,205.69 259.74,198.63 259.76,192.74 259.78,203.03 259.80,202.68 259.82,192.95 259.84,199.00 259.86,204.82 259.88,195.60 259.91,195.40 259.93,204.36 259.95,199.31 259.97,193.70 259.99,201.79 260.01,202.43 260.03,194.34 260.05,198.45 260.08,203.74 260.10,196.77 260.12,195.81 260.14,202.96 260.16,199.71 260.18,194.85 260.20,200.73 260.22,201.90 260.25,195.70 260.27,198.19 260.29,202.56 260.31,197.70 260.33,196.42 260.35,201.69 260.37,199.85 260.39,196.01 260.42,199.93 260.44,201.24 260.46,196.85 260.48,198.16 260.50,201.47 260.52,198.36 260.54,197.10 260.56,200.68 260.59,199.79 260.61,197.01 260.63,199.42 260.65,200.59 260.67,197.72 260.69,198.29 260.71,200.58 260.73,198.75 260.76,197.71 260.78,199.96 260.80,199.63 260.82,197.78 260.84,199.13 260.86,200.03 260.88,198.30 260.90,198.47 260.93,199.93 260.95,198.95 260.97,198.19 260.99,199.50 261.01,199.44 261.03,198.31 261.05,199.00 261.07,199.62 261.10,198.65 261.12,198.65 261.14,199.51 261.16,199.03 261.18,198.53 261.20,199.24 261.22,199.28 261.24,198.64 261.26,198.96 261.29,199.34 261.31,198.85 261.33,198.79 261.35,199.25 261.37,199.04 261.39,198.75 261.41,199.10 261.43,199.16 261.46,198.83 261.48,198.96 261.50,199.17 261.52,198.94 261.54,198.88 261.56,199.12 261.58,199.04 261.60,198.88 261.63,199.04 261.65,199.08 261.67,198.92 261.69,198.97 261.71,199.08 261.73,198.98 261.75,198.94 261.77,199.05" fill="none" stroke="#ff0000" stroke-width="0.6"/>
<polyline points="271.56,198.94 271.58,199.07 271.61,199.03 271.63,198.90 271.65,199.04 271.67,199.10 271.69,198.89 271.71,198.95 271.73,199.15 271.75,198.95 271.78,198.85 271.80,199.15 271.82,199.08 271.84,198.78 271.86,199.05 271.88,199.22 271.90,198.80 271.92,198.88 271.95,199.31 271.97,198.94 271.99,198.68 272.01,199.27 272.03,199.20 272.05,198.57 272.07,199.05 272.09,199.46 272.12,198.65 272.14,198.70 272.16,199.59 272.18,198.96 272.20,198.36 272.22,199.45 272.24,199.44 272.26,198.22 272.28,199.00 272.31,199.87 272.33,198.45 272.35,198.37 272.37,200.02 272.39,199.06 272.41,197.83 272.43,199.67 272.45,199.88 272.48,197.70 272.50,198.84 272.52,200.54 272.54,198.21 272.56,197.79 272.58,200.63 272.60,199.31 272.62,197.01 272.65,199.90 272.67,200.62 272.69,197.00 272.71,198.48 272.73,201.51 272.75,198.01 272.77,196.88 272.79,201.40 272.82,199.81 272.84,195.89 272.86,200.05 272.88,201.71 272.90,196.18 272.92,197.82 272.94,202.77 272.96,197.93 272.99,195.61 273.01,202.24 273.03,200.63 273.05,194.52 273.07,200.02 273.09,203.16 273.11,195.35 273.13,196.82 273.16,204.22 273.18,198.10 273.20,194.01 273.22,203.01 273.24,201.81 273.26,193.03 273.28,199.69 273.30,204.86 273.33,194.68 273.35,195.48 273.37,205.68 273.39,198.61 273.41,192.25 273.43,203.53 273.45,203.28 273.47,191.67 273.49,199.00 273.52,206.62 273.54,194.36 273.56,193.92 273.58,206.88 273.60,199.47 273.62,190.58 273.64,203.62 273.66,204.87 273.69,190.70 273.71,197.99 273.73,208.12 273.75,194.52 273.77,192.37 273.79,207.57 273.81,200.59 273.83,189.31 273.86,203.21 273.88,206.31 273.90,190.34 273.92,196.80 273.94,209.08 273.96,195.17 273.98,191.12 274.00,207.58 274.03,201.79 274.05,188.71 274.07,202.35 274.09,207.31 274.11,190.69 274.13,195.65 274.15,209.29 274.17,196.21 274.20,190.42 274.22,206.88 274.24,202.83 274.26,188.92 274.28,201.20 274.30,207.66 274.32,191.69 274.34,194.79 274.37,208.69 274.39,197.41 274.41,190.43 274.43,205.63 274.45,203.48 274.47,189.88 274.49,200.01 274.51,207.30 274.54,193.13 274.56,194.38 274.58,207.42 274.60,198.53 274.62,191.12 274.64,204.08 274.66,203.64 274.68,191.38 274.71,199.00 274.73,206.33 274.75,194.72 274.77,194.47 274.79,205.75 274.81,199.39 274.83,192.32 274.85,202.52 274.87,203.32 274.90,193.14 274.92,198.31 274.94,204.97 274.96,196.19 274.98,194.99 275.00,203.99 275.02,199.90 275.04,193.78 275.07,201.18 275.09,202.65 275.11,194.84 275.13,197.98 275.15,203.48 275.17,197.37 275.19,195.76 275.21,202.39 275.24,200.07 275.26,195.23 275.28,200.18 275.30,201.82 275.32,196.29 275.34,197.95 275.36,202.11 275.38,198.19 275.41,196.60 275.43,201.12 275.45,199.99 275.47,196.49 275.49,199.52 275.51,201.00 275.53,197.38 275.55,198.10 275.58,200.99 275.60,198.69 275.62,197.37 275.64,200.21 275.66,199.79 275.68,197.46 275.70,199.16 275.72,200.30 275.75,198.12 275.77,198.33 275.79,200.17 275.81,198.94 275.83,197.98 275.85,199.63 275.87,199.55 275.89,198.13 275.92,199.00 275.94,199.78 275.96,198.56 275.98,198.55 276.00,199.64 276.02,199.04 276.04,198.41 276.06,199.30 276.08,199.35 276.11,198.54 276.13,198.95 276.15,199.43 276.17,198.80 276.19,198.73 276.21,199.32 276.23,199.06 276.25,198.69 276.28,199.12 276.30,199.20 276.32,198.78 276.34,198.95 276.36,199.22 276.38,198.92 276.40,198.85 276.42,199.15 276.45,199.05 276.47,198.85 276.49,199.05 276.51,199.11 276.53,198.90 276.55,198.96 276.57,199.10 276.59,198.97 276.62,198.93 276.64,199.06" fill="none" stroke="#ff0000" stroke-width="0.6"/>
<polyline points="279.48,198.99 279.49,198.99 279.50,199.00 279.52,199.02 279.53,199.02 279.54,199.00 279.55,198.98 279.56,198.98 279.58,199.00 279.59,199.03 279.60,199.02 279.61,199.00 279.62,198.97 279.63,198.97 279.65,199.01 279.66,199.04 279.67,199.04 279.68,198.99 279.69,198.95 279.71,198.95 279.72,199.01 279.73,199.06 279.74,199.06 279.75,198.99 279.76,198.93 279.78,198.93 279.79,199.00 279.80,199.09 279.81,199.09 279.82,199.00 279.84,198.89 279.85,198.89 279.86,199.00 279.87,199.13 279.88,199.13 279.89,199.00 279.91,198.85 279.92,198.84 279.93,199.00 279.94,199.17 279.95,199.19 279.96,199.01 279.98,198.80 279.99,198.78 280.00,198.98 280.01,199.23 280.02,199.26 280.04,199.02 280.05,198.74 280.06,198.69 280.07,198.97 280.08,199.30 280.09,199.36 280.11,199.05 280.12,198.66 280.13,198.59 280.14,198.94 280.15,199.38 280.17,199.47 280.18,199.08 280.19,198.57 280.20,198.47 280.21,198.90 280.22,199.47 280.24,199.60 280.25,199.13 280.26,198.48 280.27,198.32 280.28,198.85 280.30,199.57 280.31,199.76 280.32,199.18 280.33,198.38 280.34,198.16 280.35,198.78 280.37,199.67 280.38,199.92 280.39,199.26 280.40,198.29 280.41,197.99 280.42,198.70 280.44,199.76 280.45,200.10 280.46,199.34 280.47,198.20 280.48,197.81 280.50,198.61 280.51,199.84 280.52,200.28 280.53,199.44 280.54,198.12 280.55,197.64 280.57,198.51 280.58,199.91 280.59,200.44 280.60,199.54 280.61,198.07 280.63,197.48 280.64,198.41 280.65,199.95 280.66,200.59 280.67,199.65 280.68,198.03 280.70,197.35 280.71,198.30 280.72,199.97 280.73,200.71 280.74,199.75 280.75,198.03 280.77,197.25 280.78,198.21 280.79,199.97 280.80,200.78 280.81,199.83 280.83,198.05 280.84,197.19 280.85,198.13 280.86,199.93 280.87,200.82 280.88,199.91 280.90,198.09 280.91,197.18 280.92,198.07 280.93,199.87 280.94,200.81 280.96,199.95 280.97,198.17 280.98,197.22 280.99,198.03 281.00,199.79 281.01,200.75 281.03,199.97 281.04,198.25 281.05,197.29 281.06,198.03 281.07,199.70 281.09,200.65 281.10,199.97 281.11,198.35 281.12,197.41 281.13,198.05 281.14,199.59 281.16,200.52 281.17,199.93 281.18,198.46 281.19,197.56 281.20,198.09 281.21,199.49 281.23,200.36 281.24,199.88 281.25,198.56 281.26,197.72 281.27,198.16 281.29,199.39 281.30,200.19 281.31,199.80 281.32,198.66 281.33,197.90 281.34,198.24 281.36,199.30 281.37,200.01 281.38,199.71 281.39,198.74 281.40,198.08 281.42,198.33 281.43,199.22 281.44,199.84 281.45,199.62 281.46,198.82 281.47,198.24 281.49,198.43 281.50,199.15 281.51,199.68 281.52,199.52 281.53,198.87 281.55,198.40 281.56,198.53 281.57,199.10 281.58,199.53 281.59,199.43 281.60,198.92 281.62,198.53 281.63,198.62 281.64,199.06 281.65,199.41 281.66,199.34 281.67,198.95 281.69,198.64 281.70,198.70 281.71,199.03 281.72,199.31 281.73,199.26 281.75,198.98 281.76,198.74 281.77,198.77 281.78,199.02 281.79,199.22 281.80,199.20 281.82,198.99 281.83,198.81 281.84,198.83 281.85,199.00 281.86,199.16 281.88,199.15 281.89,199.00 281.90,198.87 281.91,198.87 281.92,199.00 281.93,199.11 281.95,199.11 281.96,199.00 281.97,198.91 281.98,198.91 281.99,199.00 282.01,199.07 282.02,199.07 282.03,199.01 282.04,198.94 282.05,198.94 282.06,198.99 282.08,199.05 282.09,199.05 282.10,199.01 282.11,198.96 282.12,198.96 282.13,198.99 282.15,199.03 282.16,199.03 282.17,199.00 282.18,198.98 282.19,198.97 282.21,199.00 282.22,199.02 282.23,199.02 282.24,199.00 282.25,198.98 282.26,198.98 282.28,199.00 282.29,199.01 282.30,199.01" fill="none" stroke="#ff0000" stroke-width="0.6"/>
<polyline points="328.55,198.98 328.56,198.99 328.58,199.00 328.59,199.02 328.60,199.02 328.61,199.00 328.62,198.97 328.64,198.98 328.65,199.01 328.66,199.03 328.67,199.03 328.68,198.99 328.69,198.96 328.71,198.96 328.72,199.01 328.73,199.05 328.74,199.05 328.75,198.99 328.77,198.94 328.78,198.94 328.79,199.01 328.80,199.07 328.81,199.07 328.82,198.99 328.84,198.91 328.85,198.91 328.86,199.01 328.87,199.10 328.88,199.11 328.90,199.00 328.91,198.88 328.92,198.87 328.93,199.00 328.94,199.15 328.95,199.15 328.97,199.00 328.98,198.83 328.99,198.82 329.00,198.99 329.01,199.20 329.02,199.22 329.04,199.01 329.05,198.77 329.06,198.74 329.07,198.98 329.08,199.27 329.10,199.31 329.11,199.03 329.12,198.69 329.13,198.64 329.14,198.96 329.15,199.35 329.17,199.41 329.18,199.05 329.19,198.60 329.20,198.52 329.21,198.93 329.23,199.45 329.24,199.55 329.25,199.09 329.26,198.50 329.27,198.38 329.28,198.88 329.30,199.55 329.31,199.70 329.32,199.15 329.33,198.39 329.34,198.21 329.36,198.82 329.37,199.66 329.38,199.88 329.39,199.21 329.40,198.28 329.41,198.02 329.43,198.75 329.44,199.78 329.45,200.08 329.46,199.30 329.47,198.17 329.48,197.82 329.50,198.65 329.51,199.88 329.52,200.28 329.53,199.40 329.54,198.06 329.56,197.61 329.57,198.55 329.58,199.98 329.59,200.49 329.60,199.51 329.61,197.98 329.63,197.41 329.64,198.43 329.65,200.06 329.66,200.68 329.67,199.63 329.69,197.91 329.70,197.23 329.71,198.31 329.72,200.11 329.73,200.85 329.74,199.75 329.76,197.87 329.77,197.07 329.78,198.19 329.79,200.14 329.80,200.99 329.82,199.87 329.83,197.86 329.84,196.96 329.85,198.08 329.86,200.13 329.87,201.08 329.89,199.97 329.90,197.89 329.91,196.89 329.92,197.98 329.93,200.09 329.94,201.12 329.96,200.06 329.97,197.94 329.98,196.88 329.99,197.91 330.00,200.02 330.02,201.11 330.03,200.11 330.04,198.03 330.05,196.92 330.06,197.87 330.07,199.92 330.09,201.04 330.10,200.14 330.11,198.13 330.12,197.01 330.13,197.86 330.15,199.81 330.16,200.93 330.17,200.13 330.18,198.25 330.19,197.15 330.20,197.89 330.22,199.69 330.23,200.77 330.24,200.09 330.25,198.37 330.26,197.32 330.28,197.94 330.29,199.57 330.30,200.59 330.31,200.02 330.32,198.49 330.33,197.51 330.35,198.02 330.36,199.45 330.37,200.39 330.38,199.94 330.39,198.60 330.40,197.72 330.42,198.12 330.43,199.35 330.44,200.18 330.45,199.83 330.46,198.70 330.48,197.92 330.49,198.22 330.50,199.25 330.51,199.98 330.52,199.72 330.53,198.79 330.55,198.12 330.56,198.34 330.57,199.18 330.58,199.79 330.59,199.61 330.61,198.85 330.62,198.30 330.63,198.45 330.64,199.12 330.65,199.62 330.66,199.50 330.68,198.91 330.69,198.45 330.70,198.55 330.71,199.07 330.72,199.48 330.74,199.40 330.75,198.95 330.76,198.59 330.77,198.65 330.78,199.04 330.79,199.36 330.81,199.31 330.82,198.97 330.83,198.69 330.84,198.73 330.85,199.02 330.86,199.26 330.88,199.23 330.89,198.99 330.90,198.78 330.91,198.80 330.92,199.01 330.94,199.18 330.95,199.17 330.96,199.00 330.97,198.85 330.98,198.85 330.99,199.00 331.01,199.13 331.02,199.12 331.03,199.00 331.04,198.89 331.05,198.90 331.07,198.99 331.08,199.09 331.09,199.09 331.10,199.01 331.11,198.93 331.12,198.93 331.14,198.99 331.15,199.06 331.16,199.06 331.17,199.01 331.18,198.95 331.19,198.95 331.21,198.99 331.22,199.04 331.23,199.04 331.24,199.01 331.25,198.97 331.27,198.97 331.28,198.99 331.29,199.02 331.30,199.03 331.31,199.00 331.32,198.98 331.34,198.98 331.35,199.00 331.36,199.01 331.37,199.02" fill="none" stroke="#ff0000" stroke-width="0.6"/>
<polyline points="352.73,198.94 352.73,198.89 352.74,198.85 352.74,198.81 352.74,198.79 352.75,198.78 352.75,198.81 352.76,198.85 352.76,198.92 352.76,199.01 352.77,199.12 352.77,199.23 352.77,199.33 352.78,199.41 352.78,199.45 352.78,199.46 352.79,199.41 352.79,199.31 352.79,199.17 352.80,198.98 352.80,198.77 352.80,198.55 352.81,198.35 352.81,198.20 352.82,198.10 352.82,198.10 352.82,198.18 352.83,198.37 352.83,198.66 352.83,199.01 352.84,199.41 352.84,199.82 352.84,200.19 352.85,200.49 352.85,200.66 352.85,200.67 352.86,200.51 352.86,200.16 352.86,199.66 352.87,199.02 352.87,198.31 352.88,197.59 352.88,196.94 352.88,196.43 352.89,196.14 352.89,196.12 352.89,196.40 352.90,196.99 352.90,197.84 352.90,198.90 352.91,200.08 352.91,201.26 352.91,202.32 352.92,203.14 352.92,203.60 352.92,203.63 352.93,203.18 352.93,202.26 352.94,200.92 352.94,199.26 352.94,197.44 352.95,195.62 352.95,194.00 352.95,192.76 352.96,192.07 352.96,192.03 352.96,192.71 352.97,194.08 352.97,196.05 352.97,198.47 352.98,201.11 352.98,203.72 352.99,206.03 352.99,207.78 352.99,208.75 353.00,208.79 353.00,207.84 353.00,205.95 353.01,203.23 353.01,199.93 353.01,196.35 353.02,192.84 353.02,189.77 353.02,187.46 353.03,186.19 353.03,186.15 353.03,187.39 353.04,189.85 353.04,193.34 353.05,197.55 353.05,202.08 353.05,206.49 353.06,210.32 353.06,213.17 353.06,214.72 353.07,214.76 353.07,213.23 353.07,210.25 353.08,206.05 353.08,201.04 353.08,195.68 353.09,190.50 353.09,186.03 353.09,182.74 353.10,180.98 353.10,180.95 353.11,182.70 353.11,186.08 353.11,190.80 353.12,196.39 353.12,202.32 353.12,208.00 353.13,212.87 353.13,216.42 353.13,218.31 353.14,218.31 353.14,216.44 353.14,212.85 353.15,207.90 353.15,202.07 353.15,195.93 353.16,190.10 353.16,185.15 353.17,181.56 353.17,179.69 353.17,179.69 353.18,181.58 353.18,185.13 353.18,190.00 353.19,195.68 353.19,201.61 353.19,207.20 353.20,211.92 353.20,215.30 353.20,217.05 353.21,217.02 353.21,215.26 353.22,211.97 353.22,207.50 353.22,202.32 353.23,196.96 353.23,191.95 353.23,187.75 353.24,184.77 353.24,183.24 353.24,183.28 353.25,184.83 353.25,187.68 353.25,191.51 353.26,195.92 353.26,200.45 353.26,204.66 353.27,208.15 353.27,210.61 353.28,211.85 353.28,211.81 353.28,210.54 353.29,208.23 353.29,205.16 353.29,201.65 353.30,198.07 353.30,194.77 353.30,192.05 353.31,190.16 353.31,189.21 353.31,189.25 353.32,190.22 353.32,191.97 353.32,194.28 353.33,196.89 353.33,199.53 353.34,201.95 353.34,203.92 353.34,205.29 353.35,205.97 353.35,205.93 353.35,205.24 353.36,204.00 353.36,202.38 353.36,200.56 353.37,198.74 353.37,197.08 353.37,195.74 353.38,194.82 353.38,194.37 353.38,194.40 353.39,194.86 353.39,195.68 353.40,196.74 353.40,197.92 353.40,199.10 353.41,200.16 353.41,201.01 353.41,201.60 353.42,201.88 353.42,201.86 353.42,201.57 353.43,201.06 353.43,200.41 353.43,199.69 353.44,198.98 353.44,198.34 353.45,197.84 353.45,197.49 353.45,197.33 353.46,197.34 353.46,197.51 353.46,197.81 353.47,198.18 353.47,198.59 353.47,198.99 353.48,199.34 353.48,199.63 353.48,199.82 353.49,199.90 353.49,199.90 353.49,199.80 353.50,199.65 353.50,199.45 353.51,199.23 353.51,199.02 353.51,198.83 353.52,198.69 353.52,198.59 353.52,198.54 353.53,198.55 353.53,198.59 353.53,198.67 353.54,198.77 353.54,198.88 353.54,198.99 353.55,199.08 353.55,199.15 353.55,199.19 353.56,199.22 353.56,199.21 353.57,199.19 353.57,199.15 353.57,199.11 353.58,199.06" fill="none" stroke="#ff0000" stroke-width="0.6"/>
<polyline points="350.90,198.97 350.92,199.02 350.94,199.04 350.95,198.97 350.97,198.96 350.99,199.05 351.01,199.03 351.03,198.94 351.05,198.97 351.07,199.07 351.09,199.02 351.11,198.91 351.12,199.00 351.14,199.10 351.16,198.98 351.18,198.89 351.20,199.05 351.22,199.12 351.24,198.92 351.26,198.88 351.28,199.12 351.29,199.12 351.31,198.84 351.33,198.90 351.35,199.20 351.37,199.08 351.39,198.76 351.41,198.96 351.43,199.28 351.45,198.98 351.46,198.68 351.48,199.08 351.50,199.34 351.52,198.84 351.54,198.65 351.56,199.25 351.58,199.35 351.60,198.65 351.62,198.68 351.63,199.45 351.65,199.26 351.67,198.44 351.69,198.82 351.71,199.66 351.73,199.07 351.75,198.26 351.77,199.07 351.79,199.80 351.80,198.76 351.82,198.16 351.84,199.43 351.86,199.83 351.88,198.36 351.90,198.21 351.92,199.85 351.94,199.69 351.95,197.93 351.97,198.46 351.99,200.27 352.01,199.34 352.03,197.55 352.05,198.92 352.07,200.58 352.09,198.78 352.11,197.34 352.12,199.57 352.14,200.68 352.16,198.06 352.18,197.38 352.20,200.33 352.22,200.47 352.24,197.29 352.26,197.76 352.28,201.06 352.29,199.92 352.31,196.63 352.33,198.49 352.35,201.62 352.37,199.03 352.39,196.23 352.41,199.51 352.43,201.83 352.45,197.92 352.46,196.24 352.48,200.68 352.50,201.58 352.52,196.74 352.54,196.74 352.56,201.79 352.58,200.82 352.60,195.74 352.62,197.74 352.63,202.64 352.65,199.60 352.67,195.11 352.69,199.12 352.71,202.99 352.73,198.10 352.75,195.06 352.77,200.68 352.79,202.73 352.80,196.56 352.82,195.64 352.84,202.14 352.86,201.83 352.88,195.25 352.90,196.83 352.92,203.24 352.94,200.40 352.95,194.43 352.97,198.45 352.99,203.73 353.01,198.65 353.03,194.28 353.05,200.25 353.07,203.51 353.09,196.88 353.11,194.87 353.12,201.91 353.14,202.59 353.16,195.41 353.18,196.09 353.20,203.13 353.22,201.12 353.24,194.49 353.26,197.75 353.28,203.72 353.29,199.35 353.31,194.27 353.33,199.55 353.35,203.57 353.37,197.60 353.39,194.76 353.41,201.17 353.43,202.75 353.45,196.17 353.46,195.86 353.48,202.36 353.50,201.44 353.52,195.27 353.54,197.32 353.56,202.94 353.58,199.90 353.60,195.01 353.62,198.88 353.63,202.89 353.65,198.40 353.67,195.36 353.69,200.26 353.71,202.26 353.73,197.18 353.75,196.21 353.77,201.26 353.79,201.26 353.80,196.42 353.82,197.32 353.84,201.76 353.86,200.08 353.88,196.17 353.90,198.49 353.92,201.77 353.94,198.97 353.96,196.38 353.97,199.51 353.99,201.37 354.01,198.08 354.03,196.94 354.05,200.24 354.07,200.71 354.09,197.53 354.11,197.67 354.12,200.62 354.14,199.94 354.16,197.32 354.18,198.43 354.20,200.66 354.22,199.22 354.24,197.42 354.26,199.08 354.28,200.45 354.29,198.66 354.31,197.73 354.33,199.54 354.35,200.07 354.37,198.31 354.39,198.15 354.41,199.79 354.43,199.64 354.45,198.17 354.46,198.57 354.48,199.84 354.50,199.24 354.52,198.20 354.54,198.93 354.56,199.74 354.58,198.93 354.60,198.34 354.62,199.18 354.63,199.56 354.65,198.74 354.67,198.55 354.69,199.32 354.71,199.35 354.73,198.65 354.75,198.75 354.77,199.35 354.79,199.16 354.80,198.66 354.82,198.92 354.84,199.32 354.86,199.02 354.88,198.72 354.90,199.04 354.92,199.24 354.94,198.92 354.96,198.80 354.97,199.10 354.99,199.16 355.01,198.88 355.03,198.88 355.05,199.12 355.07,199.08 355.09,198.88 355.11,198.95 355.13,199.11 355.14,199.02 355.16,198.90 355.18,199.00 355.20,199.09 355.22,198.98 355.24,198.93 355.26,199.03 355.28,199.06 355.29,198.97 355.31,198.95 355.33,199.04 355.35,199.03 355.37,198.96 355.39,198.98 355.41,199.03" fill="none" stroke="#ff0000" stroke-width="0.6"/>
<polyline points="357.42,198.98 357.43,198.97 357.44,198.98 357.44,199.00 357.45,199.02 357.46,199.04 357.47,199.04 357.48,199.01 357.49,198.98 357.49,198.95 357.50,198.94 357.51,198.97 357.52,199.01 357.53,199.06 357.54,199.08 357.54,199.06 357.55,199.00 357.56,198.93 357.57,198.89 357.58,198.90 357.58,198.97 357.59,199.06 357.60,199.14 357.61,199.14 357.62,199.08 357.63,198.96 357.63,198.84 357.64,198.80 357.65,198.86 357.66,199.01 357.67,199.16 357.68,199.25 357.68,199.22 357.69,199.06 357.70,198.85 357.71,198.69 357.72,198.69 357.73,198.85 357.73,199.11 357.74,199.35 357.75,199.42 357.76,199.28 357.77,198.97 357.77,198.64 357.78,198.47 357.79,198.57 357.80,198.91 357.81,199.33 357.82,199.62 357.82,199.61 357.83,199.26 357.84,198.75 357.85,198.32 357.86,198.21 357.87,198.51 357.87,199.11 357.88,199.70 357.89,199.97 357.90,199.75 357.91,199.11 357.92,198.36 357.92,197.89 357.93,197.96 357.94,198.60 357.95,199.49 357.96,200.20 357.96,200.33 357.97,199.76 357.98,198.75 357.99,197.80 358.00,197.42 358.01,197.84 358.01,198.90 358.02,200.09 358.03,200.78 358.04,200.58 358.05,199.54 358.06,198.15 358.06,197.13 358.07,197.03 358.08,197.95 358.09,199.48 358.10,200.83 358.10,201.30 358.11,200.60 358.12,199.02 358.13,197.36 358.14,196.47 358.15,196.86 358.15,198.38 358.16,200.28 358.17,201.60 358.18,201.62 358.19,200.28 358.20,198.23 358.20,196.51 358.21,196.02 358.22,197.05 358.23,199.12 358.24,201.19 358.25,202.19 358.25,201.57 358.26,199.61 358.27,197.29 358.28,195.79 358.29,195.92 358.29,197.63 358.30,200.07 358.31,202.01 358.32,202.44 358.33,201.11 358.34,198.68 358.34,196.39 358.35,195.41 358.36,196.25 358.37,198.50 358.38,201.02 358.39,202.52 358.39,202.23 358.40,200.30 358.41,197.70 358.42,195.77 358.43,195.48 358.44,196.98 358.44,199.50 358.45,201.75 358.46,202.59 358.47,201.61 358.48,199.32 358.48,196.89 358.49,195.56 358.50,195.99 358.51,197.93 358.52,200.37 358.53,202.08 358.53,202.21 358.54,200.71 358.55,198.39 358.56,196.43 358.57,195.81 358.58,196.81 358.58,198.88 358.59,200.95 358.60,201.98 358.61,201.49 358.62,199.77 358.63,197.72 358.63,196.38 358.64,196.40 358.65,197.72 358.66,199.62 358.67,201.14 358.67,201.53 358.68,200.64 358.69,198.98 358.70,197.40 358.71,196.70 358.72,197.17 358.72,198.52 358.73,200.05 358.74,200.97 358.75,200.87 358.76,199.85 358.77,198.46 358.77,197.42 358.78,197.22 358.79,197.91 358.80,199.10 358.81,200.16 358.81,200.58 358.82,200.20 358.83,199.25 358.84,198.24 358.85,197.67 358.86,197.80 358.86,198.51 358.87,199.40 358.88,200.04 358.89,200.11 358.90,199.64 358.91,198.89 358.91,198.25 358.92,198.03 358.93,198.30 358.94,198.89 358.95,199.49 358.96,199.79 358.96,199.68 358.97,199.25 358.98,198.74 358.99,198.39 359.00,198.38 359.00,198.67 359.01,199.09 359.02,199.43 359.03,199.53 359.04,199.36 359.05,199.03 359.05,198.72 359.06,198.58 359.07,198.65 359.08,198.89 359.09,199.15 359.10,199.31 359.10,199.31 359.11,199.15 359.12,198.94 359.13,198.78 359.14,198.75 359.15,198.84 359.15,198.99 359.16,199.14 359.17,199.20 359.18,199.16 359.19,199.04 359.19,198.92 359.20,198.86 359.21,198.86 359.22,198.94 359.23,199.03 359.24,199.10 359.24,199.11 359.25,199.07 359.26,199.00 359.27,198.94 359.28,198.92 359.29,198.94 359.29,198.99 359.30,199.03 359.31,199.06 359.32,199.05 359.33,199.02 359.34,198.99 359.34,198.96 359.35,198.96 359.36,198.98 359.37,199.00 359.38,199.02 359.38,199.03 359.39,199.02" fill="none" stroke="#ff0000" stroke-width="0.6"/>
<polyline points="424.65,199.13 424.66,199.08 424.66,199.01 424.66,198.93 424.67,198.84 424.67,198.77 424.68,198.71 424.68,198.70 424.69,198.73 424.69,198.80 424.69,198.92 424.70,199.07 424.70,199.24 424.71,199.39 424.71,199.50 424.72,199.56 424.72,199.53 424.72,199.42 424.73,199.23 424.73,198.98 424.74,198.68 424.74,198.40 424.75,198.17 424.75,198.03 424.75,198.02 424.76,198.16 424.76,198.45 424.77,198.86 424.77,199.35 424.78,199.85 424.78,200.28 424.78,200.57 424.79,200.67 424.79,200.52 424.80,200.12 424.80,199.51 424.80,198.74 424.81,197.92 424.81,197.17 424.82,196.60 424.82,196.33 424.83,196.43 424.83,196.93 424.83,197.79 424.84,198.93 424.84,200.20 424.85,201.43 424.85,202.42 424.86,203.00 424.86,203.05 424.86,202.51 424.87,201.38 424.87,199.80 424.88,197.94 424.88,196.07 424.89,194.45 424.89,193.36 424.89,193.00 424.90,193.50 424.90,194.85 424.91,196.92 424.91,199.47 424.92,202.17 424.92,204.62 424.92,206.44 424.93,207.31 424.93,207.04 424.94,205.58 424.94,203.04 424.94,199.74 424.95,196.09 424.95,192.61 424.96,189.83 424.96,188.19 424.97,188.01 424.97,189.41 424.97,192.28 424.98,196.30 424.98,200.95 424.99,205.59 424.99,209.54 425.00,212.18 425.00,213.08 425.00,211.99 425.01,208.99 425.01,204.41 425.02,198.83 425.02,193.01 425.03,187.79 425.03,183.95 425.03,182.09 425.04,182.57 425.04,185.41 425.05,190.29 425.05,196.59 425.06,203.46 425.06,209.92 425.06,215.04 425.07,218.05 425.07,218.44 425.08,216.09 425.08,211.26 425.09,204.58 425.09,196.94 425.09,189.43 425.10,183.10 425.10,178.89 425.11,177.43 425.11,178.98 425.11,183.38 425.12,190.03 425.12,198.02 425.13,206.25 425.13,213.54 425.14,218.86 425.14,221.44 425.14,220.90 425.15,217.29 425.15,211.12 425.16,203.24 425.16,194.76 425.17,186.88 425.17,180.71 425.17,177.10 425.18,176.56 425.18,179.14 425.19,184.46 425.19,191.75 425.20,199.98 425.20,207.97 425.20,214.62 425.21,219.02 425.21,220.57 425.22,219.11 425.22,214.90 425.23,208.57 425.23,201.06 425.23,193.42 425.24,186.74 425.24,181.91 425.25,179.56 425.25,179.95 425.25,182.96 425.26,188.08 425.26,194.54 425.27,201.41 425.27,207.71 425.28,212.59 425.28,215.43 425.28,215.91 425.29,214.05 425.29,210.21 425.30,204.99 425.30,199.17 425.31,193.59 425.31,189.01 425.31,186.01 425.32,184.92 425.32,185.82 425.33,188.46 425.33,192.41 425.34,197.05 425.34,201.70 425.34,205.72 425.35,208.59 425.35,209.99 425.36,209.81 425.36,208.17 425.37,205.39 425.37,201.91 425.37,198.26 425.38,194.96 425.38,192.42 425.39,190.96 425.39,190.69 425.40,191.56 425.40,193.38 425.40,195.83 425.41,198.53 425.41,201.08 425.42,203.15 425.42,204.50 425.42,205.00 425.43,204.64 425.43,203.55 425.44,201.93 425.44,200.06 425.45,198.20 425.45,196.62 425.45,195.49 425.46,194.95 425.46,195.00 425.47,195.58 425.47,196.57 425.48,197.80 425.48,199.07 425.48,200.21 425.49,201.07 425.49,201.57 425.50,201.67 425.50,201.40 425.51,200.83 425.51,200.08 425.51,199.26 425.52,198.49 425.52,197.88 425.53,197.48 425.53,197.33 425.54,197.43 425.54,197.72 425.54,198.15 425.55,198.65 425.55,199.14 425.56,199.55 425.56,199.84 425.56,199.98 425.57,199.97 425.57,199.83 425.58,199.60 425.58,199.32 425.59,199.02 425.59,198.77 425.59,198.58 425.60,198.47 425.60,198.44 425.61,198.50 425.61,198.61 425.62,198.76 425.62,198.93 425.62,199.08 425.63,199.20 425.63,199.27 425.64,199.30 425.64,199.29 425.65,199.23 425.65,199.16 425.65,199.07 425.66,198.99 425.66,198.92 425.67,198.87" fill="none" stroke="#ff0000" stroke-width="0.6"/>
<polyline points="423.75,198.95 423.76,198.96 423.77,199.01 423.79,199.06 423.80,199.05 423.81,198.99 423.82,198.93 423.83,198.94 423.84,199.01 423.86,199.09 423.87,199.08 423.88,198.98 423.89,198.89 423.90,198.90 423.92,199.02 423.93,199.14 423.94,199.13 423.95,198.98 423.96,198.83 423.97,198.84 423.99,199.02 424.00,199.20 424.01,199.20 424.02,198.98 424.03,198.75 424.04,198.75 424.06,199.02 424.07,199.30 424.08,199.30 424.09,198.99 424.10,198.65 424.12,198.63 424.13,199.01 424.14,199.42 424.15,199.44 424.16,199.00 424.17,198.51 424.19,198.47 424.20,198.98 424.21,199.57 424.22,199.63 424.23,199.03 424.25,198.33 424.26,198.26 424.27,198.95 424.28,199.77 424.29,199.88 424.30,199.08 424.32,198.12 424.33,197.98 424.34,198.89 424.35,200.00 424.36,200.19 424.38,199.16 424.39,197.87 424.40,197.63 424.41,198.79 424.42,200.27 424.43,200.57 424.45,199.27 424.46,197.58 424.47,197.22 424.48,198.66 424.49,200.57 424.50,201.01 424.52,199.42 424.53,197.27 424.54,196.74 424.55,198.49 424.56,200.89 424.58,201.52 424.59,199.61 424.60,196.95 424.61,196.20 424.62,198.27 424.63,201.22 424.65,202.08 424.66,199.85 424.67,196.62 424.68,195.63 424.69,198.01 424.71,201.53 424.72,202.67 424.73,200.14 424.74,196.33 424.75,195.04 424.76,197.70 424.78,201.81 424.79,203.25 424.80,200.46 424.81,196.07 424.82,194.46 424.84,197.37 424.85,202.03 424.86,203.81 424.87,200.81 424.88,195.88 424.89,193.94 424.91,197.02 424.92,202.18 424.93,204.29 424.94,201.15 424.95,195.77 424.96,193.50 424.98,196.68 424.99,202.25 425.00,204.68 425.01,201.49 425.02,195.75 425.04,193.17 425.05,196.36 425.06,202.22 425.07,204.95 425.08,201.78 425.09,195.82 425.11,192.98 425.12,196.09 425.13,202.11 425.14,205.06 425.15,202.02 425.17,195.98 425.18,192.94 425.19,195.89 425.20,201.91 425.21,205.02 425.22,202.18 425.24,196.22 425.25,193.05 425.26,195.78 425.27,201.64 425.28,204.83 425.30,202.25 425.31,196.51 425.32,193.32 425.33,195.75 425.34,201.32 425.35,204.50 425.37,202.23 425.38,196.85 425.39,193.71 425.40,195.82 425.41,200.98 425.42,204.06 425.44,202.12 425.45,197.19 425.46,194.19 425.47,195.97 425.48,200.63 425.50,203.54 425.51,201.93 425.52,197.54 425.53,194.75 425.54,196.19 425.55,200.30 425.57,202.96 425.58,201.67 425.59,197.86 425.60,195.33 425.61,196.47 425.63,199.99 425.64,202.37 425.65,201.38 425.66,198.15 425.67,195.92 425.68,196.78 425.70,199.73 425.71,201.80 425.72,201.05 425.73,198.39 425.74,196.48 425.75,197.11 425.77,199.51 425.78,201.26 425.79,200.73 425.80,198.58 425.81,196.99 425.83,197.43 425.84,199.34 425.85,200.78 425.86,200.42 425.87,198.73 425.88,197.43 425.90,197.73 425.91,199.21 425.92,200.37 425.93,200.13 425.94,198.84 425.96,197.81 425.97,198.00 425.98,199.11 425.99,200.02 426.00,199.88 426.01,198.92 426.03,198.12 426.04,198.23 426.05,199.05 426.06,199.74 426.07,199.67 426.09,198.97 426.10,198.37 426.11,198.43 426.12,199.02 426.13,199.53 426.14,199.49 426.16,199.00 426.17,198.56 426.18,198.58 426.19,198.99 426.20,199.37 426.21,199.35 426.23,199.01 426.24,198.70 426.25,198.70 426.26,198.98 426.27,199.25 426.29,199.25 426.30,199.02 426.31,198.80 426.32,198.80 426.33,198.98 426.34,199.16 426.36,199.17 426.37,199.02 426.38,198.87 426.39,198.86 426.40,198.98 426.42,199.10 426.43,199.11 426.44,199.02 426.45,198.92 426.46,198.91 426.47,198.99 426.49,199.06 426.50,199.07 426.51,199.01 426.52,198.95 426.53,198.94 426.55,198.99 426.56,199.04 426.57,199.05" fill="none" stroke="#ff0000" stroke-width="0.6"/>
<line x1="44.5" y1="152.95" x2="44.5" y2="245.05" stroke="#505050" stroke-width="1.1"/>
<line x1="454.5" y1="152.95" x2="454.5" y2="245.05" stroke="#505050" stroke-width="1.1"/>
<line x1="44.5" y1="153.5" x2="454.5" y2="153.5" stroke="#505050" stroke-width="1.1"/>
<line x1="44.5" y1="244.5" x2="454.5" y2="244.5" stroke="#505050" stroke-width="1.1"/>
<line x1="44.50" y1="244.5" x2="44.50" y2="241.5" stroke="#585858" stroke-width="0.8"/>
<line x1="44.50" y1="153.5" x2="44.50" y2="156.5" stroke="#585858" stroke-width="0.8"/>
<text x="45.80" y="260.00" text-anchor="middle" style="font-family:'Liberation Sans',Arial,sans-serif;font-size:10.2px" fill="#111">0</text>
<line x1="108.56" y1="244.5" x2="108.56" y2="241.5" stroke="#585858" stroke-width="0.8"/>
<line x1="108.56" y1="153.5" x2="108.56" y2="156.5" stroke="#585858" stroke-width="0.8"/>
<text x="109.86" y="260.00" text-anchor="middle" style="font-family:'Liberation Sans',Arial,sans-serif;font-size:10.2px" fill="#111">5</text>
<line x1="172.62" y1="244.5" x2="172.62" y2="241.5" stroke="#585858" stroke-width="0.8"/>
<line x1="172.62" y1="153.5" x2="172.62" y2="156.5" stroke="#585858" stroke-width="0.8"/>
<text x="173.93" y="260.00" text-anchor="middle" style="font-family:'Liberation Sans',Arial,sans-serif;font-size:10.2px" fill="#111">10</text>
<line x1="236.69" y1="244.5" x2="236.69" y2="241.5" stroke="#585858" stroke-width="0.8"/>
<line x1="236.69" y1="153.5" x2="236.69" y2="156.5" stroke="#585858" stroke-width="0.8"/>
<text x="237.99" y="260.00" text-anchor="middle" style="font-family:'Liberation Sans',Arial,sans-serif;font-size:10.2px" fill="#111">15</text>
<line x1="300.75" y1="244.5" x2="300.75" y2="241.5" stroke="#585858" stroke-width="0.8"/>
<line x1="300.75" y1="153.5" x2="300.75" y2="156.5" stroke="#585858" stroke-width="0.8"/>
<text x="302.05" y="260.00" text-anchor="middle" style="font-family:'Liberation Sans',Arial,sans-serif;font-size:10.2px" fill="#111">20</text>
<line x1="364.81" y1="244.5" x2="364.81" y2="241.5" stroke="#585858" stroke-width="0.8"/>
<line x1="364.81" y1="153.5" x2="364.81" y2="156.5" stroke="#585858" stroke-width="0.8"/>
<text x="366.11" y="260.00" text-anchor="middle" style="font-family:'Liberation Sans',Arial,sans-serif;font-size:10.2px" fill="#111">25</text>
<line x1="428.88" y1="244.5" x2="428.88" y2="241.5" stroke="#585858" stroke-width="0.8"/>
<line x1="428.88" y1="153.5" x2="428.88" y2="156.5" stroke="#585858" stroke-width="0.8"/>
<text x="430.18" y="260.00" text-anchor="middle" style="font-family:'Liberation Sans',Arial,sans-serif;font-size:10.2px" fill="#111">30</text>
<line x1="44.5" y1="244.50" x2="47.5" y2="244.50" stroke="#585858" stroke-width="0.8"/>
<line x1="454.5" y1="244.50" x2="451.5" y2="244.50" stroke="#585858" stroke-width="0.8"/>
<text x="38.0" y="247.50" text-anchor="end" style="font-family:'Liberation Sans',Arial,sans-serif;font-size:10.2px" fill="#111">-15</text>
<line x1="44.5" y1="229.33" x2="47.5" y2="229.33" stroke="#585858" stroke-width="0.8"/>
<line x1="454.5" y1="229.33" x2="451.5" y2="229.33" stroke="#585858" stroke-width="0.8"/>
<text x="38.0" y="232.33" text-anchor="end" style="font-family:'Liberation Sans',Arial,sans-serif;font-size:10.2px" fill="#111">-10</text>
<line x1="44.5" y1="214.17" x2="47.5" y2="214.17" stroke="#585858" stroke-width="0.8"/>
<line x1="454.5" y1="214.17" x2="451.5" y2="214.17" stroke="#585858" stroke-width="0.8"/>
<text x="38.0" y="217.17" text-anchor="end" style="font-family:'Liberation Sans',Arial,sans-serif;font-size:10.2px" fill="#111">-5</text>
<line x1="44.5" y1="199.00" x2="47.5" y2="199.00" stroke="#585858" stroke-width="0.8"/>
<line x1="454.5" y1="199.00" x2="451.5" y2="199.00" stroke="#585858" stroke-width="0.8"/>
<text x="38.0" y="202.00" text-anchor="end" style="font-family:'Liberation Sans',Arial,sans-serif;font-size:10.2px" fill="#111">0</text>
<line x1="44.5" y1="183.83" x2="47.5" y2="183.83" stroke="#585858" stroke-width="0.8"/>
<line x1="454.5" y1="183.83" x2="451.5" y2="183.83" stroke="#585858" stroke-width="0.8"/>
<text x="38.0" y="186.83" text-anchor="end" style="font-family:'Liberation Sans',Arial,sans-serif;font-size:10.2px" fill="#111">5</text>
<line x1="44.5" y1="168.67" x2="47.5" y2="168.67" stroke="#585858" stroke-width="0.8"/>
<line x1="454.5" y1="168.67" x2="451.5" y2="168.67" stroke="#585858" stroke-width="0.8"/>
<text x="38.0" y="171.67" text-anchor="end" style="font-family:'Liberation Sans',Arial,sans-serif;font-size:10.2px" fill="#111">10</text>
<line x1="44.5" y1="153.50" x2="47.5" y2="153.50" stroke="#585858" stroke-width="0.8"/>
<line x1="454.5" y1="153.50" x2="451.5" y2="153.50" stroke="#585858" stroke-width="0.8"/>
<text x="38.0" y="156.50" text-anchor="end" style="font-family:'Liberation Sans',Arial,sans-serif;font-size:10.2px" fill="#111">15</text>
<text transform="translate(12.0,199.00) rotate(-90) scale(1.07,1)" text-anchor="middle" style="font-family:'Liberation Sans',Arial,sans-serif;font-size:10.2px" fill="#111">h(t)</text>
<text x="249.2" y="278.00" text-anchor="middle" style="font-family:'Liberation Sans',Arial,sans-serif;font-size:10.4px" fill="#111">t (seconds)</text>
<text x="252.8" y="297.8" text-anchor="middle" style="font-family:'Liberation Serif',serif;font-weight:bold;font-size:16.5px" fill="#111">(a)</text>
<line x1="55.5" y1="412.95" x2="450.0" y2="412.95" stroke="#cdcdcd" stroke-width="1.1"/>
<line x1="55.5" y1="434.94" x2="450.0" y2="434.94" stroke="#cdcdcd" stroke-width="1.1"/>
<polyline points="55.25,411.49 57.24,432.01 59.22,416.62 61.21,460.60 63.19,496.52 65.17,485.16 67.16,434.94 69.14,390.60 71.13,400.13 73.11,438.61 75.09,338.19 77.08,412.95 79.06,453.64 81.05,434.94 83.03,463.90 85.01,450.70 87.00,405.62 88.98,431.28 90.97,378.87 92.95,392.43 94.93,434.94 96.92,405.62 98.90,445.94 100.89,498.72 102.87,407.46 104.85,456.57 106.84,409.29 108.82,338.56 110.81,366.41 112.79,374.84 114.77,411.12 116.76,429.45 118.74,433.85 120.73,478.92 122.71,526.94 124.69,402.33 126.68,431.28 128.66,448.51 130.65,337.82 132.63,359.81 134.61,386.57 136.60,416.62 138.58,452.54 140.57,441.18 142.55,460.60 144.53,486.25 146.52,382.54 148.50,386.57 150.49,441.18 152.47,370.44 154.45,423.95 156.44,449.60 158.42,444.11 160.41,458.40 162.39,411.12 164.37,410.76 166.36,387.30 168.34,356.88 170.33,375.21 172.31,441.18 174.29,381.80 176.28,453.27 178.26,525.47 180.25,452.54 182.23,438.61 184.21,416.62 186.20,396.10 188.18,382.90 190.17,333.06 192.15,405.62 194.13,448.87 196.12,415.15 198.10,467.93 200.09,526.57 202.07,453.27 204.05,423.95 206.04,416.62 208.02,389.50 210.01,409.29 211.99,377.04 213.97,423.95 215.96,467.56 217.94,431.28 219.93,412.22 221.91,482.22 223.89,375.94 225.88,381.80 227.86,405.62 229.85,383.63 231.83,416.62 233.81,438.61 235.80,460.60 237.78,481.49 239.77,442.27 241.75,415.52 243.73,444.84 245.72,338.56 247.70,344.42 249.69,417.72 251.67,403.79 253.65,414.42 255.64,475.63 257.62,480.76 259.61,485.16 261.59,442.27 263.57,405.26 265.56,431.28 267.54,363.48 269.53,355.05 271.51,441.91 273.49,429.45 275.48,449.60 277.46,467.93 279.45,429.45 281.43,441.91 283.41,390.60 285.40,387.67 287.38,423.95 289.37,401.96 291.35,442.27 293.33,475.63 295.32,466.10 297.30,442.27 299.29,466.10 301.27,392.80 303.25,379.97 305.24,377.04 307.22,394.63 309.21,409.29 311.19,426.15 313.17,449.97 315.16,511.18 317.14,442.27 319.13,407.82 321.11,453.64 323.09,423.95 325.08,357.98 327.06,387.30 329.05,412.95 331.03,434.58 333.01,436.04 335.00,460.60 336.98,493.58 338.97,423.95 340.95,389.87 342.93,423.95 344.92,409.29 346.90,385.10 348.89,427.62 350.87,442.27 352.85,448.87 354.84,450.70 356.82,415.15 358.81,443.74 360.79,392.43 362.77,375.21 364.76,398.30 366.74,419.92 368.73,410.39 370.71,477.46 372.69,456.94 374.68,437.14 376.66,457.67 378.65,415.15 380.63,415.15 382.61,358.35 384.60,371.17 386.58,394.63 388.57,433.48 390.55,403.79 392.53,477.09 394.52,477.83 396.50,427.62 398.49,416.62 400.47,410.76 402.45,411.86 404.44,382.90 406.42,395.73 408.41,447.04 410.39,458.77 412.37,412.22 414.36,454.00 416.34,445.57 418.33,400.49 420.31,392.80 422.29,408.56 424.28,409.29 426.26,433.11 428.25,442.27 430.23,458.77 432.21,466.10 434.20,420.28 436.18,442.27 438.17,416.62 440.15,375.94 442.13,380.70 444.12,416.99 446.10,400.49 448.09,431.28 450.07,461.33" fill="none" stroke="#ff0000" stroke-width="1.5" stroke-linejoin="round"/>
<polyline points="55.25,422.26 57.24,426.41 59.22,430.55 61.21,423.22 63.19,421.20 65.17,419.19 67.16,427.25 69.14,421.75 71.13,426.15 73.11,430.55 75.09,429.81 77.08,422.85 79.06,415.89 81.05,422.85 83.03,421.02 85.01,419.19 87.00,425.42 88.98,426.70 90.97,427.98 92.95,427.98 94.93,426.06 96.92,424.13 98.90,424.68 100.89,421.20 102.87,417.72 104.85,426.88 106.84,417.72 108.82,426.88 110.81,425.05 112.79,429.81 114.77,422.12 116.76,420.28 118.74,420.28 120.73,420.28 122.71,417.72 124.69,424.13 126.68,420.28 128.66,423.22 130.65,426.15 132.63,423.22 134.61,427.25 136.60,426.70 138.58,426.15 140.57,428.71 142.55,431.28 144.53,422.12 146.52,423.58 148.50,421.75 150.49,424.32 152.47,426.88 154.45,414.05 156.44,420.47 158.42,426.88 160.41,415.15 162.39,423.22 164.37,431.28 166.36,417.35 168.34,434.21 170.33,422.85 172.31,419.37 174.29,415.89 176.28,422.85 178.26,419.92 180.25,421.75 182.23,418.45 184.21,425.05 186.20,421.02 188.18,422.85 190.17,421.75 192.15,425.42 194.13,424.50 196.12,423.58 198.10,430.55 200.09,430.18 202.07,420.28 204.05,425.78 206.04,425.78 208.02,423.58 210.01,427.25 211.99,424.32 213.97,421.38 215.96,421.75 217.94,423.40 219.93,425.05 221.91,424.32 223.89,403.79 225.88,429.45 227.86,425.23 229.85,423.83 231.83,422.42 233.81,421.02 235.80,426.15 237.78,425.60 239.77,425.05 241.75,428.71 243.73,422.48 245.72,425.78 247.70,418.45 249.69,420.28 251.67,426.88 253.65,427.80 255.64,428.71 257.62,418.45 259.61,425.05 261.59,425.78 263.57,424.13 265.56,422.48 267.54,425.78 269.53,419.92 271.51,421.20 273.49,422.48 275.48,421.02 277.46,419.74 279.45,418.45 281.43,424.68 283.41,420.28 285.40,423.09 287.38,425.90 289.37,428.71 291.35,419.19 293.33,421.75 295.32,424.32 297.30,420.28 299.29,425.78 301.27,425.97 303.25,426.15 305.24,422.48 307.22,425.05 309.21,423.40 311.19,421.75 313.17,421.38 315.16,421.02 317.14,421.38 319.13,421.75 321.11,422.48 323.09,418.45 325.08,421.87 327.06,425.29 329.05,428.71 331.03,425.78 333.01,426.88 335.00,422.48 336.98,424.32 338.97,426.15 340.95,425.23 342.93,424.32 344.92,419.92 346.90,422.48 348.89,423.95 350.87,426.70 352.85,429.45 354.84,421.75 356.82,421.02 358.81,432.01 360.79,420.65 362.77,422.67 364.76,424.68 366.74,426.52 368.73,425.42 370.71,424.32 372.69,424.32 374.68,424.32 376.66,425.42 378.65,423.83 380.63,422.24 382.61,420.65 384.60,424.68 386.58,421.02 388.57,425.78 390.55,423.22 392.53,418.82 394.52,423.22 396.50,418.45 398.49,425.78 400.47,423.77 402.45,421.75 404.44,424.50 406.42,427.25 408.41,422.48 410.39,422.48 412.37,419.92 414.36,417.35 416.34,419.19 418.33,424.13 420.31,429.08 422.29,423.22 424.28,426.52 426.26,417.35 428.25,421.75 430.23,422.67 432.21,423.58 434.20,414.05 436.18,430.55 438.17,422.48 440.15,421.20 442.13,419.92 444.12,422.48 446.10,424.50 448.09,426.52 450.07,421.02" fill="none" stroke="#1a80ff" stroke-width="1.5" stroke-linejoin="round"/>
<line x1="55.5" y1="313.25" x2="55.5" y2="534.65" stroke="#404040" stroke-width="1.5"/>
<line x1="450.0" y1="313.35" x2="450.0" y2="534.55" stroke="#555" stroke-width="1.3"/>
<line x1="55.5" y1="314.0" x2="450.0" y2="314.0" stroke="#686868" stroke-width="1.3"/>
<line x1="55.5" y1="533.9" x2="450.0" y2="533.9" stroke="#555" stroke-width="1.3"/>
<line x1="92.95" y1="533.9" x2="92.95" y2="530.4" stroke="#585858" stroke-width="0.8"/>
<line x1="92.95" y1="314.0" x2="92.95" y2="317.5" stroke="#585858" stroke-width="0.8"/>
<text x="94.75" y="552.90" text-anchor="middle" style="font-family:'Liberation Sans',Arial,sans-serif;font-size:13.3px" fill="#000" stroke="#000" stroke-width="0.3">20</text>
<line x1="132.63" y1="533.9" x2="132.63" y2="530.4" stroke="#585858" stroke-width="0.8"/>
<line x1="132.63" y1="314.0" x2="132.63" y2="317.5" stroke="#585858" stroke-width="0.8"/>
<text x="134.43" y="552.90" text-anchor="middle" style="font-family:'Liberation Sans',Arial,sans-serif;font-size:13.3px" fill="#000" stroke="#000" stroke-width="0.3">40</text>
<line x1="172.31" y1="533.9" x2="172.31" y2="530.4" stroke="#585858" stroke-width="0.8"/>
<line x1="172.31" y1="314.0" x2="172.31" y2="317.5" stroke="#585858" stroke-width="0.8"/>
<text x="174.11" y="552.90" text-anchor="middle" style="font-family:'Liberation Sans',Arial,sans-serif;font-size:13.3px" fill="#000" stroke="#000" stroke-width="0.3">60</text>
<line x1="211.99" y1="533.9" x2="211.99" y2="530.4" stroke="#585858" stroke-width="0.8"/>
<line x1="211.99" y1="314.0" x2="211.99" y2="317.5" stroke="#585858" stroke-width="0.8"/>
<text x="213.79" y="552.90" text-anchor="middle" style="font-family:'Liberation Sans',Arial,sans-serif;font-size:13.3px" fill="#000" stroke="#000" stroke-width="0.3">80</text>
<line x1="251.67" y1="533.9" x2="251.67" y2="530.4" stroke="#585858" stroke-width="0.8"/>
<line x1="251.67" y1="314.0" x2="251.67" y2="317.5" stroke="#585858" stroke-width="0.8"/>
<text x="253.47" y="552.90" text-anchor="middle" style="font-family:'Liberation Sans',Arial,sans-serif;font-size:13.3px" fill="#000" stroke="#000" stroke-width="0.3">100</text>
<line x1="291.35" y1="533.9" x2="291.35" y2="530.4" stroke="#585858" stroke-width="0.8"/>
<line x1="291.35" y1="314.0" x2="291.35" y2="317.5" stroke="#585858" stroke-width="0.8"/>
<text x="293.15" y="552.90" text-anchor="middle" style="font-family:'Liberation Sans',Arial,sans-serif;font-size:13.3px" fill="#000" stroke="#000" stroke-width="0.3">120</text>
<line x1="331.03" y1="533.9" x2="331.03" y2="530.4" stroke="#585858" stroke-width="0.8"/>
<line x1="331.03" y1="314.0" x2="331.03" y2="317.5" stroke="#585858" stroke-width="0.8"/>
<text x="332.83" y="552.90" text-anchor="middle" style="font-family:'Liberation Sans',Arial,sans-serif;font-size:13.3px" fill="#000" stroke="#000" stroke-width="0.3">140</text>
<line x1="370.71" y1="533.9" x2="370.71" y2="530.4" stroke="#585858" stroke-width="0.8"/>
<line x1="370.71" y1="314.0" x2="370.71" y2="317.5" stroke="#585858" stroke-width="0.8"/>
<text x="372.51" y="552.90" text-anchor="middle" style="font-family:'Liberation Sans',Arial,sans-serif;font-size:13.3px" fill="#000" stroke="#000" stroke-width="0.3">160</text>
<line x1="410.39" y1="533.9" x2="410.39" y2="530.4" stroke="#585858" stroke-width="0.8"/>
<line x1="410.39" y1="314.0" x2="410.39" y2="317.5" stroke="#585858" stroke-width="0.8"/>
<text x="412.19" y="552.90" text-anchor="middle" style="font-family:'Liberation Sans',Arial,sans-serif;font-size:13.3px" fill="#000" stroke="#000" stroke-width="0.3">180</text>
<line x1="450.07" y1="533.9" x2="450.07" y2="530.4" stroke="#585858" stroke-width="0.8"/>
<line x1="450.07" y1="314.0" x2="450.07" y2="317.5" stroke="#585858" stroke-width="0.8"/>
<text x="451.87" y="552.90" text-anchor="middle" style="font-family:'Liberation Sans',Arial,sans-serif;font-size:13.3px" fill="#000" stroke="#000" stroke-width="0.3">200</text>
<line x1="55.5" y1="533.90" x2="59.0" y2="533.90" stroke="#585858" stroke-width="0.8"/>
<line x1="450.0" y1="533.90" x2="446.5" y2="533.90" stroke="#585858" stroke-width="0.8"/>
<text x="48.0" y="537.80" text-anchor="end" style="font-family:'Liberation Sans',Arial,sans-serif;font-size:13.3px" fill="#000" stroke="#000" stroke-width="0.3">-30</text>
<line x1="55.5" y1="497.25" x2="59.0" y2="497.25" stroke="#585858" stroke-width="0.8"/>
<line x1="450.0" y1="497.25" x2="446.5" y2="497.25" stroke="#585858" stroke-width="0.8"/>
<text x="48.0" y="501.15" text-anchor="end" style="font-family:'Liberation Sans',Arial,sans-serif;font-size:13.3px" fill="#000" stroke="#000" stroke-width="0.3">-20</text>
<line x1="55.5" y1="460.60" x2="59.0" y2="460.60" stroke="#585858" stroke-width="0.8"/>
<line x1="450.0" y1="460.60" x2="446.5" y2="460.60" stroke="#585858" stroke-width="0.8"/>
<text x="48.0" y="464.50" text-anchor="end" style="font-family:'Liberation Sans',Arial,sans-serif;font-size:13.3px" fill="#000" stroke="#000" stroke-width="0.3">-10</text>
<line x1="55.5" y1="423.95" x2="59.0" y2="423.95" stroke="#585858" stroke-width="0.8"/>
<line x1="450.0" y1="423.95" x2="446.5" y2="423.95" stroke="#585858" stroke-width="0.8"/>
<text x="48.0" y="427.85" text-anchor="end" style="font-family:'Liberation Sans',Arial,sans-serif;font-size:13.3px" fill="#000" stroke="#000" stroke-width="0.3">0</text>
<line x1="55.5" y1="387.30" x2="59.0" y2="387.30" stroke="#585858" stroke-width="0.8"/>
<line x1="450.0" y1="387.30" x2="446.5" y2="387.30" stroke="#585858" stroke-width="0.8"/>
<text x="48.0" y="391.20" text-anchor="end" style="font-family:'Liberation Sans',Arial,sans-serif;font-size:13.3px" fill="#000" stroke="#000" stroke-width="0.3">10</text>
<line x1="55.5" y1="350.65" x2="59.0" y2="350.65" stroke="#585858" stroke-width="0.8"/>
<line x1="450.0" y1="350.65" x2="446.5" y2="350.65" stroke="#585858" stroke-width="0.8"/>
<text x="48.0" y="354.55" text-anchor="end" style="font-family:'Liberation Sans',Arial,sans-serif;font-size:13.3px" fill="#000" stroke="#000" stroke-width="0.3">20</text>
<line x1="55.5" y1="314.00" x2="59.0" y2="314.00" stroke="#585858" stroke-width="0.8"/>
<line x1="450.0" y1="314.00" x2="446.5" y2="314.00" stroke="#585858" stroke-width="0.8"/>
<text x="48.0" y="317.90" text-anchor="end" style="font-family:'Liberation Sans',Arial,sans-serif;font-size:13.3px" fill="#000" stroke="#000" stroke-width="0.3">30</text>
<text transform="translate(15.2,423.95) rotate(-90)" text-anchor="middle" style="font-family:'Liberation Sans',Arial,sans-serif;font-size:14px" fill="#000" stroke="#000" stroke-width="0.3">C</text>
<text x="252.8" y="575.3" text-anchor="middle" style="font-family:'Liberation Sans',Arial,sans-serif;font-size:12.8px" fill="#000" stroke="#000" stroke-width="0.25">lag</text>
<text x="254.8" y="596.3" text-anchor="middle" style="font-family:'Liberation Serif',serif;font-weight:bold;font-size:16.6px" fill="#111">(b)</text>
<text x="395.6" y="329.2" text-anchor="end" style="font-family:'Liberation Sans',Arial,sans-serif;font-size:13.2px" fill="#000">glitch non-stationary</text>
<text x="395.6" y="344.5" text-anchor="end" style="font-family:'Liberation Sans',Arial,sans-serif;font-size:13.2px" fill="#000">stationary</text>
<line x1="402.5" y1="325" x2="435.5" y2="325" stroke="#ff0000" stroke-width="1.3"/>
<line x1="402.5" y1="340.3" x2="435.5" y2="340.3" stroke="#1a80ff" stroke-width="1.3"/></svg>
</body></html>
